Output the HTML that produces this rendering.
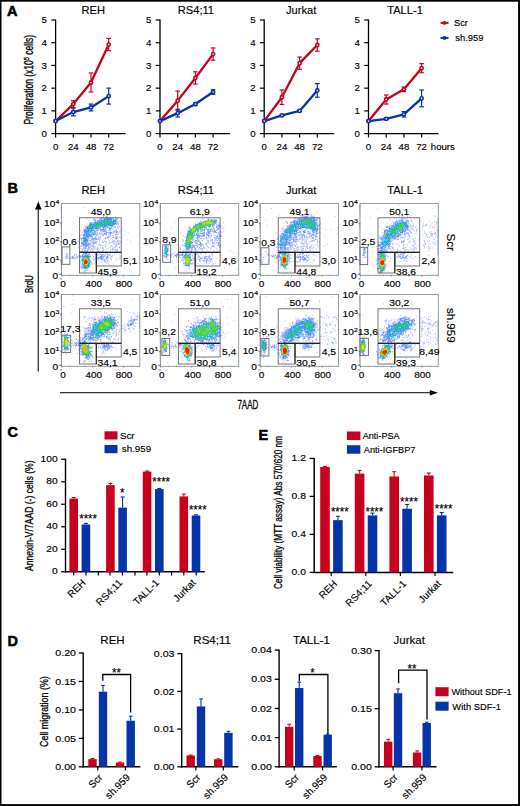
<!DOCTYPE html>
<html><head><meta charset="utf-8"><style>
html,body{margin:0;padding:0;background:#fff;}
body{width:520px;height:806px;overflow:hidden;}
svg{display:block;font-family:"Liberation Sans",sans-serif;}
text{stroke:#000;stroke-width:0.15px;}
</style></head><body>
<svg width="520" height="806" viewBox="0 0 520 806">
<rect x="0" y="0" width="520" height="806" fill="#fff"/>
<text transform="translate(7.00,15.70)" font-size="14.5" font-weight="bold" style="stroke-width:0.55px">A</text>
<text transform="translate(93.30,14.30) scale(0.960,1)" font-size="11.6" text-anchor="middle">REH</text>
<line x1="55.60" y1="19.60" x2="55.60" y2="134.20" stroke="#000" stroke-width="1.3"/>
<line x1="55.00" y1="133.60" x2="125.60" y2="133.60" stroke="#000" stroke-width="1.3"/>
<line x1="51.30" y1="133.60" x2="55.60" y2="133.60" stroke="#000" stroke-width="1.2"/>
<text transform="translate(47.00,136.90) scale(1.050,1)" font-size="9.2" text-anchor="end">0</text>
<line x1="51.30" y1="110.88" x2="55.60" y2="110.88" stroke="#000" stroke-width="1.2"/>
<text transform="translate(47.00,114.18) scale(1.050,1)" font-size="9.2" text-anchor="end">1</text>
<line x1="51.30" y1="88.16" x2="55.60" y2="88.16" stroke="#000" stroke-width="1.2"/>
<text transform="translate(47.00,91.46) scale(1.050,1)" font-size="9.2" text-anchor="end">2</text>
<line x1="51.30" y1="65.44" x2="55.60" y2="65.44" stroke="#000" stroke-width="1.2"/>
<text transform="translate(47.00,68.74) scale(1.050,1)" font-size="9.2" text-anchor="end">3</text>
<line x1="51.30" y1="42.72" x2="55.60" y2="42.72" stroke="#000" stroke-width="1.2"/>
<text transform="translate(47.00,46.02) scale(1.050,1)" font-size="9.2" text-anchor="end">4</text>
<line x1="51.30" y1="20.00" x2="55.60" y2="20.00" stroke="#000" stroke-width="1.2"/>
<text transform="translate(47.00,23.30) scale(1.050,1)" font-size="9.2" text-anchor="end">5</text>
<line x1="55.60" y1="133.60" x2="55.60" y2="137.40" stroke="#000" stroke-width="1.2"/>
<text transform="translate(55.60,150.20) scale(1.050,1)" font-size="9.2" text-anchor="middle">0</text>
<line x1="73.30" y1="133.60" x2="73.30" y2="137.40" stroke="#000" stroke-width="1.2"/>
<text transform="translate(73.30,150.20) scale(1.050,1)" font-size="9.2" text-anchor="middle">24</text>
<line x1="91.00" y1="133.60" x2="91.00" y2="137.40" stroke="#000" stroke-width="1.2"/>
<text transform="translate(91.00,150.20) scale(1.050,1)" font-size="9.2" text-anchor="middle">48</text>
<line x1="108.70" y1="133.60" x2="108.70" y2="137.40" stroke="#000" stroke-width="1.2"/>
<text transform="translate(108.70,150.20) scale(1.050,1)" font-size="9.2" text-anchor="middle">72</text>
<polyline points="55.60,121.10 73.30,104.06 91.00,82.48 108.70,44.54" fill="none" stroke="#c8001e" stroke-width="2.3" stroke-linejoin="round"/>
<circle cx="55.60" cy="121.10" r="1.6" fill="#fff" stroke="#c8001e" stroke-width="1.6"/>
<line x1="73.30" y1="100.66" x2="73.30" y2="107.47" stroke="#c8001e" stroke-width="1.2"/>
<line x1="71.00" y1="100.66" x2="75.60" y2="100.66" stroke="#c8001e" stroke-width="1.2"/>
<line x1="71.00" y1="107.47" x2="75.60" y2="107.47" stroke="#c8001e" stroke-width="1.2"/>
<circle cx="73.30" cy="104.06" r="1.6" fill="#fff" stroke="#c8001e" stroke-width="1.6"/>
<line x1="91.00" y1="72.94" x2="91.00" y2="92.02" stroke="#c8001e" stroke-width="1.2"/>
<line x1="88.70" y1="72.94" x2="93.30" y2="72.94" stroke="#c8001e" stroke-width="1.2"/>
<line x1="88.70" y1="92.02" x2="93.30" y2="92.02" stroke="#c8001e" stroke-width="1.2"/>
<circle cx="91.00" cy="82.48" r="1.6" fill="#fff" stroke="#c8001e" stroke-width="1.6"/>
<line x1="108.70" y1="38.40" x2="108.70" y2="50.67" stroke="#c8001e" stroke-width="1.2"/>
<line x1="106.40" y1="38.40" x2="111.00" y2="38.40" stroke="#c8001e" stroke-width="1.2"/>
<line x1="106.40" y1="50.67" x2="111.00" y2="50.67" stroke="#c8001e" stroke-width="1.2"/>
<circle cx="108.70" cy="44.54" r="1.6" fill="#fff" stroke="#c8001e" stroke-width="1.6"/>
<polyline points="55.60,121.10 73.30,112.02 91.00,107.47 108.70,96.11" fill="none" stroke="#0434a8" stroke-width="2.3" stroke-linejoin="round"/>
<circle cx="55.60" cy="121.10" r="1.6" fill="#fff" stroke="#0434a8" stroke-width="1.6"/>
<line x1="73.30" y1="108.15" x2="73.30" y2="115.88" stroke="#0434a8" stroke-width="1.2"/>
<line x1="71.00" y1="108.15" x2="75.60" y2="108.15" stroke="#0434a8" stroke-width="1.2"/>
<line x1="71.00" y1="115.88" x2="75.60" y2="115.88" stroke="#0434a8" stroke-width="1.2"/>
<circle cx="73.30" cy="112.02" r="1.6" fill="#fff" stroke="#0434a8" stroke-width="1.6"/>
<line x1="91.00" y1="104.06" x2="91.00" y2="110.88" stroke="#0434a8" stroke-width="1.2"/>
<line x1="88.70" y1="104.06" x2="93.30" y2="104.06" stroke="#0434a8" stroke-width="1.2"/>
<line x1="88.70" y1="110.88" x2="93.30" y2="110.88" stroke="#0434a8" stroke-width="1.2"/>
<circle cx="91.00" cy="107.47" r="1.6" fill="#fff" stroke="#0434a8" stroke-width="1.6"/>
<line x1="108.70" y1="88.16" x2="108.70" y2="104.06" stroke="#0434a8" stroke-width="1.2"/>
<line x1="106.40" y1="88.16" x2="111.00" y2="88.16" stroke="#0434a8" stroke-width="1.2"/>
<line x1="106.40" y1="104.06" x2="111.00" y2="104.06" stroke="#0434a8" stroke-width="1.2"/>
<circle cx="108.70" cy="96.11" r="1.6" fill="#fff" stroke="#0434a8" stroke-width="1.6"/>
<text transform="translate(195.90,14.30) scale(0.960,1)" font-size="11.6" text-anchor="middle">RS4;11</text>
<line x1="160.00" y1="19.60" x2="160.00" y2="134.20" stroke="#000" stroke-width="1.3"/>
<line x1="159.40" y1="133.60" x2="230.00" y2="133.60" stroke="#000" stroke-width="1.3"/>
<line x1="155.70" y1="133.60" x2="160.00" y2="133.60" stroke="#000" stroke-width="1.2"/>
<text transform="translate(151.40,136.90) scale(1.050,1)" font-size="9.2" text-anchor="end">0</text>
<line x1="155.70" y1="110.88" x2="160.00" y2="110.88" stroke="#000" stroke-width="1.2"/>
<text transform="translate(151.40,114.18) scale(1.050,1)" font-size="9.2" text-anchor="end">1</text>
<line x1="155.70" y1="88.16" x2="160.00" y2="88.16" stroke="#000" stroke-width="1.2"/>
<text transform="translate(151.40,91.46) scale(1.050,1)" font-size="9.2" text-anchor="end">2</text>
<line x1="155.70" y1="65.44" x2="160.00" y2="65.44" stroke="#000" stroke-width="1.2"/>
<text transform="translate(151.40,68.74) scale(1.050,1)" font-size="9.2" text-anchor="end">3</text>
<line x1="155.70" y1="42.72" x2="160.00" y2="42.72" stroke="#000" stroke-width="1.2"/>
<text transform="translate(151.40,46.02) scale(1.050,1)" font-size="9.2" text-anchor="end">4</text>
<line x1="155.70" y1="20.00" x2="160.00" y2="20.00" stroke="#000" stroke-width="1.2"/>
<text transform="translate(151.40,23.30) scale(1.050,1)" font-size="9.2" text-anchor="end">5</text>
<line x1="160.00" y1="133.60" x2="160.00" y2="137.40" stroke="#000" stroke-width="1.2"/>
<text transform="translate(160.00,150.20) scale(1.050,1)" font-size="9.2" text-anchor="middle">0</text>
<line x1="177.70" y1="133.60" x2="177.70" y2="137.40" stroke="#000" stroke-width="1.2"/>
<text transform="translate(177.70,150.20) scale(1.050,1)" font-size="9.2" text-anchor="middle">24</text>
<line x1="195.40" y1="133.60" x2="195.40" y2="137.40" stroke="#000" stroke-width="1.2"/>
<text transform="translate(195.40,150.20) scale(1.050,1)" font-size="9.2" text-anchor="middle">48</text>
<line x1="213.10" y1="133.60" x2="213.10" y2="137.40" stroke="#000" stroke-width="1.2"/>
<text transform="translate(213.10,150.20) scale(1.050,1)" font-size="9.2" text-anchor="middle">72</text>
<polyline points="160.00,121.10 177.70,100.66 195.40,77.94 213.10,54.08" fill="none" stroke="#c8001e" stroke-width="2.3" stroke-linejoin="round"/>
<circle cx="160.00" cy="121.10" r="1.6" fill="#fff" stroke="#c8001e" stroke-width="1.6"/>
<line x1="177.70" y1="91.11" x2="177.70" y2="110.20" stroke="#c8001e" stroke-width="1.2"/>
<line x1="175.40" y1="91.11" x2="180.00" y2="91.11" stroke="#c8001e" stroke-width="1.2"/>
<line x1="175.40" y1="110.20" x2="180.00" y2="110.20" stroke="#c8001e" stroke-width="1.2"/>
<circle cx="177.70" cy="100.66" r="1.6" fill="#fff" stroke="#c8001e" stroke-width="1.6"/>
<line x1="195.40" y1="71.80" x2="195.40" y2="84.07" stroke="#c8001e" stroke-width="1.2"/>
<line x1="193.10" y1="71.80" x2="197.70" y2="71.80" stroke="#c8001e" stroke-width="1.2"/>
<line x1="193.10" y1="84.07" x2="197.70" y2="84.07" stroke="#c8001e" stroke-width="1.2"/>
<circle cx="195.40" cy="77.94" r="1.6" fill="#fff" stroke="#c8001e" stroke-width="1.6"/>
<line x1="213.10" y1="47.95" x2="213.10" y2="60.21" stroke="#c8001e" stroke-width="1.2"/>
<line x1="210.80" y1="47.95" x2="215.40" y2="47.95" stroke="#c8001e" stroke-width="1.2"/>
<line x1="210.80" y1="60.21" x2="215.40" y2="60.21" stroke="#c8001e" stroke-width="1.2"/>
<circle cx="213.10" cy="54.08" r="1.6" fill="#fff" stroke="#c8001e" stroke-width="1.6"/>
<polyline points="160.00,121.10 177.70,113.15 195.40,104.06 213.10,92.02" fill="none" stroke="#0434a8" stroke-width="2.3" stroke-linejoin="round"/>
<circle cx="160.00" cy="121.10" r="1.6" fill="#fff" stroke="#0434a8" stroke-width="1.6"/>
<line x1="177.70" y1="109.29" x2="177.70" y2="117.01" stroke="#0434a8" stroke-width="1.2"/>
<line x1="175.40" y1="109.29" x2="180.00" y2="109.29" stroke="#0434a8" stroke-width="1.2"/>
<line x1="175.40" y1="117.01" x2="180.00" y2="117.01" stroke="#0434a8" stroke-width="1.2"/>
<circle cx="177.70" cy="113.15" r="1.6" fill="#fff" stroke="#0434a8" stroke-width="1.6"/>
<line x1="195.40" y1="102.47" x2="195.40" y2="105.65" stroke="#0434a8" stroke-width="1.2"/>
<line x1="193.10" y1="102.47" x2="197.70" y2="102.47" stroke="#0434a8" stroke-width="1.2"/>
<line x1="193.10" y1="105.65" x2="197.70" y2="105.65" stroke="#0434a8" stroke-width="1.2"/>
<circle cx="195.40" cy="104.06" r="1.6" fill="#fff" stroke="#0434a8" stroke-width="1.6"/>
<line x1="213.10" y1="89.75" x2="213.10" y2="94.29" stroke="#0434a8" stroke-width="1.2"/>
<line x1="210.80" y1="89.75" x2="215.40" y2="89.75" stroke="#0434a8" stroke-width="1.2"/>
<line x1="210.80" y1="94.29" x2="215.40" y2="94.29" stroke="#0434a8" stroke-width="1.2"/>
<circle cx="213.10" cy="92.02" r="1.6" fill="#fff" stroke="#0434a8" stroke-width="1.6"/>
<text transform="translate(301.20,14.30) scale(0.960,1)" font-size="11.6" text-anchor="middle">Jurkat</text>
<line x1="264.20" y1="19.60" x2="264.20" y2="134.20" stroke="#000" stroke-width="1.3"/>
<line x1="263.60" y1="133.60" x2="334.20" y2="133.60" stroke="#000" stroke-width="1.3"/>
<line x1="259.90" y1="133.60" x2="264.20" y2="133.60" stroke="#000" stroke-width="1.2"/>
<text transform="translate(255.60,136.90) scale(1.050,1)" font-size="9.2" text-anchor="end">0</text>
<line x1="259.90" y1="110.88" x2="264.20" y2="110.88" stroke="#000" stroke-width="1.2"/>
<text transform="translate(255.60,114.18) scale(1.050,1)" font-size="9.2" text-anchor="end">1</text>
<line x1="259.90" y1="88.16" x2="264.20" y2="88.16" stroke="#000" stroke-width="1.2"/>
<text transform="translate(255.60,91.46) scale(1.050,1)" font-size="9.2" text-anchor="end">2</text>
<line x1="259.90" y1="65.44" x2="264.20" y2="65.44" stroke="#000" stroke-width="1.2"/>
<text transform="translate(255.60,68.74) scale(1.050,1)" font-size="9.2" text-anchor="end">3</text>
<line x1="259.90" y1="42.72" x2="264.20" y2="42.72" stroke="#000" stroke-width="1.2"/>
<text transform="translate(255.60,46.02) scale(1.050,1)" font-size="9.2" text-anchor="end">4</text>
<line x1="259.90" y1="20.00" x2="264.20" y2="20.00" stroke="#000" stroke-width="1.2"/>
<text transform="translate(255.60,23.30) scale(1.050,1)" font-size="9.2" text-anchor="end">5</text>
<line x1="264.20" y1="133.60" x2="264.20" y2="137.40" stroke="#000" stroke-width="1.2"/>
<text transform="translate(264.20,150.20) scale(1.050,1)" font-size="9.2" text-anchor="middle">0</text>
<line x1="281.90" y1="133.60" x2="281.90" y2="137.40" stroke="#000" stroke-width="1.2"/>
<text transform="translate(281.90,150.20) scale(1.050,1)" font-size="9.2" text-anchor="middle">24</text>
<line x1="299.60" y1="133.60" x2="299.60" y2="137.40" stroke="#000" stroke-width="1.2"/>
<text transform="translate(299.60,150.20) scale(1.050,1)" font-size="9.2" text-anchor="middle">48</text>
<line x1="317.30" y1="133.60" x2="317.30" y2="137.40" stroke="#000" stroke-width="1.2"/>
<text transform="translate(317.30,150.20) scale(1.050,1)" font-size="9.2" text-anchor="middle">72</text>
<polyline points="264.20,121.10 281.90,97.25 299.60,63.17 317.30,44.99" fill="none" stroke="#c8001e" stroke-width="2.3" stroke-linejoin="round"/>
<circle cx="264.20" cy="121.10" r="1.6" fill="#fff" stroke="#c8001e" stroke-width="1.6"/>
<line x1="281.90" y1="89.98" x2="281.90" y2="104.52" stroke="#c8001e" stroke-width="1.2"/>
<line x1="279.60" y1="89.98" x2="284.20" y2="89.98" stroke="#c8001e" stroke-width="1.2"/>
<line x1="279.60" y1="104.52" x2="284.20" y2="104.52" stroke="#c8001e" stroke-width="1.2"/>
<circle cx="281.90" cy="97.25" r="1.6" fill="#fff" stroke="#c8001e" stroke-width="1.6"/>
<line x1="299.60" y1="57.03" x2="299.60" y2="69.30" stroke="#c8001e" stroke-width="1.2"/>
<line x1="297.30" y1="57.03" x2="301.90" y2="57.03" stroke="#c8001e" stroke-width="1.2"/>
<line x1="297.30" y1="69.30" x2="301.90" y2="69.30" stroke="#c8001e" stroke-width="1.2"/>
<circle cx="299.60" cy="63.17" r="1.6" fill="#fff" stroke="#c8001e" stroke-width="1.6"/>
<line x1="317.30" y1="38.86" x2="317.30" y2="51.13" stroke="#c8001e" stroke-width="1.2"/>
<line x1="315.00" y1="38.86" x2="319.60" y2="38.86" stroke="#c8001e" stroke-width="1.2"/>
<line x1="315.00" y1="51.13" x2="319.60" y2="51.13" stroke="#c8001e" stroke-width="1.2"/>
<circle cx="317.30" cy="44.99" r="1.6" fill="#fff" stroke="#c8001e" stroke-width="1.6"/>
<polyline points="264.20,121.10 281.90,115.42 299.60,110.88 317.30,90.43" fill="none" stroke="#0434a8" stroke-width="2.3" stroke-linejoin="round"/>
<circle cx="264.20" cy="121.10" r="1.6" fill="#fff" stroke="#0434a8" stroke-width="1.6"/>
<line x1="281.90" y1="114.52" x2="281.90" y2="116.33" stroke="#0434a8" stroke-width="1.2"/>
<line x1="279.60" y1="114.52" x2="284.20" y2="114.52" stroke="#0434a8" stroke-width="1.2"/>
<line x1="279.60" y1="116.33" x2="284.20" y2="116.33" stroke="#0434a8" stroke-width="1.2"/>
<circle cx="281.90" cy="115.42" r="1.6" fill="#fff" stroke="#0434a8" stroke-width="1.6"/>
<line x1="299.60" y1="109.97" x2="299.60" y2="111.79" stroke="#0434a8" stroke-width="1.2"/>
<line x1="297.30" y1="109.97" x2="301.90" y2="109.97" stroke="#0434a8" stroke-width="1.2"/>
<line x1="297.30" y1="111.79" x2="301.90" y2="111.79" stroke="#0434a8" stroke-width="1.2"/>
<circle cx="299.60" cy="110.88" r="1.6" fill="#fff" stroke="#0434a8" stroke-width="1.6"/>
<line x1="317.30" y1="83.62" x2="317.30" y2="97.25" stroke="#0434a8" stroke-width="1.2"/>
<line x1="315.00" y1="83.62" x2="319.60" y2="83.62" stroke="#0434a8" stroke-width="1.2"/>
<line x1="315.00" y1="97.25" x2="319.60" y2="97.25" stroke="#0434a8" stroke-width="1.2"/>
<circle cx="317.30" cy="90.43" r="1.6" fill="#fff" stroke="#0434a8" stroke-width="1.6"/>
<text transform="translate(405.00,14.30) scale(0.960,1)" font-size="11.6" text-anchor="middle">TALL-1</text>
<line x1="368.50" y1="19.60" x2="368.50" y2="134.20" stroke="#000" stroke-width="1.3"/>
<line x1="367.90" y1="133.60" x2="438.50" y2="133.60" stroke="#000" stroke-width="1.3"/>
<line x1="364.20" y1="133.60" x2="368.50" y2="133.60" stroke="#000" stroke-width="1.2"/>
<text transform="translate(359.90,136.90) scale(1.050,1)" font-size="9.2" text-anchor="end">0</text>
<line x1="364.20" y1="110.88" x2="368.50" y2="110.88" stroke="#000" stroke-width="1.2"/>
<text transform="translate(359.90,114.18) scale(1.050,1)" font-size="9.2" text-anchor="end">1</text>
<line x1="364.20" y1="88.16" x2="368.50" y2="88.16" stroke="#000" stroke-width="1.2"/>
<text transform="translate(359.90,91.46) scale(1.050,1)" font-size="9.2" text-anchor="end">2</text>
<line x1="364.20" y1="65.44" x2="368.50" y2="65.44" stroke="#000" stroke-width="1.2"/>
<text transform="translate(359.90,68.74) scale(1.050,1)" font-size="9.2" text-anchor="end">3</text>
<line x1="364.20" y1="42.72" x2="368.50" y2="42.72" stroke="#000" stroke-width="1.2"/>
<text transform="translate(359.90,46.02) scale(1.050,1)" font-size="9.2" text-anchor="end">4</text>
<line x1="364.20" y1="20.00" x2="368.50" y2="20.00" stroke="#000" stroke-width="1.2"/>
<text transform="translate(359.90,23.30) scale(1.050,1)" font-size="9.2" text-anchor="end">5</text>
<line x1="368.50" y1="133.60" x2="368.50" y2="137.40" stroke="#000" stroke-width="1.2"/>
<text transform="translate(368.50,150.20) scale(1.050,1)" font-size="9.2" text-anchor="middle">0</text>
<line x1="386.20" y1="133.60" x2="386.20" y2="137.40" stroke="#000" stroke-width="1.2"/>
<text transform="translate(386.20,150.20) scale(1.050,1)" font-size="9.2" text-anchor="middle">24</text>
<line x1="403.90" y1="133.60" x2="403.90" y2="137.40" stroke="#000" stroke-width="1.2"/>
<text transform="translate(403.90,150.20) scale(1.050,1)" font-size="9.2" text-anchor="middle">48</text>
<line x1="421.60" y1="133.60" x2="421.60" y2="137.40" stroke="#000" stroke-width="1.2"/>
<text transform="translate(421.60,150.20) scale(1.050,1)" font-size="9.2" text-anchor="middle">72</text>
<polyline points="368.50,121.10 386.20,99.52 403.90,89.30 421.60,68.17" fill="none" stroke="#c8001e" stroke-width="2.3" stroke-linejoin="round"/>
<circle cx="368.50" cy="121.10" r="1.6" fill="#fff" stroke="#c8001e" stroke-width="1.6"/>
<line x1="386.20" y1="94.98" x2="386.20" y2="104.06" stroke="#c8001e" stroke-width="1.2"/>
<line x1="383.90" y1="94.98" x2="388.50" y2="94.98" stroke="#c8001e" stroke-width="1.2"/>
<line x1="383.90" y1="104.06" x2="388.50" y2="104.06" stroke="#c8001e" stroke-width="1.2"/>
<circle cx="386.20" cy="99.52" r="1.6" fill="#fff" stroke="#c8001e" stroke-width="1.6"/>
<line x1="403.90" y1="87.02" x2="403.90" y2="91.57" stroke="#c8001e" stroke-width="1.2"/>
<line x1="401.60" y1="87.02" x2="406.20" y2="87.02" stroke="#c8001e" stroke-width="1.2"/>
<line x1="401.60" y1="91.57" x2="406.20" y2="91.57" stroke="#c8001e" stroke-width="1.2"/>
<circle cx="403.90" cy="89.30" r="1.6" fill="#fff" stroke="#c8001e" stroke-width="1.6"/>
<line x1="421.60" y1="63.62" x2="421.60" y2="72.71" stroke="#c8001e" stroke-width="1.2"/>
<line x1="419.30" y1="63.62" x2="423.90" y2="63.62" stroke="#c8001e" stroke-width="1.2"/>
<line x1="419.30" y1="72.71" x2="423.90" y2="72.71" stroke="#c8001e" stroke-width="1.2"/>
<circle cx="421.60" cy="68.17" r="1.6" fill="#fff" stroke="#c8001e" stroke-width="1.6"/>
<polyline points="368.50,121.10 386.20,118.83 403.90,114.29 421.60,98.38" fill="none" stroke="#0434a8" stroke-width="2.3" stroke-linejoin="round"/>
<circle cx="368.50" cy="121.10" r="1.6" fill="#fff" stroke="#0434a8" stroke-width="1.6"/>
<line x1="386.20" y1="117.92" x2="386.20" y2="119.74" stroke="#0434a8" stroke-width="1.2"/>
<line x1="383.90" y1="117.92" x2="388.50" y2="117.92" stroke="#0434a8" stroke-width="1.2"/>
<line x1="383.90" y1="119.74" x2="388.50" y2="119.74" stroke="#0434a8" stroke-width="1.2"/>
<circle cx="386.20" cy="118.83" r="1.6" fill="#fff" stroke="#0434a8" stroke-width="1.6"/>
<line x1="403.90" y1="111.56" x2="403.90" y2="117.01" stroke="#0434a8" stroke-width="1.2"/>
<line x1="401.60" y1="111.56" x2="406.20" y2="111.56" stroke="#0434a8" stroke-width="1.2"/>
<line x1="401.60" y1="117.01" x2="406.20" y2="117.01" stroke="#0434a8" stroke-width="1.2"/>
<circle cx="403.90" cy="114.29" r="1.6" fill="#fff" stroke="#0434a8" stroke-width="1.6"/>
<line x1="421.60" y1="89.98" x2="421.60" y2="106.79" stroke="#0434a8" stroke-width="1.2"/>
<line x1="419.30" y1="89.98" x2="423.90" y2="89.98" stroke="#0434a8" stroke-width="1.2"/>
<line x1="419.30" y1="106.79" x2="423.90" y2="106.79" stroke="#0434a8" stroke-width="1.2"/>
<circle cx="421.60" cy="98.38" r="1.6" fill="#fff" stroke="#0434a8" stroke-width="1.6"/>
<text transform="translate(430.80,150.20) scale(1.020,1)" font-size="9.4">hours</text>
<line x1="440.50" y1="22.90" x2="448.50" y2="22.90" stroke="#c8001e" stroke-width="2.0"/>
<circle cx="444.5" cy="22.9" r="1.9" fill="#c8001e"/>
<text transform="translate(454.00,26.20)" font-size="9.2">Scr</text>
<line x1="440.50" y1="37.90" x2="448.50" y2="37.90" stroke="#0434a8" stroke-width="2.0"/>
<circle cx="444.5" cy="37.9" r="1.9" fill="#0434a8"/>
<text transform="translate(455.30,41.20)" font-size="9.4">sh.959</text>
<text style="stroke-width:0.3px" transform="translate(32.9,124.4) rotate(-90)" font-size="12" textLength="89.5" lengthAdjust="spacingAndGlyphs">Proliferation (x10<tspan dy="-4.2" font-size="8">5</tspan><tspan dy="4.2"> cells)</tspan></text>
<text transform="translate(7.60,192.50)" font-size="14.5" font-weight="bold" style="stroke-width:0.55px">B</text>
<text transform="translate(93.30,194.40) scale(0.960,1)" font-size="11.6" text-anchor="middle">REH</text>
<text transform="translate(195.90,194.40) scale(0.960,1)" font-size="11.6" text-anchor="middle">RS4;11</text>
<text transform="translate(301.20,194.40) scale(0.960,1)" font-size="11.6" text-anchor="middle">Jurkat</text>
<text transform="translate(405.00,194.40) scale(0.960,1)" font-size="11.6" text-anchor="middle">TALL-1</text>
<text transform="translate(55.30,207.20) scale(1.22,1)" font-size="8.3" text-anchor="end">10</text>
<text transform="translate(55.50,204.20) scale(1.2,1)" font-size="5.8">4</text>
<text transform="translate(55.30,225.80) scale(1.22,1)" font-size="8.3" text-anchor="end">10</text>
<text transform="translate(55.50,222.80) scale(1.2,1)" font-size="5.8">3</text>
<text transform="translate(55.30,244.40) scale(1.22,1)" font-size="8.3" text-anchor="end">10</text>
<text transform="translate(55.50,241.40) scale(1.2,1)" font-size="5.8">2</text>
<text transform="translate(55.30,263.00) scale(1.22,1)" font-size="8.3" text-anchor="end">10</text>
<text transform="translate(55.50,260.00) scale(1.2,1)" font-size="5.8">1</text>
<text transform="translate(58.10,278.70) scale(1.080,1)" font-size="9.4" text-anchor="end">0</text>
<text transform="translate(62.90,286.50) scale(1.200,1)" font-size="8.3" text-anchor="middle">0</text>
<text transform="translate(93.80,286.50) scale(1.200,1)" font-size="8.3" text-anchor="middle">400</text>
<text transform="translate(124.10,286.50) scale(1.200,1)" font-size="8.3" text-anchor="middle">800</text>
<text transform="translate(154.20,207.20) scale(1.22,1)" font-size="8.3" text-anchor="end">10</text>
<text transform="translate(154.40,204.20) scale(1.2,1)" font-size="5.8">4</text>
<text transform="translate(154.20,225.80) scale(1.22,1)" font-size="8.3" text-anchor="end">10</text>
<text transform="translate(154.40,222.80) scale(1.2,1)" font-size="5.8">3</text>
<text transform="translate(154.20,244.40) scale(1.22,1)" font-size="8.3" text-anchor="end">10</text>
<text transform="translate(154.40,241.40) scale(1.2,1)" font-size="5.8">2</text>
<text transform="translate(154.20,263.00) scale(1.22,1)" font-size="8.3" text-anchor="end">10</text>
<text transform="translate(154.40,260.00) scale(1.2,1)" font-size="5.8">1</text>
<text transform="translate(157.00,278.70) scale(1.080,1)" font-size="9.4" text-anchor="end">0</text>
<text transform="translate(161.80,286.50) scale(1.200,1)" font-size="8.3" text-anchor="middle">0</text>
<text transform="translate(192.70,286.50) scale(1.200,1)" font-size="8.3" text-anchor="middle">400</text>
<text transform="translate(223.00,286.50) scale(1.200,1)" font-size="8.3" text-anchor="middle">800</text>
<text transform="translate(254.00,207.20) scale(1.22,1)" font-size="8.3" text-anchor="end">10</text>
<text transform="translate(254.20,204.20) scale(1.2,1)" font-size="5.8">4</text>
<text transform="translate(254.00,225.80) scale(1.22,1)" font-size="8.3" text-anchor="end">10</text>
<text transform="translate(254.20,222.80) scale(1.2,1)" font-size="5.8">3</text>
<text transform="translate(254.00,244.40) scale(1.22,1)" font-size="8.3" text-anchor="end">10</text>
<text transform="translate(254.20,241.40) scale(1.2,1)" font-size="5.8">2</text>
<text transform="translate(254.00,263.00) scale(1.22,1)" font-size="8.3" text-anchor="end">10</text>
<text transform="translate(254.20,260.00) scale(1.2,1)" font-size="5.8">1</text>
<text transform="translate(256.80,278.70) scale(1.080,1)" font-size="9.4" text-anchor="end">0</text>
<text transform="translate(261.60,286.50) scale(1.200,1)" font-size="8.3" text-anchor="middle">0</text>
<text transform="translate(292.50,286.50) scale(1.200,1)" font-size="8.3" text-anchor="middle">400</text>
<text transform="translate(322.80,286.50) scale(1.200,1)" font-size="8.3" text-anchor="middle">800</text>
<text transform="translate(353.80,207.20) scale(1.22,1)" font-size="8.3" text-anchor="end">10</text>
<text transform="translate(354.00,204.20) scale(1.2,1)" font-size="5.8">4</text>
<text transform="translate(353.80,225.80) scale(1.22,1)" font-size="8.3" text-anchor="end">10</text>
<text transform="translate(354.00,222.80) scale(1.2,1)" font-size="5.8">3</text>
<text transform="translate(353.80,244.40) scale(1.22,1)" font-size="8.3" text-anchor="end">10</text>
<text transform="translate(354.00,241.40) scale(1.2,1)" font-size="5.8">2</text>
<text transform="translate(353.80,263.00) scale(1.22,1)" font-size="8.3" text-anchor="end">10</text>
<text transform="translate(354.00,260.00) scale(1.2,1)" font-size="5.8">1</text>
<text transform="translate(356.60,278.70) scale(1.080,1)" font-size="9.4" text-anchor="end">0</text>
<text transform="translate(361.40,286.50) scale(1.200,1)" font-size="8.3" text-anchor="middle">0</text>
<text transform="translate(392.30,286.50) scale(1.200,1)" font-size="8.3" text-anchor="middle">400</text>
<text transform="translate(422.60,286.50) scale(1.200,1)" font-size="8.3" text-anchor="middle">800</text>
<text transform="translate(55.30,298.20) scale(1.22,1)" font-size="8.3" text-anchor="end">10</text>
<text transform="translate(55.50,295.20) scale(1.2,1)" font-size="5.8">4</text>
<text transform="translate(55.30,316.80) scale(1.22,1)" font-size="8.3" text-anchor="end">10</text>
<text transform="translate(55.50,313.80) scale(1.2,1)" font-size="5.8">3</text>
<text transform="translate(55.30,335.40) scale(1.22,1)" font-size="8.3" text-anchor="end">10</text>
<text transform="translate(55.50,332.40) scale(1.2,1)" font-size="5.8">2</text>
<text transform="translate(55.30,354.00) scale(1.22,1)" font-size="8.3" text-anchor="end">10</text>
<text transform="translate(55.50,351.00) scale(1.2,1)" font-size="5.8">1</text>
<text transform="translate(58.10,369.70) scale(1.080,1)" font-size="9.4" text-anchor="end">0</text>
<text transform="translate(62.90,377.50) scale(1.200,1)" font-size="8.3" text-anchor="middle">0</text>
<text transform="translate(93.80,377.50) scale(1.200,1)" font-size="8.3" text-anchor="middle">400</text>
<text transform="translate(124.10,377.50) scale(1.200,1)" font-size="8.3" text-anchor="middle">800</text>
<text transform="translate(154.20,298.20) scale(1.22,1)" font-size="8.3" text-anchor="end">10</text>
<text transform="translate(154.40,295.20) scale(1.2,1)" font-size="5.8">4</text>
<text transform="translate(154.20,316.80) scale(1.22,1)" font-size="8.3" text-anchor="end">10</text>
<text transform="translate(154.40,313.80) scale(1.2,1)" font-size="5.8">3</text>
<text transform="translate(154.20,335.40) scale(1.22,1)" font-size="8.3" text-anchor="end">10</text>
<text transform="translate(154.40,332.40) scale(1.2,1)" font-size="5.8">2</text>
<text transform="translate(154.20,354.00) scale(1.22,1)" font-size="8.3" text-anchor="end">10</text>
<text transform="translate(154.40,351.00) scale(1.2,1)" font-size="5.8">1</text>
<text transform="translate(157.00,369.70) scale(1.080,1)" font-size="9.4" text-anchor="end">0</text>
<text transform="translate(161.80,377.50) scale(1.200,1)" font-size="8.3" text-anchor="middle">0</text>
<text transform="translate(192.70,377.50) scale(1.200,1)" font-size="8.3" text-anchor="middle">400</text>
<text transform="translate(223.00,377.50) scale(1.200,1)" font-size="8.3" text-anchor="middle">800</text>
<text transform="translate(254.00,298.20) scale(1.22,1)" font-size="8.3" text-anchor="end">10</text>
<text transform="translate(254.20,295.20) scale(1.2,1)" font-size="5.8">4</text>
<text transform="translate(254.00,316.80) scale(1.22,1)" font-size="8.3" text-anchor="end">10</text>
<text transform="translate(254.20,313.80) scale(1.2,1)" font-size="5.8">3</text>
<text transform="translate(254.00,335.40) scale(1.22,1)" font-size="8.3" text-anchor="end">10</text>
<text transform="translate(254.20,332.40) scale(1.2,1)" font-size="5.8">2</text>
<text transform="translate(254.00,354.00) scale(1.22,1)" font-size="8.3" text-anchor="end">10</text>
<text transform="translate(254.20,351.00) scale(1.2,1)" font-size="5.8">1</text>
<text transform="translate(256.80,369.70) scale(1.080,1)" font-size="9.4" text-anchor="end">0</text>
<text transform="translate(261.60,377.50) scale(1.200,1)" font-size="8.3" text-anchor="middle">0</text>
<text transform="translate(292.50,377.50) scale(1.200,1)" font-size="8.3" text-anchor="middle">400</text>
<text transform="translate(322.80,377.50) scale(1.200,1)" font-size="8.3" text-anchor="middle">800</text>
<text transform="translate(353.80,298.20) scale(1.22,1)" font-size="8.3" text-anchor="end">10</text>
<text transform="translate(354.00,295.20) scale(1.2,1)" font-size="5.8">4</text>
<text transform="translate(353.80,316.80) scale(1.22,1)" font-size="8.3" text-anchor="end">10</text>
<text transform="translate(354.00,313.80) scale(1.2,1)" font-size="5.8">3</text>
<text transform="translate(353.80,335.40) scale(1.22,1)" font-size="8.3" text-anchor="end">10</text>
<text transform="translate(354.00,332.40) scale(1.2,1)" font-size="5.8">2</text>
<text transform="translate(353.80,354.00) scale(1.22,1)" font-size="8.3" text-anchor="end">10</text>
<text transform="translate(354.00,351.00) scale(1.2,1)" font-size="5.8">1</text>
<text transform="translate(356.60,369.70) scale(1.080,1)" font-size="9.4" text-anchor="end">0</text>
<text transform="translate(361.40,377.50) scale(1.200,1)" font-size="8.3" text-anchor="middle">0</text>
<text transform="translate(392.30,377.50) scale(1.200,1)" font-size="8.3" text-anchor="middle">400</text>
<text transform="translate(422.60,377.50) scale(1.200,1)" font-size="8.3" text-anchor="middle">800</text>
<line x1="38.30" y1="208.00" x2="38.30" y2="371.60" stroke="#333" stroke-width="1.3"/>
<path d="M38.3 201.4 L35.0 209.5 L41.6 209.5 Z" stroke="none" stroke-width="1" fill="#000"/>
<line x1="60.00" y1="392.60" x2="431.00" y2="392.60" stroke="#333" stroke-width="1.4"/>
<path d="M437.9 392.7 L429.8 389.9 L429.8 395.5 Z" stroke="none" stroke-width="1" fill="#000"/>
<text style="stroke-width:0.3px" transform="translate(33.1,292.9) rotate(-90) scale(0.71,1)" font-size="11">BrdU</text>
<text style="stroke-width:0.3px" transform="translate(237.4,408.8) scale(0.665,1)" font-size="12">7AAD</text>
<text transform="translate(447.4,233.5) rotate(90)" font-size="11.5">Scr</text>
<text transform="translate(447.4,308.0) rotate(90)" font-size="11.5">sh.959</text>
<path d="M89.7 271.0h.9M91.9 258.1h.9M83.3 272.0h.9M87.8 270.4h.9M81.7 272.1h.9M85.4 272.5h.9M79.6 250.6h.9M78.8 244.7h.9M88.2 220.4h.9M78.4 240.8h.9M79.9 246.8h.9M80.5 234.5h.9M80.0 236.0h.9M115.1 216.7h.9M118.8 220.4h.9M84.8 225.6h.9M78.9 241.7h.9M82.9 228.4h.9M80.1 248.7h.9M81.4 232.3h.9M78.9 236.8h.9M87.4 224.1h.9M78.1 247.4h.9M121.0 237.1h.9M123.9 230.8h.9M120.2 231.9h.9M119.3 227.0h.9M121.1 233.3h.9M110.7 238.4h.9M122.4 228.1h.9M118.2 238.3h.9M110.6 245.1h.9M104.0 238.3h.9M117.0 226.8h.9M122.0 238.0h.9M129.8 241.2h.9M121.7 230.3h.9M107.8 245.5h.9M127.6 232.6h.9M76.0 226.7h.9M117.2 228.1h.9M119.2 232.8h.9M105.9 250.2h.9M112.1 229.7h.9M110.4 249.2h.9M119.1 246.9h.9M99.2 249.7h.9M110.3 251.0h.9M112.0 246.4h.9M95.4 247.1h.9M101.9 245.6h.9M109.7 247.1h.9M119.1 231.1h.9M108.3 240.1h.9M99.8 247.6h.9M119.3 237.4h.9M109.2 240.8h.9M99.0 242.7h.9M106.0 244.2h.9M106.9 242.0h.9M107.3 263.2h.9M112.9 262.8h.9M92.1 255.9h.9M94.4 254.5h.9M111.9 255.2h.9M109.5 262.3h.9M101.6 262.1h.9M112.1 256.0h.9M97.0 252.3h.9M96.2 260.9h.9M119.1 258.3h.9M115.9 253.1h.9M106.7 263.6h.9M109.9 253.4h.9M114.8 261.0h.9M111.1 260.0h.9M101.0 262.4h.9M94.3 263.1h.9M106.7 248.6h.9M117.2 259.6h.9M119.4 257.0h.9M110.0 258.9h.9M94.5 253.6h.9M95.1 261.9h.9M120.1 257.2h.9M129.3 257.3h.9M107.0 252.7h.9M119.1 254.9h.9M116.7 259.0h.9M115.6 257.7h.9M110.8 260.1h.9M93.2 260.4h.9M113.8 254.2h.9M66.3 248.9h.9M69.2 254.4h.9M64.8 258.9h.9M121.3 223.0h.9M127.2 239.9h.9M70.5 248.9h.9M86.7 218.7h.9M80.4 230.6h.9M97.9 264.3h.9M101.1 210.1h.9M106.5 272.7h.9M71.4 234.6h.9M77.3 241.0h.9M118.8 252.6h.9M107.2 269.1h.9M129.4 269.2h.9M109.0 265.0h.9M121.0 241.1h.9M131.4 243.5h.9M98.6 260.5h.9M119.7 271.8h.9M100.6 210.3h.9M83.6 207.7h.9M123.6 235.2h.9M125.7 261.8h.9M74.1 254.9h.9M76.2 254.3h.9" stroke="#344dee" stroke-width=".9" opacity="0.42"/>
<path d="M90.1 263.9h.9M84.1 271.0h.9M91.6 263.6h.9M81.5 267.4h.9M90.2 255.8h.9M83.3 251.6h.9M89.1 254.5h.9M86.7 270.1h.9M87.6 249.4h.9M79.7 266.7h.9M90.1 260.6h.9M90.8 262.8h.9M80.3 262.7h.9M90.1 260.9h.9M81.0 264.7h.9M89.6 247.5h.9M80.4 257.6h.9M80.3 263.8h.9M80.2 260.7h.9M90.8 262.1h.9M86.2 270.6h.9M87.3 252.5h.9M87.7 251.0h.9M89.8 265.8h.9M81.5 269.1h.9M81.5 268.2h.9M81.6 255.0h.9M79.5 260.5h.9M88.3 253.3h.9M91.8 264.2h.9M84.9 271.0h.9M80.9 259.9h.9M79.7 266.2h.9M84.4 269.0h.9M81.2 268.0h.9M83.8 249.4h.9M118.1 225.0h.9M81.4 239.6h.9M118.2 221.8h.9M85.2 250.4h.9M104.9 228.7h.9M89.5 240.4h.9M113.6 226.4h.9M89.1 222.3h.9M79.6 238.6h.9M95.2 219.7h.9M80.8 251.5h.9M85.5 227.3h.9M118.2 223.3h.9M81.2 246.3h.9M81.5 248.6h.9M87.8 247.9h.9M84.8 250.9h.9M80.8 242.9h.9M106.0 229.3h.9M82.0 249.4h.9M116.6 217.9h.9M105.7 216.6h.9M89.8 241.0h.9M80.8 238.5h.9M81.1 240.7h.9M99.0 219.2h.9M93.4 219.6h.9M84.7 248.8h.9M97.2 220.5h.9M82.4 232.4h.9M102.0 217.9h.9M100.4 218.7h.9M113.1 218.3h.9M117.1 222.0h.9M83.3 230.5h.9M82.1 250.7h.9M115.6 218.0h.9M85.1 250.4h.9M88.3 239.2h.9M107.4 215.2h.9M93.6 219.2h.9M102.7 217.5h.9M81.1 251.7h.9M116.4 219.4h.9M117.0 223.0h.9M83.8 250.2h.9M80.6 239.0h.9M90.4 238.7h.9M82.5 246.7h.9M117.0 219.6h.9M118.1 224.5h.9M107.2 216.0h.9M82.9 247.9h.9M93.6 219.9h.9M116.2 218.3h.9M97.3 220.1h.9M82.5 234.9h.9M106.1 227.6h.9M81.9 250.5h.9M84.4 247.5h.9M81.0 239.6h.9M116.9 222.3h.9M112.8 218.8h.9M80.4 245.7h.9M79.5 237.8h.9M90.6 245.1h.9M96.9 233.1h.9M91.3 246.5h.9M99.0 233.2h.9M114.0 231.7h.9M101.9 234.9h.9M83.0 248.5h.9M93.1 249.5h.9M118.2 226.7h.9M97.7 230.3h.9M88.8 247.1h.9M99.7 236.7h.9M98.8 244.0h.9M102.7 231.6h.9M102.8 235.7h.9M117.8 234.0h.9M89.1 253.3h.9M107.9 236.8h.9M96.0 241.9h.9M94.4 237.3h.9M99.4 232.7h.9M99.7 233.9h.9M93.8 247.7h.9M115.7 236.9h.9M99.1 240.1h.9M95.8 237.8h.9M108.4 230.3h.9M116.5 236.2h.9M86.6 250.9h.9M95.9 234.9h.9M117.5 225.1h.9M108.4 236.5h.9M92.4 246.6h.9M90.6 240.4h.9M116.9 236.4h.9M95.1 234.6h.9M109.9 234.1h.9M114.4 237.8h.9M112.7 235.5h.9M97.4 238.5h.9M115.2 231.3h.9M104.9 239.0h.9M90.8 246.5h.9M116.4 236.8h.9M89.9 246.0h.9M96.1 243.8h.9M94.9 243.6h.9M119.8 242.1h.9M82.1 251.3h.9M112.9 228.0h.9M96.6 239.2h.9M115.0 230.9h.9M101.5 235.0h.9M112.9 232.4h.9M100.9 233.1h.9M108.5 230.3h.9M116.1 234.0h.9M98.4 245.4h.9M89.4 237.3h.9M92.5 244.1h.9M103.5 234.2h.9M117.8 240.4h.9M91.3 248.7h.9M114.4 226.8h.9M93.4 242.1h.9M86.7 248.6h.9M113.9 232.8h.9M96.3 235.5h.9M102.5 235.2h.9M99.7 238.8h.9M111.4 232.8h.9M114.9 227.8h.9M93.0 240.4h.9M96.5 234.8h.9M102.4 234.7h.9M96.2 230.5h.9M97.9 245.3h.9M105.0 237.3h.9M105.8 216.9h.9M90.4 244.6h.9M101.8 231.3h.9M89.7 240.5h.9M114.5 250.0h.9M104.6 244.9h.9M96.7 249.7h.9M113.4 231.7h.9M114.9 235.0h.9M95.2 232.9h.9M116.4 245.2h.9M103.2 234.2h.9M108.4 232.4h.9M110.0 235.5h.9M96.1 231.9h.9M88.1 248.6h.9M113.0 237.7h.9M118.2 241.3h.9M91.4 241.3h.9M89.3 242.9h.9M104.4 241.1h.9M116.5 234.3h.9M90.3 249.9h.9M100.4 246.0h.9M118.6 247.9h.9M92.9 247.8h.9M105.6 242.0h.9M116.2 242.7h.9M97.7 238.9h.9M95.6 243.2h.9M93.0 247.0h.9M87.6 249.4h.9M96.8 241.5h.9M111.3 227.6h.9M97.4 248.8h.9M103.1 249.9h.9M117.2 250.6h.9M111.9 249.9h.9M111.8 237.2h.9M102.4 248.4h.9M112.4 237.0h.9M102.1 250.8h.9M118.9 243.1h.9M109.1 235.9h.9M116.2 230.4h.9M98.3 251.2h.9M94.7 241.9h.9M115.8 244.4h.9M102.4 233.0h.9M99.6 239.6h.9M114.4 241.1h.9M105.0 246.4h.9M105.2 238.6h.9M113.1 241.8h.9M110.9 246.3h.9M94.8 249.0h.9M110.5 242.6h.9M106.1 234.9h.9M116.9 249.1h.9M118.0 243.4h.9M113.7 244.0h.9M114.1 241.2h.9M104.6 234.7h.9M95.4 236.7h.9M109.0 242.9h.9M96.3 235.4h.9M91.7 241.2h.9M115.9 229.7h.9M94.3 236.1h.9M106.6 228.4h.9M115.5 251.4h.9M118.7 243.8h.9M117.0 243.2h.9M94.5 241.0h.9M96.9 233.7h.9M116.0 238.8h.9M103.4 232.0h.9M106.6 232.4h.9M97.4 250.6h.9M96.7 232.9h.9M110.8 229.8h.9M116.7 237.6h.9M94.1 243.9h.9M116.6 250.7h.9M89.0 248.6h.9M90.6 244.1h.9M114.8 250.5h.9M115.6 238.8h.9M96.6 248.4h.9M112.6 233.6h.9M100.3 245.0h.9M112.5 248.7h.9M116.6 249.8h.9M110.3 242.7h.9M115.9 245.1h.9M105.1 245.8h.9M93.8 248.8h.9M92.0 251.1h.9M97.0 251.3h.9M114.3 243.9h.9M114.3 230.8h.9M118.2 244.4h.9M110.5 233.8h.9M106.4 238.2h.9M112.5 247.8h.9M115.9 245.1h.9M114.6 247.3h.9M107.9 237.8h.9M98.2 234.5h.9M102.7 248.3h.9M102.0 247.9h.9M90.6 249.6h.9M93.7 246.3h.9M102.5 247.9h.9M90.2 242.2h.9M108.0 233.3h.9M112.6 249.5h.9M91.4 248.6h.9M109.7 237.0h.9M102.7 242.5h.9M100.8 231.9h.9M97.0 230.6h.9M102.7 242.4h.9M97.7 248.6h.9M119.0 247.6h.9M112.8 242.9h.9M102.2 241.3h.9M119.2 240.8h.9M115.5 232.9h.9M115.0 235.0h.9M100.1 236.9h.9M113.3 231.5h.9M98.7 236.1h.9M103.7 241.1h.9M95.5 237.3h.9M97.4 247.3h.9M100.1 234.1h.9M116.3 241.8h.9M97.5 230.7h.9M98.2 237.5h.9M113.6 249.1h.9M115.4 249.4h.9M112.2 240.8h.9M112.4 235.2h.9M92.7 245.1h.9M112.1 248.8h.9M92.1 242.2h.9M92.4 251.1h.9M113.2 241.2h.9M116.4 234.4h.9M92.0 245.3h.9M115.0 246.1h.9M108.3 234.8h.9M117.0 240.9h.9M99.9 244.4h.9M110.1 231.8h.9M115.0 246.2h.9M114.5 226.6h.9M108.6 243.4h.9M89.5 250.1h.9M111.8 241.7h.9M105.4 241.8h.9M97.8 239.6h.9M98.7 237.8h.9M112.8 242.8h.9M106.8 237.6h.9M92.8 246.3h.9M94.8 257.4h.9M102.9 251.0h.9M109.7 255.4h.9M103.8 260.6h.9M101.9 259.8h.9M100.6 254.7h.9M106.4 253.9h.9M100.3 252.1h.9M102.6 254.9h.9M104.4 259.1h.9M96.9 257.3h.9M96.3 257.8h.9M104.8 262.1h.9M103.7 256.6h.9M99.1 253.1h.9M99.2 256.7h.9M106.8 260.1h.9M106.4 256.4h.9M95.4 257.9h.9M105.5 257.4h.9M107.4 255.9h.9M109.5 256.0h.9M107.7 257.1h.9M110.8 257.8h.9M107.1 261.4h.9M103.0 258.0h.9M104.2 261.2h.9M110.6 257.4h.9M103.6 259.4h.9M97.0 257.3h.9M96.9 255.6h.9M100.7 260.0h.9M102.5 254.7h.9M105.4 262.2h.9M108.0 254.5h.9M104.4 261.3h.9M104.2 256.3h.9M104.6 254.9h.9M105.2 260.0h.9M97.0 254.4h.9M106.3 258.7h.9M98.4 258.5h.9M104.0 256.0h.9M99.9 254.5h.9M105.1 253.8h.9M105.6 261.6h.9M108.5 254.6h.9M107.9 260.4h.9M97.1 254.6h.9M94.6 259.3h.9M103.5 260.0h.9M107.5 258.3h.9M93.6 259.1h.9M93.1 256.8h.9M106.1 259.1h.9M100.8 252.8h.9M93.2 256.5h.9M106.1 258.8h.9M108.7 254.9h.9M99.3 258.6h.9M98.5 254.8h.9M110.9 256.4h.9M100.1 254.5h.9M107.1 254.8h.9M104.8 254.9h.9M98.2 258.6h.9M66.4 254.8h.9M67.6 258.4h.9M66.2 254.9h.9M65.9 258.7h.9M66.5 256.7h.9M67.4 256.8h.9M66.1 253.7h.9M65.2 256.6h.9M66.7 257.7h.9M66.5 257.0h.9M66.0 254.7h.9M81.6 251.9h.9M88.8 238.7h.9M80.9 238.3h.9M79.9 266.9h.9M96.7 259.3h.9M96.8 241.5h.9M77.9 255.7h.9M74.3 258.6h.9M76.2 258.3h.9M76.9 257.3h.9M78.6 256.2h.9M71.9 258.7h.9M69.7 257.9h.9M73.7 258.3h.9M72.5 256.6h.9M70.2 258.0h.9M76.0 254.6h.9M75.1 257.0h.9M72.4 256.6h.9M71.5 258.2h.9M74.3 255.6h.9M67.0 255.3h.9M76.8 257.4h.9M77.1 256.9h.9M80.3 255.9h.9M75.0 259.0h.9M73.1 256.7h.9M71.4 257.1h.9M65.3 256.8h.9M76.5 256.8h.9M73.2 257.6h.9M78.9 257.2h.9" stroke="#2649ec" stroke-width=".9" opacity="0.50"/>
<path d="M85.4 269.3h.9M81.7 267.4h.9M81.4 261.4h.9M87.3 268.3h.9M83.9 255.0h.9M86.5 254.3h.9M87.6 255.2h.9M81.0 259.4h.9M81.8 257.2h.9M86.6 253.7h.9M81.1 257.0h.9M88.4 267.6h.9M83.5 253.7h.9M85.4 253.3h.9M82.2 266.7h.9M81.9 255.8h.9M85.1 268.7h.9M85.5 253.0h.9M83.6 253.2h.9M87.8 267.8h.9M86.9 251.1h.9M86.8 268.4h.9M83.5 268.3h.9M86.7 251.1h.9M83.1 254.7h.9M85.4 251.6h.9M89.6 256.4h.9M82.1 265.4h.9M83.8 268.7h.9M83.9 252.5h.9M82.3 258.3h.9M82.0 263.3h.9M81.8 265.6h.9M84.2 254.9h.9M82.4 254.6h.9M90.3 262.0h.9M86.6 252.3h.9M82.3 255.0h.9M83.6 253.3h.9M83.2 237.3h.9M90.6 232.7h.9M115.0 219.3h.9M111.6 218.8h.9M113.2 219.7h.9M91.4 222.5h.9M92.4 223.3h.9M93.9 230.5h.9M89.4 224.0h.9M86.5 252.7h.9M81.7 242.6h.9M102.8 218.3h.9M85.3 251.7h.9M82.4 238.0h.9M90.0 223.4h.9M82.9 240.4h.9M105.7 226.6h.9M107.3 227.1h.9M98.9 220.3h.9M87.7 226.4h.9M102.5 227.9h.9M99.8 220.2h.9M81.6 244.7h.9M87.3 242.0h.9M95.1 222.0h.9M87.0 226.8h.9M87.7 245.8h.9M110.0 217.6h.9M82.4 238.4h.9M103.7 219.0h.9M104.6 218.5h.9M95.4 220.3h.9M83.8 234.4h.9M116.4 223.3h.9M93.4 222.2h.9M83.2 253.4h.9M82.8 245.7h.9M115.7 224.3h.9M90.5 231.4h.9M91.7 231.1h.9M85.2 228.4h.9M82.9 235.2h.9M92.4 242.6h.9M81.1 243.5h.9M85.4 228.1h.9M106.0 217.3h.9M100.8 229.6h.9M85.1 252.9h.9M82.0 238.3h.9M90.9 222.8h.9M110.6 218.0h.9M85.4 246.7h.9M86.0 246.2h.9M83.9 229.9h.9M81.8 241.9h.9M91.2 236.5h.9M94.6 220.3h.9M111.8 219.3h.9M104.9 227.1h.9M85.6 247.1h.9M82.0 243.2h.9M100.4 219.1h.9M115.6 219.8h.9M86.8 226.4h.9M87.5 241.0h.9M102.4 229.4h.9M85.8 226.7h.9M84.7 248.1h.9M108.9 217.9h.9M95.3 230.0h.9M101.1 218.1h.9M94.8 220.8h.9M96.8 229.2h.9M101.5 218.6h.9M90.2 223.0h.9M82.8 234.9h.9M92.4 232.5h.9M100.4 227.3h.9M90.2 231.2h.9M81.8 241.8h.9M91.4 233.9h.9M109.1 228.0h.9M85.7 229.3h.9M81.6 243.2h.9M99.6 228.9h.9M86.1 243.2h.9M92.1 232.5h.9M93.2 222.9h.9M83.0 235.7h.9M99.6 220.0h.9M115.7 223.9h.9M84.1 230.0h.9M82.9 235.7h.9M97.1 221.1h.9M86.7 246.0h.9M100.3 229.4h.9M85.3 248.4h.9M83.0 242.2h.9M116.2 220.2h.9M115.8 224.2h.9M97.3 221.3h.9M83.0 253.1h.9M90.7 222.9h.9M99.7 227.2h.9M92.6 243.1h.9M110.3 232.5h.9M103.0 227.9h.9M82.6 245.1h.9M88.4 241.0h.9M116.0 231.6h.9M92.9 233.0h.9M92.0 239.3h.9M108.6 228.0h.9M95.7 239.4h.9M101.4 230.2h.9M93.6 222.7h.9M107.7 226.8h.9M100.1 227.8h.9M92.9 243.0h.9M83.0 245.1h.9M109.7 228.3h.9M110.4 233.1h.9M106.7 226.4h.9M91.0 235.8h.9M109.5 229.9h.9M105.8 232.6h.9M100.4 230.7h.9M91.9 238.2h.9M104.5 227.7h.9M94.2 231.5h.9M94.5 231.9h.9M104.3 230.8h.9M95.4 221.3h.9M94.7 231.5h.9M93.9 233.6h.9M108.9 227.8h.9M91.8 236.6h.9M84.6 247.8h.9M115.4 238.0h.9M94.8 238.4h.9M105.3 231.0h.9M102.7 229.6h.9M88.2 245.3h.9M116.8 231.6h.9M91.8 232.6h.9M98.4 228.7h.9M93.3 234.9h.9M107.5 237.4h.9M103.3 231.0h.9M105.7 231.9h.9M90.7 232.6h.9M94.4 242.6h.9M92.5 234.3h.9M95.7 239.4h.9M110.0 233.3h.9M110.5 228.3h.9M93.0 238.4h.9M105.2 231.1h.9M109.4 227.2h.9M88.4 245.7h.9M107.2 237.0h.9M98.0 229.4h.9M100.2 227.2h.9M98.2 228.5h.9M92.0 236.8h.9M103.3 230.3h.9M90.8 234.4h.9M104.3 233.3h.9M96.1 239.6h.9M87.1 239.9h.9M98.6 228.2h.9M106.6 232.6h.9M86.9 226.9h.9M103.9 230.2h.9M88.7 243.8h.9M111.0 232.4h.9M106.1 232.5h.9M91.7 234.8h.9M109.1 232.9h.9M105.7 233.9h.9M116.8 232.2h.9M94.8 234.1h.9M93.1 243.1h.9M101.1 218.2h.9M92.9 239.9h.9M94.8 242.0h.9M101.5 230.5h.9M92.4 234.5h.9M101.2 229.2h.9M91.8 238.2h.9M109.6 229.1h.9M88.4 243.4h.9M92.6 234.6h.9M95.3 238.8h.9M88.3 244.7h.9M100.3 229.8h.9M109.4 232.6h.9M103.4 228.5h.9M93.6 239.0h.9M88.9 244.4h.9M105.7 231.0h.9M94.1 238.9h.9M115.3 237.8h.9M93.6 234.9h.9M95.2 239.2h.9M91.4 237.4h.9M89.6 232.2h.9M105.2 233.9h.9M109.2 232.3h.9M94.9 231.8h.9M88.0 243.7h.9M104.2 231.3h.9M89.4 243.7h.9M105.7 234.2h.9M87.6 237.9h.9M102.7 228.9h.9M104.9 229.3h.9M91.6 239.5h.9M104.8 233.2h.9M105.3 226.8h.9M100.1 230.5h.9M104.2 233.7h.9M88.1 247.0h.9M115.9 238.5h.9M92.0 239.4h.9M116.6 232.6h.9M93.7 230.5h.9M104.0 229.2h.9M93.9 232.6h.9M94.4 233.3h.9M107.6 227.3h.9M116.6 232.4h.9M92.8 239.1h.9M111.7 226.6h.9M100.3 256.7h.9M97.6 258.2h.9M101.0 255.4h.9M101.0 258.4h.9M98.8 257.8h.9M102.0 254.6h.9M102.8 257.3h.9M100.5 258.5h.9M106.5 257.3h.9M102.2 254.7h.9M106.4 257.2h.9M101.1 259.2h.9M102.5 256.7h.9M100.4 258.6h.9M101.3 259.5h.9M107.1 257.8h.9M102.0 259.0h.9M100.1 257.7h.9M97.8 257.7h.9M102.2 256.1h.9M107.2 256.1h.9M101.1 256.2h.9M100.3 256.4h.9M107.0 256.6h.9M109.5 217.7h.9M88.3 247.0h.9M87.9 254.7h.9M80.2 256.2h.9M72.0 257.6h.9M79.5 257.0h.9M79.3 257.1h.9M72.4 257.9h.9M80.1 257.0h.9M82.0 256.4h.9M79.3 256.6h.9" stroke="#1748eb" stroke-width=".9" opacity="0.58"/>
<path d="M85.7 254.8h.9M82.9 265.8h.9M82.5 259.9h.9M85.9 268.2h.9M85.2 254.8h.9M88.6 266.1h.9M85.9 254.4h.9M88.6 265.9h.9M83.8 267.6h.9M82.4 263.9h.9M88.9 258.1h.9M81.9 260.0h.9M88.6 256.2h.9M81.9 260.6h.9M88.5 266.7h.9M89.2 261.1h.9M88.5 256.3h.9M85.6 253.6h.9M89.3 262.3h.9M83.2 267.6h.9M85.2 255.6h.9M83.4 256.5h.9M89.3 256.8h.9M87.4 256.0h.9M83.1 266.7h.9M82.6 256.9h.9M88.3 266.9h.9M89.3 256.6h.9M89.2 256.8h.9M88.1 256.1h.9M83.0 265.3h.9M87.5 267.0h.9M86.7 267.7h.9M89.4 256.7h.9M82.7 256.5h.9M83.9 231.1h.9M90.5 224.2h.9M97.5 221.4h.9M96.4 222.3h.9M106.3 218.1h.9M84.4 244.7h.9M83.2 243.6h.9M95.1 222.7h.9M107.1 217.8h.9M86.0 242.0h.9M101.9 220.9h.9M101.4 220.4h.9M84.2 245.7h.9M84.3 235.5h.9M93.3 228.7h.9M83.7 231.4h.9M85.1 242.8h.9M115.6 221.9h.9M84.8 243.8h.9M95.4 222.8h.9M93.9 223.7h.9M82.4 244.2h.9M93.1 230.5h.9M88.5 225.7h.9M83.4 240.4h.9M110.4 218.5h.9M82.7 238.2h.9M83.8 238.5h.9M110.4 219.0h.9M85.7 245.5h.9M83.2 241.9h.9M84.2 231.0h.9M100.6 226.5h.9M86.5 236.5h.9M83.3 237.8h.9M101.2 220.8h.9M87.0 227.2h.9M84.2 232.2h.9M85.2 253.5h.9M84.8 245.1h.9M84.3 234.3h.9M84.2 232.8h.9M87.2 237.3h.9M104.8 226.0h.9M89.3 231.7h.9M92.6 231.0h.9M89.8 235.5h.9M84.4 233.6h.9M85.4 234.2h.9M85.7 237.8h.9M109.7 218.5h.9M91.4 224.0h.9M86.8 245.0h.9M85.3 235.9h.9M91.6 230.9h.9M96.3 229.0h.9M89.4 232.3h.9M104.0 226.9h.9M97.4 222.3h.9M83.1 238.8h.9M87.1 241.3h.9M85.3 245.4h.9M88.8 225.7h.9M98.6 221.4h.9M115.0 223.5h.9M113.7 224.8h.9M85.0 234.8h.9M86.6 244.1h.9M101.5 220.5h.9M114.5 223.4h.9M83.2 235.0h.9M86.4 228.6h.9M89.7 224.3h.9M93.6 228.8h.9M84.5 230.2h.9M89.4 236.0h.9M90.0 231.4h.9M84.3 236.3h.9M115.3 223.7h.9M115.2 220.4h.9M93.3 223.1h.9M94.2 228.2h.9M111.0 219.3h.9M83.4 243.6h.9M88.8 232.5h.9M86.0 236.4h.9M83.1 245.0h.9M84.1 232.9h.9M84.6 245.9h.9M104.3 219.5h.9M89.3 236.0h.9M86.5 239.5h.9M85.4 244.3h.9M100.5 220.0h.9M84.1 233.0h.9M102.1 220.5h.9M90.2 234.9h.9M86.7 241.2h.9M97.4 222.4h.9M86.7 228.9h.9M84.5 235.3h.9M114.9 223.2h.9M108.2 225.5h.9M86.3 244.6h.9M91.6 230.4h.9M83.4 240.8h.9M109.4 218.9h.9M85.1 236.2h.9M84.3 236.9h.9M93.2 234.3h.9M82.7 243.8h.9M87.7 236.3h.9M84.3 243.7h.9M85.7 234.5h.9M88.7 225.7h.9M89.3 224.8h.9M104.1 218.5h.9M94.0 223.3h.9M92.6 230.4h.9M87.5 237.4h.9M114.0 220.3h.9M88.3 236.1h.9M92.8 224.4h.9M85.2 229.6h.9M87.5 227.5h.9M100.5 220.4h.9M84.4 245.0h.9M86.3 239.6h.9M110.7 220.0h.9M85.8 246.2h.9M85.2 233.1h.9M104.1 218.7h.9M113.2 220.0h.9M105.7 218.4h.9M104.2 226.5h.9M93.3 229.1h.9M101.5 219.8h.9M89.5 234.3h.9M87.4 237.9h.9M87.1 227.6h.9M84.0 237.4h.9M85.4 235.5h.9M105.7 225.7h.9M86.4 238.8h.9M90.7 223.9h.9M86.1 237.7h.9M83.5 244.4h.9M82.7 244.1h.9M86.0 243.7h.9M103.3 219.9h.9M113.4 220.3h.9M84.4 235.5h.9M87.7 236.4h.9M105.2 219.7h.9M88.7 232.8h.9M94.5 222.1h.9M85.4 236.0h.9M109.0 219.7h.9M98.5 221.2h.9M84.5 234.8h.9M83.6 243.4h.9M104.2 219.6h.9M85.1 242.4h.9M115.0 220.3h.9M84.4 243.2h.9M85.8 242.0h.9M90.6 230.4h.9M83.2 239.6h.9M87.8 236.9h.9M86.0 228.5h.9M111.1 220.0h.9M83.9 238.5h.9M82.2 255.8h.9M82.7 243.7h.9M85.0 245.1h.9M111.0 219.6h.9M114.5 223.6h.9M86.6 240.9h.9M106.1 225.5h.9M90.9 224.2h.9M87.4 237.6h.9M87.0 241.2h.9M91.1 230.9h.9M88.9 230.5h.9M109.8 219.3h.9M93.5 234.3h.9M86.7 241.8h.9M103.1 227.1h.9M84.6 230.3h.9M86.0 245.1h.9M110.0 228.8h.9M90.2 236.0h.9M84.4 243.4h.9M110.7 219.2h.9M89.4 230.4h.9M95.3 228.9h.9M109.7 228.8h.9M103.2 229.7h.9M110.7 226.1h.9M105.4 219.2h.9M88.7 233.4h.9M90.4 234.1h.9M87.4 244.1h.9M85.5 243.6h.9M98.8 227.5h.9M92.9 233.8h.9M86.5 245.7h.9M96.6 228.6h.9M86.0 244.2h.9M86.3 228.3h.9M89.8 235.8h.9M102.2 226.5h.9M83.7 243.4h.9M92.5 230.8h.9M92.1 230.5h.9M95.3 228.6h.9M103.2 227.3h.9M109.8 228.9h.9M90.4 235.5h.9M102.0 226.9h.9M103.1 229.7h.9M101.4 226.7h.9M89.8 236.3h.9M101.5 256.9h.9M101.3 257.5h.9M100.9 257.1h.9M86.8 255.5h.9M101.3 256.9h.9M101.3 257.7h.9M100.1 257.1h.9M82.5 258.8h.9M87.4 244.0h.9M84.5 231.8h.9M84.7 256.0h.9" stroke="#0d66eb" stroke-width=".9" opacity="0.66"/>
<path d="M85.3 267.6h.9M88.5 265.1h.9M87.0 256.3h.9M88.5 258.4h.9M84.3 267.4h.9M83.9 266.5h.9M82.9 258.7h.9M83.9 266.8h.9M83.0 264.2h.9M85.1 256.3h.9M86.9 255.8h.9M82.8 259.2h.9M88.9 265.2h.9M88.7 263.7h.9M87.9 256.7h.9M86.4 267.2h.9M85.4 267.7h.9M85.8 256.4h.9M82.0 261.1h.9M82.6 259.2h.9M83.3 258.0h.9M88.0 265.6h.9M87.0 256.2h.9M82.9 263.9h.9M88.6 262.4h.9M88.6 260.0h.9M83.7 256.4h.9M82.9 260.3h.9M82.8 260.0h.9M82.7 264.6h.9M88.2 265.6h.9M83.0 256.9h.9M85.6 255.8h.9M88.8 260.7h.9M88.0 258.5h.9M84.5 256.3h.9M88.9 264.6h.9M87.8 256.9h.9M86.9 255.9h.9M84.2 267.6h.9M88.0 266.3h.9M88.9 263.3h.9M85.3 267.5h.9M88.7 260.3h.9M108.7 218.5h.9M88.3 234.7h.9M95.3 227.8h.9M103.5 226.2h.9M110.9 221.4h.9M100.6 221.9h.9M88.7 227.2h.9M108.4 218.1h.9M88.7 229.1h.9M110.9 225.6h.9M86.0 235.1h.9M95.7 228.4h.9M99.7 221.7h.9M87.0 236.4h.9M104.5 225.9h.9M96.5 223.4h.9M84.8 231.7h.9M87.6 233.3h.9M88.4 229.2h.9M110.4 219.7h.9M95.1 228.0h.9M87.6 231.9h.9M98.8 222.0h.9M90.5 224.6h.9M86.6 233.7h.9M106.9 218.1h.9M112.4 221.8h.9M93.6 226.7h.9M105.6 220.5h.9M85.1 231.9h.9M88.1 230.2h.9M87.4 236.5h.9M87.9 233.7h.9M91.5 229.2h.9M89.6 230.0h.9M89.3 226.8h.9M107.5 218.4h.9M87.6 232.1h.9M87.7 230.4h.9M87.0 233.3h.9M85.3 239.4h.9M86.1 231.4h.9M99.4 221.9h.9M94.9 223.4h.9M85.9 233.7h.9M87.0 228.4h.9M111.9 221.2h.9M86.6 233.0h.9M88.0 234.4h.9M84.2 240.7h.9M108.1 225.1h.9M100.8 225.5h.9M89.9 225.1h.9M115.5 221.7h.9M86.2 233.1h.9M102.3 220.6h.9M86.4 232.1h.9M109.3 225.0h.9M87.6 227.7h.9M114.3 223.8h.9M88.2 228.1h.9M85.6 239.4h.9M84.9 238.8h.9M113.7 220.5h.9M111.4 225.5h.9M110.8 225.9h.9M97.6 223.3h.9M99.0 222.0h.9M85.2 231.0h.9M87.9 230.2h.9M96.7 223.3h.9M110.3 220.0h.9M87.4 234.2h.9M86.8 235.2h.9M105.9 219.3h.9M94.2 227.2h.9M114.8 220.6h.9M85.8 233.2h.9M109.5 225.5h.9M95.1 223.5h.9M85.4 238.4h.9M94.9 223.8h.9M100.4 226.0h.9M85.7 230.8h.9M85.0 231.2h.9M92.2 224.8h.9M89.5 226.1h.9M113.3 221.0h.9M85.9 239.8h.9M106.9 224.8h.9M88.5 228.1h.9M96.1 228.3h.9M110.8 225.8h.9M100.4 225.8h.9M103.9 220.4h.9M86.3 235.2h.9M115.4 220.8h.9M102.4 221.3h.9M88.5 231.4h.9M110.6 219.8h.9M115.1 221.0h.9M102.5 226.0h.9M84.9 241.8h.9M91.3 224.5h.9M108.4 225.1h.9M90.8 229.9h.9M106.0 220.6h.9M85.6 240.6h.9M101.6 225.4h.9M86.2 235.9h.9M100.4 221.9h.9M106.4 225.2h.9M104.9 220.4h.9M84.1 241.7h.9M105.1 224.6h.9M104.3 226.0h.9M84.6 237.9h.9M83.9 241.4h.9M84.6 232.4h.9M114.2 220.9h.9M87.0 235.5h.9M93.0 224.7h.9M86.8 231.8h.9M84.9 237.8h.9M83.9 240.4h.9M113.8 224.1h.9M85.3 240.8h.9M88.9 235.4h.9M94.9 227.9h.9M101.5 225.7h.9M87.4 235.5h.9M85.7 231.2h.9M90.6 229.6h.9M89.5 225.4h.9M97.9 223.2h.9M97.9 223.1h.9M85.7 239.6h.9M89.7 224.8h.9M103.0 220.2h.9M84.5 241.2h.9M101.4 221.1h.9M87.0 233.3h.9M86.1 234.8h.9M95.1 223.6h.9M84.1 241.3h.9M105.8 219.0h.9M111.4 225.7h.9M89.2 234.9h.9M88.0 233.9h.9M86.3 232.9h.9M88.1 233.9h.9M93.2 227.7h.9M85.8 231.8h.9M108.5 218.9h.9M99.3 222.3h.9M108.0 220.4h.9M99.4 222.3h.9M108.4 219.7h.9M112.0 221.4h.9M114.7 220.7h.9M110.3 221.0h.9M101.6 221.7h.9M84.6 239.1h.9M97.3 227.7h.9M106.0 225.1h.9M87.6 231.7h.9M99.3 221.6h.9M106.6 218.4h.9M104.6 220.2h.9M110.2 220.7h.9M92.0 225.0h.9M85.3 232.0h.9M108.2 220.2h.9M113.7 222.3h.9M87.3 229.0h.9M103.4 226.1h.9M95.5 223.7h.9M87.3 229.7h.9M97.1 227.9h.9M87.7 229.5h.9M84.5 230.9h.9M85.9 230.7h.9M87.4 232.3h.9M113.3 224.8h.9M97.0 227.5h.9M114.9 221.9h.9M95.7 222.9h.9M95.7 222.7h.9M84.5 240.6h.9M92.7 224.9h.9M84.6 238.0h.9M108.7 219.3h.9M86.3 230.8h.9M87.8 233.5h.9M87.6 230.3h.9M102.6 225.4h.9M86.4 232.6h.9M107.8 218.3h.9M99.2 221.6h.9M105.5 224.0h.9M108.2 225.3h.9M96.3 228.5h.9M111.3 225.7h.9M87.2 229.0h.9M105.4 225.5h.9M84.4 241.6h.9M88.0 231.1h.9M113.0 224.8h.9M91.7 229.7h.9M85.1 241.8h.9M84.4 239.9h.9M88.9 234.6h.9M84.1 239.4h.9M84.8 238.0h.9M85.2 241.8h.9M85.4 238.5h.9M106.2 225.1h.9M84.2 238.7h.9M107.6 218.3h.9M86.8 234.4h.9M87.2 233.8h.9M89.1 235.4h.9M114.2 222.8h.9M111.8 225.8h.9M86.2 240.5h.9M92.1 228.6h.9M111.6 225.9h.9M92.6 228.6h.9M88.2 234.9h.9M97.7 227.8h.9M89.2 225.9h.9M89.3 234.8h.9M83.9 256.2h.9" stroke="#0383eb" stroke-width=".9" opacity="0.75"/>
<path d="M88.1 260.5h.9M86.1 266.2h.9M88.2 259.2h.9M87.9 265.8h.9M87.8 258.1h.9M87.6 265.4h.9M85.2 267.3h.9M85.4 267.1h.9M86.7 266.2h.9M84.8 267.3h.9M88.2 264.2h.9M82.9 261.3h.9M87.9 258.4h.9M83.3 264.5h.9M84.2 266.8h.9M85.1 266.9h.9M88.4 258.9h.9M82.7 262.7h.9M84.3 266.7h.9M88.5 263.8h.9M86.2 266.1h.9M86.0 256.7h.9M88.2 263.6h.9M88.0 258.8h.9M86.9 266.4h.9M83.7 257.5h.9M87.2 257.1h.9M87.6 257.7h.9M88.4 260.3h.9M88.3 259.5h.9M82.8 261.3h.9M88.4 264.2h.9M84.8 267.1h.9M84.0 256.9h.9M83.9 256.7h.9M89.2 228.5h.9M88.6 228.7h.9M91.2 229.4h.9M106.9 219.4h.9M110.3 225.2h.9M110.4 222.2h.9M109.4 222.5h.9M112.4 224.8h.9M105.8 221.2h.9M112.7 224.1h.9M110.5 223.9h.9M111.0 221.7h.9M103.9 224.3h.9M96.9 224.2h.9M110.2 225.2h.9M107.2 224.2h.9M110.0 224.2h.9M98.2 223.7h.9M104.0 225.6h.9M101.0 222.1h.9M102.8 222.7h.9M89.0 228.5h.9M109.5 223.3h.9M113.0 224.6h.9M112.0 222.0h.9M101.5 224.7h.9M102.5 223.3h.9M90.0 225.9h.9M99.1 224.0h.9M96.5 224.3h.9M103.1 221.8h.9M92.7 227.0h.9M106.8 224.0h.9M112.8 223.4h.9M111.6 222.3h.9M107.5 219.0h.9M89.8 228.7h.9M100.0 223.2h.9M90.2 225.9h.9M87.3 230.6h.9M114.5 221.3h.9M102.9 224.5h.9M106.4 220.8h.9M99.9 224.1h.9M109.4 222.5h.9M109.3 224.8h.9M106.7 219.7h.9M109.3 224.9h.9M108.8 221.1h.9M103.4 222.9h.9M100.9 225.0h.9M87.4 230.7h.9M93.6 226.1h.9M84.6 240.4h.9M96.9 224.3h.9M103.8 221.3h.9M96.5 225.0h.9M110.3 223.5h.9M101.8 224.6h.9M97.5 226.6h.9M106.6 219.4h.9M107.4 220.2h.9M104.3 225.1h.9M108.7 223.6h.9M94.0 224.8h.9M96.7 224.5h.9M96.5 223.6h.9M87.5 230.5h.9M113.2 223.2h.9M98.8 223.8h.9M112.8 223.2h.9M110.3 222.7h.9M91.5 228.5h.9M100.8 223.0h.9M110.4 221.9h.9M91.5 228.7h.9M104.7 221.3h.9M102.1 224.1h.9M107.1 220.9h.9M110.1 224.3h.9M110.8 222.1h.9M92.3 227.7h.9M108.8 221.3h.9M107.7 221.0h.9M107.5 224.7h.9M87.4 231.1h.9M107.3 219.0h.9M101.5 225.5h.9M110.2 225.2h.9M113.2 224.2h.9M103.7 224.8h.9M89.7 228.5h.9M95.9 224.4h.9M106.0 223.9h.9M93.7 225.3h.9M110.6 222.1h.9M94.5 224.9h.9M108.2 224.6h.9M112.7 221.7h.9M107.3 218.9h.9M100.5 222.6h.9M94.0 224.9h.9M94.5 225.1h.9M92.3 227.7h.9M109.0 223.3h.9M103.4 221.5h.9M102.1 223.8h.9M110.3 224.2h.9M87.3 231.9h.9M107.5 220.2h.9M103.1 225.3h.9M103.2 221.5h.9M111.4 223.3h.9M109.2 224.7h.9M111.9 224.8h.9M93.5 226.4h.9M111.6 223.9h.9M101.8 222.6h.9M103.9 224.5h.9M96.1 224.0h.9M98.0 226.2h.9M111.0 222.3h.9M104.5 223.8h.9M85.2 239.7h.9M88.8 228.8h.9M107.4 224.4h.9M100.7 224.9h.9M111.7 222.1h.9M103.1 221.7h.9M101.2 225.3h.9M92.3 225.9h.9M104.0 220.8h.9M97.5 224.7h.9M94.4 224.6h.9M110.3 221.6h.9M106.4 224.1h.9M87.5 230.6h.9M98.9 223.5h.9M88.6 228.8h.9M88.3 228.9h.9M98.2 226.1h.9M112.9 222.2h.9M110.9 221.6h.9M99.3 223.7h.9M104.0 225.4h.9M92.2 225.7h.9M93.1 226.0h.9M94.2 225.5h.9M89.4 227.5h.9M94.6 226.1h.9M101.7 223.1h.9M94.6 226.3h.9M112.1 224.5h.9M113.0 221.6h.9M106.9 219.3h.9M104.8 224.4h.9M113.8 221.5h.9M93.4 225.9h.9M104.1 221.3h.9M98.9 223.8h.9M99.5 225.4h.9M113.4 224.3h.9M103.3 222.6h.9M103.5 221.5h.9M100.8 222.6h.9M94.5 225.3h.9M89.8 227.2h.9M107.9 224.2h.9M91.2 229.2h.9M91.9 225.2h.9M97.9 226.1h.9M113.1 221.6h.9M113.3 224.4h.9M112.6 222.3h.9M112.1 223.3h.9M110.8 224.6h.9M106.7 219.3h.9M114.9 221.4h.9M87.1 231.3h.9M97.1 223.8h.9M100.3 224.9h.9M100.9 222.2h.9M112.6 224.4h.9M112.2 224.3h.9M100.1 222.9h.9M102.5 225.0h.9M108.8 223.9h.9M107.6 224.2h.9M89.7 227.2h.9M103.6 220.9h.9M108.8 221.0h.9M111.8 223.3h.9M109.1 224.5h.9M96.6 227.8h.9M94.4 225.3h.9M94.5 224.8h.9M93.7 225.2h.9M114.7 221.2h.9M101.1 222.5h.9M92.7 226.3h.9M98.4 226.3h.9M107.2 219.3h.9M95.5 224.5h.9M104.6 223.5h.9M108.2 224.2h.9M98.9 225.7h.9M114.0 221.5h.9M103.8 225.9h.9M99.7 223.6h.9M110.3 222.9h.9M108.7 221.1h.9M105.9 223.9h.9M107.8 224.0h.9M103.8 224.0h.9M98.3 226.1h.9M102.8 221.4h.9M103.7 221.0h.9M100.5 225.4h.9M110.2 223.2h.9M92.6 227.8h.9M113.4 222.3h.9M84.7 240.4h.9M107.4 219.8h.9M112.2 223.3h.9M109.8 221.4h.9M107.6 219.4h.9M99.2 223.2h.9M102.9 224.2h.9M113.0 224.0h.9M99.0 225.6h.9M99.7 225.4h.9M111.3 222.9h.9M114.7 221.5h.9M111.1 225.5h.9M96.0 228.0h.9M111.8 222.2h.9M103.7 224.6h.9M101.9 223.3h.9M99.9 225.4h.9M102.3 224.0h.9M92.8 227.2h.9M110.2 225.3h.9M111.9 224.2h.9M104.2 224.5h.9M110.3 222.9h.9M103.0 224.4h.9M92.4 228.2h.9M113.1 223.1h.9M85.1 240.3h.9M100.9 223.6h.9M85.3 240.5h.9M113.9 221.6h.9M97.2 227.0h.9M97.7 226.1h.9M103.7 225.7h.9M98.9 226.1h.9M94.9 226.1h.9M84.4 256.9h.9" stroke="#07a1c1" stroke-width=".9" opacity="0.83"/>
<path d="M85.5 266.4h.9M86.0 257.2h.9M84.9 257.3h.9M87.8 258.6h.9M83.5 264.6h.9M84.7 257.1h.9M86.1 257.2h.9M86.6 265.5h.9M83.8 265.1h.9M83.8 257.7h.9M83.8 264.7h.9M85.5 266.5h.9M83.4 261.0h.9M85.1 266.4h.9M86.6 257.2h.9M85.0 266.1h.9M84.6 265.6h.9M86.5 257.1h.9M84.6 265.5h.9M83.4 260.8h.9M84.1 265.8h.9M82.8 262.2h.9M86.4 257.1h.9M87.7 259.0h.9M88.0 264.8h.9M85.8 257.4h.9M86.2 265.7h.9M87.3 258.9h.9M83.2 259.1h.9M88.4 262.1h.9M82.5 262.3h.9M87.2 258.5h.9M88.5 261.1h.9M88.4 262.4h.9M86.7 257.3h.9M84.2 265.6h.9M84.3 257.2h.9M85.8 257.4h.9M82.7 262.4h.9M83.7 264.7h.9M86.5 265.9h.9M83.3 263.9h.9M88.1 262.1h.9M87.8 264.0h.9M84.9 265.8h.9M87.9 264.0h.9M98.0 225.6h.9M107.5 221.6h.9M103.8 222.9h.9M91.8 228.3h.9M99.0 224.7h.9M89.8 227.9h.9M112.4 223.8h.9M105.7 223.1h.9M107.1 223.8h.9M108.9 221.9h.9M99.2 224.5h.9M107.4 221.3h.9M103.9 223.2h.9M99.8 224.8h.9M103.8 222.1h.9M90.7 227.2h.9M95.3 226.3h.9M101.1 223.4h.9M90.8 226.1h.9M89.9 228.3h.9M90.7 225.9h.9M91.9 227.6h.9M95.4 226.8h.9M91.0 225.6h.9M105.5 221.7h.9M98.2 224.1h.9M90.8 226.8h.9M98.4 225.0h.9M90.7 228.3h.9M101.4 223.5h.9M97.6 224.5h.9M109.2 221.5h.9M91.3 226.0h.9M98.8 225.4h.9M91.9 227.0h.9M91.5 227.0h.9M109.2 222.2h.9M91.6 227.8h.9M95.3 226.3h.9M90.6 226.1h.9M99.0 224.7h.9M96.2 225.8h.9M107.9 221.2h.9M103.4 222.4h.9M90.4 227.6h.9M90.5 226.5h.9M104.4 222.6h.9M98.0 225.1h.9M105.9 221.9h.9M104.2 222.7h.9M101.5 223.2h.9M98.3 225.4h.9M104.4 222.0h.9M95.8 225.4h.9M108.2 222.0h.9M92.3 226.9h.9M98.3 224.6h.9M94.8 225.9h.9M107.0 221.4h.9M107.1 223.6h.9M101.0 223.1h.9M91.7 225.8h.9M96.5 226.8h.9M112.4 223.8h.9M104.3 221.9h.9M105.6 223.0h.9M108.4 222.6h.9M96.7 225.3h.9M109.2 222.3h.9M104.5 223.2h.9M100.8 223.1h.9M107.5 223.2h.9M95.1 226.7h.9M91.5 226.1h.9M104.5 223.3h.9M91.4 225.8h.9M107.9 223.3h.9M91.2 227.1h.9M95.8 227.1h.9M104.5 222.0h.9M105.1 221.8h.9M109.0 222.2h.9M95.9 227.1h.9M108.2 223.2h.9M108.0 223.5h.9M108.5 221.8h.9M90.3 226.4h.9M89.9 228.5h.9M96.6 225.6h.9M89.7 228.4h.9M92.0 226.4h.9M95.8 225.2h.9M96.5 226.2h.9M101.5 223.2h.9M103.5 222.4h.9M98.5 224.0h.9M90.5 227.9h.9M99.3 224.9h.9M90.3 228.7h.9M89.8 227.8h.9M92.1 227.4h.9M91.0 228.3h.9M109.3 222.1h.9M90.8 227.9h.9M90.2 228.6h.9M96.2 225.2h.9M108.3 221.3h.9M90.5 226.3h.9M101.0 223.7h.9M90.5 227.8h.9M99.4 225.4h.9M103.7 222.6h.9M90.2 228.5h.9M105.6 221.8h.9M91.6 226.1h.9M108.5 221.7h.9M105.2 221.8h.9M91.7 227.8h.9M104.4 223.5h.9M98.4 225.0h.9M107.7 221.4h.9M90.6 226.3h.9M100.9 223.3h.9M96.8 225.0h.9M96.7 227.5h.9M91.9 225.5h.9M98.9 225.5h.9M105.8 223.2h.9M96.3 225.7h.9M90.6 228.8h.9M96.5 225.6h.9" stroke="#11c185" stroke-width=".9" opacity="0.91"/>
<path d="M84.2 264.7h.9M86.7 265.1h.9M87.3 264.8h.9M84.5 264.9h.9M86.0 257.7h.9M86.8 258.1h.9M85.8 265.3h.9M84.3 257.8h.9M85.7 265.1h.9M85.9 265.0h.9M87.0 258.5h.9M83.8 258.9h.9M85.8 257.5h.9M84.7 265.2h.9M84.2 264.7h.9M86.3 258.0h.9M87.0 264.4h.9M87.0 258.1h.9M84.0 265.2h.9M84.2 265.4h.9M85.4 265.0h.9M86.5 265.3h.9M87.8 262.7h.9M87.5 263.5h.9M86.8 258.1h.9M84.3 257.7h.9M87.5 262.9h.9M85.9 265.5h.9M86.9 258.3h.9M85.5 257.8h.9M107.4 222.7h.9M106.9 222.2h.9M96.3 226.9h.9M105.2 222.6h.9M105.3 222.0h.9M105.9 222.4h.9M105.0 222.8h.9M106.7 222.6h.9M104.7 222.6h.9M107.2 222.4h.9M91.2 226.5h.9M96.0 226.9h.9M104.6 222.4h.9M96.1 226.2h.9M106.2 222.3h.9M107.9 222.6h.9M96.3 226.7h.9M107.4 222.5h.9M107.3 222.9h.9M107.0 222.2h.9M106.5 222.0h.9M96.3 226.4h.9M106.9 222.6h.9M106.5 222.4h.9M96.0 226.7h.9M91.3 226.8h.9M96.5 226.0h.9M106.1 222.7h.9M95.9 226.7h.9M105.5 222.1h.9M105.4 222.0h.9M106.5 222.3h.9M107.4 223.5h.9M106.7 222.5h.9M106.7 222.0h.9M96.5 226.7h.9M106.8 221.9h.9M106.3 222.3h.9M107.2 223.2h.9M95.8 226.2h.9" stroke="#36ce55" stroke-width=".9" opacity="0.99"/>
<path d="M86.3 264.8h.9M84.2 258.5h.9M84.6 257.7h.9M87.6 260.7h.9M87.6 261.7h.9M83.0 262.0h.9M85.8 264.6h.9M85.7 264.5h.9M87.2 263.8h.9M84.0 264.3h.9M84.0 264.1h.9M84.5 258.4h.9M83.9 264.0h.9M83.4 262.3h.9M84.1 258.5h.9M84.0 263.5h.9M86.9 264.6h.9M86.8 264.8h.9M87.5 263.8h.9M84.8 264.7h.9M86.7 264.8h.9M87.5 260.7h.9M86.3 258.5h.9M87.7 261.2h.9M83.1 261.6h.9M87.9 261.6h.9M84.0 260.2h.9M86.2 258.5h.9M87.3 259.8h.9M84.6 257.6h.9M87.8 261.4h.9M87.9 260.8h.9M83.7 259.5h.9M84.1 258.3h.9M86.4 265.0h.9M87.6 262.2h.9M87.7 262.4h.9M88.0 262.0h.9M83.1 261.6h.9M86.2 258.7h.9M84.7 257.8h.9" stroke="#63d728" stroke-width=".9" opacity="1.00"/>
<path d="M87.2 260.5h.9M86.9 259.7h.9M87.2 260.4h.9M87.5 263.2h.9M85.7 258.9h.9M85.3 258.4h.9M87.0 260.1h.9M86.8 264.1h.9M84.8 264.1h.9M84.6 258.0h.9M83.6 263.1h.9M87.5 260.3h.9M87.2 263.1h.9M83.8 261.4h.9M84.6 258.2h.9M87.1 260.3h.9M86.5 259.1h.9" stroke="#8fde0f" stroke-width=".9" opacity="1.00"/>
<path d="M83.8 262.8h.9M87.5 261.0h.9M86.7 263.9h.9M84.3 263.6h.9M87.0 262.4h.9M85.0 264.2h.9M87.1 261.7h.9M87.1 262.1h.9M84.3 259.1h.9M83.9 262.7h.9M83.8 261.6h.9M84.1 259.2h.9M87.2 262.3h.9M85.0 258.8h.9M83.9 262.9h.9M85.0 264.1h.9M85.2 258.6h.9M86.4 264.3h.9M86.0 264.4h.9M86.9 263.9h.9M83.8 262.7h.9M85.0 258.9h.9M84.0 259.1h.9M83.6 262.5h.9M85.1 264.1h.9M85.1 258.5h.9M87.1 260.9h.9M84.4 259.4h.9M84.5 263.5h.9M85.0 258.8h.9M87.5 261.5h.9" stroke="#bae207" stroke-width=".9" opacity="1.00"/>
<path d="M86.2 263.8h.9M84.0 259.7h.9M86.3 259.6h.9M84.0 262.3h.9M86.7 260.5h.9M85.7 259.2h.9M84.5 260.5h.9M84.1 260.7h.9M85.9 259.1h.9M86.9 263.4h.9M86.8 260.0h.9M84.2 259.7h.9M84.4 259.9h.9M84.1 259.7h.9M83.6 262.4h.9M84.0 262.2h.9M86.4 259.8h.9M84.4 260.2h.9M86.2 259.7h.9M86.7 263.0h.9M86.2 259.7h.9M83.6 262.2h.9M84.1 260.6h.9" stroke="#e5e500" stroke-width=".9" opacity="1.00"/>
<path d="M85.4 259.2h.9M84.4 261.3h.9M85.0 259.0h.9M85.9 259.6h.9M84.9 259.2h.9M84.6 259.2h.9M84.5 259.4h.9M86.6 260.6h.9M86.7 260.7h.9M85.2 259.0h.9M84.8 259.2h.9M84.7 259.4h.9M86.4 260.3h.9M86.6 261.0h.9M86.7 260.7h.9M85.6 259.9h.9" stroke="#efc300" stroke-width=".9" opacity="1.00"/>
<path d="M84.0 262.7h.9M86.3 263.4h.9M85.7 263.6h.9M86.4 261.0h.9M86.8 262.2h.9M84.1 262.1h.9M86.8 262.4h.9M86.3 260.6h.9M86.9 262.4h.9M84.1 262.8h.9M85.2 264.0h.9M86.6 262.2h.9M86.2 263.1h.9M84.8 259.6h.9M85.3 259.5h.9M86.1 260.6h.9M86.2 260.7h.9M84.7 260.4h.9M84.3 262.6h.9M84.7 259.8h.9M86.9 261.9h.9M85.8 263.7h.9M85.4 260.0h.9M86.3 263.3h.9M84.5 261.7h.9M84.4 262.4h.9M85.3 259.8h.9M84.5 260.3h.9M85.7 263.9h.9M85.7 263.7h.9M86.3 260.6h.9M84.2 262.5h.9M84.7 259.5h.9M85.1 259.8h.9M86.0 263.2h.9M84.3 261.7h.9M84.5 262.6h.9M85.6 263.6h.9M86.5 261.7h.9M84.8 260.4h.9M84.9 260.5h.9M84.0 262.6h.9M84.5 259.8h.9M85.0 259.9h.9M84.7 260.2h.9" stroke="#f9a000" stroke-width=".9" opacity="1.00"/>
<path d="M85.1 260.3h.9M85.8 260.4h.9M86.2 261.5h.9M85.6 260.3h.9M84.8 260.7h.9M84.5 261.5h.9M84.5 263.3h.9M84.8 260.7h.9M84.6 263.2h.9M85.2 260.1h.9M86.2 261.4h.9M85.2 260.1h.9M86.3 261.3h.9M85.3 260.4h.9M84.9 261.3h.9M84.6 263.1h.9M84.7 261.2h.9M86.3 261.1h.9M84.8 263.3h.9M85.7 260.2h.9M85.4 260.1h.9M84.8 260.5h.9M85.4 260.4h.9M84.7 263.2h.9" stroke="#fa6d00" stroke-width=".9" opacity="1.00"/>
<path d="M84.6 262.0h.9M85.7 262.1h.9M85.8 263.0h.9M85.7 262.3h.9M84.7 262.8h.9M85.2 260.6h.9M85.6 261.0h.9M86.1 262.0h.9M86.0 261.8h.9M85.5 261.0h.9M85.3 262.6h.9M85.1 262.5h.9M85.2 262.1h.9M84.5 262.6h.9M85.9 262.4h.9M86.2 262.8h.9M85.2 263.4h.9M86.4 262.6h.9M85.9 260.7h.9M85.9 261.1h.9M86.4 262.3h.9M85.9 262.5h.9M85.6 261.5h.9M85.0 262.4h.9M85.0 263.2h.9M84.9 262.5h.9M85.9 262.2h.9M85.2 261.7h.9M85.2 262.7h.9M86.2 262.5h.9M84.6 262.2h.9M85.1 261.4h.9M85.2 260.5h.9M85.6 260.5h.9M85.2 263.0h.9M85.5 263.3h.9M85.7 261.3h.9M85.3 262.5h.9M85.8 262.6h.9M85.6 262.7h.9M85.3 261.3h.9M85.9 263.0h.9M85.1 261.1h.9M86.3 262.3h.9M85.5 261.5h.9M84.9 263.0h.9M84.9 262.4h.9M85.8 263.3h.9M85.5 262.6h.9M84.8 261.9h.9M85.1 263.3h.9M85.1 263.2h.9M85.8 263.5h.9M84.9 261.9h.9M85.6 262.4h.9M85.7 261.0h.9M85.3 262.4h.9M85.0 261.6h.9M85.4 263.4h.9M85.9 261.1h.9M86.4 261.9h.9M86.1 261.9h.9M85.7 263.2h.9M84.7 262.4h.9M84.9 262.0h.9M85.1 263.2h.9M85.7 261.6h.9M84.9 261.5h.9M85.3 261.2h.9M85.7 262.6h.9M85.9 262.6h.9M86.1 262.6h.9M86.1 262.3h.9M84.7 262.7h.9M85.2 262.6h.9M85.3 262.6h.9M85.9 262.2h.9M85.8 262.6h.9M86.1 261.8h.9M85.9 261.7h.9M86.2 262.0h.9M85.7 262.6h.9" stroke="#f02400" stroke-width=".9" opacity="1.00"/>
<rect x="61.50" y="203.50" width="78.30" height="71.80" fill="none" stroke="#8a9696" stroke-width="0.9"/>
<line x1="59.90" y1="223.10" x2="61.90" y2="223.10" stroke="#555" stroke-width="0.8"/>
<line x1="60.70" y1="217.50" x2="61.90" y2="217.50" stroke="#777" stroke-width="0.6"/>
<line x1="60.70" y1="214.23" x2="61.90" y2="214.23" stroke="#777" stroke-width="0.6"/>
<line x1="60.70" y1="211.90" x2="61.90" y2="211.90" stroke="#777" stroke-width="0.6"/>
<line x1="60.70" y1="210.10" x2="61.90" y2="210.10" stroke="#777" stroke-width="0.6"/>
<line x1="60.70" y1="208.63" x2="61.90" y2="208.63" stroke="#777" stroke-width="0.6"/>
<line x1="60.70" y1="207.38" x2="61.90" y2="207.38" stroke="#777" stroke-width="0.6"/>
<line x1="60.70" y1="206.30" x2="61.90" y2="206.30" stroke="#777" stroke-width="0.6"/>
<line x1="60.70" y1="205.35" x2="61.90" y2="205.35" stroke="#777" stroke-width="0.6"/>
<line x1="59.90" y1="241.70" x2="61.90" y2="241.70" stroke="#555" stroke-width="0.8"/>
<line x1="60.70" y1="236.10" x2="61.90" y2="236.10" stroke="#777" stroke-width="0.6"/>
<line x1="60.70" y1="232.83" x2="61.90" y2="232.83" stroke="#777" stroke-width="0.6"/>
<line x1="60.70" y1="230.50" x2="61.90" y2="230.50" stroke="#777" stroke-width="0.6"/>
<line x1="60.70" y1="228.70" x2="61.90" y2="228.70" stroke="#777" stroke-width="0.6"/>
<line x1="60.70" y1="227.23" x2="61.90" y2="227.23" stroke="#777" stroke-width="0.6"/>
<line x1="60.70" y1="225.98" x2="61.90" y2="225.98" stroke="#777" stroke-width="0.6"/>
<line x1="60.70" y1="224.90" x2="61.90" y2="224.90" stroke="#777" stroke-width="0.6"/>
<line x1="60.70" y1="223.95" x2="61.90" y2="223.95" stroke="#777" stroke-width="0.6"/>
<line x1="59.90" y1="260.30" x2="61.90" y2="260.30" stroke="#555" stroke-width="0.8"/>
<line x1="60.70" y1="254.70" x2="61.90" y2="254.70" stroke="#777" stroke-width="0.6"/>
<line x1="60.70" y1="251.43" x2="61.90" y2="251.43" stroke="#777" stroke-width="0.6"/>
<line x1="60.70" y1="249.10" x2="61.90" y2="249.10" stroke="#777" stroke-width="0.6"/>
<line x1="60.70" y1="247.30" x2="61.90" y2="247.30" stroke="#777" stroke-width="0.6"/>
<line x1="60.70" y1="245.83" x2="61.90" y2="245.83" stroke="#777" stroke-width="0.6"/>
<line x1="60.70" y1="244.58" x2="61.90" y2="244.58" stroke="#777" stroke-width="0.6"/>
<line x1="60.70" y1="243.50" x2="61.90" y2="243.50" stroke="#777" stroke-width="0.6"/>
<line x1="60.70" y1="242.55" x2="61.90" y2="242.55" stroke="#777" stroke-width="0.6"/>
<line x1="59.90" y1="278.90" x2="61.90" y2="278.90" stroke="#555" stroke-width="0.8"/>
<line x1="60.70" y1="273.30" x2="61.90" y2="273.30" stroke="#777" stroke-width="0.6"/>
<line x1="60.70" y1="270.03" x2="61.90" y2="270.03" stroke="#777" stroke-width="0.6"/>
<line x1="60.70" y1="267.70" x2="61.90" y2="267.70" stroke="#777" stroke-width="0.6"/>
<line x1="60.70" y1="265.90" x2="61.90" y2="265.90" stroke="#777" stroke-width="0.6"/>
<line x1="60.70" y1="264.43" x2="61.90" y2="264.43" stroke="#777" stroke-width="0.6"/>
<line x1="60.70" y1="263.18" x2="61.90" y2="263.18" stroke="#777" stroke-width="0.6"/>
<line x1="60.70" y1="262.10" x2="61.90" y2="262.10" stroke="#777" stroke-width="0.6"/>
<line x1="60.70" y1="261.15" x2="61.90" y2="261.15" stroke="#777" stroke-width="0.6"/>
<line x1="59.10" y1="274.30" x2="61.90" y2="274.30" stroke="#555" stroke-width="0.8"/>
<line x1="62.00" y1="276.90" x2="62.00" y2="274.90" stroke="#777" stroke-width="0.6"/>
<line x1="69.70" y1="276.10" x2="69.70" y2="274.90" stroke="#777" stroke-width="0.6"/>
<line x1="77.40" y1="276.10" x2="77.40" y2="274.90" stroke="#777" stroke-width="0.6"/>
<line x1="85.10" y1="276.10" x2="85.10" y2="274.90" stroke="#777" stroke-width="0.6"/>
<line x1="92.80" y1="276.90" x2="92.80" y2="274.90" stroke="#777" stroke-width="0.6"/>
<line x1="100.50" y1="276.10" x2="100.50" y2="274.90" stroke="#777" stroke-width="0.6"/>
<line x1="108.20" y1="276.10" x2="108.20" y2="274.90" stroke="#777" stroke-width="0.6"/>
<line x1="115.90" y1="276.10" x2="115.90" y2="274.90" stroke="#777" stroke-width="0.6"/>
<line x1="123.60" y1="276.90" x2="123.60" y2="274.90" stroke="#777" stroke-width="0.6"/>
<line x1="131.30" y1="276.10" x2="131.30" y2="274.90" stroke="#777" stroke-width="0.6"/>
<line x1="139.00" y1="276.10" x2="139.00" y2="274.90" stroke="#777" stroke-width="0.6"/>
<rect x="79.50" y="217.80" width="41.70" height="34.50" fill="none" stroke="#606060" stroke-width="0.85"/>
<rect x="62.10" y="246.90" width="7.80" height="17.40" fill="none" stroke="#606060" stroke-width="0.85"/>
<rect x="79.50" y="252.30" width="16.80" height="20.70" fill="none" stroke="#606060" stroke-width="0.85"/>
<rect x="96.30" y="252.30" width="24.90" height="13.70" fill="none" stroke="#606060" stroke-width="0.85"/>
<line x1="79.50" y1="252.30" x2="121.20" y2="252.30" stroke="#222" stroke-width="1.3"/>
<line x1="96.30" y1="252.30" x2="96.30" y2="273.00" stroke="#2a2a2a" stroke-width="1.1"/>
<text transform="translate(100.80,215.10) scale(1.100,1)" font-size="9.4" text-anchor="middle">45,0</text>
<text transform="translate(62.50,245.00) scale(1.100,1)" font-size="9.4">0,6</text>
<text transform="translate(123.00,264.30) scale(1.100,1)" font-size="9.4">5,1</text>
<text transform="translate(97.50,274.50) scale(1.100,1)" font-size="9.4">45,9</text>
<path d="M188.8 269.6h.9M183.2 235.7h.9M180.4 233.2h.9M178.1 242.3h.9M196.9 221.3h.9M209.9 215.3h.9M180.2 246.8h.9M176.3 244.3h.9M223.4 231.7h.9M215.9 248.4h.9M206.7 250.1h.9M217.2 250.0h.9M209.9 243.1h.9M213.2 250.7h.9M219.7 250.4h.9M208.5 263.2h.9M212.4 257.7h.9M203.5 263.0h.9M219.6 262.3h.9M220.4 257.9h.9M214.8 263.3h.9M195.0 256.0h.9M220.4 255.5h.9M216.3 258.1h.9M195.6 262.0h.9M215.4 257.0h.9M197.3 263.6h.9M165.3 262.9h.9M222.0 218.0h.9M200.5 266.6h.9M236.8 253.6h.9M170.7 228.0h.9M236.2 268.9h.9M172.0 261.9h.9M231.0 251.0h.9M198.9 210.9h.9M174.5 222.1h.9M232.9 252.8h.9M218.3 209.9h.9M179.9 217.2h.9M234.6 205.1h.9M184.8 226.7h.9M228.6 250.7h.9M223.1 222.8h.9M224.3 267.9h.9M211.9 212.9h.9M175.3 267.4h.9M174.6 252.6h.9M192.8 270.1h.9M219.2 207.4h.9M231.5 265.1h.9M173.2 256.9h.9" stroke="#344dee" stroke-width=".9" opacity="0.42"/>
<path d="M182.8 260.5h.9M183.1 263.4h.9M192.6 263.7h.9M183.5 251.1h.9M191.8 255.5h.9M189.9 252.4h.9M192.1 262.8h.9M183.5 265.1h.9M184.9 251.8h.9M193.2 260.2h.9M181.1 259.8h.9M183.3 262.2h.9M192.0 258.4h.9M181.5 260.8h.9M192.5 264.0h.9M188.9 268.4h.9M182.7 258.8h.9M193.7 258.3h.9M191.6 253.7h.9M216.2 224.7h.9M200.1 221.3h.9M183.4 245.4h.9M213.3 219.3h.9M207.6 218.6h.9M184.4 249.7h.9M184.8 249.1h.9M184.6 237.0h.9M192.1 255.0h.9M190.2 227.0h.9M207.2 240.4h.9M193.8 249.5h.9M214.0 229.0h.9M213.8 238.2h.9M210.7 240.4h.9M201.5 236.7h.9M219.9 233.9h.9M213.4 228.1h.9M221.7 226.0h.9M216.6 243.5h.9M222.3 228.7h.9M189.3 251.3h.9M218.4 224.2h.9M219.0 238.5h.9M196.5 254.0h.9M202.1 240.5h.9M212.7 232.9h.9M208.0 240.8h.9M182.1 245.2h.9M218.6 223.0h.9M202.5 238.7h.9M200.0 238.5h.9M183.1 250.7h.9M195.0 223.3h.9M212.1 242.0h.9M220.2 232.3h.9M182.3 239.5h.9M211.0 235.6h.9M223.3 227.8h.9M198.9 240.1h.9M215.9 226.0h.9M180.0 248.7h.9M218.6 232.6h.9M195.4 243.6h.9M195.2 247.7h.9M216.2 229.4h.9M182.4 240.8h.9M207.8 243.4h.9M216.5 230.4h.9M182.3 244.9h.9M217.2 222.3h.9M194.0 237.8h.9M179.9 249.7h.9M178.8 248.0h.9M191.9 250.2h.9M186.6 229.0h.9M182.9 241.1h.9M203.6 238.7h.9M217.6 234.3h.9M198.0 249.5h.9M208.3 237.8h.9M212.2 231.5h.9M203.0 247.6h.9M214.5 235.3h.9M219.7 240.5h.9M212.3 246.7h.9M211.6 242.3h.9M202.8 245.6h.9M204.4 248.4h.9M208.0 241.7h.9M210.5 237.6h.9M203.7 247.3h.9M205.7 243.9h.9M194.9 245.2h.9M212.5 243.9h.9M219.2 247.3h.9M217.2 245.5h.9M205.9 243.7h.9M211.2 235.2h.9M220.0 245.1h.9M196.2 251.4h.9M211.9 245.6h.9M195.5 238.3h.9M202.7 245.4h.9M218.0 239.0h.9M218.3 241.9h.9M201.4 238.7h.9M219.2 240.2h.9M197.1 246.8h.9M206.8 240.2h.9M214.2 241.1h.9M210.7 247.6h.9M214.4 244.3h.9M208.2 247.6h.9M217.4 233.2h.9M219.6 243.5h.9M197.4 247.0h.9M210.5 240.0h.9M210.5 248.8h.9M219.8 231.0h.9M197.2 242.9h.9M209.5 241.3h.9M199.2 241.5h.9M206.1 244.8h.9M206.7 242.0h.9M194.8 251.3h.9M205.7 245.0h.9M206.1 238.6h.9M199.2 247.5h.9M214.0 246.8h.9M194.0 251.4h.9M197.6 250.8h.9M216.0 242.5h.9M207.2 246.7h.9M214.4 240.2h.9M217.1 240.6h.9M196.2 250.1h.9M202.6 250.9h.9M215.7 240.2h.9M211.6 253.5h.9M201.6 257.9h.9M211.5 261.6h.9M192.2 256.7h.9M209.6 256.9h.9M210.1 261.0h.9M193.1 258.1h.9M202.9 261.1h.9M199.9 253.7h.9M209.4 260.6h.9M197.6 253.6h.9M204.2 260.6h.9M207.6 261.4h.9M213.2 263.9h.9M204.7 253.6h.9M209.0 255.5h.9M212.4 255.0h.9M195.8 259.6h.9M196.3 254.5h.9M212.1 264.3h.9M195.2 259.0h.9M197.5 258.8h.9M211.4 254.0h.9M197.5 259.2h.9M208.0 257.5h.9M191.1 264.3h.9M203.7 256.4h.9M210.1 261.1h.9M205.1 254.0h.9M206.1 263.4h.9M211.8 255.9h.9M202.2 258.7h.9M199.5 261.4h.9M202.1 260.1h.9M201.0 253.2h.9M167.9 246.5h.9M167.4 245.3h.9M166.3 258.3h.9M166.1 244.1h.9M166.6 259.3h.9M163.3 250.7h.9M164.2 257.3h.9M164.9 244.6h.9M199.9 248.8h.9M199.5 248.8h.9M201.7 251.5h.9M221.3 232.1h.9M180.3 252.7h.9M181.6 252.6h.9M172.8 253.8h.9M180.0 257.6h.9M176.2 257.3h.9M171.3 254.2h.9M170.3 255.9h.9M163.0 255.6h.9M163.3 253.5h.9M170.9 255.5h.9M169.7 255.4h.9" stroke="#2649ec" stroke-width=".9" opacity="0.50"/>
<path d="M182.0 257.7h.9M187.5 251.9h.9M184.8 265.5h.9M182.0 260.1h.9M187.7 252.7h.9M190.1 254.9h.9M188.5 266.3h.9M190.6 263.4h.9M189.0 265.9h.9M183.8 263.7h.9M190.0 263.5h.9M183.6 259.5h.9M190.3 255.0h.9M183.9 257.7h.9M189.6 253.0h.9M187.4 252.1h.9M182.8 256.6h.9M191.8 260.3h.9M185.8 265.6h.9M189.5 248.7h.9M207.9 219.4h.9M185.8 237.4h.9M195.1 224.3h.9M192.0 239.9h.9M187.2 249.6h.9M199.8 229.5h.9M189.2 227.2h.9M187.7 231.4h.9M216.4 220.8h.9M214.8 223.7h.9M213.9 225.2h.9M215.1 219.9h.9M213.5 225.1h.9M189.2 228.0h.9M213.5 219.8h.9M186.4 250.6h.9M215.7 223.3h.9M220.7 235.9h.9M216.7 235.9h.9M194.7 235.6h.9M210.6 229.5h.9M186.1 250.9h.9M199.1 236.7h.9M191.9 247.6h.9M219.4 225.5h.9M215.2 239.4h.9M184.2 246.0h.9M212.6 230.4h.9M215.6 236.3h.9M218.6 228.2h.9M198.7 233.1h.9M196.2 243.8h.9M217.0 229.0h.9M206.1 233.7h.9M212.9 228.0h.9M206.3 232.8h.9M206.2 237.6h.9M211.7 226.6h.9M203.8 233.9h.9M197.1 238.2h.9M193.2 245.9h.9M210.5 226.6h.9M200.9 231.1h.9M200.9 233.7h.9M197.4 239.8h.9M216.3 236.4h.9M196.7 241.0h.9M213.1 231.0h.9M192.6 247.2h.9M200.4 232.9h.9M192.8 239.5h.9M216.1 232.4h.9M201.4 235.7h.9M202.7 230.4h.9M194.5 241.8h.9M193.2 238.0h.9M204.0 232.5h.9M206.3 234.1h.9M216.8 239.9h.9M204.1 232.0h.9M205.7 228.3h.9M195.8 234.8h.9M192.3 241.0h.9M188.6 227.3h.9M208.3 229.4h.9M199.7 235.5h.9M199.4 233.8h.9M212.0 227.2h.9M196.6 245.2h.9M188.0 229.9h.9M217.5 229.1h.9M211.4 228.8h.9M196.2 245.4h.9M203.5 236.1h.9M200.7 233.5h.9M214.9 232.0h.9M198.8 238.0h.9M203.8 234.4h.9M210.6 230.9h.9M217.5 236.3h.9M207.0 232.1h.9M189.0 228.4h.9M195.7 242.3h.9M218.8 224.7h.9M184.2 243.8h.9M190.2 253.9h.9M201.4 243.6h.9M201.7 233.5h.9M212.4 229.6h.9M200.1 242.5h.9M197.6 241.3h.9M204.3 231.9h.9M198.0 232.0h.9M201.6 230.8h.9M215.4 219.6h.9M188.3 250.6h.9M217.5 236.8h.9M196.1 233.5h.9M216.2 238.5h.9M218.9 235.3h.9M206.5 229.8h.9M215.8 232.5h.9M210.8 231.0h.9M216.1 227.5h.9M220.2 226.9h.9M185.1 247.2h.9M206.6 229.6h.9M214.6 237.8h.9M202.7 236.7h.9M199.6 231.1h.9M196.2 240.6h.9M202.8 232.6h.9M208.0 236.9h.9M200.1 229.9h.9M198.6 233.8h.9M186.2 252.7h.9M193.5 246.9h.9M214.3 230.4h.9M199.8 231.0h.9M201.7 248.8h.9M191.3 251.5h.9M189.5 250.2h.9M191.9 249.1h.9M197.5 239.9h.9M211.9 239.8h.9M198.4 244.0h.9M194.2 241.5h.9M216.3 226.8h.9M205.5 237.7h.9M210.5 229.1h.9M195.1 250.4h.9M206.3 233.4h.9M220.1 246.8h.9M199.9 243.0h.9M216.5 237.3h.9M204.3 230.0h.9M217.9 238.4h.9M206.0 228.3h.9M191.1 250.8h.9M218.1 244.8h.9M219.0 245.6h.9M196.8 232.9h.9M218.2 242.2h.9M212.7 243.4h.9M191.1 249.1h.9M195.1 249.1h.9M192.2 242.7h.9M216.5 236.3h.9M205.9 228.2h.9M220.2 246.1h.9M190.9 250.6h.9M206.0 237.3h.9M195.1 240.9h.9M199.4 242.6h.9M194.0 247.1h.9M217.9 228.1h.9M219.5 246.2h.9M220.3 226.5h.9M217.7 229.8h.9M217.9 243.0h.9M209.6 233.5h.9M196.5 243.3h.9M201.9 248.7h.9M206.2 235.0h.9M218.8 243.1h.9M207.8 236.1h.9M218.0 245.2h.9M201.3 249.3h.9M200.1 246.3h.9M213.4 242.6h.9M197.6 244.8h.9M199.6 245.3h.9M218.0 228.5h.9M213.9 232.7h.9M220.3 236.5h.9M196.8 245.9h.9M209.8 236.5h.9M201.7 244.6h.9M193.2 240.0h.9M195.2 240.6h.9M192.0 247.5h.9M214.7 231.1h.9M198.0 240.9h.9M212.1 239.7h.9M188.5 227.3h.9M216.4 238.4h.9M217.8 237.8h.9M201.5 235.3h.9M214.3 230.1h.9M194.4 248.3h.9M212.8 226.8h.9M212.8 246.5h.9M200.8 246.3h.9M194.9 248.7h.9M197.2 232.2h.9M199.2 244.3h.9M218.0 244.2h.9M194.2 245.6h.9M217.2 226.0h.9M218.0 233.1h.9M208.5 228.7h.9M201.7 230.9h.9M200.1 243.3h.9M191.6 245.5h.9M192.3 244.8h.9M213.5 243.1h.9M200.1 233.7h.9M212.1 240.9h.9M199.5 235.9h.9M217.1 227.4h.9M219.4 234.7h.9M212.7 245.6h.9M206.3 261.7h.9M203.3 260.8h.9M211.1 259.2h.9M200.1 258.1h.9M206.6 259.3h.9M205.3 257.8h.9M199.1 260.3h.9M204.3 258.5h.9M200.2 258.4h.9M206.6 258.6h.9M206.0 256.6h.9M200.7 258.8h.9M208.5 256.5h.9M203.9 257.6h.9M199.1 259.6h.9M200.3 258.3h.9M204.5 258.1h.9M206.4 256.7h.9M198.1 257.3h.9M209.0 258.9h.9M200.1 260.3h.9M205.9 261.7h.9M205.1 256.9h.9M197.9 255.7h.9M206.6 259.6h.9M204.4 259.1h.9M210.2 258.9h.9M205.9 260.5h.9M211.5 259.1h.9M208.9 256.6h.9M204.2 257.4h.9M205.7 262.3h.9M210.7 259.4h.9M205.3 259.0h.9M208.6 258.3h.9M197.6 256.3h.9M211.1 259.6h.9M205.8 256.4h.9M199.2 259.5h.9M207.3 260.1h.9M209.3 259.1h.9M206.0 261.6h.9M198.0 256.1h.9M167.4 248.3h.9M167.3 255.6h.9M164.1 255.1h.9M167.7 255.1h.9M165.7 257.4h.9M166.4 246.6h.9M164.1 246.7h.9M165.4 245.3h.9M164.5 256.5h.9M198.8 256.9h.9M199.3 257.2h.9M219.1 236.6h.9M167.7 254.5h.9M191.8 245.4h.9M214.6 237.8h.9M174.7 255.2h.9M180.5 255.5h.9M176.9 253.9h.9M182.8 257.1h.9M184.8 253.1h.9M176.1 256.2h.9M182.3 253.5h.9M176.3 256.2h.9M179.7 254.5h.9M179.3 255.9h.9M175.8 254.8h.9M178.1 253.8h.9M180.3 254.6h.9M174.7 255.4h.9M178.6 256.5h.9M174.5 255.1h.9M178.4 254.2h.9M182.0 253.6h.9" stroke="#1748eb" stroke-width=".9" opacity="0.58"/>
<path d="M185.7 265.4h.9M189.2 264.7h.9M187.3 252.8h.9M188.7 254.5h.9M190.0 257.4h.9M190.0 258.7h.9M189.5 254.6h.9M183.8 255.5h.9M185.4 253.8h.9M190.8 259.9h.9M188.3 254.4h.9M186.0 265.3h.9M186.6 253.3h.9M188.5 265.8h.9M187.6 265.8h.9M190.8 260.6h.9M185.6 253.6h.9M215.8 221.0h.9M187.7 231.9h.9M193.6 233.6h.9M200.5 222.9h.9M187.9 231.3h.9M205.3 220.9h.9M186.4 237.6h.9M185.0 245.4h.9M194.8 225.3h.9M186.9 235.2h.9M186.2 248.6h.9M199.1 222.8h.9M186.0 238.7h.9M190.4 245.8h.9M216.1 220.6h.9M186.2 248.6h.9M187.5 249.0h.9M215.3 223.0h.9M185.0 241.0h.9M209.4 220.1h.9M185.3 243.5h.9M211.5 219.7h.9M198.8 223.1h.9M186.4 236.2h.9M215.5 220.7h.9M211.3 219.6h.9M185.3 246.3h.9M191.7 242.4h.9M187.3 233.3h.9M209.0 232.8h.9M197.7 235.4h.9M203.3 233.3h.9M208.1 231.8h.9M196.1 234.5h.9M205.3 227.1h.9M192.9 246.5h.9M197.5 236.8h.9M209.0 235.4h.9M203.9 229.5h.9M186.9 233.7h.9M197.2 234.9h.9M204.6 227.5h.9M204.2 229.2h.9M218.8 226.9h.9M208.4 226.7h.9M203.5 232.8h.9M197.1 237.9h.9M191.4 247.9h.9M209.9 231.2h.9M186.3 249.3h.9M194.0 235.2h.9M208.0 230.0h.9M208.2 232.0h.9M196.8 236.2h.9M186.3 248.8h.9M208.6 230.1h.9M203.6 230.1h.9M193.6 235.6h.9M208.1 232.9h.9M210.1 229.8h.9M188.8 230.8h.9M207.9 235.3h.9M202.0 233.2h.9M208.0 232.1h.9M206.9 235.3h.9M209.3 231.4h.9M196.9 235.8h.9M209.9 229.7h.9M218.4 226.1h.9M197.2 231.2h.9M219.3 226.0h.9M208.2 233.4h.9M202.2 233.8h.9M195.7 241.0h.9M201.5 229.2h.9M184.9 243.5h.9M203.7 229.1h.9M185.6 242.4h.9M197.3 236.0h.9M197.9 230.4h.9M191.2 247.2h.9M207.1 230.9h.9M203.3 235.6h.9M220.0 235.9h.9M201.4 222.1h.9M214.3 231.6h.9M201.3 244.7h.9M209.0 227.5h.9M198.4 237.4h.9M206.9 234.4h.9M208.3 219.6h.9M213.7 231.6h.9M208.8 226.8h.9M210.8 219.8h.9M197.9 237.6h.9M189.8 248.2h.9M200.5 244.1h.9M208.1 235.4h.9M203.9 235.8h.9M197.5 237.5h.9M214.6 232.1h.9M194.2 234.7h.9M217.8 225.5h.9M197.9 234.1h.9M191.5 242.8h.9M208.9 235.3h.9M197.9 230.9h.9M219.8 236.0h.9M203.8 229.7h.9M199.4 244.7h.9M217.7 225.9h.9M197.1 234.1h.9M188.5 249.0h.9M209.7 226.7h.9M202.5 234.6h.9M219.8 235.6h.9M191.3 243.3h.9M201.2 229.9h.9M207.9 230.4h.9M200.3 244.0h.9M207.6 235.0h.9M200.7 245.3h.9M209.2 232.1h.9M199.3 235.6h.9M208.6 233.4h.9M207.3 230.2h.9M203.6 235.3h.9M192.8 246.2h.9M208.5 235.3h.9M198.8 236.0h.9M203.2 236.0h.9M209.6 231.7h.9M193.9 235.4h.9M189.9 229.0h.9M218.7 225.8h.9M202.8 235.8h.9M164.9 246.8h.9M167.4 248.1h.9M166.4 256.5h.9M166.1 257.0h.9M164.1 250.0h.9M164.4 253.1h.9M165.7 255.8h.9M165.8 256.9h.9M167.9 250.4h.9M164.6 248.8h.9M167.5 249.1h.9M164.8 248.8h.9M165.5 245.6h.9M164.7 254.6h.9M164.1 252.6h.9M165.7 246.2h.9M164.5 248.5h.9M201.9 229.3h.9M182.8 255.0h.9M164.1 252.7h.9M165.7 256.4h.9M181.7 255.5h.9M177.9 254.6h.9M181.7 254.5h.9M179.3 255.3h.9M183.7 256.6h.9M181.2 254.7h.9M182.4 255.3h.9M186.3 253.1h.9M175.5 255.9h.9M176.8 255.4h.9M176.5 254.1h.9M177.4 255.7h.9M182.3 254.5h.9M188.6 254.2h.9M176.7 254.5h.9M177.9 255.2h.9M178.1 255.0h.9M183.8 256.9h.9" stroke="#0d66eb" stroke-width=".9" opacity="0.66"/>
<path d="M189.5 262.3h.9M189.2 263.4h.9M184.8 254.7h.9M189.8 258.7h.9M188.8 256.0h.9M189.6 257.3h.9M184.9 261.0h.9M185.8 254.4h.9M187.7 265.0h.9M185.4 264.2h.9M184.5 262.8h.9M190.8 260.2h.9M188.5 264.5h.9M189.6 256.6h.9M187.9 265.3h.9M188.7 255.9h.9M187.7 265.3h.9M185.1 254.8h.9M189.8 257.4h.9M189.6 262.0h.9M184.2 255.7h.9M184.4 256.4h.9M185.6 240.8h.9M190.7 228.7h.9M187.8 248.1h.9M201.1 222.8h.9M212.2 225.4h.9M199.1 228.7h.9M189.8 247.4h.9M191.3 242.0h.9M203.9 227.9h.9M193.1 236.0h.9M186.1 242.4h.9M188.8 231.4h.9M210.0 225.2h.9M186.0 239.7h.9M206.6 225.9h.9M213.6 220.8h.9M213.0 224.3h.9M205.0 221.5h.9M189.7 229.8h.9M186.9 234.9h.9M186.3 245.1h.9M212.0 220.6h.9M200.2 228.1h.9M191.4 239.0h.9M211.8 225.2h.9M213.8 220.7h.9M205.3 221.1h.9M208.4 225.7h.9M187.2 235.3h.9M200.5 223.4h.9M214.3 223.3h.9M193.4 226.3h.9M186.8 236.3h.9M185.6 246.3h.9M206.3 225.8h.9M196.0 224.6h.9M193.2 226.8h.9M196.7 231.0h.9M192.5 227.3h.9M186.3 243.3h.9M188.0 232.6h.9M215.2 222.4h.9M200.6 223.4h.9M195.1 231.9h.9M186.7 236.2h.9M194.9 225.3h.9M189.2 230.9h.9M186.0 246.7h.9M210.8 220.0h.9M186.5 247.7h.9M199.6 223.5h.9M193.4 226.2h.9M204.6 227.3h.9M190.0 246.7h.9M188.1 248.0h.9M185.9 241.8h.9M209.3 226.4h.9M207.6 220.2h.9M197.3 235.6h.9M208.2 225.5h.9M193.3 236.1h.9M197.7 230.6h.9M206.9 225.5h.9M191.0 242.6h.9M197.8 224.0h.9M193.3 234.1h.9M187.4 233.9h.9M186.9 234.4h.9M207.6 220.4h.9M192.4 237.2h.9M186.8 248.3h.9M185.5 244.4h.9M185.4 243.6h.9M194.3 232.5h.9M190.1 245.9h.9M209.1 225.7h.9M188.4 248.2h.9M208.7 226.5h.9M194.3 232.2h.9M197.4 235.5h.9M192.3 228.1h.9M164.8 250.7h.9M165.1 247.4h.9M165.9 255.1h.9M167.3 252.0h.9M165.5 247.0h.9M164.9 252.5h.9M167.0 249.1h.9M165.2 246.9h.9M166.2 248.4h.9M167.3 248.6h.9M164.7 250.9h.9M166.1 247.5h.9M165.0 249.5h.9M165.2 249.9h.9M164.7 252.6h.9M165.7 248.5h.9M164.9 250.7h.9M167.4 251.9h.9M166.8 255.3h.9M165.8 247.6h.9M165.5 248.2h.9M188.7 255.2h.9M184.7 254.7h.9" stroke="#0383eb" stroke-width=".9" opacity="0.75"/>
<path d="M188.1 256.0h.9M185.8 255.3h.9M188.6 263.2h.9M186.6 264.9h.9M186.9 264.9h.9M185.1 264.0h.9M187.6 255.4h.9M189.1 257.3h.9M184.7 258.8h.9M185.3 256.4h.9M190.3 260.2h.9M190.0 260.6h.9M185.1 257.5h.9M185.0 263.6h.9M188.4 245.8h.9M188.0 233.6h.9M197.7 229.9h.9M186.1 240.5h.9M188.4 246.1h.9M197.9 223.8h.9M192.5 233.6h.9M199.3 228.0h.9M187.2 247.4h.9M197.2 230.2h.9M213.9 222.5h.9M186.1 244.2h.9M189.6 246.9h.9M197.7 229.1h.9M200.1 224.3h.9M190.7 229.5h.9M189.3 246.3h.9M212.4 224.8h.9M207.8 224.9h.9M186.6 244.2h.9M188.4 246.4h.9M187.6 246.2h.9M214.5 221.8h.9M186.2 245.8h.9M187.6 235.7h.9M187.3 238.3h.9M201.8 227.8h.9M187.1 238.1h.9M202.3 222.6h.9M186.9 244.7h.9M190.3 244.3h.9M189.6 246.9h.9M200.6 223.7h.9M185.9 244.0h.9M211.3 220.7h.9M201.6 223.1h.9M212.3 224.7h.9M187.3 236.3h.9M190.4 239.3h.9M211.1 220.8h.9M186.0 240.0h.9M204.3 221.8h.9M187.3 248.0h.9M214.5 221.4h.9M190.0 243.6h.9M186.5 246.9h.9M192.3 234.2h.9M188.4 234.7h.9M199.1 223.7h.9M200.3 227.7h.9M195.3 231.1h.9M214.3 221.2h.9M199.9 227.9h.9M186.6 246.4h.9M188.2 247.2h.9M187.2 244.4h.9M186.5 244.3h.9M214.5 221.7h.9M199.7 224.5h.9M195.2 225.7h.9M187.6 245.1h.9M214.5 221.9h.9M202.1 227.5h.9M189.2 247.3h.9M185.9 246.4h.9M194.8 226.4h.9M186.7 239.3h.9M213.4 221.4h.9M186.4 238.7h.9M203.2 222.1h.9M214.2 220.7h.9M186.8 247.2h.9M187.4 238.0h.9M211.9 224.7h.9M186.8 246.2h.9M189.1 232.4h.9M190.1 241.9h.9M188.2 245.4h.9M189.4 231.5h.9M188.2 247.3h.9M206.8 225.1h.9M209.7 225.2h.9M190.0 241.7h.9M190.4 241.6h.9M206.0 225.0h.9M204.7 226.0h.9M201.1 227.8h.9M187.4 235.6h.9M200.1 227.8h.9M189.6 246.3h.9M192.7 236.4h.9M192.0 234.5h.9M193.5 226.9h.9M189.8 231.3h.9M190.3 240.9h.9M194.5 226.3h.9M166.4 252.0h.9M165.8 254.5h.9M167.3 250.2h.9M166.5 254.5h.9M165.0 253.8h.9M165.5 254.4h.9M167.2 251.4h.9M166.8 254.4h.9M165.2 253.0h.9M166.5 252.7h.9M166.8 249.9h.9M164.9 251.4h.9M166.4 249.9h.9M166.1 249.0h.9M189.9 246.6h.9M185.2 255.1h.9M185.0 255.3h.9M187.8 255.1h.9" stroke="#07a1c1" stroke-width=".9" opacity="0.83"/>
<path d="M189.2 261.5h.9M185.4 256.8h.9M189.8 259.8h.9M188.7 257.3h.9M185.4 260.0h.9M189.6 260.3h.9M188.5 257.9h.9M188.6 257.9h.9M188.7 257.1h.9M188.3 264.0h.9M186.5 255.2h.9M185.2 258.0h.9M189.0 257.9h.9M185.2 262.6h.9M194.0 227.1h.9M195.9 230.3h.9M212.8 224.1h.9M198.6 224.2h.9M211.2 221.1h.9M190.2 234.9h.9M191.9 233.6h.9M209.1 224.7h.9M188.0 236.1h.9M204.5 225.3h.9M213.8 222.1h.9M197.6 224.2h.9M192.1 233.7h.9M201.6 227.5h.9M188.6 245.1h.9M196.6 228.6h.9M191.0 238.6h.9M193.3 228.0h.9M204.7 225.9h.9M199.6 226.7h.9M201.8 227.2h.9M188.9 233.2h.9M197.0 229.3h.9M209.1 225.0h.9M196.8 230.3h.9M200.9 225.6h.9M198.0 228.1h.9M193.3 227.7h.9M189.1 232.5h.9M190.4 230.4h.9M191.4 235.2h.9M200.7 225.6h.9M195.0 231.0h.9M188.6 234.6h.9M200.6 225.2h.9M199.4 224.7h.9M205.0 221.8h.9M209.8 221.1h.9M187.4 239.3h.9M197.0 228.9h.9M189.9 243.4h.9M188.8 233.4h.9M197.6 228.7h.9M189.8 241.6h.9M186.8 239.9h.9M191.9 238.1h.9M191.1 229.5h.9M201.0 224.6h.9M190.3 231.2h.9M189.2 245.7h.9M191.5 229.5h.9M204.2 226.6h.9M203.6 222.2h.9M191.9 236.3h.9M197.8 224.2h.9M189.9 231.4h.9M191.2 229.4h.9M188.7 233.8h.9M188.5 234.8h.9M189.8 244.7h.9M189.2 233.4h.9M210.0 224.8h.9M188.0 244.3h.9M200.0 226.6h.9M193.6 227.2h.9M200.2 225.6h.9M189.3 245.0h.9M193.0 227.4h.9M189.3 235.2h.9M191.0 234.9h.9M189.4 244.7h.9M191.6 237.8h.9M189.6 232.3h.9M199.9 228.0h.9M210.7 221.5h.9M197.7 224.3h.9M189.1 234.6h.9M195.7 225.7h.9M191.3 234.8h.9M210.6 221.2h.9M188.3 243.9h.9M190.5 234.6h.9M213.4 221.8h.9M189.1 235.3h.9M196.4 225.2h.9M206.5 221.2h.9M187.4 237.4h.9M200.8 227.1h.9M214.0 222.0h.9M196.4 228.6h.9M188.6 234.4h.9M190.6 230.1h.9M199.1 224.8h.9M198.9 224.8h.9M199.1 224.8h.9M199.5 226.8h.9M214.2 221.6h.9M192.1 233.3h.9M197.3 224.7h.9M199.8 225.9h.9M188.0 244.5h.9M196.8 229.5h.9M195.8 225.6h.9M200.3 225.0h.9M197.0 224.7h.9M190.1 230.7h.9M194.8 231.0h.9M193.3 227.9h.9M186.9 241.7h.9M204.3 226.0h.9M189.7 241.5h.9M209.8 224.6h.9M191.7 237.8h.9M200.5 224.7h.9M187.0 242.6h.9M195.0 230.5h.9M189.4 243.4h.9M189.0 244.6h.9M191.5 235.5h.9M192.1 236.2h.9M201.0 227.1h.9M204.4 225.3h.9M204.5 225.8h.9M198.0 228.5h.9M189.6 243.3h.9M194.8 231.4h.9M198.4 228.4h.9M202.9 227.3h.9M191.8 238.0h.9M189.6 244.2h.9M189.4 234.2h.9M190.5 229.6h.9M166.0 253.8h.9M166.0 253.4h.9M166.1 251.1h.9M165.7 253.9h.9M165.9 253.5h.9M166.6 251.6h.9M165.6 253.4h.9M166.0 252.4h.9M166.7 250.5h.9M165.5 251.9h.9M166.3 253.2h.9M165.9 250.6h.9M165.4 250.6h.9M166.2 251.1h.9M165.6 253.9h.9M166.0 250.5h.9M166.8 250.3h.9M166.0 250.9h.9M165.9 252.9h.9M166.1 250.8h.9M166.4 253.7h.9" stroke="#11c185" stroke-width=".9" opacity="0.91"/>
<path d="M186.5 255.5h.9M187.0 257.3h.9M186.5 255.9h.9M185.6 257.7h.9M188.3 257.6h.9M185.3 262.1h.9M187.0 256.8h.9M188.3 263.0h.9M185.6 257.9h.9M185.4 258.7h.9M186.0 256.9h.9M188.5 258.3h.9M185.0 259.1h.9M186.7 255.6h.9M187.8 257.2h.9M189.2 259.8h.9M185.8 263.6h.9M184.9 259.0h.9M187.4 256.0h.9M189.0 261.0h.9M189.2 259.7h.9M187.2 255.9h.9M185.1 262.2h.9M185.7 264.0h.9M185.6 257.9h.9M188.0 263.1h.9M188.3 257.9h.9M187.1 241.6h.9M188.9 243.8h.9M201.5 224.5h.9M201.7 226.1h.9M189.2 242.4h.9M187.3 240.4h.9M199.3 226.9h.9M210.9 224.1h.9M195.8 226.2h.9M203.4 226.2h.9M191.4 233.3h.9M189.1 241.6h.9M188.1 238.7h.9M189.1 244.3h.9M190.9 234.2h.9M212.6 223.8h.9M189.4 240.7h.9M193.3 232.3h.9M202.9 223.3h.9M190.5 233.3h.9M195.2 227.6h.9M192.5 232.6h.9M203.6 226.8h.9M208.4 221.0h.9M207.3 221.4h.9M195.7 229.3h.9M191.3 232.3h.9M196.1 226.4h.9M197.7 225.4h.9M189.6 234.6h.9M207.1 224.0h.9M196.2 227.9h.9M195.7 226.4h.9M188.3 236.5h.9M190.3 232.9h.9M196.2 229.6h.9M194.6 227.6h.9M191.6 236.6h.9M188.7 243.5h.9M193.0 232.2h.9M208.9 224.0h.9M213.1 222.8h.9M186.6 241.4h.9M196.7 225.9h.9M196.0 227.7h.9M209.6 224.1h.9M187.9 238.4h.9M211.9 221.8h.9M203.1 222.8h.9M187.6 242.3h.9M196.0 227.8h.9M187.5 242.0h.9M192.2 232.7h.9M196.2 226.2h.9M196.7 229.4h.9M188.4 238.3h.9M195.4 229.9h.9M212.7 223.5h.9M195.9 227.3h.9M211.7 221.7h.9M203.2 226.6h.9M202.4 223.2h.9M195.4 227.8h.9M205.0 224.7h.9M205.1 224.9h.9M202.6 227.2h.9M194.7 227.9h.9M190.9 234.2h.9M190.9 234.1h.9M192.4 229.2h.9M189.5 239.5h.9M187.1 240.5h.9M206.4 224.6h.9M197.3 225.4h.9M191.7 236.6h.9M208.5 221.1h.9M190.6 232.3h.9M188.4 236.4h.9M210.7 224.1h.9M193.2 232.0h.9M189.1 242.6h.9M199.1 226.9h.9M189.7 233.1h.9M201.7 226.7h.9M188.1 243.4h.9M190.3 233.9h.9M209.6 224.0h.9M212.9 222.6h.9M187.4 242.4h.9M207.3 221.0h.9M191.2 229.8h.9M208.6 224.4h.9M186.9 241.9h.9M191.3 233.4h.9M201.5 224.6h.9M190.4 230.9h.9M188.3 237.1h.9M208.3 221.2h.9M212.1 221.7h.9M190.4 232.9h.9M190.6 232.2h.9M195.6 228.7h.9M187.4 242.9h.9M198.9 226.2h.9M191.6 232.5h.9M188.8 244.3h.9M186.9 241.2h.9M194.9 230.2h.9M201.9 225.6h.9M190.0 233.7h.9M201.5 226.9h.9M212.9 222.8h.9M194.2 231.4h.9M190.8 239.0h.9M188.5 242.5h.9M196.3 228.8h.9M190.7 232.4h.9M203.0 226.6h.9M197.6 224.6h.9M198.1 225.3h.9M198.7 228.0h.9M206.2 221.8h.9M196.0 229.7h.9M189.2 242.0h.9M191.1 233.6h.9M191.3 235.6h.9M189.3 243.2h.9M188.8 243.9h.9M189.6 241.3h.9M190.5 231.0h.9M190.9 238.2h.9M188.3 242.3h.9M189.6 235.4h.9M202.6 227.0h.9M204.5 222.0h.9M186.3 255.9h.9M187.4 242.6h.9M211.0 224.0h.9M203.2 226.7h.9M189.6 235.9h.9M193.8 231.7h.9M191.8 236.5h.9M199.3 225.5h.9M199.1 225.7h.9M189.9 232.6h.9M189.8 234.0h.9M195.8 226.3h.9M186.6 256.0h.9" stroke="#36ce55" stroke-width=".9" opacity="0.99"/>
<path d="M185.4 259.3h.9M186.9 256.2h.9M187.3 263.6h.9M185.7 261.1h.9M188.0 263.0h.9M188.5 262.0h.9M189.0 260.2h.9M186.6 256.9h.9M186.9 263.6h.9M187.0 263.8h.9M185.5 258.1h.9M186.0 257.6h.9M188.6 259.3h.9M186.7 256.7h.9M188.9 260.8h.9M185.7 260.0h.9M185.8 261.1h.9M185.4 259.1h.9M185.4 259.8h.9M186.6 256.8h.9M187.2 263.9h.9M185.6 258.9h.9M188.2 262.3h.9M185.5 258.1h.9M186.5 263.6h.9M186.2 263.6h.9M188.0 241.9h.9M189.2 239.4h.9M188.9 239.5h.9M209.5 221.7h.9M187.1 240.6h.9M189.8 239.4h.9M205.0 224.5h.9M190.3 236.0h.9M202.3 225.1h.9M211.9 223.5h.9M197.6 225.9h.9M211.0 221.6h.9M188.7 238.6h.9M196.6 226.9h.9M203.2 226.2h.9M188.9 236.8h.9M203.8 225.3h.9M203.6 225.4h.9M198.4 226.0h.9M187.6 241.6h.9M191.8 230.0h.9M193.1 228.6h.9M192.4 232.2h.9M207.8 224.0h.9M188.9 236.3h.9M194.4 230.4h.9M195.4 228.9h.9M198.0 227.0h.9M202.7 225.5h.9M203.8 222.6h.9M194.6 228.0h.9M194.5 230.5h.9M191.2 237.4h.9M188.8 238.9h.9M198.4 227.0h.9M210.3 221.8h.9M188.7 238.1h.9M190.3 236.3h.9M194.6 228.3h.9M190.7 236.7h.9M190.4 236.3h.9M189.0 240.0h.9M209.1 221.7h.9M202.1 224.3h.9M193.6 228.2h.9M188.9 236.5h.9M193.4 228.8h.9M191.4 237.1h.9M202.6 225.9h.9M212.4 222.7h.9M191.0 231.1h.9M194.0 227.8h.9M190.2 236.3h.9M206.4 224.4h.9M192.2 229.6h.9M190.4 237.0h.9M202.7 226.8h.9M190.4 238.1h.9M198.6 226.9h.9M205.6 224.3h.9M202.3 226.2h.9M203.1 226.3h.9M202.3 225.6h.9M188.7 236.6h.9M190.2 238.3h.9M194.5 230.2h.9M205.8 224.3h.9M202.2 225.2h.9M204.3 224.5h.9M203.2 225.6h.9M195.2 228.8h.9M188.7 236.7h.9M212.2 222.4h.9M189.5 238.8h.9M189.3 240.1h.9M191.9 232.4h.9M197.4 226.0h.9M191.2 236.4h.9M189.0 240.7h.9M208.6 223.8h.9M212.9 223.4h.9M206.3 224.3h.9M202.0 224.7h.9M186.9 241.1h.9M197.7 225.7h.9M190.9 230.5h.9M188.6 238.3h.9M205.9 222.4h.9M192.5 229.2h.9M190.7 236.7h.9M197.7 227.8h.9M190.9 236.9h.9M202.3 226.4h.9M191.6 232.1h.9M191.3 237.6h.9M212.5 223.2h.9M189.2 241.0h.9M202.3 224.6h.9M207.9 223.6h.9M193.8 230.8h.9M189.2 239.6h.9M195.1 229.1h.9M196.5 226.6h.9M202.1 225.7h.9M190.7 238.4h.9M190.3 236.3h.9M186.9 256.2h.9M186.5 256.4h.9" stroke="#63d728" stroke-width=".9" opacity="1.00"/>
<path d="M188.1 261.6h.9M188.2 261.5h.9M187.9 262.9h.9M186.3 263.1h.9M187.7 262.9h.9M188.2 258.7h.9M188.4 261.0h.9M186.4 258.4h.9M185.8 262.7h.9M185.6 261.8h.9M187.7 258.1h.9M188.6 259.5h.9M186.6 258.5h.9M188.6 259.9h.9M186.8 258.2h.9M187.1 263.0h.9M185.9 262.7h.9M186.8 258.0h.9M187.9 261.6h.9M187.6 262.7h.9M207.2 221.7h.9M197.9 227.3h.9M211.6 222.4h.9M203.9 222.7h.9M197.6 227.4h.9M210.7 222.2h.9M202.9 224.0h.9M203.4 224.1h.9M187.9 240.8h.9M209.7 222.4h.9M204.5 222.7h.9M208.8 221.8h.9M189.4 238.5h.9M192.4 231.5h.9M203.0 224.3h.9M197.6 226.4h.9M192.7 231.8h.9M187.8 240.3h.9M203.4 224.3h.9M210.3 223.5h.9M212.3 222.7h.9M207.3 221.9h.9M203.8 223.0h.9M192.9 229.0h.9M204.6 222.9h.9M206.4 222.3h.9M204.9 223.0h.9M194.2 228.2h.9M197.9 226.1h.9M205.7 223.9h.9M190.1 237.8h.9M197.2 226.7h.9M188.8 239.7h.9M190.3 237.4h.9M197.8 226.7h.9M196.9 227.4h.9M203.1 223.7h.9M193.6 230.1h.9M188.4 240.6h.9M208.8 221.7h.9M188.4 239.7h.9M194.3 228.7h.9M194.1 230.4h.9M207.4 221.7h.9M202.6 224.0h.9M203.3 223.8h.9M202.8 224.7h.9M203.4 223.0h.9M193.1 229.4h.9M192.8 231.9h.9M190.3 237.4h.9M188.3 240.4h.9M192.2 231.2h.9M197.0 226.4h.9M206.5 223.6h.9M192.2 231.3h.9M212.3 222.6h.9M205.7 222.7h.9M189.1 237.6h.9M193.5 228.8h.9M188.9 237.1h.9M211.8 222.4h.9M197.2 226.7h.9M206.7 223.9h.9M188.1 241.2h.9M211.4 223.8h.9M206.9 223.6h.9M189.1 238.8h.9M205.8 223.8h.9M202.6 224.4h.9M198.2 226.7h.9M194.8 228.7h.9M203.2 224.1h.9M194.7 229.7h.9M210.0 223.2h.9M206.3 222.3h.9M188.6 237.5h.9M191.5 231.4h.9M188.5 240.5h.9M188.1 240.1h.9M206.2 223.6h.9M188.8 240.2h.9M189.3 236.7h.9M189.1 237.2h.9M192.6 232.0h.9M188.3 240.9h.9M188.4 241.0h.9M189.0 237.6h.9M189.6 238.5h.9M207.6 221.9h.9M202.4 224.1h.9M188.9 239.9h.9M193.3 229.4h.9M205.9 222.4h.9M209.6 222.1h.9M194.0 230.4h.9M192.0 230.4h.9M193.2 230.7h.9M211.3 223.8h.9M212.2 222.9h.9M208.0 223.4h.9M192.9 230.2h.9M208.5 223.0h.9M190.0 237.9h.9M210.3 223.4h.9M198.3 226.1h.9M204.3 224.1h.9M187.6 240.6h.9M211.8 223.9h.9M210.9 222.3h.9M203.4 223.6h.9M188.2 240.5h.9M192.7 231.8h.9M189.3 237.1h.9M189.9 238.2h.9M192.3 231.2h.9M194.0 228.7h.9M204.3 222.9h.9M188.1 241.3h.9M187.5 240.5h.9M192.7 229.7h.9M197.7 227.1h.9M192.6 231.4h.9M197.0 226.5h.9M197.9 226.9h.9M189.2 237.1h.9M197.8 227.3h.9M192.2 230.2h.9" stroke="#8fde0f" stroke-width=".9" opacity="1.00"/>
<path d="M186.1 260.6h.9M186.0 261.1h.9M187.7 258.8h.9M187.1 258.7h.9M185.9 260.3h.9M186.0 259.1h.9M186.5 259.0h.9M188.0 261.3h.9M186.0 260.2h.9M186.0 259.0h.9M186.5 263.3h.9M187.4 258.9h.9M187.9 261.5h.9M186.1 259.0h.9M186.3 261.0h.9M186.4 259.3h.9M186.9 258.8h.9M188.0 259.1h.9M186.2 260.6h.9M187.1 263.0h.9M188.8 260.0h.9M186.7 263.2h.9M186.0 261.1h.9M186.2 262.7h.9M187.8 258.8h.9M193.7 229.6h.9M211.3 223.1h.9M209.5 223.1h.9M206.5 223.3h.9M192.8 230.4h.9M204.3 223.2h.9M204.0 223.9h.9M206.4 222.9h.9M207.7 222.9h.9M206.3 222.5h.9M209.7 222.7h.9M210.6 223.0h.9M207.3 222.4h.9M192.0 230.8h.9M192.2 230.8h.9M209.1 223.2h.9M204.4 223.1h.9M207.7 222.9h.9M194.2 229.8h.9M209.2 222.3h.9M204.6 223.4h.9M204.5 223.3h.9M209.6 222.9h.9M192.0 230.8h.9M211.4 223.1h.9M209.0 222.1h.9M204.6 223.5h.9M205.0 223.4h.9M207.8 222.9h.9M194.2 229.2h.9M208.7 222.9h.9M211.5 222.6h.9M208.9 222.8h.9M193.2 229.7h.9M206.7 222.3h.9M208.2 222.4h.9M208.2 223.0h.9M209.8 223.4h.9M192.5 230.0h.9M206.9 222.8h.9M208.1 222.9h.9M211.8 223.4h.9M211.0 222.9h.9M207.1 223.3h.9M210.8 222.6h.9M206.3 223.0h.9M205.9 222.9h.9M194.2 229.4h.9M193.4 229.3h.9M208.4 222.1h.9M206.4 223.4h.9M209.3 222.7h.9M204.7 223.7h.9M204.6 223.9h.9M211.0 222.8h.9M209.7 223.1h.9M207.0 222.6h.9M194.0 229.5h.9M207.8 222.3h.9M204.0 223.7h.9M191.9 230.9h.9M211.3 222.7h.9M210.9 223.3h.9M207.8 222.9h.9M211.6 223.4h.9M209.2 222.7h.9M203.9 223.8h.9M208.3 222.4h.9M194.0 229.2h.9M206.5 222.3h.9M207.7 222.7h.9M192.2 230.6h.9" stroke="#bae207" stroke-width=".9" opacity="1.00"/>
<path d="M186.4 262.1h.9M187.3 261.9h.9M187.6 260.0h.9M186.5 262.9h.9M188.3 260.7h.9M188.0 260.8h.9M187.0 259.3h.9M187.8 259.1h.9M186.4 261.0h.9M187.1 259.3h.9M186.9 259.2h.9M188.4 260.1h.9M187.5 259.4h.9M187.5 259.3h.9M187.8 259.0h.9M186.6 262.3h.9M187.8 259.9h.9M186.2 262.1h.9M186.8 262.3h.9M188.0 260.0h.9M186.5 262.7h.9M186.6 262.8h.9M187.3 261.6h.9M188.4 260.6h.9M185.9 261.5h.9M186.2 261.8h.9M186.6 261.0h.9M186.7 262.8h.9M186.9 259.1h.9M187.5 261.1h.9M186.7 261.0h.9M186.7 260.1h.9M186.8 262.6h.9M188.2 261.0h.9" stroke="#e5e500" stroke-width=".9" opacity="1.00"/>
<path d="M187.0 260.8h.9M187.7 260.8h.9M187.0 260.8h.9M187.2 260.5h.9M186.7 261.8h.9M186.9 260.1h.9M187.8 260.3h.9M187.5 260.5h.9M187.7 260.0h.9M186.4 261.6h.9M187.9 260.5h.9M186.7 262.0h.9" stroke="#efc300" stroke-width=".9" opacity="1.00"/>
<rect x="160.40" y="203.50" width="78.30" height="71.80" fill="none" stroke="#8a9696" stroke-width="0.9"/>
<line x1="158.80" y1="223.10" x2="160.80" y2="223.10" stroke="#555" stroke-width="0.8"/>
<line x1="159.60" y1="217.50" x2="160.80" y2="217.50" stroke="#777" stroke-width="0.6"/>
<line x1="159.60" y1="214.23" x2="160.80" y2="214.23" stroke="#777" stroke-width="0.6"/>
<line x1="159.60" y1="211.90" x2="160.80" y2="211.90" stroke="#777" stroke-width="0.6"/>
<line x1="159.60" y1="210.10" x2="160.80" y2="210.10" stroke="#777" stroke-width="0.6"/>
<line x1="159.60" y1="208.63" x2="160.80" y2="208.63" stroke="#777" stroke-width="0.6"/>
<line x1="159.60" y1="207.38" x2="160.80" y2="207.38" stroke="#777" stroke-width="0.6"/>
<line x1="159.60" y1="206.30" x2="160.80" y2="206.30" stroke="#777" stroke-width="0.6"/>
<line x1="159.60" y1="205.35" x2="160.80" y2="205.35" stroke="#777" stroke-width="0.6"/>
<line x1="158.80" y1="241.70" x2="160.80" y2="241.70" stroke="#555" stroke-width="0.8"/>
<line x1="159.60" y1="236.10" x2="160.80" y2="236.10" stroke="#777" stroke-width="0.6"/>
<line x1="159.60" y1="232.83" x2="160.80" y2="232.83" stroke="#777" stroke-width="0.6"/>
<line x1="159.60" y1="230.50" x2="160.80" y2="230.50" stroke="#777" stroke-width="0.6"/>
<line x1="159.60" y1="228.70" x2="160.80" y2="228.70" stroke="#777" stroke-width="0.6"/>
<line x1="159.60" y1="227.23" x2="160.80" y2="227.23" stroke="#777" stroke-width="0.6"/>
<line x1="159.60" y1="225.98" x2="160.80" y2="225.98" stroke="#777" stroke-width="0.6"/>
<line x1="159.60" y1="224.90" x2="160.80" y2="224.90" stroke="#777" stroke-width="0.6"/>
<line x1="159.60" y1="223.95" x2="160.80" y2="223.95" stroke="#777" stroke-width="0.6"/>
<line x1="158.80" y1="260.30" x2="160.80" y2="260.30" stroke="#555" stroke-width="0.8"/>
<line x1="159.60" y1="254.70" x2="160.80" y2="254.70" stroke="#777" stroke-width="0.6"/>
<line x1="159.60" y1="251.43" x2="160.80" y2="251.43" stroke="#777" stroke-width="0.6"/>
<line x1="159.60" y1="249.10" x2="160.80" y2="249.10" stroke="#777" stroke-width="0.6"/>
<line x1="159.60" y1="247.30" x2="160.80" y2="247.30" stroke="#777" stroke-width="0.6"/>
<line x1="159.60" y1="245.83" x2="160.80" y2="245.83" stroke="#777" stroke-width="0.6"/>
<line x1="159.60" y1="244.58" x2="160.80" y2="244.58" stroke="#777" stroke-width="0.6"/>
<line x1="159.60" y1="243.50" x2="160.80" y2="243.50" stroke="#777" stroke-width="0.6"/>
<line x1="159.60" y1="242.55" x2="160.80" y2="242.55" stroke="#777" stroke-width="0.6"/>
<line x1="158.80" y1="278.90" x2="160.80" y2="278.90" stroke="#555" stroke-width="0.8"/>
<line x1="159.60" y1="273.30" x2="160.80" y2="273.30" stroke="#777" stroke-width="0.6"/>
<line x1="159.60" y1="270.03" x2="160.80" y2="270.03" stroke="#777" stroke-width="0.6"/>
<line x1="159.60" y1="267.70" x2="160.80" y2="267.70" stroke="#777" stroke-width="0.6"/>
<line x1="159.60" y1="265.90" x2="160.80" y2="265.90" stroke="#777" stroke-width="0.6"/>
<line x1="159.60" y1="264.43" x2="160.80" y2="264.43" stroke="#777" stroke-width="0.6"/>
<line x1="159.60" y1="263.18" x2="160.80" y2="263.18" stroke="#777" stroke-width="0.6"/>
<line x1="159.60" y1="262.10" x2="160.80" y2="262.10" stroke="#777" stroke-width="0.6"/>
<line x1="159.60" y1="261.15" x2="160.80" y2="261.15" stroke="#777" stroke-width="0.6"/>
<line x1="158.00" y1="274.30" x2="160.80" y2="274.30" stroke="#555" stroke-width="0.8"/>
<line x1="160.90" y1="276.90" x2="160.90" y2="274.90" stroke="#777" stroke-width="0.6"/>
<line x1="168.60" y1="276.10" x2="168.60" y2="274.90" stroke="#777" stroke-width="0.6"/>
<line x1="176.30" y1="276.10" x2="176.30" y2="274.90" stroke="#777" stroke-width="0.6"/>
<line x1="184.00" y1="276.10" x2="184.00" y2="274.90" stroke="#777" stroke-width="0.6"/>
<line x1="191.70" y1="276.90" x2="191.70" y2="274.90" stroke="#777" stroke-width="0.6"/>
<line x1="199.40" y1="276.10" x2="199.40" y2="274.90" stroke="#777" stroke-width="0.6"/>
<line x1="207.10" y1="276.10" x2="207.10" y2="274.90" stroke="#777" stroke-width="0.6"/>
<line x1="214.80" y1="276.10" x2="214.80" y2="274.90" stroke="#777" stroke-width="0.6"/>
<line x1="222.50" y1="276.90" x2="222.50" y2="274.90" stroke="#777" stroke-width="0.6"/>
<line x1="230.20" y1="276.10" x2="230.20" y2="274.90" stroke="#777" stroke-width="0.6"/>
<line x1="237.90" y1="276.10" x2="237.90" y2="274.90" stroke="#777" stroke-width="0.6"/>
<rect x="178.40" y="217.80" width="41.70" height="34.50" fill="none" stroke="#606060" stroke-width="0.85"/>
<rect x="162.70" y="244.80" width="8.00" height="17.50" fill="none" stroke="#606060" stroke-width="0.85"/>
<rect x="178.40" y="252.30" width="16.80" height="20.70" fill="none" stroke="#606060" stroke-width="0.85"/>
<rect x="195.20" y="252.30" width="24.90" height="13.70" fill="none" stroke="#606060" stroke-width="0.85"/>
<line x1="178.40" y1="252.30" x2="220.10" y2="252.30" stroke="#222" stroke-width="1.3"/>
<line x1="195.20" y1="252.30" x2="195.20" y2="273.00" stroke="#2a2a2a" stroke-width="1.1"/>
<text transform="translate(199.70,215.10) scale(1.100,1)" font-size="9.4" text-anchor="middle">61,9</text>
<text transform="translate(162.20,243.00) scale(1.100,1)" font-size="9.4">8,9</text>
<text transform="translate(221.90,264.30) scale(1.100,1)" font-size="9.4">4,6</text>
<text transform="translate(196.40,274.50) scale(1.100,1)" font-size="9.4">19,2</text>
<path d="M287.9 268.0h.9M290.2 252.4h.9M278.6 267.7h.9M285.8 272.5h.9M289.2 271.7h.9M276.9 247.1h.9M277.9 260.6h.9M279.9 268.5h.9M275.5 262.2h.9M283.5 226.4h.9M320.6 223.9h.9M302.4 214.9h.9M314.0 214.8h.9M280.6 231.2h.9M278.1 231.2h.9M275.7 247.3h.9M273.4 248.7h.9M305.6 213.9h.9M320.1 222.3h.9M320.0 232.8h.9M318.9 242.2h.9M320.9 228.4h.9M319.4 238.6h.9M297.1 244.7h.9M315.9 244.9h.9M312.9 245.7h.9M315.7 249.3h.9M317.3 245.3h.9M298.3 241.2h.9M308.5 241.9h.9M312.8 250.7h.9M307.6 251.3h.9M317.9 246.7h.9M313.8 247.2h.9M305.5 249.6h.9M310.3 244.4h.9M301.2 244.0h.9M317.9 238.3h.9M304.6 252.1h.9M313.4 255.5h.9M291.8 261.7h.9M312.7 260.0h.9M291.7 255.2h.9M294.6 253.1h.9M312.2 262.7h.9M313.1 254.2h.9M309.3 259.4h.9M300.1 261.9h.9M314.0 260.5h.9M305.1 262.4h.9M308.8 254.6h.9M307.2 253.8h.9M295.0 254.8h.9M294.4 260.1h.9M316.4 256.2h.9M266.9 253.6h.9M261.2 254.5h.9M265.1 258.2h.9M266.8 261.4h.9M264.7 256.2h.9M263.5 260.0h.9M264.9 267.2h.9M262.1 262.1h.9M262.1 261.3h.9M266.3 250.7h.9M264.9 252.0h.9M265.3 219.9h.9M276.1 217.0h.9M312.5 271.9h.9M336.5 260.6h.9M325.1 229.2h.9M278.8 214.8h.9M266.4 225.5h.9M275.4 232.9h.9M289.4 216.4h.9M334.8 216.6h.9M299.6 215.5h.9M324.0 245.6h.9M330.4 229.9h.9M337.0 227.6h.9M336.7 233.9h.9M326.9 244.2h.9M270.9 208.5h.9M306.8 208.6h.9M273.9 270.2h.9M316.9 212.2h.9M269.3 259.4h.9" stroke="#344dee" stroke-width=".9" opacity="0.42"/>
<path d="M288.9 262.0h.9M280.1 262.9h.9M283.0 267.6h.9M289.6 261.4h.9M285.9 267.9h.9M288.7 262.2h.9M287.6 251.5h.9M280.3 266.4h.9M286.3 269.0h.9M286.2 268.3h.9M289.8 255.0h.9M284.7 268.7h.9M279.1 260.6h.9M290.6 257.9h.9M287.8 263.7h.9M276.1 257.0h.9M287.5 265.3h.9M278.7 250.3h.9M289.8 248.2h.9M280.9 233.5h.9M310.9 214.8h.9M310.5 216.3h.9M282.2 230.9h.9M318.9 225.1h.9M318.7 225.4h.9M282.7 228.3h.9M277.1 243.5h.9M301.3 230.7h.9M312.8 216.5h.9M286.5 247.5h.9M298.0 232.8h.9M279.6 236.4h.9M296.8 219.2h.9M287.0 248.3h.9M311.2 216.5h.9M312.1 216.2h.9M290.4 246.8h.9M290.7 221.6h.9M316.8 219.5h.9M317.0 222.8h.9M318.6 217.5h.9M310.9 215.0h.9M289.9 222.8h.9M318.2 218.2h.9M277.3 239.4h.9M293.9 218.5h.9M286.4 226.1h.9M299.9 217.1h.9M318.3 225.0h.9M316.6 218.3h.9M283.6 229.6h.9M278.7 242.3h.9M287.3 245.5h.9M286.0 221.5h.9M303.7 216.3h.9M281.5 228.1h.9M284.0 229.4h.9M279.7 234.9h.9M293.1 220.8h.9M308.4 217.1h.9M285.3 222.0h.9M317.9 220.9h.9M289.3 224.5h.9M285.6 228.4h.9M287.0 223.0h.9M306.7 215.7h.9M278.7 247.7h.9M277.4 244.6h.9M276.7 239.2h.9M306.9 231.7h.9M317.5 223.2h.9M281.7 228.9h.9M289.3 250.7h.9M279.6 237.7h.9M288.9 247.4h.9M292.6 247.7h.9M299.8 237.3h.9M299.5 235.6h.9M306.8 232.1h.9M293.7 242.3h.9M297.3 239.0h.9M301.9 231.7h.9M311.7 240.9h.9M300.2 239.3h.9M299.4 234.5h.9M310.3 237.3h.9M306.8 238.8h.9M292.9 235.0h.9M304.9 230.5h.9M294.2 244.8h.9M293.6 248.7h.9M296.9 239.9h.9M296.8 233.8h.9M292.0 244.4h.9M305.9 237.6h.9M297.2 246.9h.9M296.6 247.2h.9M291.7 236.3h.9M299.7 235.9h.9M304.1 237.8h.9M300.2 234.3h.9M317.8 233.2h.9M318.8 229.3h.9M318.3 233.1h.9M316.5 239.5h.9M308.3 231.5h.9M289.2 253.6h.9M294.7 246.3h.9M306.8 233.6h.9M305.2 229.6h.9M300.8 235.1h.9M315.1 236.8h.9M302.6 239.3h.9M301.2 234.7h.9M295.0 246.0h.9M298.9 230.4h.9M314.4 232.6h.9M288.5 252.2h.9M294.0 250.4h.9M287.8 246.9h.9M306.5 236.6h.9M276.9 238.2h.9M294.9 218.9h.9M299.8 231.5h.9M296.6 236.8h.9M293.1 236.9h.9M308.3 237.6h.9M297.8 235.0h.9M293.6 244.2h.9M303.3 233.7h.9M303.1 234.9h.9M301.8 238.8h.9M298.7 239.6h.9M309.2 236.0h.9M310.4 233.6h.9M302.3 244.0h.9M303.9 230.5h.9M317.0 241.7h.9M300.7 242.9h.9M298.3 236.0h.9M309.8 250.6h.9M311.8 240.4h.9M302.2 235.5h.9M303.7 246.2h.9M304.3 237.4h.9M314.2 241.2h.9M291.8 245.2h.9M302.8 248.4h.9M308.8 237.8h.9M306.4 236.5h.9M292.3 245.8h.9M306.6 245.2h.9M311.0 245.9h.9M295.6 241.9h.9M301.5 250.4h.9M295.6 242.0h.9M300.4 238.9h.9M294.8 245.6h.9M292.5 249.8h.9M292.2 247.2h.9M310.2 246.9h.9M307.5 243.8h.9M306.4 246.2h.9M304.5 239.7h.9M302.4 229.8h.9M306.1 240.5h.9M296.4 241.3h.9M303.3 243.8h.9M316.9 236.6h.9M309.0 248.1h.9M295.0 250.6h.9M302.5 239.6h.9M297.4 246.9h.9M301.0 249.6h.9M314.9 234.5h.9M301.9 240.8h.9M310.7 241.1h.9M309.7 249.9h.9M307.6 248.6h.9M299.2 238.4h.9M312.9 240.8h.9M304.6 246.6h.9M317.1 242.9h.9M312.5 247.7h.9M307.9 230.4h.9M300.6 246.7h.9M300.7 233.3h.9M293.9 248.7h.9M311.5 238.8h.9M303.8 244.6h.9M297.0 250.4h.9M296.3 248.0h.9M302.8 250.4h.9M309.9 230.8h.9M310.5 248.1h.9M308.0 233.8h.9M315.2 239.5h.9M312.1 240.7h.9M297.2 250.0h.9M305.9 235.9h.9M307.0 248.2h.9M298.0 249.0h.9M300.5 246.7h.9M311.9 248.9h.9M303.8 241.0h.9M303.1 248.9h.9M301.5 248.8h.9M296.2 244.0h.9M304.8 242.7h.9M306.8 246.6h.9M291.4 247.8h.9M302.7 248.2h.9M303.0 243.3h.9M296.7 249.6h.9M288.7 248.4h.9M302.1 246.7h.9M300.8 242.4h.9M305.7 242.0h.9M315.2 239.1h.9M305.7 243.0h.9M312.9 238.4h.9M309.9 250.7h.9M292.9 241.5h.9M309.2 247.1h.9M304.7 242.2h.9M290.8 249.1h.9M310.3 241.9h.9M290.5 248.8h.9M306.5 244.2h.9M296.0 249.2h.9M317.5 241.0h.9M309.7 247.2h.9M302.1 234.5h.9M298.6 247.6h.9M315.4 237.3h.9M306.0 247.7h.9M317.9 228.4h.9M305.9 239.1h.9M314.0 240.0h.9M303.2 245.9h.9M304.7 257.5h.9M297.4 261.4h.9M300.3 252.3h.9M300.5 254.5h.9M313.6 259.9h.9M307.7 260.4h.9M306.7 257.3h.9M295.2 262.1h.9M301.7 259.3h.9M298.5 261.4h.9M307.7 256.9h.9M308.0 258.5h.9M299.5 260.4h.9M300.0 254.3h.9M296.9 254.8h.9M304.2 255.7h.9M296.3 256.4h.9M289.2 259.2h.9M307.7 255.8h.9M306.0 260.6h.9M299.0 254.4h.9M301.2 252.7h.9M297.3 254.2h.9M299.9 253.7h.9M295.0 257.5h.9M295.2 257.6h.9M298.0 257.7h.9M296.9 262.4h.9M306.7 261.8h.9M307.6 257.2h.9M303.0 253.4h.9M295.5 261.5h.9M306.7 260.3h.9M296.5 257.7h.9M306.2 255.5h.9M301.4 250.1h.9M303.4 254.0h.9M305.8 254.4h.9M303.4 261.2h.9M302.2 255.1h.9M306.5 256.6h.9M290.0 258.0h.9M299.8 258.7h.9M305.6 255.7h.9M308.1 255.5h.9M302.5 253.4h.9M263.0 257.5h.9M307.6 215.8h.9M287.0 223.7h.9M296.9 218.5h.9M288.9 256.3h.9M278.0 238.6h.9M287.0 222.7h.9M268.3 255.2h.9M275.9 258.0h.9M267.8 255.2h.9M263.0 257.2h.9M273.3 255.4h.9M275.1 258.5h.9M277.4 258.5h.9M271.7 255.3h.9M272.4 257.2h.9M274.4 254.7h.9M267.8 254.5h.9M280.0 256.3h.9M274.1 257.3h.9M274.4 255.8h.9M270.4 255.9h.9M275.0 255.5h.9" stroke="#2649ec" stroke-width=".9" opacity="0.50"/>
<path d="M289.1 258.5h.9M280.2 260.4h.9M286.6 249.7h.9M286.2 252.4h.9M278.6 255.6h.9M285.3 251.2h.9M280.2 251.4h.9M279.2 256.5h.9M281.3 254.6h.9M284.3 250.6h.9M284.6 268.0h.9M287.9 250.0h.9M285.0 249.9h.9M279.8 258.1h.9M279.0 254.3h.9M280.0 258.9h.9M287.9 260.2h.9M281.6 251.3h.9M283.4 249.7h.9M288.3 254.5h.9M280.0 250.8h.9M278.7 256.0h.9M287.6 249.5h.9M280.1 249.3h.9M279.3 250.9h.9M278.7 257.0h.9M282.0 250.5h.9M285.1 267.0h.9M288.2 259.0h.9M287.6 253.5h.9M287.8 254.1h.9M288.5 257.9h.9M286.8 252.2h.9M289.0 255.9h.9M281.5 266.1h.9M280.6 264.6h.9M279.8 264.9h.9M288.2 254.9h.9M281.5 250.0h.9M287.1 252.7h.9M303.1 217.5h.9M289.9 240.3h.9M312.7 217.8h.9M291.1 224.3h.9M280.0 236.1h.9M282.1 250.2h.9M303.1 217.4h.9M290.3 224.5h.9M307.0 216.9h.9M281.5 234.9h.9M294.6 220.2h.9M295.1 220.9h.9M288.3 244.4h.9M284.7 230.7h.9M279.4 240.0h.9M301.8 217.5h.9M282.0 233.1h.9M279.9 248.8h.9M298.0 218.3h.9M299.7 232.0h.9M282.9 233.1h.9M312.1 218.3h.9M279.7 251.1h.9M306.0 216.7h.9M310.7 218.0h.9M298.0 229.7h.9M285.3 248.7h.9M313.2 232.7h.9M301.1 218.8h.9M288.0 226.6h.9M282.7 250.2h.9M285.7 248.2h.9M305.0 216.6h.9M286.6 244.4h.9M316.1 221.8h.9M282.0 248.7h.9M316.0 219.6h.9M290.9 222.6h.9M292.6 221.5h.9M284.1 231.7h.9M306.3 216.6h.9M303.0 217.3h.9M291.2 223.2h.9M314.6 232.0h.9M279.0 254.5h.9M278.2 243.8h.9M316.3 231.1h.9M280.6 235.5h.9M279.5 246.3h.9M296.6 220.1h.9M304.8 217.1h.9M283.3 231.0h.9M309.4 234.1h.9M278.2 244.2h.9M317.6 225.5h.9M287.4 249.6h.9M285.1 251.4h.9M299.1 218.8h.9M306.7 217.2h.9M285.9 228.9h.9M314.4 217.9h.9M289.9 246.4h.9M316.4 220.5h.9M281.3 233.6h.9M312.1 234.2h.9M280.7 235.5h.9M300.8 218.0h.9M298.2 219.8h.9M282.7 247.8h.9M296.7 220.6h.9M279.6 243.3h.9M279.1 245.1h.9M290.9 242.7h.9M285.7 249.8h.9M314.5 217.7h.9M284.0 249.3h.9M291.7 222.5h.9M284.2 232.4h.9M294.3 220.5h.9M280.0 238.6h.9M315.4 220.5h.9M313.5 217.2h.9M309.8 217.5h.9M298.7 218.9h.9M317.2 229.5h.9M316.7 220.5h.9M279.9 247.4h.9M317.0 226.4h.9M299.7 218.9h.9M300.3 228.9h.9M284.5 249.8h.9M310.0 229.0h.9M290.4 223.0h.9M315.6 219.9h.9M304.8 228.2h.9M282.1 250.4h.9M316.0 222.6h.9M281.9 247.3h.9M304.0 217.1h.9M303.7 236.7h.9M292.9 237.4h.9M306.3 229.0h.9M293.2 238.6h.9M294.6 237.0h.9M299.9 229.0h.9M284.0 231.7h.9M308.9 233.1h.9M290.4 245.9h.9M292.6 239.9h.9M295.6 235.9h.9M303.6 232.8h.9M304.2 235.9h.9M301.8 237.2h.9M285.0 247.3h.9M313.0 235.1h.9M316.3 233.5h.9M294.3 237.6h.9M293.7 235.6h.9M317.2 226.3h.9M285.6 248.0h.9M291.7 238.3h.9M303.8 235.2h.9M289.7 238.9h.9M315.7 233.5h.9M292.8 237.6h.9M289.4 244.9h.9M290.9 245.2h.9M301.7 237.0h.9M308.6 233.0h.9M291.5 238.9h.9M316.2 236.1h.9M297.1 232.8h.9M307.0 228.6h.9M279.4 241.5h.9M289.8 240.4h.9M295.2 237.3h.9M309.1 233.8h.9M303.5 231.3h.9M293.4 239.4h.9M291.2 236.3h.9M290.6 241.8h.9M312.8 234.1h.9M291.5 243.2h.9M313.0 232.3h.9M310.9 235.0h.9M290.8 237.0h.9M308.3 228.5h.9M315.8 233.2h.9M312.7 235.2h.9M288.6 241.1h.9M309.6 233.1h.9M289.7 238.9h.9M298.8 232.4h.9M288.7 240.0h.9M289.2 240.5h.9M313.4 235.1h.9M296.1 237.6h.9M303.6 235.1h.9M291.6 242.6h.9M316.6 226.9h.9M309.2 233.9h.9M293.7 239.9h.9M299.0 231.9h.9M295.6 236.9h.9M312.7 234.4h.9M315.5 236.4h.9M317.8 226.1h.9M316.2 234.0h.9M293.5 240.5h.9M311.9 238.0h.9M292.9 240.6h.9M296.3 239.2h.9M287.5 244.5h.9M294.1 241.7h.9M289.9 245.0h.9M291.0 238.8h.9M317.0 230.7h.9M313.5 236.0h.9M289.2 239.1h.9M316.4 233.0h.9M294.9 241.5h.9M302.0 237.1h.9M295.5 236.5h.9M311.8 234.6h.9M296.3 239.8h.9M303.2 231.7h.9M295.3 240.2h.9M317.2 233.1h.9M295.3 238.1h.9M295.2 239.6h.9M308.2 232.2h.9M312.4 237.5h.9M291.7 234.9h.9M310.7 236.5h.9M310.9 235.9h.9M287.7 249.5h.9M289.3 245.5h.9M316.5 231.2h.9M312.3 237.7h.9M316.1 231.9h.9M311.4 235.2h.9M290.6 239.2h.9M293.1 239.7h.9M287.4 226.4h.9M304.4 232.5h.9M314.2 231.0h.9M290.3 242.4h.9M292.5 239.4h.9M290.2 243.8h.9M313.1 237.9h.9M301.7 237.2h.9M299.6 232.5h.9M304.1 236.1h.9M305.0 259.5h.9M300.0 259.2h.9M302.8 259.5h.9M297.8 257.1h.9M302.0 257.9h.9M299.4 260.0h.9M304.1 258.3h.9M297.6 257.2h.9M299.4 257.4h.9M304.5 257.9h.9M288.4 260.0h.9M305.1 259.5h.9M302.6 257.2h.9M300.5 257.5h.9M304.9 258.7h.9M305.3 258.3h.9M303.7 260.3h.9M306.0 259.7h.9M298.7 255.9h.9M303.0 256.9h.9M299.6 256.5h.9M301.4 258.2h.9M299.6 256.6h.9M302.1 253.6h.9M302.2 253.5h.9M299.9 259.7h.9M302.8 256.2h.9M302.2 259.0h.9M296.9 257.2h.9M303.1 257.0h.9M302.1 256.9h.9M303.5 259.7h.9M298.5 256.1h.9M300.5 256.5h.9M314.4 217.9h.9M315.6 235.6h.9M313.4 235.2h.9M277.8 256.7h.9M277.2 256.4h.9M279.1 255.2h.9M277.0 255.7h.9M272.2 256.5h.9M276.4 257.3h.9M279.6 257.6h.9M276.9 256.8h.9M272.1 256.6h.9M271.8 256.4h.9M277.4 255.9h.9M273.1 256.1h.9" stroke="#1748eb" stroke-width=".9" opacity="0.58"/>
<path d="M281.9 265.7h.9M281.9 253.3h.9M282.4 265.7h.9M280.7 262.1h.9M280.0 252.8h.9M279.7 253.4h.9M279.7 252.6h.9M280.3 253.4h.9M280.6 253.9h.9M281.1 264.6h.9M283.6 266.6h.9M280.7 263.6h.9M287.6 255.5h.9M281.1 251.9h.9M279.6 253.2h.9M281.1 257.2h.9M281.3 248.9h.9M280.4 259.3h.9M280.1 246.0h.9M281.9 254.7h.9M282.1 265.3h.9M281.5 264.8h.9M284.0 248.0h.9M284.4 252.4h.9M283.0 266.7h.9M287.1 255.2h.9M283.0 251.7h.9M281.9 265.5h.9M282.6 253.9h.9M285.9 253.0h.9M287.6 261.2h.9M287.3 260.3h.9M280.6 257.8h.9M283.0 251.9h.9M286.5 255.0h.9M281.4 253.2h.9M280.6 253.5h.9M286.9 264.2h.9M280.4 252.4h.9M301.9 219.1h.9M288.7 233.6h.9M298.3 220.7h.9M299.1 228.6h.9M291.3 233.8h.9M301.6 219.3h.9M299.8 228.0h.9M310.6 218.4h.9M293.2 233.3h.9M315.8 230.1h.9M286.0 243.5h.9M286.5 234.6h.9M295.6 221.6h.9M287.4 236.0h.9M282.3 243.7h.9M314.8 231.0h.9M286.9 240.2h.9M281.8 236.9h.9M287.8 243.4h.9M294.1 232.2h.9M280.7 237.1h.9M300.2 226.7h.9M296.1 222.0h.9M282.4 240.8h.9M314.5 219.3h.9M286.1 233.0h.9M298.7 219.2h.9M281.4 242.4h.9M306.9 228.1h.9M283.4 241.4h.9M286.6 234.6h.9M307.4 226.6h.9M300.2 225.7h.9M316.5 225.2h.9M285.0 248.4h.9M292.8 222.0h.9M316.6 225.3h.9M298.4 221.6h.9M286.1 229.4h.9M300.6 226.7h.9M280.2 240.8h.9M280.3 247.5h.9M280.8 243.1h.9M288.7 227.4h.9M289.8 225.9h.9M305.8 217.8h.9M280.5 248.2h.9M282.9 234.8h.9M283.8 243.0h.9M287.4 227.0h.9M293.1 222.6h.9M280.0 252.8h.9M283.2 246.6h.9M287.2 235.0h.9M296.9 230.5h.9M296.7 230.5h.9M283.6 247.6h.9M282.2 242.4h.9M300.1 227.3h.9M316.9 228.1h.9M280.2 241.7h.9M281.9 236.1h.9M289.2 225.9h.9M281.0 249.0h.9M295.3 235.0h.9M284.7 240.2h.9M280.6 243.5h.9M303.0 227.7h.9M297.7 222.2h.9M283.4 241.7h.9M284.4 233.3h.9M286.9 241.8h.9M281.5 248.1h.9M292.0 224.5h.9M283.2 244.3h.9M316.1 223.7h.9M287.9 242.6h.9M312.2 218.5h.9M298.6 222.1h.9M280.3 238.5h.9M312.7 231.4h.9M287.3 227.0h.9M288.0 239.9h.9M282.0 247.9h.9M285.1 232.8h.9M287.2 228.0h.9M294.1 233.9h.9M286.8 234.3h.9M283.5 243.6h.9M287.5 228.3h.9M280.1 241.4h.9M282.4 234.0h.9M316.6 228.2h.9M315.9 224.6h.9M287.4 239.6h.9M281.1 247.7h.9M281.3 243.0h.9M280.2 241.8h.9M317.2 229.3h.9M280.0 244.4h.9M303.9 218.4h.9M286.4 235.9h.9M285.1 234.2h.9M289.0 233.6h.9M293.9 222.0h.9M282.3 242.4h.9M289.2 234.4h.9M309.5 218.3h.9M280.0 241.1h.9M285.7 234.2h.9M304.1 218.1h.9M280.5 252.7h.9M289.9 235.4h.9M287.6 228.2h.9M286.0 244.4h.9M315.7 230.2h.9M313.2 218.9h.9M296.2 231.8h.9M282.9 242.9h.9M288.9 243.9h.9M279.3 244.9h.9M287.5 235.4h.9M281.5 243.8h.9M299.7 219.4h.9M306.5 225.8h.9M294.4 221.5h.9M293.7 221.2h.9M283.7 248.2h.9M283.2 242.0h.9M296.6 221.1h.9M299.1 221.5h.9M280.7 241.9h.9M310.6 218.7h.9M283.2 241.5h.9M313.8 218.6h.9M280.9 237.0h.9M289.0 234.3h.9M289.1 242.4h.9M316.1 223.8h.9M290.4 237.4h.9M282.1 241.6h.9M315.8 224.2h.9M281.0 237.8h.9M293.7 222.4h.9M280.9 248.5h.9M316.5 225.0h.9M299.6 228.4h.9M306.7 228.5h.9M302.3 219.0h.9M278.7 244.2h.9M284.0 247.1h.9M287.4 242.7h.9M287.5 242.4h.9M296.5 221.4h.9M292.1 233.5h.9M281.1 241.4h.9M300.1 227.1h.9M282.5 234.2h.9M282.9 235.3h.9M305.0 226.2h.9M299.5 219.2h.9M316.0 227.3h.9M280.5 247.5h.9M294.2 221.0h.9M291.4 233.3h.9M280.5 236.7h.9M313.2 218.0h.9M289.1 242.3h.9M308.2 227.1h.9M302.3 227.5h.9M300.5 228.3h.9M311.0 229.3h.9M312.1 230.7h.9M303.8 232.4h.9M295.3 235.0h.9M291.3 233.8h.9M279.5 244.5h.9M283.8 240.5h.9M295.8 232.4h.9M294.3 234.6h.9M301.0 227.1h.9M284.1 248.8h.9M303.2 231.6h.9M304.0 232.2h.9M312.2 231.8h.9M294.3 234.3h.9M295.3 234.7h.9M280.4 246.1h.9M304.7 232.3h.9M306.3 226.8h.9M295.7 234.2h.9M290.1 237.5h.9M287.8 242.0h.9M287.6 242.8h.9M316.7 228.7h.9M295.3 233.9h.9M289.3 243.8h.9M296.1 232.0h.9M316.5 231.0h.9M309.1 228.0h.9M301.0 228.1h.9M290.8 234.8h.9M304.4 226.2h.9M289.6 237.5h.9M304.4 231.5h.9M285.5 245.1h.9M288.9 242.5h.9M311.7 231.4h.9M292.3 232.3h.9M284.7 246.4h.9M312.5 231.2h.9M286.6 235.8h.9M317.2 228.9h.9M306.9 226.5h.9M302.0 227.6h.9M293.2 233.5h.9M290.3 235.9h.9M304.1 231.9h.9M316.0 229.3h.9M293.8 232.9h.9M289.1 243.7h.9M295.4 233.5h.9M289.0 234.6h.9M288.9 226.1h.9M305.6 227.4h.9M292.8 233.2h.9M299.6 228.5h.9M316.3 229.0h.9M290.3 234.1h.9M289.0 227.2h.9M304.4 227.4h.9M295.6 233.3h.9M305.2 227.4h.9M294.6 234.3h.9M304.6 259.1h.9M303.7 259.2h.9M303.7 259.5h.9M280.8 264.9h.9M287.8 242.5h.9M286.3 242.9h.9M312.5 231.9h.9" stroke="#0d66eb" stroke-width=".9" opacity="0.66"/>
<path d="M287.1 262.0h.9M285.8 265.1h.9M282.1 264.4h.9M287.2 258.2h.9M283.0 253.9h.9M283.5 252.5h.9M284.2 245.9h.9M283.3 252.3h.9M284.9 266.3h.9M283.7 266.9h.9M286.2 265.3h.9M283.9 252.2h.9M281.6 263.1h.9M287.1 255.8h.9M286.8 261.9h.9M285.5 253.4h.9M285.6 253.4h.9M287.3 256.4h.9M286.5 264.4h.9M286.5 255.4h.9M281.0 261.3h.9M284.8 266.4h.9M286.8 261.9h.9M311.0 228.5h.9M291.2 231.2h.9M285.0 243.9h.9M297.5 222.2h.9M281.6 237.5h.9M282.2 237.9h.9M309.2 226.2h.9M283.9 245.3h.9M296.4 229.0h.9M308.5 225.5h.9M285.5 242.4h.9M303.7 226.6h.9M300.1 220.9h.9M284.2 243.0h.9M292.9 229.5h.9M299.4 220.5h.9M293.4 222.7h.9M289.3 235.7h.9M285.4 244.1h.9M294.4 222.4h.9M286.2 239.7h.9M299.7 222.7h.9M287.5 237.5h.9M305.9 227.4h.9M287.3 232.8h.9M301.2 226.0h.9M295.9 230.6h.9M314.1 220.4h.9M285.2 230.6h.9M289.8 226.8h.9M306.6 227.0h.9M312.5 230.5h.9M286.9 237.0h.9M300.2 220.8h.9M292.8 228.3h.9M287.2 236.6h.9M301.7 226.9h.9M297.7 225.1h.9M284.2 245.1h.9M284.0 245.5h.9M284.7 231.6h.9M295.0 227.6h.9M303.7 227.2h.9M280.8 240.6h.9M314.6 229.6h.9M299.5 220.6h.9M297.9 223.3h.9M293.5 224.1h.9M280.7 239.8h.9M286.0 241.8h.9M281.5 237.5h.9M293.0 228.9h.9M295.2 230.2h.9M289.5 236.7h.9M302.6 227.2h.9M314.4 229.9h.9M289.3 236.4h.9M298.1 227.4h.9M296.1 228.8h.9M307.8 218.6h.9M311.2 219.7h.9M309.7 219.0h.9M294.2 223.5h.9M297.4 226.5h.9M307.1 225.2h.9M293.5 222.8h.9M280.8 239.0h.9M297.7 226.2h.9M288.9 236.2h.9M284.4 234.8h.9M286.6 239.6h.9M298.9 226.4h.9M291.4 227.7h.9M286.0 240.4h.9M306.7 218.3h.9M300.7 220.8h.9M305.1 218.1h.9M298.0 226.0h.9M311.6 220.0h.9M284.9 235.2h.9M299.6 223.5h.9M306.7 218.8h.9M306.2 218.4h.9M292.3 228.5h.9M282.1 239.0h.9M304.1 225.9h.9M305.4 225.3h.9M285.3 232.8h.9M313.7 222.4h.9M294.6 223.5h.9M288.4 237.3h.9M308.3 226.9h.9M308.3 226.4h.9M308.1 218.6h.9M291.7 231.3h.9M297.1 227.9h.9M289.8 236.1h.9M295.3 229.9h.9M284.8 244.8h.9M296.1 227.9h.9M287.7 233.4h.9M284.4 246.2h.9M290.9 232.7h.9M288.7 236.6h.9M290.6 225.9h.9M307.9 218.6h.9M283.1 236.1h.9M283.6 234.1h.9M296.7 222.9h.9M286.4 233.3h.9M303.5 219.4h.9M303.2 219.3h.9M294.1 224.4h.9M295.5 229.3h.9M286.8 233.2h.9M302.2 220.0h.9M314.8 223.0h.9M302.7 223.0h.9M306.6 227.6h.9M315.4 228.8h.9M314.4 221.0h.9M295.9 231.6h.9M298.6 228.1h.9M290.8 226.2h.9M290.1 233.9h.9M298.6 226.2h.9M283.3 245.3h.9M311.1 219.7h.9M285.7 235.7h.9M305.7 225.0h.9M286.5 240.2h.9M284.4 234.9h.9M285.7 229.5h.9M283.7 234.2h.9M289.6 232.8h.9M302.4 226.2h.9M308.6 226.2h.9M285.5 237.3h.9M296.7 228.4h.9M301.1 219.9h.9M280.5 240.7h.9M289.8 226.5h.9M313.1 229.9h.9M314.3 229.9h.9M297.4 228.7h.9M294.4 223.8h.9M298.0 225.6h.9M294.1 230.0h.9M310.1 228.3h.9M300.8 219.6h.9M291.6 230.1h.9M298.0 228.8h.9M281.4 238.8h.9M303.1 219.6h.9M299.8 220.7h.9M314.8 222.9h.9M314.4 224.1h.9M301.3 222.4h.9M301.0 220.2h.9M315.0 223.5h.9M309.8 219.3h.9M303.1 225.0h.9M293.3 223.2h.9M293.0 228.6h.9M298.0 225.9h.9M297.5 224.9h.9M309.6 228.4h.9M289.1 228.4h.9M299.4 221.4h.9M296.2 230.0h.9M287.2 230.0h.9M314.1 230.2h.9M307.2 218.6h.9M296.3 226.0h.9M314.0 222.9h.9M281.0 238.1h.9M282.7 239.3h.9M282.3 245.6h.9M314.2 222.1h.9M312.9 222.3h.9M293.0 228.1h.9M297.4 228.3h.9M286.1 241.3h.9M314.2 220.1h.9M313.8 219.9h.9M303.7 225.1h.9M302.8 223.1h.9M293.4 227.7h.9M286.8 239.8h.9M290.1 226.0h.9M307.8 218.7h.9M281.9 244.4h.9M313.9 220.4h.9M300.2 220.4h.9M303.9 224.3h.9M283.7 234.6h.9M298.4 226.6h.9M300.3 222.0h.9M285.2 245.2h.9M314.3 222.4h.9M295.9 226.0h.9M283.6 245.9h.9M288.7 228.2h.9M299.0 223.2h.9M284.9 243.7h.9M285.8 241.8h.9M294.8 223.6h.9M304.4 224.1h.9M302.7 226.6h.9M286.9 237.8h.9M300.6 221.6h.9M290.1 227.1h.9M298.4 228.0h.9M297.5 228.2h.9M312.6 229.6h.9M282.4 238.0h.9M296.0 227.3h.9M302.3 227.2h.9M283.3 234.6h.9M287.9 238.2h.9M280.8 239.5h.9M290.3 232.7h.9M291.1 226.9h.9M280.1 245.1h.9M303.6 224.7h.9M280.5 239.8h.9M290.4 226.9h.9M283.4 239.5h.9M285.4 232.3h.9M303.9 226.0h.9M286.7 232.7h.9M291.6 229.3h.9M294.0 229.8h.9M282.9 239.8h.9M291.4 225.8h.9M310.1 219.3h.9M287.5 233.1h.9M280.8 239.6h.9M280.5 244.1h.9M284.3 245.7h.9M289.5 233.3h.9M285.8 237.2h.9M314.6 222.6h.9M286.3 242.3h.9M299.3 223.0h.9M282.6 239.4h.9M310.5 219.7h.9M288.6 228.5h.9M295.1 228.6h.9M287.9 238.2h.9M284.7 245.3h.9M290.9 227.7h.9M284.9 242.2h.9M280.8 239.8h.9M282.1 239.5h.9M313.0 219.5h.9M294.7 228.6h.9M301.0 220.2h.9M284.3 242.3h.9M303.5 226.4h.9M291.0 225.9h.9M290.2 235.8h.9M288.9 237.0h.9M282.3 244.9h.9M283.2 239.7h.9M285.1 235.1h.9M294.9 231.0h.9M284.3 244.3h.9M291.6 229.0h.9M300.6 222.4h.9M293.6 229.2h.9M296.9 222.4h.9M286.3 229.8h.9M285.1 239.7h.9M307.5 225.4h.9M283.2 234.6h.9M284.3 238.7h.9M284.8 242.0h.9M282.1 244.1h.9M299.7 222.2h.9M304.9 219.0h.9M313.7 223.3h.9M285.6 235.7h.9M303.2 219.1h.9M285.1 239.6h.9M314.4 221.0h.9M295.5 228.0h.9M287.5 237.5h.9M294.5 230.8h.9M287.7 237.8h.9M286.8 229.6h.9M288.3 235.8h.9M314.7 223.9h.9M291.2 225.9h.9M305.4 224.7h.9M295.0 227.9h.9M306.3 227.6h.9M286.1 229.6h.9M312.9 222.6h.9M297.5 225.2h.9M301.3 222.1h.9M285.6 241.5h.9M284.6 238.8h.9M282.4 238.9h.9M295.2 222.7h.9M297.1 222.2h.9M314.5 224.5h.9M297.4 227.6h.9M285.3 236.1h.9M296.2 226.9h.9M294.6 222.6h.9M287.3 232.7h.9M291.3 229.4h.9M309.1 227.9h.9M297.8 226.6h.9M285.6 241.9h.9M290.4 233.7h.9M313.1 229.7h.9M302.4 227.1h.9M283.7 242.9h.9M284.0 246.4h.9M295.9 231.1h.9M296.4 229.4h.9M292.8 224.9h.9M286.7 230.0h.9M294.5 233.8h.9M289.0 236.4h.9M300.0 225.4h.9M283.5 238.8h.9M286.2 237.4h.9M287.3 237.3h.9M288.3 237.7h.9M294.4 231.4h.9M285.5 243.8h.9M285.9 242.1h.9M310.7 225.5h.9M284.8 235.0h.9M303.8 224.6h.9M285.0 239.6h.9M287.9 229.1h.9M309.7 228.2h.9M293.9 231.7h.9M309.4 225.5h.9M279.8 244.6h.9M293.8 231.1h.9M307.0 227.8h.9M294.3 234.0h.9M303.9 227.5h.9M295.1 230.8h.9M284.8 244.8h.9M303.8 227.3h.9M292.7 231.1h.9M295.9 231.3h.9M288.9 235.8h.9M301.6 226.1h.9M315.2 228.5h.9M305.9 227.1h.9M295.3 229.3h.9M295.8 230.1h.9M291.5 232.2h.9M292.8 231.9h.9M296.3 229.4h.9M295.8 231.3h.9M297.8 226.6h.9M296.3 226.9h.9M292.3 229.1h.9M298.5 228.1h.9M314.6 230.2h.9M303.1 227.1h.9M309.5 225.7h.9M312.7 229.6h.9M282.4 239.7h.9" stroke="#0383eb" stroke-width=".9" opacity="0.75"/>
<path d="M285.0 265.8h.9M285.3 265.2h.9M284.3 253.2h.9M285.2 254.5h.9M283.6 265.6h.9M281.0 260.9h.9M286.9 260.6h.9M282.5 264.4h.9M283.3 253.8h.9M282.8 264.6h.9M284.5 266.1h.9M285.6 265.2h.9M281.4 262.5h.9M286.1 264.5h.9M284.2 253.0h.9M284.9 253.6h.9M285.1 253.3h.9M283.5 254.0h.9M280.8 259.6h.9M287.0 258.4h.9M287.4 256.9h.9M283.9 266.3h.9M286.6 263.5h.9M284.1 253.5h.9M282.4 255.2h.9M287.0 260.0h.9M281.6 245.6h.9M283.8 266.2h.9M283.6 253.1h.9M286.9 256.4h.9M281.1 259.7h.9M282.1 263.5h.9M283.9 265.6h.9M283.6 252.7h.9M287.4 256.6h.9M283.3 252.8h.9M284.9 253.9h.9M283.8 265.6h.9M285.7 254.8h.9M306.3 219.1h.9M288.3 231.7h.9M293.4 230.6h.9M288.7 232.2h.9M303.9 219.0h.9M314.9 226.8h.9M289.9 228.7h.9M292.7 225.1h.9M312.2 221.0h.9M313.9 220.9h.9M305.4 224.5h.9M284.4 236.6h.9M302.6 225.8h.9M310.7 222.9h.9M302.1 223.3h.9M308.6 224.5h.9M307.2 224.1h.9M314.3 228.7h.9M313.9 220.5h.9M292.6 227.8h.9M292.3 230.9h.9M294.8 224.5h.9M310.5 221.8h.9M295.2 225.2h.9M306.9 224.9h.9M309.9 226.9h.9M298.7 224.2h.9M290.6 231.5h.9M308.8 220.7h.9M307.5 224.9h.9M294.1 230.9h.9M296.3 222.7h.9M284.3 235.9h.9M301.9 221.8h.9M285.9 231.4h.9M299.0 224.9h.9M285.1 236.0h.9M281.0 244.9h.9M285.7 231.8h.9M284.8 239.3h.9M288.1 231.9h.9M309.1 219.4h.9M296.3 223.8h.9M311.4 220.7h.9M306.6 223.9h.9M302.1 223.9h.9M305.6 218.8h.9M314.7 228.3h.9M312.6 223.2h.9M283.9 237.3h.9M309.8 222.5h.9M311.0 220.2h.9M289.3 232.2h.9M282.7 238.2h.9M281.3 245.6h.9M291.0 228.8h.9M310.9 225.0h.9M305.3 223.4h.9M311.5 228.3h.9M295.1 227.4h.9M314.7 226.0h.9M291.3 226.2h.9M314.1 229.1h.9M301.9 220.6h.9M314.2 227.6h.9M305.3 224.3h.9M285.5 231.9h.9M311.8 221.1h.9M290.5 230.7h.9M289.2 228.6h.9M290.1 232.7h.9M283.5 253.5h.9M301.4 221.5h.9M290.2 229.0h.9M284.1 237.1h.9M308.7 219.4h.9M308.8 221.3h.9M288.0 230.2h.9M284.2 236.7h.9M291.1 228.1h.9M310.9 220.1h.9M314.7 228.3h.9M291.7 226.6h.9M302.9 220.9h.9M309.0 220.5h.9M285.4 239.7h.9M305.5 223.4h.9M310.4 227.4h.9M281.6 245.3h.9M298.1 224.3h.9M285.2 239.2h.9M310.5 221.7h.9M296.0 223.8h.9M289.7 228.5h.9M302.6 220.6h.9M291.0 230.7h.9M296.6 224.5h.9M287.1 230.7h.9M314.2 229.4h.9M292.4 230.3h.9M312.0 221.2h.9M283.1 237.2h.9M309.6 226.1h.9M310.1 221.5h.9M309.0 227.3h.9M299.1 223.6h.9M309.5 219.4h.9M306.6 224.1h.9M309.5 224.6h.9M290.8 229.1h.9M286.0 238.7h.9M288.0 231.8h.9M309.0 227.5h.9M310.0 227.9h.9M311.8 228.7h.9M311.8 226.3h.9M299.8 224.5h.9M290.5 230.1h.9M314.0 224.0h.9M289.6 231.6h.9M310.9 221.2h.9M298.7 223.5h.9M286.3 232.0h.9M311.1 221.1h.9M294.1 224.7h.9M284.7 238.6h.9M312.2 223.0h.9M295.1 226.5h.9M285.3 238.4h.9M286.7 231.8h.9M311.9 228.8h.9M296.6 222.5h.9M296.0 223.9h.9M313.2 220.3h.9M311.6 221.8h.9M282.2 244.6h.9M293.3 225.1h.9M309.1 220.3h.9M288.3 231.0h.9M298.4 224.9h.9M302.9 222.0h.9M309.0 222.0h.9M300.6 224.8h.9M289.3 232.1h.9M285.8 230.3h.9M288.7 231.6h.9M292.2 230.4h.9M305.8 222.1h.9M291.7 227.3h.9M283.8 237.0h.9M281.4 245.4h.9M301.4 221.5h.9M311.8 225.9h.9M311.3 227.7h.9M286.1 238.4h.9M302.0 221.2h.9M294.9 227.3h.9M293.4 231.4h.9M308.8 224.6h.9M311.8 225.5h.9M312.3 220.2h.9M309.2 222.0h.9M309.8 220.5h.9M305.9 222.6h.9M308.8 219.3h.9M313.1 221.1h.9M304.4 223.9h.9M286.1 230.9h.9M315.1 226.4h.9M302.7 221.2h.9M303.8 223.9h.9M311.3 220.5h.9M304.5 223.0h.9M301.9 223.5h.9M288.6 229.9h.9M286.1 231.7h.9M314.4 229.2h.9M312.6 229.5h.9M313.7 229.2h.9M285.7 238.8h.9M297.0 223.5h.9M309.7 226.7h.9M312.7 220.2h.9M283.4 237.3h.9M286.9 231.4h.9M289.6 229.7h.9M285.8 239.8h.9M302.2 225.5h.9M296.3 222.8h.9M300.0 224.2h.9M296.7 223.8h.9M302.0 221.2h.9M308.7 219.7h.9M304.1 219.7h.9M292.8 230.7h.9M292.7 225.5h.9M295.3 226.6h.9M301.4 223.2h.9M298.6 224.2h.9M287.9 231.4h.9M301.4 225.3h.9M313.4 221.4h.9M281.1 245.3h.9M295.2 226.8h.9M296.2 223.8h.9M281.3 245.9h.9M295.5 224.8h.9M313.7 224.4h.9M288.1 230.5h.9M311.5 222.5h.9M292.4 225.6h.9M294.4 224.6h.9M306.7 224.5h.9M289.1 231.2h.9M313.6 224.0h.9M310.3 227.9h.9M297.5 224.1h.9M311.2 222.7h.9M311.9 225.3h.9M302.1 225.9h.9M285.7 231.0h.9M312.8 221.1h.9M294.5 225.3h.9M309.2 220.2h.9M305.0 219.1h.9M300.3 224.6h.9M312.3 223.1h.9M310.4 222.3h.9M300.9 223.1h.9M293.5 227.1h.9M288.1 232.0h.9M284.0 236.7h.9M308.9 219.6h.9M302.4 221.4h.9M312.5 221.1h.9M313.9 221.1h.9M281.1 245.8h.9M286.2 237.9h.9M310.4 227.5h.9M288.4 229.6h.9M290.5 228.7h.9M314.6 224.9h.9M305.9 223.8h.9M303.1 224.9h.9M309.7 221.4h.9M292.8 230.6h.9M303.3 222.9h.9M312.8 228.8h.9M286.5 238.5h.9M285.8 238.0h.9M281.5 245.5h.9M284.2 236.9h.9M305.6 224.5h.9M281.6 245.4h.9M312.7 220.5h.9M290.1 232.0h.9M284.1 237.6h.9M282.1 245.2h.9M298.6 224.4h.9M290.9 231.1h.9M312.4 222.5h.9M300.7 224.5h.9M287.8 231.3h.9M294.3 226.9h.9M306.1 224.4h.9M283.8 236.0h.9M289.7 228.8h.9M289.1 229.1h.9M298.6 224.1h.9M310.8 220.8h.9M286.5 232.2h.9M312.7 220.1h.9M306.1 218.5h.9M303.1 225.0h.9M296.5 224.3h.9M312.3 223.7h.9M295.9 224.7h.9M310.8 226.9h.9M313.7 221.3h.9M283.3 237.6h.9M309.3 227.3h.9M295.0 224.7h.9M282.8 237.4h.9M286.5 230.1h.9M290.5 232.3h.9M312.6 228.6h.9M298.6 224.9h.9M283.9 236.9h.9M286.7 239.5h.9M283.1 237.2h.9M286.4 238.4h.9M286.1 230.9h.9M312.2 228.4h.9M290.5 228.1h.9M303.7 223.0h.9M293.1 230.4h.9M291.0 231.5h.9M293.5 230.8h.9M285.4 231.8h.9M313.8 224.4h.9M295.4 225.0h.9M283.4 236.3h.9M294.9 227.1h.9M299.4 223.8h.9M311.4 227.9h.9M309.3 227.5h.9M310.7 225.2h.9M296.6 223.7h.9M312.9 228.5h.9M295.2 230.7h.9M310.6 226.6h.9M295.2 226.5h.9M289.9 228.2h.9M288.2 230.5h.9M312.2 228.0h.9M288.8 229.8h.9M315.2 225.9h.9M290.2 231.5h.9M289.8 232.6h.9M314.5 227.6h.9M313.4 224.8h.9M287.7 256.7h.9" stroke="#07a1c1" stroke-width=".9" opacity="0.83"/>
<path d="M286.5 256.4h.9M281.6 261.6h.9M281.5 261.2h.9M283.9 265.0h.9M284.2 253.7h.9M281.4 258.2h.9M286.3 261.7h.9M284.5 254.2h.9M287.0 257.8h.9M284.0 265.4h.9M286.0 263.9h.9M282.1 256.8h.9M281.6 258.1h.9M285.1 254.8h.9M285.1 254.5h.9M284.2 254.0h.9M281.4 261.9h.9M284.9 265.1h.9M282.3 263.7h.9M286.1 264.2h.9M284.8 254.3h.9M286.9 257.1h.9M282.9 264.0h.9M282.9 255.2h.9M282.7 255.9h.9M286.9 256.6h.9M308.2 222.1h.9M312.3 224.0h.9M311.2 224.5h.9M294.5 226.3h.9M289.7 230.3h.9M312.8 225.3h.9M307.1 222.1h.9M312.2 224.8h.9M292.6 226.0h.9M293.7 226.1h.9M311.5 226.9h.9M311.4 224.3h.9M311.6 223.9h.9M289.7 230.7h.9M306.4 220.7h.9M303.8 220.2h.9M304.9 222.7h.9M295.1 225.6h.9M304.1 222.9h.9M312.8 227.4h.9M311.7 226.9h.9M311.9 228.0h.9M302.0 224.0h.9M306.0 221.2h.9M307.8 223.5h.9M292.8 227.0h.9M304.6 219.9h.9M305.2 221.9h.9M307.7 221.2h.9M292.9 226.9h.9M301.2 223.7h.9M290.0 229.1h.9M292.3 226.4h.9M294.9 225.5h.9M309.1 224.3h.9M305.7 219.7h.9M303.8 222.6h.9M313.4 227.6h.9M314.4 226.9h.9M311.5 227.4h.9M313.8 227.8h.9M300.4 224.5h.9M307.1 221.5h.9M290.1 231.0h.9M308.7 223.5h.9M290.1 230.3h.9M311.1 223.5h.9M306.4 220.5h.9M306.0 219.8h.9M294.2 225.9h.9M293.5 226.5h.9M292.8 226.8h.9M301.7 223.8h.9M312.8 227.7h.9M305.0 222.9h.9M314.4 226.5h.9M292.8 225.7h.9M293.9 225.7h.9M308.6 220.6h.9M300.5 224.5h.9M301.5 224.7h.9M312.9 224.9h.9M308.0 221.7h.9M308.3 223.9h.9M313.3 225.5h.9M312.8 227.4h.9M292.4 227.0h.9M307.4 222.7h.9M311.3 226.5h.9M308.5 221.1h.9M305.2 219.7h.9M312.3 226.3h.9M307.5 222.9h.9M312.7 224.8h.9M309.5 224.1h.9M306.1 219.9h.9M314.6 227.5h.9M302.0 224.8h.9M307.6 220.7h.9M305.8 219.8h.9M312.5 224.1h.9M307.7 223.7h.9M307.2 222.4h.9M304.0 220.4h.9M306.8 221.3h.9M312.0 224.3h.9M306.8 221.7h.9M306.9 220.1h.9M307.5 220.1h.9M314.7 226.0h.9M303.4 222.4h.9M302.9 221.2h.9M301.4 224.6h.9M301.9 224.9h.9M301.6 224.3h.9M307.9 223.6h.9M306.9 219.9h.9M301.3 223.5h.9M307.3 222.9h.9M292.3 226.1h.9M314.6 226.8h.9M304.9 219.9h.9M293.2 227.5h.9M314.1 225.8h.9M314.2 225.5h.9M292.5 227.0h.9M305.5 219.6h.9M305.5 222.4h.9M307.2 223.2h.9M307.4 222.5h.9M307.3 223.8h.9M314.1 225.5h.9M307.9 224.3h.9M314.5 226.7h.9M303.6 220.9h.9M312.8 226.6h.9M302.9 221.7h.9M300.6 224.0h.9M309.1 222.6h.9M289.3 230.2h.9M307.5 220.3h.9M307.3 220.7h.9M307.5 219.8h.9M311.7 223.4h.9M312.2 226.9h.9M306.9 220.9h.9M292.8 225.5h.9M294.9 225.5h.9M309.0 222.8h.9M312.8 226.8h.9M308.5 220.4h.9M306.8 220.0h.9M290.2 230.8h.9M313.0 225.2h.9M309.2 222.4h.9M314.5 227.3h.9M307.6 223.6h.9M313.1 226.2h.9M289.8 230.2h.9M306.3 221.6h.9M312.2 224.2h.9M311.0 224.2h.9M292.3 227.4h.9M302.0 224.8h.9M300.9 224.4h.9M290.0 229.5h.9M313.2 226.7h.9M312.8 225.7h.9M312.0 227.2h.9" stroke="#11c185" stroke-width=".9" opacity="0.91"/>
<path d="M284.2 255.0h.9M283.9 254.9h.9M284.7 264.7h.9M286.4 257.0h.9M286.6 258.2h.9M286.2 258.0h.9M286.6 260.4h.9M281.5 261.0h.9M285.1 255.4h.9M286.0 262.5h.9M285.4 264.0h.9M282.1 262.7h.9M283.9 255.3h.9M286.0 262.2h.9M281.4 261.0h.9M284.5 255.0h.9M282.6 256.2h.9M283.9 264.6h.9M282.9 255.7h.9M286.4 259.9h.9M284.2 255.1h.9M282.2 257.0h.9M282.2 257.4h.9M286.0 262.5h.9M286.4 260.5h.9M285.3 264.0h.9M284.0 254.6h.9M284.3 265.0h.9M282.9 255.7h.9M282.6 256.3h.9M282.8 255.9h.9M285.8 262.9h.9M286.0 262.8h.9M284.0 255.1h.9M307.9 223.0h.9M305.9 220.8h.9M304.5 220.7h.9M305.3 221.4h.9M303.7 221.3h.9M305.6 220.4h.9M309.8 223.4h.9M305.0 221.8h.9M308.0 222.7h.9M304.5 222.0h.9M313.9 226.6h.9M310.1 223.7h.9M310.4 223.8h.9M310.4 224.3h.9M304.3 220.6h.9M310.2 223.3h.9M309.6 223.1h.9M309.9 223.3h.9M306.2 220.2h.9M308.8 223.5h.9M304.9 221.3h.9M303.7 221.4h.9M310.4 224.3h.9M304.7 222.1h.9M305.6 221.2h.9M304.2 221.6h.9M310.7 224.1h.9M308.6 222.8h.9M310.7 224.0h.9M304.5 220.2h.9M308.9 223.4h.9M309.4 223.4h.9M310.2 223.7h.9M303.8 222.2h.9M306.1 220.4h.9M310.7 224.1h.9M304.1 221.5h.9M314.0 226.9h.9M304.6 222.3h.9M304.1 221.5h.9M308.1 222.7h.9M304.4 220.5h.9M310.7 224.5h.9M304.9 222.4h.9M310.5 223.8h.9M313.9 227.0h.9M313.9 226.9h.9" stroke="#36ce55" stroke-width=".9" opacity="0.99"/>
<path d="M282.5 263.0h.9M285.8 261.3h.9M284.0 264.3h.9M285.7 261.1h.9M285.0 255.9h.9M286.7 257.3h.9M284.5 264.0h.9M286.2 261.2h.9M286.6 257.8h.9M284.4 264.1h.9M284.5 264.4h.9M282.7 256.6h.9M283.0 263.8h.9M286.5 257.2h.9M284.4 264.1h.9M284.4 264.0h.9M284.6 264.3h.9M282.3 256.7h.9M286.5 257.4h.9M285.1 255.9h.9M285.2 264.0h.9M304.7 221.4h.9M304.5 221.9h.9M304.2 221.6h.9M304.3 221.6h.9" stroke="#63d728" stroke-width=".9" opacity="1.00"/>
<path d="M285.1 263.9h.9M286.0 260.9h.9M282.8 256.4h.9M281.9 260.2h.9M285.7 263.2h.9M282.3 262.6h.9M285.1 256.4h.9M286.0 260.9h.9M281.9 259.9h.9M286.1 257.3h.9M282.1 260.5h.9M285.1 256.2h.9M282.9 256.1h.9M284.9 263.6h.9M282.4 257.2h.9M282.7 262.9h.9M282.1 258.5h.9M285.5 262.2h.9M281.8 260.7h.9M282.1 258.1h.9M283.2 263.1h.9M283.8 263.8h.9M285.6 263.5h.9M285.8 257.4h.9M282.1 260.4h.9M285.5 262.3h.9M286.1 259.2h.9M284.7 263.5h.9M285.5 262.6h.9M284.2 256.0h.9M281.8 259.7h.9M285.5 262.8h.9M282.1 259.5h.9M285.4 262.6h.9M285.1 256.4h.9M282.0 259.3h.9M282.4 263.0h.9M284.9 256.3h.9M282.2 259.6h.9M281.8 259.0h.9M284.8 263.6h.9" stroke="#8fde0f" stroke-width=".9" opacity="1.00"/>
<path d="M284.5 256.2h.9M285.7 257.8h.9M283.4 256.2h.9M285.8 260.4h.9M283.1 256.7h.9M282.4 262.2h.9M282.4 257.9h.9M285.3 256.7h.9M286.2 257.5h.9M283.4 256.5h.9M284.7 256.4h.9M284.6 256.0h.9M286.1 259.9h.9M282.5 261.3h.9M286.0 257.6h.9M282.4 261.9h.9M283.6 256.1h.9M282.6 262.4h.9M282.3 257.5h.9M282.4 261.7h.9M285.1 263.1h.9M282.7 256.6h.9M283.5 256.4h.9M284.5 256.4h.9M282.7 257.7h.9" stroke="#bae207" stroke-width=".9" opacity="1.00"/>
<path d="M285.3 257.4h.9M284.1 263.3h.9M282.6 258.4h.9M284.8 262.9h.9M284.9 256.6h.9M284.8 256.6h.9M284.1 263.0h.9M284.9 262.3h.9M285.6 257.3h.9M283.5 263.3h.9M282.3 260.8h.9M283.0 263.0h.9M285.7 257.4h.9M284.9 262.9h.9M283.6 263.3h.9M285.5 257.9h.9M284.8 256.6h.9M282.4 260.2h.9M282.4 258.5h.9M282.5 258.3h.9M285.4 257.9h.9M283.6 263.1h.9M285.3 257.6h.9M283.2 256.5h.9M283.6 263.5h.9M285.7 257.7h.9M282.4 258.3h.9M282.4 260.2h.9M285.1 256.5h.9M282.9 262.6h.9" stroke="#e5e500" stroke-width=".9" opacity="1.00"/>
<path d="M285.3 258.9h.9M282.8 262.3h.9M282.2 258.8h.9M282.4 259.6h.9M282.4 259.8h.9M283.8 256.7h.9M283.5 262.6h.9M283.3 257.4h.9M283.7 262.9h.9M285.7 259.3h.9M284.3 262.7h.9M284.7 257.5h.9M284.4 256.8h.9M285.6 258.7h.9M283.6 262.7h.9M283.9 256.7h.9M283.5 262.8h.9M282.5 259.8h.9M282.4 259.3h.9M283.9 256.8h.9M282.7 259.8h.9M285.3 258.8h.9M283.5 257.4h.9M284.9 257.4h.9M285.6 260.7h.9M284.8 257.3h.9" stroke="#efc300" stroke-width=".9" opacity="1.00"/>
<path d="M283.8 262.8h.9M282.8 260.5h.9M285.5 260.1h.9M284.7 257.4h.9M282.9 260.3h.9M285.4 259.8h.9M283.0 260.9h.9M283.8 262.7h.9M284.2 262.3h.9M284.3 262.4h.9M283.9 262.8h.9M284.7 257.6h.9M285.3 260.4h.9M282.8 261.8h.9M283.8 262.8h.9M284.4 262.3h.9M283.9 257.4h.9M285.2 259.7h.9M284.5 262.4h.9M285.3 260.4h.9M284.3 262.0h.9M285.2 260.4h.9M285.0 257.6h.9M283.1 261.0h.9M283.1 261.7h.9M283.8 257.3h.9M285.6 260.5h.9M283.1 257.6h.9M283.8 257.2h.9M282.9 261.8h.9M284.4 257.3h.9M285.3 259.7h.9M285.5 260.4h.9M282.8 260.6h.9" stroke="#f9a000" stroke-width=".9" opacity="1.00"/>
<path d="M283.5 262.4h.9M283.6 257.9h.9M284.9 258.6h.9M284.6 261.6h.9M283.2 258.8h.9M282.9 258.2h.9M283.2 259.0h.9M282.9 258.8h.9M282.9 259.3h.9M284.4 261.6h.9M283.3 262.4h.9M285.2 258.5h.9M282.8 259.9h.9M284.2 262.3h.9M285.0 260.6h.9M283.9 262.0h.9M284.5 261.8h.9M282.8 259.0h.9M284.9 260.9h.9M284.9 258.0h.9M283.3 257.5h.9M283.2 259.2h.9M285.0 260.7h.9M284.0 262.1h.9M285.0 258.3h.9M284.5 261.6h.9M283.1 258.0h.9M283.2 258.0h.9M283.3 257.7h.9M284.8 258.5h.9M284.8 258.5h.9M282.9 258.7h.9M282.8 259.8h.9M283.2 257.7h.9M283.8 257.6h.9M283.4 262.1h.9M284.0 262.3h.9M283.0 259.8h.9M283.9 257.8h.9M284.6 257.9h.9M283.1 258.1h.9M283.3 257.9h.9" stroke="#fa6d00" stroke-width=".9" opacity="1.00"/>
<path d="M283.8 258.6h.9M283.7 261.1h.9M284.6 261.0h.9M283.3 261.5h.9M285.0 260.2h.9M284.0 259.1h.9M284.8 260.3h.9M284.0 261.3h.9M283.5 261.3h.9M284.6 259.6h.9M285.1 260.0h.9M283.5 261.9h.9M284.8 260.1h.9M283.4 259.1h.9M284.5 258.5h.9M284.2 258.9h.9M284.7 260.1h.9M283.6 258.9h.9M284.4 260.8h.9M284.1 259.9h.9M284.1 261.4h.9M283.3 260.1h.9M283.5 259.9h.9M284.5 259.9h.9M284.2 261.9h.9M283.3 261.7h.9M285.0 259.6h.9M283.9 261.1h.9M283.4 261.1h.9M284.4 259.2h.9M284.0 260.0h.9M284.1 258.5h.9M283.4 261.3h.9M284.2 260.8h.9M283.7 261.4h.9M283.4 259.6h.9M284.9 260.5h.9M283.5 258.2h.9M284.7 260.1h.9M284.5 259.2h.9M283.5 258.8h.9M284.4 258.7h.9M284.4 258.7h.9M283.7 258.5h.9M283.5 261.2h.9M283.3 259.4h.9M283.4 258.7h.9M284.2 260.4h.9M283.4 260.8h.9M285.0 260.2h.9M283.4 258.4h.9M283.4 260.7h.9M283.6 261.8h.9M283.8 258.8h.9M283.7 261.6h.9M284.6 260.8h.9M283.8 259.1h.9M284.2 259.6h.9M283.7 261.5h.9M284.7 258.4h.9M284.0 260.5h.9M283.7 259.2h.9M284.4 260.8h.9M284.0 258.8h.9M284.4 259.6h.9M284.2 258.5h.9M284.3 259.9h.9M283.7 259.5h.9M284.0 259.3h.9M284.5 261.2h.9M284.3 260.5h.9M284.1 258.3h.9M284.0 260.1h.9M284.6 261.3h.9M283.7 258.8h.9M284.6 260.6h.9M283.9 259.4h.9M283.6 261.9h.9M284.8 259.4h.9M284.2 258.7h.9M284.3 259.4h.9M284.5 260.7h.9M284.1 258.9h.9M284.1 259.6h.9M285.0 259.8h.9M283.3 260.0h.9M284.7 260.1h.9M283.8 259.9h.9M283.9 258.1h.9M283.8 258.3h.9M283.6 261.2h.9M283.8 258.4h.9M284.9 259.3h.9M284.7 260.0h.9" stroke="#f02400" stroke-width=".9" opacity="1.00"/>
<rect x="260.20" y="203.50" width="78.30" height="71.80" fill="none" stroke="#8a9696" stroke-width="0.9"/>
<line x1="258.60" y1="223.10" x2="260.60" y2="223.10" stroke="#555" stroke-width="0.8"/>
<line x1="259.40" y1="217.50" x2="260.60" y2="217.50" stroke="#777" stroke-width="0.6"/>
<line x1="259.40" y1="214.23" x2="260.60" y2="214.23" stroke="#777" stroke-width="0.6"/>
<line x1="259.40" y1="211.90" x2="260.60" y2="211.90" stroke="#777" stroke-width="0.6"/>
<line x1="259.40" y1="210.10" x2="260.60" y2="210.10" stroke="#777" stroke-width="0.6"/>
<line x1="259.40" y1="208.63" x2="260.60" y2="208.63" stroke="#777" stroke-width="0.6"/>
<line x1="259.40" y1="207.38" x2="260.60" y2="207.38" stroke="#777" stroke-width="0.6"/>
<line x1="259.40" y1="206.30" x2="260.60" y2="206.30" stroke="#777" stroke-width="0.6"/>
<line x1="259.40" y1="205.35" x2="260.60" y2="205.35" stroke="#777" stroke-width="0.6"/>
<line x1="258.60" y1="241.70" x2="260.60" y2="241.70" stroke="#555" stroke-width="0.8"/>
<line x1="259.40" y1="236.10" x2="260.60" y2="236.10" stroke="#777" stroke-width="0.6"/>
<line x1="259.40" y1="232.83" x2="260.60" y2="232.83" stroke="#777" stroke-width="0.6"/>
<line x1="259.40" y1="230.50" x2="260.60" y2="230.50" stroke="#777" stroke-width="0.6"/>
<line x1="259.40" y1="228.70" x2="260.60" y2="228.70" stroke="#777" stroke-width="0.6"/>
<line x1="259.40" y1="227.23" x2="260.60" y2="227.23" stroke="#777" stroke-width="0.6"/>
<line x1="259.40" y1="225.98" x2="260.60" y2="225.98" stroke="#777" stroke-width="0.6"/>
<line x1="259.40" y1="224.90" x2="260.60" y2="224.90" stroke="#777" stroke-width="0.6"/>
<line x1="259.40" y1="223.95" x2="260.60" y2="223.95" stroke="#777" stroke-width="0.6"/>
<line x1="258.60" y1="260.30" x2="260.60" y2="260.30" stroke="#555" stroke-width="0.8"/>
<line x1="259.40" y1="254.70" x2="260.60" y2="254.70" stroke="#777" stroke-width="0.6"/>
<line x1="259.40" y1="251.43" x2="260.60" y2="251.43" stroke="#777" stroke-width="0.6"/>
<line x1="259.40" y1="249.10" x2="260.60" y2="249.10" stroke="#777" stroke-width="0.6"/>
<line x1="259.40" y1="247.30" x2="260.60" y2="247.30" stroke="#777" stroke-width="0.6"/>
<line x1="259.40" y1="245.83" x2="260.60" y2="245.83" stroke="#777" stroke-width="0.6"/>
<line x1="259.40" y1="244.58" x2="260.60" y2="244.58" stroke="#777" stroke-width="0.6"/>
<line x1="259.40" y1="243.50" x2="260.60" y2="243.50" stroke="#777" stroke-width="0.6"/>
<line x1="259.40" y1="242.55" x2="260.60" y2="242.55" stroke="#777" stroke-width="0.6"/>
<line x1="258.60" y1="278.90" x2="260.60" y2="278.90" stroke="#555" stroke-width="0.8"/>
<line x1="259.40" y1="273.30" x2="260.60" y2="273.30" stroke="#777" stroke-width="0.6"/>
<line x1="259.40" y1="270.03" x2="260.60" y2="270.03" stroke="#777" stroke-width="0.6"/>
<line x1="259.40" y1="267.70" x2="260.60" y2="267.70" stroke="#777" stroke-width="0.6"/>
<line x1="259.40" y1="265.90" x2="260.60" y2="265.90" stroke="#777" stroke-width="0.6"/>
<line x1="259.40" y1="264.43" x2="260.60" y2="264.43" stroke="#777" stroke-width="0.6"/>
<line x1="259.40" y1="263.18" x2="260.60" y2="263.18" stroke="#777" stroke-width="0.6"/>
<line x1="259.40" y1="262.10" x2="260.60" y2="262.10" stroke="#777" stroke-width="0.6"/>
<line x1="259.40" y1="261.15" x2="260.60" y2="261.15" stroke="#777" stroke-width="0.6"/>
<line x1="257.80" y1="274.30" x2="260.60" y2="274.30" stroke="#555" stroke-width="0.8"/>
<line x1="260.70" y1="276.90" x2="260.70" y2="274.90" stroke="#777" stroke-width="0.6"/>
<line x1="268.40" y1="276.10" x2="268.40" y2="274.90" stroke="#777" stroke-width="0.6"/>
<line x1="276.10" y1="276.10" x2="276.10" y2="274.90" stroke="#777" stroke-width="0.6"/>
<line x1="283.80" y1="276.10" x2="283.80" y2="274.90" stroke="#777" stroke-width="0.6"/>
<line x1="291.50" y1="276.90" x2="291.50" y2="274.90" stroke="#777" stroke-width="0.6"/>
<line x1="299.20" y1="276.10" x2="299.20" y2="274.90" stroke="#777" stroke-width="0.6"/>
<line x1="306.90" y1="276.10" x2="306.90" y2="274.90" stroke="#777" stroke-width="0.6"/>
<line x1="314.60" y1="276.10" x2="314.60" y2="274.90" stroke="#777" stroke-width="0.6"/>
<line x1="322.30" y1="276.90" x2="322.30" y2="274.90" stroke="#777" stroke-width="0.6"/>
<line x1="330.00" y1="276.10" x2="330.00" y2="274.90" stroke="#777" stroke-width="0.6"/>
<line x1="337.70" y1="276.10" x2="337.70" y2="274.90" stroke="#777" stroke-width="0.6"/>
<rect x="278.20" y="217.80" width="41.70" height="34.50" fill="none" stroke="#606060" stroke-width="0.85"/>
<rect x="260.95" y="247.80" width="8.00" height="16.50" fill="none" stroke="#606060" stroke-width="0.85"/>
<rect x="278.20" y="252.30" width="16.80" height="20.70" fill="none" stroke="#606060" stroke-width="0.85"/>
<rect x="295.00" y="252.30" width="24.90" height="13.70" fill="none" stroke="#606060" stroke-width="0.85"/>
<line x1="278.20" y1="252.30" x2="319.90" y2="252.30" stroke="#222" stroke-width="1.3"/>
<line x1="295.00" y1="252.30" x2="295.00" y2="273.00" stroke="#2a2a2a" stroke-width="1.1"/>
<text transform="translate(299.50,215.10) scale(1.100,1)" font-size="9.4" text-anchor="middle">49,1</text>
<text transform="translate(261.20,245.80) scale(1.100,1)" font-size="9.4">0,3</text>
<text transform="translate(321.70,264.30) scale(1.100,1)" font-size="9.4">3,0</text>
<text transform="translate(296.20,274.50) scale(1.100,1)" font-size="9.4">44,8</text>
<path d="M376.3 253.8h.9M387.5 266.1h.9M376.5 258.3h.9M377.0 251.6h.9M380.4 274.7h.9M375.4 242.4h.9M387.2 223.3h.9M389.4 219.6h.9M403.4 217.4h.9M382.6 229.1h.9M376.2 246.5h.9M380.3 235.3h.9M409.8 215.8h.9M406.9 216.6h.9M391.6 252.2h.9M412.3 223.8h.9M389.6 221.2h.9M401.5 215.2h.9M392.4 221.9h.9M406.7 215.5h.9M381.7 232.5h.9M390.7 223.7h.9M373.1 252.3h.9M379.5 226.8h.9M376.9 241.3h.9M398.6 246.9h.9M414.3 233.8h.9M406.8 245.8h.9M415.1 238.5h.9M416.2 249.7h.9M410.0 247.8h.9M405.8 244.5h.9M414.2 238.0h.9M415.4 240.2h.9M415.7 226.3h.9M409.8 238.2h.9M412.3 236.2h.9M413.7 231.1h.9M416.6 245.6h.9M415.0 227.5h.9M409.0 250.1h.9M394.5 244.1h.9M390.7 246.7h.9M399.1 245.6h.9M399.2 242.0h.9M411.7 233.2h.9M408.5 242.7h.9M410.6 241.9h.9M389.8 251.3h.9M412.8 230.0h.9M404.1 239.0h.9M415.6 233.6h.9M415.0 256.6h.9M405.3 251.7h.9M393.7 253.2h.9M413.8 258.8h.9M407.0 261.3h.9M411.2 254.9h.9M407.8 253.3h.9M398.3 258.7h.9M411.8 252.6h.9M409.6 257.9h.9M399.8 261.6h.9M412.1 258.4h.9M398.8 262.1h.9M409.5 256.5h.9M365.5 256.9h.9M362.8 257.5h.9M428.3 255.4h.9M409.0 265.8h.9M369.8 217.7h.9M435.0 216.4h.9M376.7 208.1h.9M426.6 259.7h.9M401.0 267.6h.9M363.9 238.1h.9M377.1 224.0h.9M433.5 215.7h.9M409.1 241.6h.9M418.7 239.1h.9M390.3 258.3h.9M432.6 208.1h.9M390.0 253.9h.9M388.6 261.8h.9M395.4 270.4h.9M395.8 262.9h.9M428.6 250.8h.9M432.2 241.9h.9M369.0 271.1h.9M399.3 205.1h.9M425.3 237.1h.9M423.9 231.1h.9M436.7 244.1h.9M431.4 222.8h.9M428.6 240.3h.9M433.9 245.4h.9M428.9 226.7h.9M424.0 247.9h.9M429.7 228.7h.9M432.8 226.7h.9M422.1 227.1h.9M435.6 234.7h.9M436.9 243.2h.9M423.6 240.2h.9M436.1 226.0h.9M427.0 241.6h.9M436.7 236.7h.9M434.9 243.5h.9M434.0 221.7h.9M428.3 246.2h.9M435.5 241.2h.9M430.1 248.1h.9M428.9 237.2h.9M422.3 234.7h.9M436.5 240.9h.9M432.5 243.7h.9M434.0 227.3h.9M422.9 244.8h.9M428.9 241.0h.9M427.2 236.2h.9M422.9 223.2h.9M431.0 231.7h.9M437.0 231.8h.9M428.9 221.6h.9M428.5 243.4h.9M430.1 225.0h.9M430.8 226.2h.9M433.7 239.6h.9M432.0 248.0h.9M422.0 229.3h.9M431.7 228.2h.9M436.1 222.0h.9M435.1 224.7h.9M429.0 231.9h.9M435.1 237.1h.9" stroke="#344dee" stroke-width=".9" opacity="0.42"/>
<path d="M385.1 266.9h.9M383.6 271.8h.9M387.2 256.2h.9M375.7 264.1h.9M387.8 256.2h.9M385.2 267.6h.9M385.5 263.9h.9M376.8 260.1h.9M375.9 263.9h.9M376.9 268.5h.9M376.2 260.6h.9M385.6 258.6h.9M377.5 259.8h.9M385.8 255.6h.9M378.3 241.9h.9M376.6 248.7h.9M399.6 236.3h.9M393.4 222.4h.9M389.6 249.0h.9M385.5 253.7h.9M392.6 243.5h.9M405.2 220.8h.9M379.6 237.7h.9M376.6 250.7h.9M398.6 215.7h.9M378.1 243.2h.9M378.0 248.5h.9M409.8 224.9h.9M409.1 230.6h.9M405.4 220.9h.9M401.0 234.2h.9M404.7 218.9h.9M380.2 242.0h.9M377.7 249.5h.9M387.3 248.9h.9M377.9 248.3h.9M408.0 224.1h.9M394.9 221.8h.9M389.2 225.3h.9M391.4 239.1h.9M390.9 225.5h.9M391.7 241.1h.9M398.7 215.8h.9M386.0 227.4h.9M410.9 220.1h.9M401.5 218.8h.9M409.3 226.9h.9M402.8 219.5h.9M409.7 229.0h.9M390.5 225.8h.9M401.4 218.8h.9M410.9 220.5h.9M396.7 219.8h.9M411.1 222.0h.9M396.0 220.3h.9M390.5 242.6h.9M410.9 228.2h.9M406.6 219.9h.9M410.3 226.0h.9M379.0 237.0h.9M408.2 221.5h.9M407.8 222.0h.9M387.0 248.1h.9M379.3 242.5h.9M406.2 233.4h.9M408.3 228.3h.9M379.4 239.1h.9M392.4 239.9h.9M413.4 225.8h.9M403.5 218.0h.9M408.5 223.5h.9M405.2 233.6h.9M414.3 241.2h.9M406.6 249.8h.9M408.2 233.4h.9M412.1 228.5h.9M397.0 239.5h.9M403.8 241.2h.9M406.4 233.3h.9M413.8 248.6h.9M404.2 236.0h.9M409.0 236.6h.9M403.1 246.9h.9M385.7 226.5h.9M408.0 238.7h.9M402.3 242.7h.9M394.8 239.2h.9M410.8 230.6h.9M407.1 232.7h.9M396.1 238.7h.9M392.4 251.0h.9M402.4 237.1h.9M416.3 228.6h.9M407.7 250.9h.9M392.6 245.1h.9M404.9 237.2h.9M412.6 245.4h.9M403.4 237.5h.9M412.7 245.1h.9M391.8 248.7h.9M414.6 248.1h.9M405.1 247.7h.9M404.5 250.8h.9M399.4 250.8h.9M416.0 231.1h.9M390.8 250.2h.9M409.6 226.0h.9M414.4 244.3h.9M404.7 234.8h.9M392.9 249.0h.9M397.0 239.2h.9M392.8 247.4h.9M403.1 244.1h.9M386.7 251.4h.9M392.1 247.1h.9M413.2 241.1h.9M409.5 231.7h.9M416.9 229.7h.9M403.0 248.2h.9M412.5 239.0h.9M391.6 240.9h.9M404.0 241.7h.9M397.4 244.2h.9M396.9 250.1h.9M396.1 251.4h.9M412.7 239.6h.9M413.8 249.3h.9M397.4 249.8h.9M403.0 243.7h.9M386.7 251.3h.9M412.9 225.7h.9M410.9 232.3h.9M413.9 242.5h.9M401.0 237.7h.9M404.3 232.7h.9M401.4 240.9h.9M408.3 235.1h.9M411.6 249.1h.9M411.4 249.2h.9M392.3 243.5h.9M409.3 235.3h.9M397.9 239.3h.9M404.6 249.7h.9M403.5 245.5h.9M404.9 247.5h.9M412.8 250.4h.9M402.3 248.5h.9M414.9 243.0h.9M400.8 242.2h.9M389.3 248.7h.9M401.0 242.5h.9M413.1 240.2h.9M403.7 234.7h.9M413.1 246.3h.9M412.4 228.3h.9M407.2 233.6h.9M399.8 251.5h.9M412.7 225.8h.9M402.5 241.5h.9M403.5 248.9h.9M407.8 236.1h.9M401.6 237.3h.9M411.6 226.9h.9M401.4 234.4h.9M406.7 239.2h.9M416.2 230.4h.9M409.5 236.9h.9M415.8 248.2h.9M408.0 234.2h.9M398.5 238.9h.9M396.5 244.2h.9M409.9 231.9h.9M405.7 249.6h.9M407.5 239.2h.9M400.1 238.1h.9M402.7 255.2h.9M400.6 255.0h.9M407.1 255.4h.9M395.6 253.2h.9M407.4 255.9h.9M397.3 252.6h.9M406.5 258.4h.9M397.9 254.6h.9M404.0 252.7h.9M402.1 255.8h.9M401.0 258.5h.9M399.9 252.5h.9M406.4 258.8h.9M395.9 257.3h.9M397.0 251.6h.9M396.8 256.4h.9M403.8 260.2h.9M401.9 253.5h.9M398.5 255.3h.9M405.5 261.3h.9M398.6 257.2h.9M400.6 253.6h.9M397.2 256.7h.9M404.3 260.4h.9M405.7 260.7h.9M397.0 253.4h.9M396.5 257.4h.9M364.5 257.2h.9M365.8 248.1h.9M363.2 247.4h.9M363.4 255.5h.9M362.8 247.1h.9M365.4 251.2h.9M362.9 252.6h.9M365.3 252.6h.9M364.2 257.3h.9M362.3 255.5h.9M397.2 249.3h.9M414.6 247.6h.9M431.8 234.4h.9M423.5 225.9h.9M424.0 241.2h.9M434.0 233.6h.9M425.0 225.8h.9M423.0 225.8h.9M424.5 233.3h.9M423.9 242.1h.9M423.3 245.8h.9M430.3 234.8h.9M436.3 230.1h.9M430.9 233.4h.9M426.3 225.3h.9M436.9 230.0h.9M425.1 243.9h.9M423.9 233.2h.9M425.9 234.5h.9M434.6 233.4h.9M433.6 242.7h.9M432.0 233.9h.9M430.5 233.9h.9M436.2 223.1h.9M431.4 235.6h.9M424.6 244.6h.9M428.5 247.1h.9M425.2 224.7h.9M424.0 246.1h.9M431.4 236.3h.9M426.3 224.3h.9M428.6 248.5h.9M434.7 232.6h.9M427.8 237.6h.9M426.1 235.3h.9M422.6 225.1h.9M424.7 243.5h.9" stroke="#2649ec" stroke-width=".9" opacity="0.50"/>
<path d="M380.7 272.8h.9M379.4 271.7h.9M378.5 256.4h.9M379.5 271.0h.9M385.8 249.3h.9M378.1 255.8h.9M382.2 271.5h.9M380.0 248.1h.9M378.4 268.2h.9M383.2 270.6h.9M377.6 255.4h.9M378.2 263.7h.9M378.4 263.6h.9M385.5 264.4h.9M384.2 251.2h.9M379.1 250.7h.9M384.2 269.3h.9M378.0 258.9h.9M377.2 268.8h.9M377.5 254.1h.9M378.4 269.0h.9M378.7 269.0h.9M384.1 269.8h.9M378.6 250.2h.9M379.5 272.2h.9M385.1 260.8h.9M385.1 249.8h.9M381.5 272.7h.9M379.2 248.5h.9M384.6 255.3h.9M378.2 260.0h.9M377.8 269.3h.9M385.4 265.4h.9M384.2 253.2h.9M385.1 257.5h.9M385.3 260.4h.9M380.1 247.3h.9M385.0 256.7h.9M377.8 268.5h.9M384.7 268.0h.9M379.5 272.8h.9M379.0 256.6h.9M384.0 250.2h.9M393.3 223.2h.9M406.6 220.7h.9M384.1 249.5h.9M385.0 247.7h.9M377.8 245.8h.9M397.7 221.2h.9M384.4 248.0h.9M387.3 230.2h.9M390.5 241.3h.9M399.6 220.4h.9M382.5 237.6h.9M386.3 250.7h.9M384.5 251.4h.9M393.1 224.8h.9M390.4 239.3h.9M407.5 229.6h.9M386.4 230.1h.9M391.4 237.9h.9M383.0 249.8h.9M395.9 221.8h.9M401.6 220.0h.9M394.5 223.1h.9M384.4 230.8h.9M383.4 248.7h.9M377.5 254.2h.9M400.4 232.5h.9M388.2 247.9h.9M383.6 248.6h.9M388.6 246.4h.9M391.6 225.8h.9M378.5 244.3h.9M380.2 238.6h.9M407.8 221.1h.9M385.5 251.0h.9M384.8 247.6h.9M377.9 245.1h.9M405.1 231.1h.9M399.1 222.1h.9M405.2 231.1h.9M383.0 250.1h.9M381.0 237.3h.9M399.2 234.1h.9M380.0 248.1h.9M399.1 220.1h.9M387.0 226.9h.9M399.8 220.5h.9M385.7 247.9h.9M393.8 223.8h.9M393.3 224.4h.9M407.6 220.8h.9M380.1 238.5h.9M402.1 233.0h.9M381.4 240.5h.9M384.5 230.3h.9M384.5 254.0h.9M380.2 245.7h.9M407.0 229.2h.9M386.3 227.5h.9M400.9 219.8h.9M394.0 239.0h.9M377.6 246.1h.9M381.6 237.1h.9M377.9 245.2h.9M383.5 233.1h.9M399.0 221.6h.9M390.0 242.2h.9M407.4 229.9h.9M379.9 251.8h.9M384.1 231.2h.9M388.8 248.1h.9M393.6 224.3h.9M379.0 250.7h.9M392.5 238.3h.9M384.4 252.0h.9M393.1 238.8h.9M382.2 236.4h.9M395.0 222.9h.9M382.9 237.0h.9M398.6 220.8h.9M384.4 252.9h.9M378.8 246.2h.9M382.7 235.3h.9M395.6 236.9h.9M390.4 240.6h.9M397.5 221.8h.9M388.5 247.0h.9M384.6 230.0h.9M396.6 236.6h.9M401.4 219.8h.9M405.4 230.0h.9M406.7 220.3h.9M387.2 227.2h.9M397.3 221.5h.9M390.9 238.0h.9M406.4 221.7h.9M382.7 236.3h.9M381.8 237.4h.9M383.1 235.9h.9M385.0 229.9h.9M388.4 226.6h.9M400.2 234.5h.9M400.0 232.8h.9M386.0 230.1h.9M404.3 234.2h.9M397.4 237.3h.9M388.9 246.0h.9M388.4 246.9h.9M389.2 226.5h.9M403.7 231.9h.9M389.7 244.9h.9M395.4 238.7h.9M387.3 226.5h.9M404.4 233.7h.9M403.1 241.3h.9M386.0 229.9h.9M407.5 230.3h.9M386.9 226.3h.9M386.2 250.3h.9M403.2 241.1h.9M402.1 232.7h.9M407.3 229.3h.9M399.8 235.1h.9M394.5 237.7h.9M401.3 241.6h.9M387.9 246.4h.9M398.2 237.0h.9M405.2 257.5h.9M400.9 254.5h.9M403.9 253.6h.9M399.8 254.6h.9M400.0 257.6h.9M404.4 258.4h.9M400.5 258.3h.9M403.2 254.2h.9M399.4 256.5h.9M399.6 257.0h.9M405.8 256.2h.9M405.5 256.4h.9M399.8 254.7h.9M398.9 256.2h.9M400.1 256.7h.9M405.9 256.2h.9M406.1 257.0h.9M405.2 257.6h.9M403.2 258.0h.9M403.0 255.0h.9M402.2 256.9h.9M402.3 257.8h.9M403.5 253.6h.9M402.1 257.7h.9M403.3 257.2h.9M399.9 257.6h.9M401.9 256.8h.9M404.7 258.1h.9M404.3 258.1h.9M363.6 252.4h.9M363.5 253.8h.9M364.6 249.1h.9M363.1 254.9h.9M364.3 251.9h.9M364.0 248.5h.9M364.6 249.6h.9M364.5 253.3h.9M363.2 253.8h.9M363.9 254.9h.9M363.7 251.5h.9M364.6 251.6h.9" stroke="#1748eb" stroke-width=".9" opacity="0.58"/>
<path d="M380.4 271.8h.9M379.7 272.5h.9M381.9 252.2h.9M378.8 261.9h.9M378.8 255.1h.9M380.2 271.0h.9M379.8 252.9h.9M378.6 258.3h.9M380.5 250.8h.9M378.8 264.7h.9M383.1 252.4h.9M380.4 272.3h.9M379.4 255.2h.9M378.6 260.0h.9M380.3 270.9h.9M379.0 268.3h.9M379.1 254.2h.9M384.7 259.5h.9M380.3 270.8h.9M384.2 266.5h.9M380.1 250.3h.9M380.2 253.3h.9M379.4 266.7h.9M383.0 251.2h.9M384.0 269.0h.9M379.7 253.8h.9M381.2 271.7h.9M384.4 256.3h.9M384.4 256.2h.9M379.4 266.9h.9M379.4 258.4h.9M384.2 268.1h.9M384.6 259.2h.9M378.5 245.7h.9M380.1 252.3h.9M385.5 246.6h.9M383.8 251.4h.9M380.6 246.8h.9M381.5 249.3h.9M388.7 233.5h.9M393.1 237.1h.9M382.3 238.9h.9M406.0 222.5h.9M396.3 233.8h.9M382.2 239.5h.9M398.1 232.6h.9M383.8 234.3h.9M393.6 238.2h.9M389.4 238.7h.9M401.8 231.6h.9M388.5 244.7h.9M380.8 242.5h.9M401.9 232.7h.9M384.5 233.6h.9M396.6 234.5h.9M384.2 235.9h.9M390.8 227.4h.9M390.1 227.9h.9M399.1 231.5h.9M381.5 239.1h.9M382.3 246.5h.9M396.3 222.3h.9M404.5 228.0h.9M402.2 221.2h.9M403.9 228.5h.9M389.6 238.9h.9M382.1 247.1h.9M405.5 222.3h.9M395.1 236.8h.9M393.7 235.5h.9M406.5 222.4h.9M400.5 221.2h.9M384.9 235.4h.9M404.6 227.5h.9M400.9 221.9h.9M404.8 230.8h.9M380.1 244.8h.9M381.3 247.3h.9M396.8 223.3h.9M397.5 236.3h.9M389.1 240.1h.9M390.1 237.5h.9M380.7 244.5h.9M385.3 240.1h.9M382.8 240.9h.9M395.4 235.0h.9M383.2 246.9h.9M400.8 221.4h.9M400.5 232.6h.9M385.2 233.8h.9M389.4 244.2h.9M407.8 226.0h.9M389.8 238.2h.9M382.3 241.5h.9M384.2 236.7h.9M406.5 224.0h.9M391.1 227.1h.9M393.9 235.1h.9M379.8 253.0h.9M397.0 231.7h.9M381.0 243.7h.9M380.4 244.2h.9M396.9 222.8h.9M388.8 227.9h.9M398.2 234.0h.9M398.8 235.2h.9M401.1 232.6h.9M400.0 231.8h.9M395.3 236.0h.9M389.9 231.6h.9M395.7 223.4h.9M386.0 233.3h.9M383.5 241.2h.9M404.6 229.1h.9M402.9 229.5h.9M381.3 250.2h.9M403.1 229.7h.9M397.0 234.9h.9M384.2 247.3h.9M405.1 228.7h.9M389.5 241.1h.9M393.6 237.0h.9M385.4 230.4h.9M389.1 239.7h.9M398.7 231.4h.9M380.3 250.3h.9M403.3 227.8h.9M381.7 240.2h.9M397.8 236.3h.9M381.1 238.8h.9M388.8 243.2h.9M392.2 225.7h.9M403.4 221.7h.9M385.0 235.0h.9M381.6 251.4h.9M406.2 222.9h.9M396.9 232.1h.9M398.2 232.3h.9M400.9 222.4h.9M402.3 221.3h.9M398.8 233.7h.9M384.1 237.7h.9M402.0 221.3h.9M383.0 238.8h.9M382.0 250.5h.9M395.1 224.1h.9M405.9 229.4h.9M392.4 226.5h.9M384.5 231.6h.9M384.3 239.1h.9M385.7 245.9h.9M385.0 240.1h.9M384.9 246.2h.9M401.0 230.6h.9M401.8 221.3h.9M379.2 244.9h.9M407.7 227.1h.9M393.1 236.3h.9M403.5 228.6h.9M397.1 231.0h.9M389.2 243.8h.9M388.3 246.1h.9M402.9 230.7h.9M405.0 226.4h.9M392.1 237.4h.9M385.4 239.9h.9M382.2 248.3h.9M384.0 234.7h.9M379.5 245.4h.9M380.4 251.1h.9M381.9 246.4h.9M393.1 235.7h.9M397.5 233.7h.9M383.2 238.0h.9M397.2 234.5h.9M392.7 227.0h.9M396.3 222.0h.9M383.1 252.4h.9M392.2 225.7h.9M403.9 226.8h.9M395.5 223.8h.9M384.8 232.3h.9M395.4 236.0h.9M384.7 246.3h.9M388.0 245.0h.9M381.5 238.9h.9M396.8 233.8h.9M402.7 231.2h.9M407.1 225.2h.9M402.2 221.1h.9M397.3 235.4h.9M397.6 231.2h.9M381.8 239.6h.9M390.0 232.0h.9M381.7 239.6h.9M388.5 228.6h.9M378.3 245.6h.9M379.4 245.3h.9M393.6 238.3h.9M401.5 231.9h.9M395.0 236.0h.9M382.6 239.5h.9M384.3 232.2h.9M398.2 236.0h.9M378.9 254.0h.9M379.3 245.7h.9M404.5 231.0h.9M405.6 227.6h.9M384.1 232.4h.9M384.8 232.8h.9M403.1 229.0h.9M385.0 235.8h.9M404.4 228.8h.9M397.2 222.5h.9M405.6 229.4h.9M400.0 231.8h.9M389.4 232.0h.9M397.5 231.1h.9M389.3 244.0h.9M382.8 246.6h.9M380.8 247.3h.9M383.6 234.4h.9M392.0 237.7h.9M406.0 224.0h.9M383.9 246.1h.9M398.2 235.7h.9M384.3 234.5h.9M402.9 231.6h.9M387.0 230.8h.9M385.3 231.8h.9M394.0 236.7h.9M388.5 228.4h.9M403.6 230.3h.9M407.8 226.7h.9M400.0 232.0h.9M397.1 232.1h.9M397.6 236.0h.9M405.0 230.0h.9M398.2 233.2h.9M399.4 234.8h.9M394.7 237.5h.9M386.5 232.2h.9M406.1 228.3h.9M398.6 235.0h.9M403.9 231.4h.9M389.1 243.5h.9M397.1 236.7h.9M389.3 243.9h.9M388.5 228.6h.9M395.4 235.4h.9M391.8 226.5h.9M407.1 227.9h.9M363.5 250.0h.9M363.3 250.0h.9M364.1 249.0h.9M363.2 249.8h.9M363.4 249.7h.9M364.3 249.0h.9M363.3 249.1h.9M381.1 251.2h.9M389.1 241.3h.9M378.6 254.3h.9" stroke="#0d66eb" stroke-width=".9" opacity="0.66"/>
<path d="M379.4 265.9h.9M380.0 256.8h.9M380.8 270.7h.9M381.3 271.1h.9M383.4 267.6h.9M383.1 269.5h.9M384.1 265.8h.9M384.3 256.6h.9M379.7 257.2h.9M379.2 265.9h.9M381.3 271.1h.9M380.9 253.9h.9M380.4 254.7h.9M382.5 252.4h.9M381.9 270.7h.9M379.4 259.0h.9M379.4 260.0h.9M380.0 254.3h.9M384.4 265.7h.9M383.2 253.1h.9M380.5 253.8h.9M379.0 259.3h.9M382.5 270.3h.9M383.2 268.9h.9M391.1 236.0h.9M393.6 226.2h.9M404.0 222.4h.9M384.3 245.7h.9M384.7 237.9h.9M385.3 238.7h.9M381.4 242.6h.9M405.2 226.1h.9M392.1 234.7h.9M384.0 241.0h.9M387.0 239.0h.9M388.3 241.5h.9M402.3 231.3h.9M391.8 235.9h.9M386.2 233.8h.9M392.6 235.9h.9M393.9 226.2h.9M381.4 244.2h.9M390.9 232.0h.9M388.3 231.9h.9M401.9 221.9h.9M386.6 244.9h.9M401.3 222.9h.9M385.5 236.5h.9M381.8 244.5h.9M395.9 225.9h.9M391.9 235.3h.9M381.6 242.4h.9M386.9 232.7h.9M383.6 244.4h.9M402.9 227.2h.9M391.8 228.1h.9M383.5 243.3h.9M383.9 244.5h.9M386.8 245.0h.9M388.5 240.0h.9M382.3 242.6h.9M385.4 244.3h.9M381.2 243.7h.9M386.7 240.3h.9M394.6 226.9h.9M381.6 248.0h.9M386.9 239.5h.9M407.2 225.7h.9M399.8 223.2h.9M394.8 225.3h.9M394.0 226.5h.9M382.5 246.4h.9M393.8 227.6h.9M406.4 227.7h.9M383.3 242.9h.9M398.2 230.4h.9M387.0 242.9h.9M388.8 241.7h.9M387.4 242.4h.9M387.7 238.2h.9M403.5 222.0h.9M390.1 233.2h.9M388.4 231.1h.9M381.3 249.6h.9M387.7 231.6h.9M395.7 232.8h.9M405.1 223.4h.9M387.0 244.7h.9M404.5 225.8h.9M384.9 243.1h.9M405.1 223.9h.9M405.6 226.6h.9M388.8 238.0h.9M395.4 225.5h.9M384.8 239.0h.9M388.6 238.9h.9M401.1 230.5h.9M384.1 241.5h.9M387.0 233.2h.9M383.7 241.0h.9M392.2 236.3h.9M401.7 230.1h.9M389.2 237.2h.9M384.9 238.7h.9M385.2 236.0h.9M381.2 247.9h.9M406.9 227.2h.9M402.8 222.2h.9M394.6 227.3h.9M395.2 224.8h.9M382.3 241.9h.9M382.9 243.9h.9M382.9 244.5h.9M405.8 224.1h.9M381.0 250.0h.9M382.3 244.3h.9M386.6 241.4h.9M403.5 226.0h.9M388.4 233.3h.9M399.9 230.5h.9M381.7 248.1h.9M393.8 226.2h.9M393.8 235.0h.9M407.3 226.4h.9M391.8 227.9h.9M387.7 244.4h.9M387.0 232.7h.9M385.9 238.5h.9M392.2 228.4h.9M388.7 241.2h.9M406.6 225.6h.9M383.0 245.2h.9M402.1 231.1h.9M397.6 223.3h.9M405.3 225.3h.9M383.9 244.9h.9M380.8 250.4h.9M381.2 248.7h.9M386.5 244.7h.9M402.3 229.7h.9M389.1 228.9h.9M382.0 242.3h.9M388.5 243.1h.9M395.9 230.9h.9M391.6 235.6h.9M390.7 228.4h.9M386.2 238.6h.9M382.6 245.9h.9M395.8 224.8h.9M405.5 223.7h.9M382.0 248.2h.9M394.4 227.0h.9M406.1 225.4h.9M389.2 230.4h.9M382.4 252.4h.9M386.5 240.4h.9M382.3 245.0h.9M402.5 222.9h.9M390.4 236.1h.9M382.6 244.3h.9M382.5 243.2h.9M385.9 241.6h.9M385.2 245.5h.9M396.3 232.0h.9M382.1 252.2h.9M392.3 228.2h.9M400.1 223.2h.9M394.1 226.8h.9M394.9 234.2h.9M389.5 228.2h.9M404.3 225.7h.9M383.9 255.3h.9M383.0 245.6h.9M387.5 231.7h.9M383.1 253.0h.9M387.3 241.7h.9M405.9 222.5h.9M398.8 223.1h.9M388.1 242.5h.9M396.3 224.7h.9M394.3 235.0h.9M390.7 228.9h.9M406.5 225.1h.9M400.0 223.0h.9M387.3 238.7h.9M403.9 222.4h.9M382.5 242.1h.9M391.8 236.9h.9M384.9 238.2h.9M386.0 236.9h.9M387.7 239.7h.9M388.8 231.4h.9M384.7 238.2h.9M401.9 230.1h.9M383.5 245.0h.9M393.1 226.2h.9M382.8 245.1h.9M388.6 231.3h.9M393.2 226.0h.9M385.1 241.5h.9M387.2 231.9h.9M384.7 241.0h.9M389.0 237.6h.9M391.1 236.1h.9M385.5 235.1h.9M386.3 234.3h.9M394.8 226.8h.9M389.0 228.6h.9M382.5 241.5h.9M386.8 231.9h.9M381.0 248.7h.9M388.6 230.4h.9M384.5 238.9h.9M384.8 244.8h.9M381.2 244.0h.9M387.2 240.0h.9M384.9 245.8h.9M395.5 225.6h.9M392.2 236.6h.9M396.1 224.6h.9M390.6 228.4h.9M381.1 252.9h.9M387.0 239.3h.9M389.4 237.4h.9M397.1 223.9h.9M387.1 232.2h.9M386.9 240.8h.9M386.9 231.9h.9M388.8 232.0h.9M384.2 242.6h.9M395.3 224.6h.9M405.6 224.2h.9M387.9 244.7h.9M382.8 243.3h.9M381.5 247.0h.9M381.4 242.8h.9M388.2 240.4h.9M387.7 241.7h.9M395.8 233.0h.9M395.6 233.6h.9M407.0 227.2h.9M406.3 227.7h.9M391.6 236.5h.9M386.8 244.8h.9M388.7 230.3h.9M401.9 231.3h.9M388.4 240.5h.9M385.0 245.3h.9M387.0 245.1h.9M388.6 228.5h.9" stroke="#0383eb" stroke-width=".9" opacity="0.75"/>
<path d="M379.2 261.2h.9M382.5 269.5h.9M382.0 253.7h.9M383.1 268.5h.9M380.3 257.1h.9M381.0 270.4h.9M380.3 257.1h.9M380.0 268.6h.9M383.3 266.9h.9M382.8 269.3h.9M381.6 253.6h.9M379.9 258.8h.9M383.6 257.7h.9M381.9 270.4h.9M380.2 255.9h.9M384.4 241.6h.9M384.1 264.0h.9M383.6 256.8h.9M384.4 261.1h.9M380.5 256.5h.9M384.0 262.9h.9M379.6 267.4h.9M380.5 255.5h.9M380.4 255.4h.9M381.1 253.5h.9M380.1 255.8h.9M379.6 258.7h.9M380.2 268.9h.9M382.5 253.8h.9M380.6 269.7h.9M382.1 253.6h.9M382.4 269.9h.9M397.1 226.4h.9M388.3 237.7h.9M389.5 235.1h.9M401.8 223.4h.9M384.3 242.3h.9M393.9 230.9h.9M386.6 243.3h.9M388.2 241.4h.9M397.2 225.4h.9M398.6 230.1h.9M386.7 243.5h.9M385.1 243.6h.9M391.3 235.2h.9M389.7 229.6h.9M404.0 222.6h.9M389.9 229.7h.9M389.5 234.1h.9M398.0 224.1h.9M385.7 242.6h.9M403.9 225.3h.9M395.2 233.1h.9M400.9 224.0h.9M390.3 230.4h.9M382.1 243.4h.9M397.7 224.7h.9M395.1 231.2h.9M387.0 234.3h.9M396.6 227.2h.9M396.2 226.9h.9M386.0 234.8h.9M385.8 238.5h.9M398.9 223.6h.9M396.5 225.7h.9M402.4 226.5h.9M383.4 254.8h.9M385.4 241.9h.9M384.9 242.1h.9M391.5 231.1h.9M403.7 224.5h.9M405.9 225.8h.9M396.0 226.6h.9M404.2 224.3h.9M398.1 224.0h.9M387.3 243.5h.9M386.4 237.1h.9M399.3 223.9h.9M388.0 241.5h.9M398.7 224.1h.9M387.4 240.5h.9M390.7 233.8h.9M390.9 230.0h.9M404.3 222.7h.9M397.5 225.1h.9M399.6 223.7h.9M397.0 225.0h.9M406.2 227.0h.9M386.4 235.1h.9M388.1 233.7h.9M397.9 224.3h.9M404.2 224.8h.9M386.7 234.7h.9M395.1 231.8h.9M392.0 229.0h.9M406.2 226.0h.9M402.9 223.4h.9M390.1 230.3h.9M399.8 225.5h.9M393.7 230.7h.9M387.3 237.1h.9M387.5 243.2h.9M387.1 236.8h.9M385.3 242.1h.9M396.9 229.8h.9M400.5 224.4h.9M386.4 237.9h.9M390.4 230.0h.9M390.7 233.3h.9M389.1 229.3h.9M396.1 227.9h.9M390.6 234.0h.9M404.7 224.9h.9M395.7 226.9h.9M386.4 235.8h.9M388.4 241.3h.9M403.8 223.1h.9M387.0 243.6h.9M389.2 229.7h.9M397.0 224.2h.9M388.4 233.8h.9M393.2 228.1h.9M396.1 225.8h.9M406.3 226.4h.9M391.2 231.8h.9M395.0 228.5h.9M399.4 230.1h.9M396.1 227.4h.9M391.3 229.1h.9M399.9 225.2h.9M384.5 242.3h.9M402.1 223.5h.9M402.2 228.0h.9M404.0 223.6h.9M398.1 224.6h.9M390.2 230.4h.9M403.9 224.1h.9M390.5 235.5h.9M390.1 234.0h.9M385.2 237.5h.9M388.1 233.9h.9M399.2 223.7h.9M402.7 223.2h.9M382.1 253.1h.9M386.1 242.7h.9M387.3 236.1h.9M390.3 234.4h.9M386.9 235.1h.9M391.2 234.4h.9M404.7 223.0h.9M390.1 229.7h.9M387.9 240.3h.9M404.7 224.1h.9M404.2 222.8h.9M389.0 235.7h.9M390.6 232.9h.9M386.9 243.6h.9M386.3 238.4h.9M397.3 226.0h.9M395.3 230.6h.9M384.6 242.0h.9M386.0 237.2h.9M395.3 232.1h.9M394.0 228.4h.9M385.9 244.0h.9M388.1 238.0h.9M385.8 237.4h.9M399.5 224.0h.9M400.1 224.1h.9M383.2 254.8h.9M385.1 242.0h.9M385.4 237.9h.9M386.8 236.9h.9M393.9 230.8h.9M404.1 222.9h.9M394.6 227.8h.9M390.7 235.9h.9M405.7 225.8h.9M398.4 224.1h.9M400.8 223.6h.9M391.0 231.3h.9M395.6 227.2h.9M397.2 225.3h.9M381.9 243.1h.9M404.3 224.0h.9M407.0 226.7h.9M395.7 228.4h.9M392.4 233.7h.9M387.0 234.3h.9M397.3 225.6h.9M385.6 243.1h.9M388.0 237.8h.9M389.0 236.1h.9M394.9 231.2h.9M385.9 237.9h.9M386.3 235.3h.9M395.6 227.7h.9M389.5 235.6h.9M402.4 226.8h.9M389.9 229.4h.9M406.4 225.7h.9M385.6 244.1h.9M385.4 243.2h.9M387.7 240.0h.9M392.9 228.7h.9" stroke="#07a1c1" stroke-width=".9" opacity="0.83"/>
<path d="M381.7 269.7h.9M381.2 269.4h.9M381.6 254.3h.9M382.6 267.7h.9M380.4 267.8h.9M380.2 268.4h.9M381.1 269.2h.9M382.9 268.8h.9M382.7 267.7h.9M383.6 258.4h.9M380.8 257.4h.9M379.0 262.8h.9M380.8 257.0h.9M383.8 258.8h.9M380.9 255.8h.9M380.6 256.6h.9M383.6 258.8h.9M383.5 266.2h.9M383.9 258.8h.9M380.4 268.2h.9M383.7 265.1h.9M382.0 254.4h.9M382.6 254.2h.9M382.6 267.4h.9M380.3 267.5h.9M382.2 269.1h.9M383.6 259.0h.9M383.2 255.1h.9M383.1 257.1h.9M380.8 257.1h.9M379.6 265.4h.9M383.0 255.5h.9M382.1 269.3h.9M383.7 258.6h.9M383.1 266.4h.9M381.0 254.1h.9M401.8 228.6h.9M401.8 228.7h.9M393.1 233.7h.9M397.1 229.2h.9M391.1 232.9h.9M386.1 243.1h.9M398.7 230.0h.9M391.9 229.6h.9M397.7 226.5h.9M391.6 229.7h.9M392.1 231.5h.9M390.5 234.7h.9M394.5 233.0h.9M391.9 229.9h.9M387.1 234.5h.9M391.5 232.8h.9M390.5 234.7h.9M393.3 230.5h.9M391.9 232.0h.9M392.7 231.2h.9M392.3 230.4h.9M388.0 234.5h.9M392.0 232.0h.9M398.1 225.5h.9M401.4 224.0h.9M399.9 225.7h.9M403.3 224.7h.9M403.1 225.2h.9M398.8 226.3h.9M392.7 229.6h.9M401.8 223.7h.9M388.3 234.3h.9M394.6 229.8h.9M401.6 226.8h.9M396.5 228.5h.9M388.8 235.1h.9M402.4 223.7h.9M392.1 229.8h.9M394.4 229.1h.9M402.0 229.4h.9M400.9 225.7h.9M388.4 236.7h.9M387.6 235.5h.9M390.4 234.5h.9M392.2 231.1h.9M396.8 229.3h.9M386.3 243.2h.9M397.0 228.5h.9M393.8 229.7h.9M396.9 228.4h.9M393.6 233.7h.9M400.5 226.5h.9M398.1 229.1h.9M388.3 234.1h.9M395.3 229.8h.9M387.2 234.6h.9M394.8 230.2h.9M394.4 229.1h.9M397.6 227.1h.9M401.9 227.7h.9M388.4 236.2h.9M394.0 228.6h.9M396.4 229.3h.9M401.7 226.7h.9M400.1 226.0h.9M393.8 228.9h.9M393.5 230.5h.9M387.7 237.3h.9M390.3 234.5h.9M394.1 229.3h.9M394.3 229.2h.9M392.9 231.5h.9M391.3 233.4h.9M393.4 229.2h.9M393.1 229.6h.9M397.0 228.7h.9M392.4 233.4h.9M391.9 232.6h.9M395.2 230.2h.9M392.4 229.1h.9M401.0 229.1h.9M396.6 227.7h.9M395.3 229.7h.9M393.2 233.7h.9M388.3 235.0h.9M399.4 226.0h.9M394.9 233.1h.9M396.5 229.5h.9M394.6 228.6h.9M392.3 233.1h.9M387.7 235.1h.9M399.4 225.5h.9M401.1 224.2h.9M391.9 229.3h.9M396.4 229.7h.9M396.0 229.3h.9M398.8 225.3h.9M390.4 235.0h.9M401.2 227.0h.9M399.0 225.7h.9M395.6 229.7h.9M381.5 254.4h.9M391.6 230.3h.9M398.4 229.2h.9M393.0 230.5h.9M393.4 229.0h.9M395.2 229.9h.9M388.8 236.1h.9M387.7 234.7h.9M388.1 236.5h.9M396.3 229.5h.9M397.1 229.2h.9M400.8 229.2h.9M387.8 236.5h.9M393.6 229.2h.9M398.1 225.7h.9M391.4 229.6h.9M399.0 229.6h.9M397.9 226.0h.9M397.1 229.5h.9M390.8 234.2h.9M400.7 226.0h.9M394.4 228.9h.9M395.2 229.8h.9M388.4 235.2h.9M393.3 233.9h.9M388.8 234.8h.9M401.7 223.6h.9M388.8 236.9h.9M396.9 228.9h.9M392.5 233.2h.9M392.6 231.0h.9M391.3 232.7h.9M400.1 225.1h.9M396.3 228.5h.9M398.6 225.9h.9M386.1 243.5h.9M394.0 232.0h.9M398.6 229.9h.9M394.8 232.2h.9M391.8 231.3h.9M391.7 230.4h.9M390.9 229.5h.9M388.2 237.2h.9M387.3 235.9h.9M398.8 226.2h.9M398.5 229.7h.9M388.1 237.5h.9M394.4 233.9h.9M394.9 232.2h.9M387.8 235.8h.9M401.2 227.0h.9M398.7 226.4h.9M390.3 234.5h.9M392.0 231.9h.9M393.3 229.2h.9M387.9 237.2h.9M388.2 234.9h.9M402.9 226.0h.9M388.5 236.3h.9M391.6 232.7h.9" stroke="#11c185" stroke-width=".9" opacity="0.91"/>
<path d="M382.9 256.9h.9M382.9 255.8h.9M381.9 268.9h.9M379.7 264.9h.9M380.0 261.0h.9M380.9 267.1h.9M382.6 255.0h.9M380.6 258.4h.9M380.7 267.0h.9M380.8 268.7h.9M380.9 258.0h.9M381.6 255.4h.9M383.3 265.9h.9M380.2 266.2h.9M382.7 254.8h.9M381.9 268.8h.9M382.6 257.3h.9M381.9 268.8h.9M381.0 255.5h.9M381.1 268.6h.9M380.7 267.5h.9M381.3 255.8h.9M381.4 255.9h.9M382.5 256.8h.9M382.2 266.7h.9M382.3 268.4h.9M380.6 268.4h.9M381.4 257.2h.9M380.7 258.0h.9M382.2 254.7h.9M382.8 255.6h.9M382.9 256.5h.9M380.2 266.4h.9M381.0 268.7h.9M383.3 258.3h.9M381.0 256.9h.9M382.8 255.2h.9M382.4 268.1h.9M382.6 256.4h.9M383.3 265.7h.9M383.2 265.8h.9M382.9 257.5h.9M382.6 256.0h.9M382.2 268.4h.9M380.9 258.5h.9M380.1 259.2h.9M382.0 254.5h.9M382.2 254.6h.9M402.6 224.7h.9M400.4 227.2h.9M402.8 224.7h.9M398.8 229.3h.9M401.6 228.4h.9M401.4 226.4h.9M402.0 228.1h.9M401.4 225.2h.9M397.7 228.4h.9M392.1 232.2h.9M398.3 227.9h.9M394.8 232.7h.9M401.7 226.2h.9M400.7 227.3h.9M401.8 228.3h.9M402.3 224.4h.9M394.0 233.4h.9M393.3 233.3h.9M398.1 227.3h.9M402.1 225.0h.9M401.6 225.9h.9M393.4 232.7h.9M394.1 232.2h.9M394.2 232.7h.9M399.9 227.1h.9M398.1 227.8h.9M394.5 232.7h.9M398.5 227.1h.9M402.4 224.5h.9M398.3 227.8h.9M401.3 225.5h.9M400.7 227.2h.9M401.2 228.8h.9M402.0 225.4h.9M398.9 229.4h.9M402.1 225.5h.9M401.5 228.8h.9M392.6 232.4h.9M402.4 224.6h.9M402.5 225.3h.9M393.3 232.8h.9M399.7 229.4h.9M394.1 232.3h.9M393.3 233.2h.9M400.6 225.2h.9M393.8 232.7h.9M399.6 229.1h.9M401.5 227.8h.9M398.0 228.4h.9M393.3 233.4h.9M392.2 232.8h.9M397.5 228.2h.9M398.2 227.2h.9M401.4 224.8h.9M394.6 232.7h.9M398.1 227.3h.9M401.9 228.1h.9M401.3 227.7h.9M394.5 232.9h.9M392.9 232.0h.9M401.5 228.8h.9M399.7 229.1h.9M394.2 233.2h.9M394.1 232.3h.9" stroke="#36ce55" stroke-width=".9" opacity="0.99"/>
<path d="M382.4 257.3h.9M382.9 257.5h.9M382.4 255.4h.9M382.0 256.2h.9M381.3 266.5h.9M383.7 261.1h.9M381.7 256.7h.9M382.2 257.5h.9M383.8 261.6h.9M381.2 267.4h.9M381.5 267.8h.9M381.2 258.1h.9M379.5 263.5h.9M381.2 258.1h.9M383.7 264.5h.9M381.9 255.9h.9M381.4 267.3h.9M381.1 258.0h.9M383.7 260.9h.9M381.7 267.5h.9M379.7 264.0h.9M382.4 257.7h.9M382.5 258.3h.9M382.5 256.9h.9M380.7 266.5h.9M382.0 267.6h.9M382.4 266.0h.9M383.9 260.8h.9M381.4 267.5h.9M380.9 266.3h.9M381.9 256.1h.9M382.3 256.0h.9M380.3 265.1h.9M379.8 264.4h.9M381.7 256.2h.9M381.5 268.3h.9M381.3 268.1h.9M380.4 265.3h.9M382.6 257.9h.9M381.1 267.0h.9M383.2 259.4h.9M383.9 264.3h.9M381.5 268.4h.9M382.5 255.1h.9M383.2 259.1h.9M381.1 257.6h.9M383.1 258.6h.9M381.0 266.8h.9M382.5 266.1h.9M383.8 261.1h.9M383.3 265.3h.9M398.9 227.5h.9M399.9 228.1h.9M400.4 227.6h.9M402.0 225.1h.9M401.6 224.7h.9M400.4 228.8h.9M400.4 227.8h.9M399.0 228.9h.9M399.9 227.7h.9M400.5 228.8h.9M400.9 228.5h.9M381.5 255.6h.9M399.1 227.1h.9M399.3 227.4h.9M399.4 227.0h.9M399.2 228.8h.9M399.9 228.2h.9M400.4 227.8h.9M399.3 227.1h.9M401.7 224.9h.9M400.0 227.7h.9M399.1 228.2h.9M399.1 228.9h.9M400.1 228.9h.9M400.2 228.3h.9M399.1 228.5h.9M399.2 228.4h.9M401.8 225.0h.9M401.2 228.4h.9M401.9 224.8h.9M398.6 228.6h.9M399.2 228.5h.9M402.0 225.1h.9M401.8 225.5h.9M398.6 227.6h.9M400.5 228.8h.9" stroke="#63d728" stroke-width=".9" opacity="1.00"/>
<path d="M380.9 259.8h.9M380.5 260.0h.9M382.8 259.4h.9M381.6 258.5h.9M381.0 265.6h.9M380.2 264.8h.9M382.9 259.5h.9M383.5 264.0h.9M381.1 266.0h.9M382.3 258.8h.9M381.3 259.4h.9M381.4 258.9h.9M380.3 260.4h.9M383.5 263.4h.9M382.5 258.4h.9M379.6 263.0h.9M380.9 259.5h.9M381.2 266.2h.9M381.3 259.0h.9M379.8 261.8h.9M382.5 258.8h.9M380.7 259.9h.9M379.9 262.8h.9M382.2 258.9h.9M380.3 264.9h.9M381.1 266.4h.9M383.6 263.8h.9M382.1 258.3h.9M382.7 258.8h.9M383.8 263.1h.9M380.6 259.9h.9M382.3 258.3h.9M383.0 260.4h.9M381.4 258.6h.9M380.3 260.1h.9M379.5 262.8h.9M382.4 258.6h.9" stroke="#8fde0f" stroke-width=".9" opacity="1.00"/>
<path d="M381.3 265.8h.9M381.4 259.7h.9M382.3 259.4h.9M381.0 265.6h.9M382.4 265.6h.9M380.4 264.4h.9M382.3 265.7h.9M381.6 265.7h.9M382.3 265.7h.9M380.9 265.3h.9M382.1 265.8h.9M380.4 260.6h.9M381.7 265.5h.9M381.5 265.5h.9M380.8 265.5h.9M382.5 265.4h.9M381.8 259.3h.9M381.9 266.0h.9M381.4 259.8h.9M382.7 259.7h.9M381.7 259.4h.9M380.2 260.9h.9M382.7 265.3h.9M380.4 264.1h.9" stroke="#bae207" stroke-width=".9" opacity="1.00"/>
<path d="M381.1 265.4h.9M382.0 265.4h.9M383.3 264.3h.9M380.5 261.0h.9M380.3 263.6h.9M380.4 261.1h.9M381.1 265.3h.9M380.8 260.0h.9M380.6 260.0h.9M380.2 263.7h.9M380.4 261.2h.9M383.2 264.2h.9M380.9 265.0h.9M383.1 264.0h.9M382.3 265.5h.9M383.0 264.0h.9M382.2 259.9h.9M383.4 260.6h.9M383.5 260.8h.9M383.2 260.8h.9M380.6 264.9h.9M380.2 263.7h.9M382.1 265.3h.9" stroke="#e5e500" stroke-width=".9" opacity="1.00"/>
<path d="M383.5 262.8h.9M383.3 263.6h.9M380.1 261.9h.9M380.4 262.1h.9M382.7 260.3h.9M380.3 263.3h.9M381.0 260.3h.9M383.3 261.6h.9M380.5 262.5h.9M383.3 263.6h.9M383.0 262.3h.9M383.4 262.5h.9M381.4 264.5h.9M382.5 264.8h.9M380.0 262.2h.9M383.4 262.4h.9M383.2 263.3h.9M383.3 261.6h.9M383.2 263.1h.9M383.3 261.5h.9M380.2 261.7h.9M380.9 260.9h.9M383.5 263.1h.9M383.4 262.4h.9M380.1 262.0h.9M380.4 262.3h.9M382.6 260.3h.9M383.0 260.2h.9M380.6 260.8h.9M380.3 262.3h.9M382.8 260.4h.9M383.4 263.9h.9" stroke="#efc300" stroke-width=".9" opacity="1.00"/>
<path d="M381.7 264.9h.9M381.5 260.5h.9M382.1 260.4h.9M381.4 260.7h.9M380.4 262.7h.9M380.6 261.1h.9M382.3 260.1h.9M382.3 260.3h.9M382.6 260.7h.9M381.8 264.7h.9M381.8 260.2h.9M381.2 260.9h.9M382.8 264.0h.9M381.6 264.8h.9M382.2 260.1h.9M382.0 260.3h.9M382.4 260.5h.9M381.3 260.5h.9M380.9 264.2h.9M381.9 264.9h.9M382.9 264.2h.9M381.3 260.7h.9M380.2 262.7h.9M383.0 264.3h.9M381.4 260.8h.9M382.6 264.2h.9" stroke="#f9a000" stroke-width=".9" opacity="1.00"/>
<path d="M380.9 263.8h.9M382.9 261.4h.9M382.2 260.8h.9M380.8 261.6h.9M382.2 264.4h.9M380.7 263.8h.9M382.9 261.5h.9M380.7 262.0h.9M382.4 260.9h.9M382.7 263.8h.9M381.1 264.3h.9M382.8 261.7h.9M382.6 261.4h.9M382.7 263.9h.9M382.7 264.0h.9M380.8 263.5h.9M380.6 263.5h.9M382.5 260.8h.9M382.3 264.1h.9M382.1 264.5h.9M382.6 261.4h.9M382.8 261.2h.9M381.7 261.0h.9M382.9 261.3h.9M380.8 261.5h.9M382.4 264.2h.9M382.2 260.8h.9M380.7 262.0h.9" stroke="#fa6d00" stroke-width=".9" opacity="1.00"/>
<path d="M381.7 261.1h.9M382.2 261.7h.9M382.0 264.3h.9M382.3 262.0h.9M380.9 262.4h.9M381.3 263.7h.9M382.5 261.5h.9M381.7 263.1h.9M382.9 262.7h.9M382.0 261.4h.9M381.2 261.6h.9M381.4 263.6h.9M380.5 262.6h.9M380.5 262.8h.9M381.6 262.5h.9M382.7 263.1h.9M382.0 263.4h.9M381.7 261.2h.9M381.8 263.0h.9M381.4 263.2h.9M381.4 262.4h.9M381.0 262.5h.9M381.1 262.3h.9M382.5 263.5h.9M382.3 261.5h.9M381.3 264.0h.9M382.0 262.8h.9M380.8 263.2h.9M382.2 263.6h.9M381.8 263.5h.9M381.1 263.8h.9M380.7 262.1h.9M381.5 262.8h.9M381.3 263.8h.9M382.4 261.8h.9M381.4 261.7h.9M380.6 263.0h.9M381.6 263.2h.9M381.0 262.4h.9M382.3 261.7h.9M381.5 261.7h.9M382.8 262.4h.9M382.6 262.5h.9M381.9 263.1h.9M381.9 261.7h.9M382.0 264.1h.9M381.0 261.9h.9M381.0 263.3h.9M381.9 264.3h.9M381.9 262.3h.9M381.7 261.5h.9M382.4 261.4h.9M381.0 263.0h.9M382.2 263.8h.9M381.7 262.9h.9M381.4 263.6h.9M382.1 262.4h.9M381.4 262.4h.9M382.2 261.5h.9M382.4 261.4h.9M382.9 263.2h.9M382.4 263.2h.9M381.9 262.0h.9M381.9 262.2h.9M382.6 262.9h.9M381.5 261.4h.9M381.6 263.1h.9M381.4 263.9h.9M382.4 262.1h.9M382.4 263.7h.9M381.0 263.2h.9M383.0 262.6h.9M382.7 262.6h.9M380.7 262.0h.9M381.7 262.4h.9M382.9 263.1h.9M382.3 262.6h.9M381.4 263.5h.9M380.7 263.5h.9M382.2 262.7h.9M382.5 261.3h.9M381.6 263.9h.9M381.3 262.5h.9M382.8 262.3h.9M382.5 263.6h.9M382.3 262.0h.9M381.1 264.0h.9" stroke="#f02400" stroke-width=".9" opacity="1.00"/>
<line x1="438.10" y1="217.50" x2="438.10" y2="225.50" stroke="#7fc8a0" stroke-width="1.0"/>
<line x1="438.10" y1="225.50" x2="438.10" y2="255.50" stroke="#8ea8e8" stroke-width="1.0"/>
<rect x="360.00" y="203.50" width="78.30" height="71.80" fill="none" stroke="#8a9696" stroke-width="0.9"/>
<line x1="358.40" y1="223.10" x2="360.40" y2="223.10" stroke="#555" stroke-width="0.8"/>
<line x1="359.20" y1="217.50" x2="360.40" y2="217.50" stroke="#777" stroke-width="0.6"/>
<line x1="359.20" y1="214.23" x2="360.40" y2="214.23" stroke="#777" stroke-width="0.6"/>
<line x1="359.20" y1="211.90" x2="360.40" y2="211.90" stroke="#777" stroke-width="0.6"/>
<line x1="359.20" y1="210.10" x2="360.40" y2="210.10" stroke="#777" stroke-width="0.6"/>
<line x1="359.20" y1="208.63" x2="360.40" y2="208.63" stroke="#777" stroke-width="0.6"/>
<line x1="359.20" y1="207.38" x2="360.40" y2="207.38" stroke="#777" stroke-width="0.6"/>
<line x1="359.20" y1="206.30" x2="360.40" y2="206.30" stroke="#777" stroke-width="0.6"/>
<line x1="359.20" y1="205.35" x2="360.40" y2="205.35" stroke="#777" stroke-width="0.6"/>
<line x1="358.40" y1="241.70" x2="360.40" y2="241.70" stroke="#555" stroke-width="0.8"/>
<line x1="359.20" y1="236.10" x2="360.40" y2="236.10" stroke="#777" stroke-width="0.6"/>
<line x1="359.20" y1="232.83" x2="360.40" y2="232.83" stroke="#777" stroke-width="0.6"/>
<line x1="359.20" y1="230.50" x2="360.40" y2="230.50" stroke="#777" stroke-width="0.6"/>
<line x1="359.20" y1="228.70" x2="360.40" y2="228.70" stroke="#777" stroke-width="0.6"/>
<line x1="359.20" y1="227.23" x2="360.40" y2="227.23" stroke="#777" stroke-width="0.6"/>
<line x1="359.20" y1="225.98" x2="360.40" y2="225.98" stroke="#777" stroke-width="0.6"/>
<line x1="359.20" y1="224.90" x2="360.40" y2="224.90" stroke="#777" stroke-width="0.6"/>
<line x1="359.20" y1="223.95" x2="360.40" y2="223.95" stroke="#777" stroke-width="0.6"/>
<line x1="358.40" y1="260.30" x2="360.40" y2="260.30" stroke="#555" stroke-width="0.8"/>
<line x1="359.20" y1="254.70" x2="360.40" y2="254.70" stroke="#777" stroke-width="0.6"/>
<line x1="359.20" y1="251.43" x2="360.40" y2="251.43" stroke="#777" stroke-width="0.6"/>
<line x1="359.20" y1="249.10" x2="360.40" y2="249.10" stroke="#777" stroke-width="0.6"/>
<line x1="359.20" y1="247.30" x2="360.40" y2="247.30" stroke="#777" stroke-width="0.6"/>
<line x1="359.20" y1="245.83" x2="360.40" y2="245.83" stroke="#777" stroke-width="0.6"/>
<line x1="359.20" y1="244.58" x2="360.40" y2="244.58" stroke="#777" stroke-width="0.6"/>
<line x1="359.20" y1="243.50" x2="360.40" y2="243.50" stroke="#777" stroke-width="0.6"/>
<line x1="359.20" y1="242.55" x2="360.40" y2="242.55" stroke="#777" stroke-width="0.6"/>
<line x1="358.40" y1="278.90" x2="360.40" y2="278.90" stroke="#555" stroke-width="0.8"/>
<line x1="359.20" y1="273.30" x2="360.40" y2="273.30" stroke="#777" stroke-width="0.6"/>
<line x1="359.20" y1="270.03" x2="360.40" y2="270.03" stroke="#777" stroke-width="0.6"/>
<line x1="359.20" y1="267.70" x2="360.40" y2="267.70" stroke="#777" stroke-width="0.6"/>
<line x1="359.20" y1="265.90" x2="360.40" y2="265.90" stroke="#777" stroke-width="0.6"/>
<line x1="359.20" y1="264.43" x2="360.40" y2="264.43" stroke="#777" stroke-width="0.6"/>
<line x1="359.20" y1="263.18" x2="360.40" y2="263.18" stroke="#777" stroke-width="0.6"/>
<line x1="359.20" y1="262.10" x2="360.40" y2="262.10" stroke="#777" stroke-width="0.6"/>
<line x1="359.20" y1="261.15" x2="360.40" y2="261.15" stroke="#777" stroke-width="0.6"/>
<line x1="357.60" y1="274.30" x2="360.40" y2="274.30" stroke="#555" stroke-width="0.8"/>
<line x1="360.50" y1="276.90" x2="360.50" y2="274.90" stroke="#777" stroke-width="0.6"/>
<line x1="368.20" y1="276.10" x2="368.20" y2="274.90" stroke="#777" stroke-width="0.6"/>
<line x1="375.90" y1="276.10" x2="375.90" y2="274.90" stroke="#777" stroke-width="0.6"/>
<line x1="383.60" y1="276.10" x2="383.60" y2="274.90" stroke="#777" stroke-width="0.6"/>
<line x1="391.30" y1="276.90" x2="391.30" y2="274.90" stroke="#777" stroke-width="0.6"/>
<line x1="399.00" y1="276.10" x2="399.00" y2="274.90" stroke="#777" stroke-width="0.6"/>
<line x1="406.70" y1="276.10" x2="406.70" y2="274.90" stroke="#777" stroke-width="0.6"/>
<line x1="414.40" y1="276.10" x2="414.40" y2="274.90" stroke="#777" stroke-width="0.6"/>
<line x1="422.10" y1="276.90" x2="422.10" y2="274.90" stroke="#777" stroke-width="0.6"/>
<line x1="429.80" y1="276.10" x2="429.80" y2="274.90" stroke="#777" stroke-width="0.6"/>
<line x1="437.50" y1="276.10" x2="437.50" y2="274.90" stroke="#777" stroke-width="0.6"/>
<rect x="378.00" y="217.80" width="41.70" height="34.50" fill="none" stroke="#606060" stroke-width="0.85"/>
<rect x="360.00" y="247.30" width="7.70" height="17.30" fill="none" stroke="#606060" stroke-width="0.85"/>
<rect x="378.00" y="252.30" width="16.80" height="20.70" fill="none" stroke="#606060" stroke-width="0.85"/>
<rect x="394.80" y="252.30" width="24.90" height="13.70" fill="none" stroke="#606060" stroke-width="0.85"/>
<line x1="378.00" y1="252.30" x2="419.70" y2="252.30" stroke="#222" stroke-width="1.3"/>
<line x1="394.80" y1="252.30" x2="394.80" y2="273.00" stroke="#2a2a2a" stroke-width="1.1"/>
<text transform="translate(399.30,215.10) scale(1.100,1)" font-size="9.4" text-anchor="middle">50,1</text>
<text transform="translate(361.00,245.00) scale(1.100,1)" font-size="9.4">2,5</text>
<text transform="translate(421.50,264.30) scale(1.100,1)" font-size="9.4">2,4</text>
<text transform="translate(396.00,274.50) scale(1.100,1)" font-size="9.4">38,6</text>
<path d="M79.8 331.9h.9M92.6 358.1h.9M77.2 331.8h.9M77.0 353.6h.9M79.9 333.8h.9M92.9 345.9h.9M65.4 332.1h.9M65.1 354.6h.9M67.3 333.5h.9M63.9 333.6h.9M63.9 351.5h.9M102.8 315.4h.9M82.1 326.9h.9M105.9 313.3h.9M104.2 313.0h.9M115.5 316.9h.9M112.7 314.8h.9M87.8 325.7h.9M115.2 314.9h.9M86.4 321.7h.9M117.8 334.7h.9M90.9 317.4h.9M118.5 324.6h.9M90.7 320.3h.9M118.8 329.3h.9M89.3 317.3h.9M118.8 317.0h.9M87.4 319.7h.9M118.6 331.7h.9M94.7 316.7h.9M84.7 321.3h.9M115.2 339.5h.9M88.3 318.5h.9M111.0 350.4h.9M104.4 353.5h.9M110.1 341.7h.9M131.0 316.1h.9M137.5 312.9h.9M129.7 318.3h.9M133.3 314.6h.9M132.7 312.5h.9M125.8 330.9h.9M138.5 322.8h.9M134.4 313.5h.9M121.4 328.3h.9M130.4 332.4h.9M129.7 313.2h.9M124.0 332.3h.9M124.0 323.6h.9M125.4 326.1h.9M71.5 304.3h.9M119.8 305.7h.9M134.2 332.9h.9M133.9 347.8h.9M101.7 354.6h.9M73.2 299.5h.9M131.4 299.9h.9M115.5 348.5h.9M72.2 295.9h.9M126.7 311.7h.9M110.1 362.5h.9M122.1 347.7h.9M63.3 306.4h.9M104.4 311.4h.9M70.5 313.2h.9M72.7 340.3h.9M75.4 347.7h.9" stroke="#344dee" stroke-width=".9" opacity="0.42"/>
<path d="M77.9 340.0h.9M84.6 360.5h.9M91.2 348.5h.9M80.1 354.5h.9M87.8 359.3h.9M89.0 344.9h.9M91.3 361.1h.9M80.9 352.7h.9M79.5 339.3h.9M78.8 353.5h.9M78.8 348.3h.9M90.4 361.0h.9M83.8 361.9h.9M86.8 359.1h.9M79.0 335.8h.9M77.4 346.1h.9M81.4 340.4h.9M89.2 361.5h.9M78.0 349.5h.9M78.9 352.6h.9M91.7 353.3h.9M78.5 350.6h.9M86.8 341.0h.9M92.4 356.8h.9M84.6 358.2h.9M90.3 342.8h.9M85.6 361.5h.9M78.8 349.6h.9M91.8 347.3h.9M92.1 351.8h.9M76.2 338.9h.9M80.2 340.3h.9M78.8 336.6h.9M80.1 337.8h.9M87.4 343.4h.9M91.4 351.2h.9M89.0 358.0h.9M78.5 336.0h.9M83.2 355.8h.9M87.8 359.8h.9M77.7 341.9h.9M62.8 349.7h.9M65.3 350.6h.9M67.5 335.6h.9M66.5 353.2h.9M67.1 335.1h.9M66.9 334.6h.9M63.6 335.3h.9M67.5 350.5h.9M63.2 336.4h.9M69.3 337.2h.9M65.9 334.5h.9M65.6 351.3h.9M65.7 352.6h.9M93.1 340.4h.9M89.3 342.0h.9M80.1 338.3h.9M108.6 333.9h.9M88.0 329.3h.9M101.1 316.0h.9M92.0 324.3h.9M88.8 343.7h.9M112.3 316.7h.9M106.9 315.4h.9M99.7 318.9h.9M94.8 340.1h.9M84.5 332.8h.9M88.9 329.4h.9M117.4 322.3h.9M116.2 326.6h.9M116.0 320.7h.9M116.6 325.8h.9M93.2 320.1h.9M89.8 324.1h.9M96.0 340.4h.9M105.8 333.6h.9M97.1 340.2h.9M106.1 337.3h.9M101.9 316.9h.9M104.3 335.2h.9M117.6 323.0h.9M92.0 318.3h.9M87.8 327.9h.9M101.1 317.9h.9M109.8 332.8h.9M108.8 315.0h.9M91.5 324.0h.9M99.0 317.9h.9M102.1 317.4h.9M96.8 322.0h.9M89.3 324.6h.9M94.4 318.6h.9M110.9 314.2h.9M95.4 320.1h.9M108.9 332.2h.9M89.5 325.5h.9M86.7 330.2h.9M112.4 330.2h.9M95.0 344.6h.9M114.5 328.8h.9M117.1 325.8h.9M89.9 326.3h.9M100.0 339.7h.9M111.4 315.4h.9M96.5 319.6h.9M85.1 329.3h.9M95.5 341.6h.9M83.4 335.5h.9M95.4 340.5h.9M106.0 336.5h.9M85.8 330.8h.9M100.2 337.6h.9M100.8 341.3h.9M102.7 337.2h.9M103.3 336.6h.9M95.8 343.4h.9M112.3 341.0h.9M112.9 333.5h.9M118.0 338.9h.9M108.6 340.7h.9M106.9 341.8h.9M112.6 332.7h.9M100.3 339.4h.9M85.5 332.9h.9M116.3 343.6h.9M89.2 323.5h.9M84.6 317.2h.9M83.7 327.4h.9M115.3 336.8h.9M102.4 342.1h.9M118.3 337.8h.9M98.2 317.8h.9M99.4 343.7h.9M117.5 339.8h.9M90.3 341.2h.9M93.0 322.2h.9M96.5 344.0h.9M93.0 323.1h.9M83.6 328.4h.9M116.9 319.7h.9M115.6 344.3h.9M111.4 330.4h.9M115.8 334.3h.9M88.0 340.1h.9M101.2 342.9h.9M110.1 334.3h.9M113.7 339.3h.9M115.9 329.5h.9M103.2 342.4h.9M116.2 333.5h.9M110.0 339.2h.9M109.0 334.8h.9M111.1 336.7h.9M107.6 334.9h.9M109.9 337.3h.9M108.6 336.5h.9M85.9 327.9h.9M118.0 316.6h.9M112.9 342.5h.9M116.0 332.9h.9M117.5 339.8h.9M106.2 342.5h.9M100.8 339.6h.9M116.0 329.9h.9M92.4 318.9h.9M119.0 330.9h.9M100.1 341.1h.9M93.8 317.7h.9M96.1 344.2h.9M107.1 334.5h.9M107.9 337.9h.9M117.9 322.3h.9M111.1 336.8h.9M83.7 317.6h.9M103.9 336.5h.9M97.2 318.0h.9M111.7 342.5h.9M116.7 326.2h.9M114.7 331.6h.9M113.5 338.6h.9M84.8 331.5h.9M83.9 330.1h.9M115.5 335.5h.9M114.9 331.9h.9M83.7 316.7h.9M110.2 345.1h.9M100.5 347.8h.9M109.9 343.6h.9M98.1 347.1h.9M98.5 348.0h.9M102.9 351.6h.9M105.4 351.1h.9M112.7 347.4h.9M101.7 353.3h.9M101.9 347.1h.9M106.8 350.5h.9M100.0 345.9h.9M101.2 344.5h.9M98.5 344.8h.9M104.0 349.6h.9M101.8 349.2h.9M106.6 350.1h.9M102.7 352.6h.9M111.4 347.7h.9M100.2 347.2h.9M112.4 347.1h.9M101.7 348.0h.9M105.0 349.9h.9M104.0 342.3h.9M111.1 345.3h.9M102.6 350.8h.9M133.3 324.4h.9M124.4 329.4h.9M124.2 327.6h.9M128.1 322.1h.9M134.2 326.1h.9M136.2 323.2h.9M129.5 320.9h.9M133.8 319.0h.9M123.3 325.9h.9M128.4 320.8h.9M132.5 329.1h.9M128.1 328.4h.9M137.0 319.4h.9M138.9 316.4h.9M138.6 316.9h.9M127.8 328.7h.9M136.6 317.4h.9M129.2 329.4h.9M125.2 329.4h.9M127.3 323.7h.9M135.5 316.0h.9M136.7 320.0h.9M128.0 326.4h.9M131.0 319.3h.9M124.2 330.6h.9M133.4 328.8h.9M129.0 328.0h.9M134.5 326.4h.9M136.9 315.5h.9M131.0 317.9h.9M136.2 316.8h.9M126.9 324.7h.9M129.0 321.9h.9M135.0 323.2h.9M122.5 328.5h.9M126.8 324.3h.9M122.0 325.6h.9M83.4 362.5h.9M129.8 331.4h.9M84.2 361.0h.9M75.7 339.2h.9M69.2 345.7h.9M69.5 343.1h.9M77.3 340.5h.9M69.4 345.4h.9M74.1 342.7h.9M70.2 340.9h.9M70.6 341.1h.9M72.3 342.0h.9M69.2 342.6h.9M74.7 342.4h.9M71.7 345.1h.9M76.2 342.9h.9M74.0 343.8h.9M71.1 346.4h.9M71.6 343.3h.9M73.0 345.4h.9M71.5 343.6h.9" stroke="#2649ec" stroke-width=".9" opacity="0.50"/>
<path d="M89.2 355.8h.9M90.4 354.7h.9M90.0 354.9h.9M81.6 340.0h.9M82.5 337.6h.9M88.2 344.7h.9M90.5 355.7h.9M81.6 355.1h.9M84.0 334.3h.9M89.7 347.6h.9M90.1 354.5h.9M80.4 351.3h.9M89.7 351.3h.9M85.0 340.0h.9M85.3 357.8h.9M85.0 340.8h.9M86.3 343.6h.9M91.6 355.4h.9M77.4 343.4h.9M90.3 351.5h.9M91.8 355.9h.9M78.8 341.1h.9M88.3 340.0h.9M78.5 342.1h.9M80.8 351.9h.9M81.8 354.7h.9M78.2 345.9h.9M89.3 350.0h.9M90.4 347.0h.9M82.1 339.1h.9M79.4 347.5h.9M77.5 343.3h.9M89.6 347.8h.9M90.8 351.3h.9M82.5 339.2h.9M89.0 357.4h.9M89.8 348.1h.9M87.3 357.7h.9M81.3 354.6h.9M85.5 357.9h.9M90.4 353.0h.9M82.5 339.5h.9M83.1 337.8h.9M91.8 355.5h.9M79.7 347.1h.9M84.6 337.6h.9M87.7 358.4h.9M79.9 341.4h.9M89.4 356.7h.9M64.2 335.8h.9M63.9 349.3h.9M68.5 342.3h.9M68.0 337.5h.9M62.6 346.7h.9M64.8 335.7h.9M65.2 349.6h.9M90.5 330.3h.9M88.3 331.8h.9M114.9 320.3h.9M96.1 322.4h.9M92.0 339.1h.9M85.9 333.2h.9M90.0 327.9h.9M95.9 322.1h.9M87.4 330.9h.9M107.3 332.0h.9M108.3 332.7h.9M114.9 322.5h.9M114.4 319.7h.9M104.1 317.0h.9M91.9 327.4h.9M114.0 317.4h.9M89.5 328.0h.9M92.3 325.1h.9M92.0 326.3h.9M89.4 328.0h.9M104.1 316.3h.9M110.3 316.7h.9M93.1 339.5h.9M104.9 332.6h.9M113.7 317.5h.9M108.7 315.8h.9M89.0 331.0h.9M88.2 327.7h.9M86.9 338.9h.9M103.9 334.5h.9M114.4 327.5h.9M106.3 316.4h.9M100.3 319.9h.9M87.2 334.8h.9M108.2 331.1h.9M107.1 317.4h.9M98.5 339.2h.9M91.5 340.0h.9M104.6 316.5h.9M94.1 319.8h.9M112.4 329.1h.9M105.9 332.4h.9M84.0 338.1h.9M113.2 327.7h.9M102.7 318.7h.9M87.5 334.6h.9M88.7 330.8h.9M113.8 318.5h.9M94.2 322.4h.9M113.0 317.5h.9M86.0 338.9h.9M108.8 315.8h.9M99.4 319.8h.9M115.7 323.8h.9M109.4 316.7h.9M103.5 334.6h.9M88.6 335.9h.9M85.8 339.7h.9M104.8 332.8h.9M95.2 322.1h.9M92.5 339.5h.9M105.5 317.0h.9M94.3 322.5h.9M90.4 330.0h.9M116.3 324.5h.9M111.9 329.2h.9M114.4 325.9h.9M107.3 333.1h.9M85.8 328.5h.9M107.1 317.0h.9M114.7 322.0h.9M87.1 338.2h.9M98.4 338.9h.9M97.8 338.9h.9M94.7 339.3h.9M83.5 338.4h.9M98.5 337.7h.9M101.0 336.4h.9M89.9 331.9h.9M88.3 339.2h.9M93.5 339.2h.9M87.6 336.3h.9M88.0 336.7h.9M87.7 333.1h.9M87.6 332.8h.9M94.3 339.0h.9M94.8 319.4h.9M87.9 330.6h.9M90.1 327.8h.9M106.6 332.1h.9M107.9 338.5h.9M90.3 339.6h.9M88.0 336.9h.9M108.9 339.4h.9M86.0 342.7h.9M108.3 343.6h.9M86.0 328.5h.9M113.9 328.4h.9M87.4 333.4h.9M114.2 318.2h.9M113.7 328.6h.9M89.1 339.9h.9M106.6 336.6h.9M114.3 326.9h.9M84.3 336.5h.9M87.9 338.4h.9M107.6 338.6h.9M114.6 325.3h.9M93.8 319.7h.9M98.6 319.9h.9M115.9 323.5h.9M86.0 338.2h.9M87.0 328.2h.9M106.6 336.9h.9M108.5 338.6h.9M113.3 317.6h.9M84.6 338.2h.9M112.7 327.9h.9M109.3 348.2h.9M108.1 343.3h.9M108.2 348.7h.9M107.1 349.5h.9M108.3 348.7h.9M103.1 348.2h.9M107.4 349.0h.9M104.2 348.3h.9M108.4 347.4h.9M102.7 345.3h.9M109.1 347.0h.9M102.8 347.2h.9M110.5 347.0h.9M103.3 343.3h.9M108.9 348.1h.9M110.6 346.5h.9M106.9 348.2h.9M102.7 344.4h.9M109.5 346.7h.9M108.7 348.5h.9M90.6 347.0h.9M104.4 344.2h.9M106.8 343.8h.9M102.8 345.6h.9M104.1 344.3h.9M103.9 344.2h.9M104.8 343.7h.9M109.7 346.5h.9M131.5 324.6h.9M135.6 319.7h.9M134.1 320.5h.9M131.8 322.9h.9M129.4 325.4h.9M130.6 320.5h.9M134.1 319.9h.9M127.8 326.0h.9M133.4 322.2h.9M135.6 319.5h.9M131.7 319.8h.9M130.5 325.1h.9M128.4 324.6h.9M127.7 325.6h.9M132.8 320.3h.9M132.6 323.0h.9M133.0 321.4h.9M131.0 320.7h.9M133.8 319.6h.9M131.1 321.0h.9M132.7 319.8h.9M132.6 322.6h.9M133.2 321.2h.9M132.6 323.8h.9M128.5 324.8h.9M129.4 324.7h.9M135.1 319.8h.9M132.0 321.4h.9M80.4 351.0h.9M75.5 345.0h.9M82.5 339.3h.9M130.1 321.1h.9M68.9 345.0h.9M74.7 345.3h.9M76.4 345.5h.9M75.5 344.1h.9M75.0 345.7h.9M76.0 344.7h.9M76.0 342.5h.9M75.4 343.6h.9M78.7 346.1h.9M66.4 349.8h.9M76.0 345.3h.9M79.9 348.0h.9" stroke="#1748eb" stroke-width=".9" opacity="0.58"/>
<path d="M85.8 357.8h.9M84.9 355.1h.9M80.6 343.9h.9M86.3 356.7h.9M85.7 342.6h.9M89.8 353.6h.9M86.4 357.8h.9M88.0 348.9h.9M79.8 342.9h.9M89.9 353.1h.9M89.1 347.3h.9M87.9 345.5h.9M78.1 344.8h.9M78.6 344.1h.9M80.3 343.4h.9M78.5 344.1h.9M80.5 348.9h.9M80.1 342.4h.9M79.6 346.1h.9M84.1 340.3h.9M80.3 348.5h.9M86.0 356.8h.9M87.1 357.3h.9M80.9 348.8h.9M81.5 351.2h.9M89.0 348.2h.9M78.4 345.3h.9M79.3 345.5h.9M84.3 340.8h.9M87.8 356.9h.9M80.3 346.6h.9M85.8 336.4h.9M81.5 342.4h.9M89.3 351.7h.9M79.7 342.6h.9M81.6 353.5h.9M88.1 345.5h.9M83.4 354.6h.9M79.9 344.4h.9M79.0 344.5h.9M63.4 345.3h.9M67.7 348.8h.9M64.5 336.8h.9M67.5 340.2h.9M65.4 349.2h.9M63.4 342.1h.9M67.0 349.1h.9M67.5 337.3h.9M63.1 345.3h.9M68.0 349.1h.9M63.8 337.7h.9M67.9 337.9h.9M64.4 336.8h.9M63.3 342.4h.9M63.4 346.8h.9M67.6 348.0h.9M88.8 337.6h.9M101.9 319.5h.9M88.9 333.5h.9M108.3 329.5h.9M106.8 318.5h.9M113.2 321.3h.9M88.9 333.5h.9M104.1 317.3h.9M111.0 317.9h.9M93.1 325.1h.9M95.2 335.0h.9M112.8 319.6h.9M113.5 320.3h.9M93.4 334.6h.9M112.8 319.3h.9M102.1 320.3h.9M101.8 321.1h.9M97.0 337.0h.9M113.3 320.5h.9M93.0 325.5h.9M113.3 321.2h.9M111.6 328.1h.9M103.8 332.9h.9M104.2 318.4h.9M113.1 319.8h.9M93.3 326.4h.9M88.2 334.4h.9M98.6 320.8h.9M111.8 319.0h.9M110.8 317.6h.9M107.4 317.6h.9M100.2 335.4h.9M109.2 329.5h.9M102.5 331.8h.9M91.8 328.7h.9M112.0 328.2h.9M93.2 324.8h.9M106.1 317.9h.9M89.3 338.8h.9M114.0 320.4h.9M95.6 336.9h.9M93.8 333.6h.9M91.3 329.9h.9M89.4 333.7h.9M93.2 335.7h.9M104.9 317.5h.9M92.0 337.0h.9M85.1 334.3h.9M98.8 321.3h.9M93.0 326.8h.9M95.0 323.0h.9M97.0 336.8h.9M112.6 326.1h.9M93.7 337.5h.9M109.5 317.5h.9M95.4 336.9h.9M95.3 335.9h.9M106.8 331.1h.9M102.3 319.9h.9M92.7 337.9h.9M92.5 337.2h.9M91.3 338.6h.9M98.7 320.8h.9M104.8 317.6h.9M111.1 328.6h.9M108.2 330.1h.9M94.4 334.7h.9M114.1 322.3h.9M98.4 320.8h.9M113.5 326.5h.9M101.4 335.1h.9M103.1 332.7h.9M111.5 317.5h.9M91.0 332.7h.9M104.4 332.3h.9M102.9 319.8h.9M94.6 337.4h.9M101.9 320.1h.9M90.9 332.2h.9M101.3 321.0h.9M95.8 338.1h.9M106.8 318.1h.9M99.0 336.3h.9M92.0 328.2h.9M96.5 338.2h.9M85.6 336.3h.9M93.2 337.8h.9M85.7 336.9h.9M90.5 335.4h.9M90.2 333.2h.9M89.8 336.1h.9M98.0 337.5h.9M99.5 336.7h.9M95.0 337.4h.9M92.0 335.6h.9M92.9 336.8h.9M90.2 332.9h.9M99.0 337.0h.9M101.2 335.3h.9M88.9 336.7h.9M97.1 338.3h.9M90.8 331.0h.9M96.4 337.8h.9M90.4 333.7h.9M90.8 337.4h.9M90.1 334.7h.9M107.0 344.0h.9M90.2 335.9h.9M99.5 335.3h.9M86.3 334.2h.9M79.0 342.3h.9M90.7 330.7h.9M95.2 336.8h.9M93.0 336.8h.9M96.8 338.4h.9M101.4 335.7h.9M89.9 336.5h.9M93.5 337.8h.9M95.3 322.8h.9M104.7 331.9h.9M91.6 339.5h.9M108.2 317.9h.9M106.2 344.0h.9M85.2 334.1h.9M97.0 338.9h.9M84.5 336.3h.9M101.7 321.5h.9M85.0 336.2h.9M92.1 337.8h.9M90.6 337.3h.9M99.7 321.1h.9M108.2 344.0h.9M86.4 334.6h.9M101.2 320.2h.9M100.4 335.9h.9M89.0 334.3h.9M102.7 334.6h.9M95.7 337.4h.9M102.5 346.3h.9M104.0 345.4h.9M103.2 346.3h.9M106.6 347.3h.9M105.3 347.7h.9M107.4 346.8h.9M108.6 345.2h.9M103.6 347.2h.9M104.7 347.2h.9M106.7 344.3h.9M105.5 346.7h.9M105.3 348.0h.9M106.8 347.0h.9M104.7 347.1h.9M108.3 345.9h.9M108.4 344.2h.9M108.5 345.5h.9M107.9 346.1h.9M104.2 345.4h.9M130.5 323.0h.9M130.0 323.8h.9M129.6 324.2h.9M131.2 323.3h.9M131.5 324.3h.9M130.4 323.9h.9M130.8 323.2h.9M130.1 324.8h.9M130.7 324.8h.9M67.5 349.0h.9M108.8 329.8h.9M98.5 320.8h.9M80.2 344.0h.9M80.1 342.8h.9M78.3 344.4h.9M77.7 344.0h.9" stroke="#0d66eb" stroke-width=".9" opacity="0.66"/>
<path d="M84.4 354.4h.9M87.9 356.1h.9M82.2 342.4h.9M82.7 342.2h.9M86.3 356.0h.9M88.0 346.6h.9M84.9 342.5h.9M82.4 342.4h.9M85.2 343.0h.9M86.1 344.9h.9M84.0 341.1h.9M85.6 355.9h.9M83.2 354.4h.9M83.1 341.8h.9M80.2 345.4h.9M84.2 341.3h.9M81.6 349.7h.9M84.2 341.9h.9M82.3 352.8h.9M82.0 351.4h.9M80.1 345.9h.9M86.4 356.0h.9M83.9 341.3h.9M82.2 352.2h.9M85.5 355.5h.9M84.2 342.5h.9M83.2 354.0h.9M88.4 347.6h.9M82.0 342.1h.9M87.4 345.8h.9M80.2 345.6h.9M67.6 340.6h.9M66.9 348.2h.9M67.4 348.2h.9M65.9 336.6h.9M66.8 349.0h.9M64.4 348.6h.9M66.0 348.6h.9M63.6 346.9h.9M66.0 348.0h.9M63.7 339.4h.9M63.8 346.5h.9M67.3 338.0h.9M64.3 348.1h.9M66.3 348.7h.9M66.3 337.0h.9M67.2 347.3h.9M67.3 347.6h.9M64.3 348.8h.9M67.0 338.4h.9M64.1 348.7h.9M63.7 341.3h.9M104.8 331.1h.9M108.6 328.8h.9M95.5 323.8h.9M94.8 328.1h.9M102.7 322.1h.9M104.7 318.6h.9M92.4 334.1h.9M106.6 330.6h.9M85.7 336.0h.9M90.3 337.8h.9M97.3 331.0h.9M106.2 319.4h.9M101.7 334.7h.9M94.5 324.9h.9M96.1 323.6h.9M89.7 338.9h.9M85.1 335.3h.9M92.0 333.2h.9M91.1 331.7h.9M90.6 333.5h.9M93.9 325.6h.9M103.4 321.7h.9M94.8 324.0h.9M97.1 331.9h.9M100.3 334.0h.9M102.7 333.8h.9M107.7 319.0h.9M104.9 318.9h.9M96.3 323.7h.9M91.5 334.1h.9M89.8 338.2h.9M96.3 324.1h.9M114.6 324.4h.9M94.6 332.9h.9M93.0 327.8h.9M85.2 335.9h.9M111.0 319.3h.9M97.7 323.1h.9M91.8 334.5h.9M99.1 321.7h.9M97.4 323.8h.9M112.8 321.7h.9M94.3 324.3h.9M106.3 331.3h.9M90.8 338.8h.9M113.4 325.5h.9M91.7 331.1h.9M92.2 332.8h.9M108.4 329.5h.9M102.3 334.5h.9M109.3 328.7h.9M113.6 322.5h.9M91.8 332.1h.9M111.9 320.4h.9M93.6 327.7h.9M111.6 320.5h.9M90.5 337.5h.9M93.6 327.5h.9M92.8 334.1h.9M114.1 323.4h.9M101.1 334.1h.9M112.8 325.6h.9M99.6 322.0h.9M111.2 328.4h.9M91.5 330.8h.9M112.1 321.0h.9M108.8 329.0h.9M111.9 319.6h.9M110.6 328.1h.9M105.5 319.4h.9M94.6 324.4h.9M106.8 330.4h.9M91.4 335.0h.9M95.5 334.9h.9M85.0 334.7h.9M89.6 337.3h.9M83.5 341.8h.9M91.8 331.9h.9M96.2 331.7h.9M93.1 327.1h.9M89.1 338.2h.9M93.7 327.4h.9M94.4 332.6h.9M93.6 327.9h.9M97.8 323.5h.9M94.7 327.2h.9M95.4 333.6h.9M106.6 330.6h.9M90.4 338.1h.9M102.4 332.2h.9M90.6 335.1h.9M90.3 338.5h.9M91.4 335.1h.9M92.8 334.0h.9M92.0 335.0h.9M95.7 332.1h.9M100.7 334.8h.9M92.3 335.0h.9M93.1 333.2h.9M102.9 333.1h.9M98.5 335.8h.9M96.7 335.9h.9M92.9 328.3h.9M93.0 334.1h.9M95.9 335.6h.9M102.9 334.3h.9M95.4 334.0h.9M91.7 333.9h.9M90.1 338.4h.9M96.2 335.1h.9M102.9 333.3h.9M92.8 335.0h.9M98.7 336.0h.9M110.0 317.5h.9M85.4 335.9h.9M85.9 334.6h.9M101.8 334.5h.9M114.8 323.7h.9M107.3 329.4h.9M91.7 332.4h.9M91.3 335.1h.9M114.4 324.4h.9M84.6 342.4h.9M103.6 319.0h.9M98.6 336.2h.9M84.2 341.5h.9M103.8 346.3h.9M107.6 345.2h.9M107.3 345.5h.9M106.2 346.3h.9M103.6 346.5h.9M105.9 345.7h.9M107.8 345.0h.9M105.7 345.5h.9M106.3 345.0h.9M104.7 346.1h.9M106.6 345.7h.9M104.1 346.6h.9M106.2 345.7h.9M104.5 346.1h.9M106.3 345.4h.9M109.3 328.7h.9M85.1 343.2h.9" stroke="#0383eb" stroke-width=".9" opacity="0.75"/>
<path d="M87.5 347.2h.9M87.7 349.2h.9M82.6 342.5h.9M87.8 355.9h.9M85.7 354.6h.9M88.4 354.9h.9M88.0 355.6h.9M82.8 352.6h.9M83.5 342.8h.9M88.0 355.0h.9M82.4 350.8h.9M82.9 353.3h.9M81.6 348.8h.9M87.4 355.8h.9M86.3 345.3h.9M89.0 354.2h.9M88.3 355.3h.9M87.8 347.2h.9M87.8 349.7h.9M82.5 350.9h.9M83.6 342.3h.9M85.9 354.7h.9M81.8 349.4h.9M87.6 346.8h.9M87.9 346.6h.9M84.8 354.2h.9M81.7 349.4h.9M85.4 354.3h.9M81.9 349.2h.9M82.8 353.2h.9M83.4 353.7h.9M88.9 352.3h.9M85.5 354.9h.9M84.9 343.8h.9M81.5 344.8h.9M67.5 341.8h.9M64.1 338.3h.9M63.5 343.9h.9M66.8 337.8h.9M67.9 344.6h.9M67.6 341.7h.9M64.5 348.0h.9M63.8 344.3h.9M63.5 345.4h.9M67.5 341.5h.9M64.6 347.8h.9M66.8 338.2h.9M64.0 338.1h.9M63.8 344.9h.9M63.9 342.8h.9M66.6 338.3h.9M66.7 347.0h.9M64.6 348.0h.9M64.7 337.3h.9M113.7 324.1h.9M96.4 333.2h.9M98.0 324.2h.9M98.3 331.6h.9M109.2 318.4h.9M94.9 324.5h.9M96.5 325.1h.9M95.2 325.1h.9M108.8 318.9h.9M96.1 330.9h.9M112.3 322.2h.9M96.0 331.4h.9M96.3 330.4h.9M98.4 328.9h.9M99.5 333.3h.9M95.0 324.9h.9M96.3 331.2h.9M92.7 332.2h.9M94.8 330.6h.9M93.0 328.6h.9M98.2 323.3h.9M92.6 330.0h.9M95.7 330.6h.9M95.9 327.0h.9M96.6 325.5h.9M95.7 333.3h.9M98.7 330.2h.9M105.5 320.0h.9M110.6 319.1h.9M97.7 335.8h.9M93.1 328.7h.9M110.8 327.4h.9M99.4 333.5h.9M107.3 328.3h.9M110.2 328.4h.9M105.3 330.7h.9M95.0 330.4h.9M104.0 330.2h.9M96.0 329.7h.9M105.0 321.4h.9M114.0 323.4h.9M96.4 328.9h.9M98.3 333.5h.9M104.3 330.2h.9M104.5 330.9h.9M104.8 319.6h.9M95.6 328.9h.9M108.6 327.8h.9M95.1 324.3h.9M103.7 320.5h.9M95.4 325.3h.9M104.2 320.9h.9M95.9 330.7h.9M97.7 332.1h.9M110.6 321.7h.9M96.4 330.8h.9M95.8 325.9h.9M110.6 327.9h.9M98.9 330.3h.9M95.5 326.3h.9M104.6 319.4h.9M108.2 319.4h.9M100.2 331.4h.9M102.1 330.6h.9M111.8 325.7h.9M104.5 319.5h.9M102.3 333.1h.9M97.7 331.3h.9M97.3 324.7h.9M105.7 330.4h.9M103.7 320.1h.9M101.6 322.9h.9M110.7 320.0h.9M105.4 321.1h.9M96.0 327.4h.9M105.4 319.7h.9M95.9 325.3h.9M93.6 332.1h.9M106.8 329.8h.9M104.7 320.6h.9M111.0 322.5h.9M97.5 330.0h.9M109.6 318.1h.9M93.9 332.9h.9M96.8 332.8h.9M97.7 329.9h.9M104.3 320.2h.9M111.5 321.5h.9M102.0 330.7h.9M95.8 327.6h.9M101.5 333.7h.9M100.1 322.0h.9M109.9 327.6h.9M112.9 323.0h.9M97.8 325.3h.9M99.0 329.7h.9M111.7 325.8h.9M107.4 328.4h.9M95.3 328.9h.9M97.6 324.9h.9M94.1 331.2h.9M104.3 321.9h.9M95.0 325.2h.9M109.8 318.4h.9M101.5 322.7h.9M92.7 331.1h.9M97.6 330.4h.9M101.7 322.6h.9M98.4 333.3h.9M101.7 332.6h.9M98.3 324.5h.9M94.3 331.9h.9M95.5 328.3h.9M111.5 322.4h.9M95.3 327.0h.9M97.5 335.5h.9M99.4 329.0h.9M107.0 328.9h.9M111.4 326.0h.9M108.7 318.7h.9M110.7 326.9h.9M96.3 329.3h.9M96.6 329.6h.9M98.7 332.7h.9M105.3 319.5h.9M114.3 323.6h.9M109.8 318.1h.9M99.7 329.5h.9M98.1 323.2h.9M97.6 329.2h.9M110.8 327.7h.9M110.4 327.5h.9M97.5 328.6h.9M94.9 325.7h.9M110.7 321.5h.9M97.7 335.4h.9M108.6 327.5h.9M100.2 330.5h.9M101.4 322.4h.9M98.1 333.9h.9M99.9 330.0h.9M92.7 329.4h.9M106.4 330.0h.9M95.1 330.5h.9M100.1 331.4h.9M104.5 320.9h.9M103.7 320.7h.9M94.7 325.7h.9M111.1 320.1h.9M103.8 330.3h.9M95.4 327.2h.9M100.9 322.3h.9M97.2 328.6h.9M101.4 330.1h.9M105.7 319.5h.9M113.0 324.8h.9M108.3 318.8h.9M95.6 334.3h.9M113.9 324.4h.9M92.1 331.2h.9M101.9 333.5h.9M95.3 331.8h.9M92.7 329.5h.9M97.7 335.8h.9M93.7 332.3h.9M94.8 329.5h.9M101.6 332.1h.9M94.4 331.8h.9M95.2 331.6h.9M98.8 329.7h.9M97.5 329.2h.9M97.0 335.3h.9M95.4 326.5h.9M99.4 333.1h.9M98.5 335.0h.9M97.9 332.8h.9M92.2 330.8h.9M98.3 335.0h.9M97.5 330.5h.9M92.8 331.7h.9M110.6 326.1h.9M100.5 322.1h.9M100.2 333.1h.9M107.0 328.4h.9M97.1 325.4h.9M94.6 329.3h.9M94.0 331.6h.9M105.0 330.7h.9M103.8 320.3h.9M112.7 325.3h.9M93.6 332.5h.9M97.7 325.1h.9M98.0 332.3h.9M80.6 346.5h.9M81.5 344.8h.9" stroke="#07a1c1" stroke-width=".9" opacity="0.83"/>
<path d="M82.9 351.5h.9M82.0 348.1h.9M85.2 353.8h.9M88.6 352.9h.9M83.7 353.4h.9M86.8 354.6h.9M87.2 348.1h.9M82.2 343.7h.9M82.4 349.6h.9M86.9 346.4h.9M87.8 354.5h.9M87.5 350.2h.9M82.3 344.3h.9M86.8 354.6h.9M81.3 346.0h.9M87.7 350.7h.9M83.2 353.3h.9M82.8 351.2h.9M87.0 348.4h.9M87.8 354.7h.9M87.1 346.6h.9M84.0 353.1h.9M81.2 345.5h.9M81.4 346.1h.9M82.1 343.9h.9M86.5 346.1h.9M88.3 352.0h.9M87.2 355.1h.9M86.9 346.2h.9M87.6 350.2h.9M87.9 351.1h.9M81.7 344.5h.9M88.7 353.0h.9M84.2 353.6h.9M86.5 346.0h.9M83.9 353.1h.9M86.5 345.9h.9M86.2 355.0h.9M87.9 350.7h.9M88.6 353.0h.9M88.7 353.4h.9M67.4 345.6h.9M67.0 345.7h.9M64.8 337.5h.9M67.4 343.2h.9M64.7 337.7h.9M67.1 343.0h.9M66.7 339.5h.9M65.6 337.2h.9M67.3 346.2h.9M64.3 340.3h.9M65.8 337.4h.9M64.1 339.8h.9M65.2 347.9h.9M66.8 346.5h.9M64.7 347.4h.9M67.2 346.1h.9M67.1 340.5h.9M64.8 337.8h.9M64.2 344.8h.9M64.3 340.0h.9M65.4 347.5h.9M64.5 345.4h.9M65.8 347.4h.9M65.9 337.5h.9M66.4 337.6h.9M64.8 337.6h.9M64.1 338.6h.9M64.8 347.1h.9M64.2 341.3h.9M101.5 332.0h.9M99.0 331.0h.9M97.6 334.5h.9M107.3 327.2h.9M111.7 325.4h.9M112.7 324.7h.9M99.5 331.7h.9M105.7 329.1h.9M99.4 331.7h.9M101.2 332.5h.9M105.8 321.8h.9M100.3 332.4h.9M105.0 330.0h.9M110.9 320.8h.9M99.5 325.2h.9M103.0 329.5h.9M101.1 332.4h.9M100.4 332.9h.9M97.3 325.5h.9M96.7 328.5h.9M96.5 334.3h.9M106.5 326.8h.9M94.4 329.0h.9M101.4 329.5h.9M99.5 325.1h.9M93.6 330.7h.9M110.4 322.0h.9M97.2 334.8h.9M100.7 333.0h.9M100.2 332.7h.9M105.6 321.5h.9M107.3 327.0h.9M112.3 324.6h.9M100.5 322.8h.9M96.2 333.6h.9M110.4 320.1h.9M97.7 326.9h.9M99.5 331.5h.9M102.6 330.1h.9M96.8 333.3h.9M100.3 331.6h.9M99.0 325.6h.9M108.0 327.3h.9M97.9 327.0h.9M114.0 323.5h.9M93.4 331.2h.9M101.0 322.6h.9M93.1 330.2h.9M105.4 329.8h.9M109.3 319.1h.9M97.3 334.2h.9M111.9 325.0h.9M108.0 327.3h.9M98.0 326.7h.9M96.4 333.6h.9M101.9 323.2h.9M108.7 319.3h.9M97.8 327.9h.9M99.4 322.6h.9M109.8 319.3h.9M108.9 320.4h.9M101.6 330.3h.9M100.7 332.7h.9M113.6 323.5h.9M112.4 324.9h.9M100.4 322.9h.9M110.5 321.1h.9M93.9 329.6h.9M98.7 332.4h.9M106.0 329.2h.9M106.7 327.6h.9M97.5 327.8h.9M99.0 325.1h.9M109.3 326.4h.9M92.9 330.9h.9M105.1 330.1h.9M93.1 329.2h.9M109.6 322.3h.9M111.1 325.8h.9M97.0 326.0h.9M99.3 331.4h.9M96.7 326.9h.9M108.9 321.5h.9M93.2 329.0h.9M98.6 323.7h.9M107.2 327.1h.9M109.4 327.3h.9M106.1 329.0h.9M106.5 328.1h.9M96.3 334.1h.9M100.6 332.3h.9M98.3 327.2h.9M110.4 319.8h.9M98.3 325.9h.9M97.2 327.0h.9M109.7 327.1h.9M99.3 330.0h.9M108.9 326.9h.9M107.9 319.8h.9M107.2 319.8h.9M98.8 326.4h.9M105.5 321.6h.9M96.0 328.1h.9M97.1 326.1h.9M110.0 327.2h.9M99.5 331.7h.9M109.9 319.2h.9M97.3 333.0h.9M96.6 328.0h.9M109.5 326.3h.9M112.6 324.2h.9M107.2 326.9h.9M99.1 322.7h.9M99.3 322.9h.9M111.4 325.2h.9M103.8 329.6h.9M112.9 323.5h.9M112.3 322.6h.9M106.2 320.3h.9M109.3 320.5h.9M109.8 321.6h.9M97.7 327.6h.9M98.9 327.0h.9M110.4 325.3h.9M110.2 325.7h.9M106.6 320.4h.9M105.9 329.2h.9M97.8 327.0h.9M110.8 320.8h.9M109.1 327.0h.9M109.8 326.4h.9M98.8 331.9h.9M98.6 325.2h.9M113.4 323.3h.9M96.8 333.4h.9M98.3 327.6h.9M98.3 326.3h.9M110.9 320.9h.9M103.1 322.9h.9M99.7 330.8h.9M110.8 322.3h.9M103.0 323.3h.9M106.4 328.7h.9M110.3 319.2h.9M102.3 330.2h.9M96.5 327.6h.9M104.7 320.2h.9M94.6 329.7h.9M109.6 320.8h.9M98.8 324.8h.9M101.2 330.0h.9M99.1 325.9h.9M108.6 326.7h.9M93.7 329.7h.9M99.2 330.6h.9M109.3 327.1h.9M93.9 331.3h.9M93.3 331.2h.9M99.6 332.6h.9M97.0 328.4h.9M106.2 329.0h.9M112.6 323.2h.9M110.3 327.2h.9M109.0 320.3h.9M93.7 329.3h.9M100.2 329.1h.9M97.5 333.7h.9M97.3 334.2h.9M99.3 322.9h.9M93.3 330.4h.9M96.3 333.6h.9M93.4 329.6h.9M100.8 333.1h.9M99.0 330.9h.9M94.4 329.2h.9M96.5 327.1h.9M106.6 328.3h.9M97.8 333.1h.9M97.2 333.7h.9M103.2 326.3h.9M84.7 344.2h.9M102.0 330.1h.9M101.1 332.2h.9M104.7 330.3h.9M93.3 329.4h.9M103.5 323.0h.9M96.3 326.3h.9M110.6 323.3h.9M110.0 320.5h.9M96.8 326.6h.9M111.0 325.5h.9M97.6 334.7h.9M94.5 329.6h.9M97.1 335.0h.9M82.9 343.4h.9" stroke="#11c185" stroke-width=".9" opacity="0.91"/>
<path d="M86.8 347.2h.9M86.8 348.5h.9M87.9 353.8h.9M88.4 352.7h.9M87.2 354.3h.9M81.8 347.1h.9M84.2 353.4h.9M87.5 354.1h.9M85.4 345.5h.9M86.1 353.5h.9M83.4 352.0h.9M84.2 344.4h.9M86.6 347.4h.9M85.9 353.5h.9M83.7 352.5h.9M83.0 351.9h.9M86.7 346.6h.9M86.7 354.3h.9M82.9 349.6h.9M83.0 349.7h.9M82.8 343.8h.9M81.8 347.2h.9M84.8 353.3h.9M88.2 352.4h.9M87.3 354.4h.9M86.1 354.2h.9M85.1 345.1h.9M83.2 352.7h.9M88.3 353.2h.9M86.1 353.0h.9M86.5 347.6h.9M88.1 352.8h.9M87.4 349.8h.9M87.6 354.2h.9M83.4 352.1h.9M87.2 350.2h.9M83.3 343.7h.9M82.3 349.0h.9M88.5 353.2h.9M86.7 348.4h.9M87.9 352.0h.9M86.3 353.6h.9M82.6 343.8h.9M85.3 345.3h.9M87.3 354.0h.9M88.4 352.6h.9M86.7 348.8h.9M64.3 342.2h.9M64.7 346.9h.9M65.7 337.7h.9M66.2 346.7h.9M67.5 341.0h.9M66.0 347.0h.9M64.9 345.8h.9M64.1 342.2h.9M64.6 345.8h.9M66.5 346.3h.9M64.4 344.3h.9M64.7 346.3h.9M66.1 338.3h.9M67.0 344.6h.9M64.8 346.1h.9M67.0 343.9h.9M64.1 343.3h.9M64.1 343.9h.9M65.0 346.6h.9M67.3 341.4h.9M106.8 320.6h.9M102.0 325.8h.9M102.8 327.2h.9M107.1 320.7h.9M109.3 323.5h.9M109.0 322.6h.9M108.0 320.8h.9M99.2 323.6h.9M107.9 326.3h.9M104.2 325.5h.9M100.9 324.4h.9M102.2 327.9h.9M108.1 321.4h.9M103.0 327.3h.9M106.8 321.3h.9M104.1 329.4h.9M110.3 323.3h.9M112.1 323.2h.9M99.9 323.4h.9M109.7 322.8h.9M102.2 323.6h.9M99.7 324.0h.9M107.9 322.8h.9M105.2 327.2h.9M107.8 322.5h.9M107.1 320.3h.9M109.3 322.7h.9M110.4 324.8h.9M109.0 325.0h.9M110.3 323.1h.9M104.1 325.0h.9M104.3 326.8h.9M111.3 323.8h.9M101.8 329.7h.9M102.1 326.1h.9M102.9 324.2h.9M108.7 323.4h.9M103.1 325.7h.9M105.1 327.4h.9M105.9 328.1h.9M102.1 325.3h.9M100.3 324.0h.9M105.1 329.2h.9M102.1 329.9h.9M107.2 320.4h.9M106.5 321.3h.9M103.2 327.9h.9M107.5 320.3h.9M109.6 323.0h.9M111.3 324.4h.9M104.0 325.5h.9M99.6 323.6h.9M110.5 323.4h.9M108.6 322.8h.9M100.8 323.6h.9M110.9 324.2h.9M109.3 325.1h.9M100.4 325.0h.9M102.6 328.8h.9M109.2 323.3h.9M109.4 319.7h.9M102.3 329.6h.9M99.1 323.9h.9M103.9 329.2h.9M108.4 321.5h.9M112.8 324.0h.9M109.1 320.0h.9M101.3 323.8h.9M103.3 327.7h.9M103.0 328.5h.9M108.0 320.8h.9M111.7 323.1h.9M111.8 323.6h.9M99.8 323.5h.9M109.5 322.3h.9M104.0 326.5h.9M109.7 319.8h.9M101.7 323.5h.9M104.4 328.6h.9M106.6 321.3h.9M108.1 321.6h.9M102.3 329.6h.9M111.9 323.1h.9M108.3 322.6h.9M110.1 324.0h.9M102.9 325.7h.9M99.9 325.6h.9M100.8 324.0h.9M102.7 324.5h.9M103.1 325.6h.9M107.8 320.3h.9M108.2 320.9h.9M102.8 324.7h.9M109.7 323.9h.9M107.3 326.3h.9M101.4 324.0h.9M103.7 326.9h.9M103.9 328.8h.9M104.3 322.9h.9M103.2 328.4h.9M103.8 324.8h.9M99.6 326.1h.9M112.3 323.1h.9M99.7 323.8h.9M100.7 323.4h.9M110.9 324.1h.9M107.5 321.8h.9M105.2 328.3h.9M103.2 323.5h.9M105.7 327.3h.9M112.0 323.8h.9M102.8 330.0h.9M103.4 325.2h.9M99.4 328.2h.9M101.6 329.8h.9M106.5 326.2h.9M105.8 328.0h.9M109.4 324.1h.9M103.3 325.6h.9M109.9 322.6h.9M103.3 327.9h.9M108.3 321.8h.9M103.1 327.1h.9M111.2 324.2h.9M103.8 325.6h.9M104.7 328.0h.9M105.7 327.8h.9M109.7 319.9h.9M108.1 323.0h.9M99.1 323.9h.9M102.1 323.6h.9M99.3 327.7h.9M109.4 319.9h.9M108.1 326.4h.9M109.9 324.5h.9M99.9 324.3h.9M104.2 329.0h.9M102.0 324.1h.9M105.3 329.0h.9M99.3 326.5h.9M102.5 329.4h.9M107.7 320.9h.9M109.8 324.8h.9M110.4 324.9h.9M109.1 322.9h.9M110.0 324.6h.9M102.3 324.3h.9M102.2 328.3h.9M107.4 326.5h.9M112.4 324.1h.9M106.2 326.1h.9M99.1 326.5h.9M112.0 323.8h.9M106.5 320.7h.9M111.2 324.7h.9M108.3 323.2h.9M99.1 328.3h.9M102.6 326.0h.9M99.2 327.9h.9M103.3 328.3h.9" stroke="#36ce55" stroke-width=".9" opacity="0.99"/>
<path d="M86.5 349.8h.9M87.4 353.4h.9M84.9 352.7h.9M84.0 344.4h.9M81.7 345.6h.9M86.4 347.7h.9M81.5 346.1h.9M87.3 352.9h.9M82.8 344.3h.9M87.9 352.4h.9M85.8 346.3h.9M87.5 352.4h.9M86.8 349.9h.9M87.7 352.4h.9M87.0 351.8h.9M85.9 352.8h.9M83.7 352.2h.9M86.7 352.7h.9M82.1 347.5h.9M87.0 351.9h.9M86.9 353.0h.9M85.4 352.6h.9M84.2 344.7h.9M82.7 344.9h.9M84.3 344.9h.9M86.8 353.0h.9M86.1 346.5h.9M87.0 353.0h.9M85.9 346.1h.9M83.8 344.3h.9M83.3 344.5h.9M83.5 344.3h.9M85.8 352.7h.9M82.5 344.0h.9M81.7 347.0h.9M83.2 344.2h.9M85.3 352.9h.9M87.2 353.2h.9M83.1 344.4h.9M82.0 347.0h.9M83.6 344.1h.9M86.5 352.9h.9M64.8 339.1h.9M64.7 340.6h.9M65.0 346.3h.9M64.9 345.2h.9M64.9 340.0h.9M66.3 346.3h.9M65.7 338.3h.9M64.9 341.2h.9M66.9 346.0h.9M65.0 346.3h.9M64.8 339.4h.9M66.5 346.0h.9M65.6 338.8h.9M66.1 339.6h.9M65.3 346.8h.9M64.6 339.6h.9M64.8 339.1h.9M66.3 339.0h.9M65.8 338.2h.9M65.1 338.5h.9M65.7 346.6h.9M65.1 338.6h.9M66.0 340.2h.9M64.6 341.6h.9M65.5 346.5h.9M65.5 338.4h.9M64.9 340.4h.9M105.0 322.6h.9M105.3 326.6h.9M109.0 325.3h.9M107.3 321.8h.9M108.0 325.9h.9M105.0 322.9h.9M101.6 326.5h.9M104.9 327.5h.9M104.6 326.4h.9M106.4 326.0h.9M101.4 328.7h.9M101.6 328.9h.9M100.6 328.9h.9M103.9 324.0h.9M100.2 328.1h.9M104.8 325.2h.9M100.0 328.0h.9M106.9 323.0h.9M101.5 327.2h.9M105.0 326.4h.9M101.1 324.8h.9M104.1 327.6h.9M101.4 327.1h.9M101.4 325.3h.9M107.3 323.0h.9M104.9 322.5h.9M105.3 325.8h.9M107.2 326.0h.9M99.9 328.3h.9M101.9 324.8h.9M105.0 325.1h.9M101.7 329.3h.9M85.8 346.2h.9M101.6 324.9h.9M99.7 326.6h.9M105.5 325.3h.9M99.8 327.3h.9M101.8 327.5h.9M100.9 325.5h.9M101.8 324.6h.9M101.2 326.6h.9M103.7 324.0h.9M107.8 325.7h.9M103.7 324.4h.9M104.5 324.8h.9M106.7 321.8h.9M101.6 324.7h.9M103.9 328.4h.9M101.5 329.1h.9M108.3 325.9h.9M104.0 323.6h.9M103.5 323.4h.9M104.0 323.1h.9M107.4 323.0h.9M101.2 326.3h.9M104.0 327.9h.9M100.4 326.6h.9M103.5 328.3h.9M105.0 326.4h.9M101.5 325.1h.9M99.9 328.2h.9M106.3 325.3h.9M105.2 325.9h.9M107.0 325.7h.9M101.9 324.2h.9M108.7 324.6h.9M106.4 322.2h.9M104.2 323.1h.9M101.7 325.2h.9M104.1 323.3h.9M101.0 328.7h.9M105.8 325.3h.9M101.4 325.6h.9M104.1 327.4h.9M101.2 326.8h.9M100.5 328.1h.9M104.7 327.4h.9M104.9 327.9h.9M103.5 323.9h.9M105.4 325.6h.9M101.4 326.1h.9M101.8 327.1h.9M108.7 325.1h.9M100.7 328.6h.9M100.9 326.3h.9M99.9 327.8h.9M84.7 345.1h.9M104.8 326.7h.9M101.5 326.2h.9M105.0 325.3h.9M107.3 321.8h.9M105.6 325.7h.9M105.1 326.6h.9M101.1 326.4h.9M103.8 327.9h.9M104.6 327.1h.9M99.8 328.1h.9M101.7 327.7h.9M100.0 326.7h.9M100.9 325.7h.9M100.6 325.6h.9M108.0 325.2h.9M106.8 321.5h.9M106.8 321.7h.9M104.5 327.6h.9" stroke="#63d728" stroke-width=".9" opacity="1.00"/>
<path d="M85.8 347.3h.9M84.7 345.7h.9M85.9 347.1h.9M86.9 351.5h.9M85.6 347.5h.9M86.1 348.7h.9M82.2 347.5h.9M86.3 349.4h.9M82.2 345.9h.9M86.7 351.6h.9M83.7 351.9h.9M82.6 348.1h.9M84.4 345.0h.9M82.2 345.8h.9M86.8 350.7h.9M83.4 344.5h.9M84.3 352.4h.9M82.1 346.0h.9M83.5 344.9h.9M82.8 345.1h.9M84.3 345.5h.9M84.7 345.6h.9M84.9 345.7h.9M86.9 350.5h.9M86.8 350.8h.9M82.5 348.6h.9M85.7 347.6h.9M86.0 346.6h.9M86.6 350.3h.9M86.7 351.2h.9M85.7 347.5h.9M83.4 344.8h.9M86.3 348.8h.9M83.2 350.3h.9M82.5 345.9h.9M84.5 345.6h.9M65.3 339.4h.9M64.6 342.2h.9M66.4 345.8h.9M66.5 345.5h.9M65.6 339.4h.9M65.8 339.4h.9M65.9 339.5h.9M65.6 345.5h.9M66.8 342.1h.9M66.7 343.1h.9M65.9 339.8h.9M64.8 343.2h.9M67.0 345.5h.9M64.7 343.1h.9M66.7 343.7h.9M65.2 340.4h.9M65.6 340.4h.9M65.0 344.0h.9M66.7 341.9h.9M64.8 342.8h.9M66.8 344.5h.9M65.7 339.4h.9M65.8 346.2h.9M65.9 339.1h.9M67.0 344.2h.9M66.5 344.7h.9M65.9 339.8h.9M65.9 340.5h.9M65.9 345.6h.9M66.9 342.4h.9M66.6 344.9h.9M66.6 343.5h.9M64.8 343.9h.9M64.6 342.0h.9M65.5 340.4h.9M65.4 345.9h.9M65.0 342.3h.9M66.6 344.2h.9M66.6 341.3h.9M65.7 339.4h.9M66.6 341.7h.9M104.0 324.0h.9M108.4 324.1h.9M104.6 324.3h.9M101.4 328.4h.9M106.7 325.0h.9M104.6 323.2h.9M100.8 326.8h.9M100.8 328.0h.9M106.6 324.7h.9M105.1 324.5h.9M106.7 323.4h.9M100.3 327.0h.9M100.1 327.1h.9M107.0 325.5h.9M106.1 322.6h.9M105.8 322.8h.9M101.2 328.4h.9M108.0 324.9h.9M100.3 327.2h.9M108.2 324.6h.9M108.4 324.2h.9M105.8 324.0h.9M104.5 323.9h.9M101.1 328.4h.9M106.2 322.9h.9M104.7 324.4h.9M106.2 324.1h.9M104.3 324.1h.9M108.1 324.1h.9M104.0 323.9h.9M100.4 327.5h.9M101.0 328.3h.9M104.6 323.5h.9M105.4 323.2h.9M105.4 323.5h.9M107.1 323.8h.9M107.8 324.2h.9M101.4 328.0h.9M105.9 324.5h.9M107.0 323.2h.9M106.4 324.5h.9M108.2 324.5h.9M105.0 324.4h.9M101.3 328.2h.9M100.7 327.8h.9M106.4 322.8h.9" stroke="#8fde0f" stroke-width=".9" opacity="1.00"/>
<path d="M86.2 350.7h.9M85.7 352.1h.9M85.3 346.8h.9M82.5 346.9h.9M85.9 349.0h.9M82.5 346.4h.9M85.2 346.9h.9M86.1 349.9h.9M85.6 348.5h.9M82.2 346.4h.9M82.7 347.7h.9M84.2 345.9h.9M83.9 345.2h.9M86.0 349.8h.9M83.8 351.1h.9M85.4 346.5h.9M83.4 348.6h.9M84.4 351.6h.9M82.7 345.8h.9M83.3 348.8h.9M86.3 351.6h.9M83.5 349.0h.9M84.6 352.5h.9M85.3 352.1h.9M83.6 350.9h.9M86.5 351.2h.9M85.7 348.0h.9M85.5 349.4h.9M83.1 348.9h.9M85.5 348.7h.9M86.2 349.8h.9M82.2 346.8h.9M84.1 351.7h.9M86.3 351.7h.9M82.7 345.8h.9M83.6 351.3h.9M86.4 351.6h.9M84.1 345.7h.9M65.3 344.3h.9M65.2 341.9h.9M65.1 344.4h.9M65.2 340.9h.9M65.3 342.1h.9M65.6 345.1h.9M66.1 345.5h.9M65.3 340.9h.9M66.4 345.2h.9M65.5 340.9h.9M65.1 344.2h.9M65.1 344.4h.9M66.3 340.8h.9M65.1 344.2h.9M106.1 323.4h.9M107.0 324.7h.9M105.8 323.0h.9M107.2 324.1h.9M106.2 323.5h.9M106.9 323.8h.9M107.1 324.2h.9M107.5 324.9h.9M107.7 324.8h.9M106.6 323.6h.9M107.7 324.8h.9M107.4 324.1h.9M107.5 324.7h.9M105.4 323.5h.9M106.6 324.1h.9M106.0 323.1h.9M106.2 323.4h.9M105.4 323.5h.9M107.7 324.7h.9M107.1 324.8h.9M105.0 324.0h.9M106.4 323.4h.9M105.0 323.8h.9M107.8 324.8h.9" stroke="#bae207" stroke-width=".9" opacity="1.00"/>
<path d="M83.9 349.5h.9M85.3 348.6h.9M82.5 346.8h.9M85.9 351.5h.9M84.1 346.2h.9M85.4 348.1h.9M84.7 351.7h.9M84.3 351.3h.9M83.6 349.4h.9M82.9 346.9h.9M85.7 350.3h.9M82.8 347.4h.9M83.5 345.6h.9M85.8 351.8h.9M82.7 346.7h.9M83.7 345.5h.9M84.9 351.8h.9M83.9 349.7h.9M85.0 348.2h.9M83.9 350.0h.9M84.2 346.3h.9M84.6 351.5h.9M85.9 350.3h.9M83.5 349.7h.9M83.4 345.5h.9M84.2 351.4h.9M83.7 349.0h.9M83.9 350.4h.9M83.1 348.4h.9M82.7 347.4h.9M82.8 347.3h.9M85.2 348.9h.9M85.4 347.8h.9M85.9 350.1h.9M85.7 351.5h.9M83.9 350.0h.9M82.6 346.8h.9M83.4 345.7h.9M83.8 350.4h.9M82.6 346.7h.9M83.8 349.6h.9M65.8 343.2h.9M65.5 343.9h.9M66.0 343.4h.9M65.4 343.2h.9M65.4 343.2h.9M65.8 344.4h.9M66.1 342.5h.9M65.5 341.0h.9M65.7 341.9h.9M66.0 341.8h.9M66.2 344.5h.9M66.0 342.9h.9M65.9 345.0h.9M65.8 342.6h.9M66.2 341.2h.9M65.8 341.0h.9M66.2 344.5h.9M66.1 344.9h.9M66.5 343.1h.9M66.4 342.0h.9M65.5 342.6h.9M66.1 341.1h.9M65.7 341.9h.9M66.3 343.0h.9M66.4 344.9h.9M65.4 343.1h.9M65.7 341.7h.9M66.0 341.0h.9M65.8 341.2h.9M65.7 344.7h.9M65.9 341.0h.9M66.1 343.6h.9M65.6 343.3h.9M65.7 344.6h.9M66.2 344.0h.9M66.1 343.3h.9M65.3 343.2h.9M66.3 341.9h.9M65.9 341.1h.9M65.9 341.9h.9M66.1 341.3h.9M66.0 344.2h.9M66.5 341.4h.9M66.0 344.0h.9M65.8 342.1h.9M65.9 342.6h.9M66.3 344.5h.9M65.8 343.4h.9" stroke="#e5e500" stroke-width=".9" opacity="1.00"/>
<path d="M84.9 349.4h.9M84.4 350.8h.9M83.5 347.6h.9M85.5 349.5h.9M85.4 349.1h.9M86.0 351.4h.9M84.6 351.1h.9M85.2 351.6h.9M84.9 349.4h.9M85.3 349.4h.9M84.1 347.0h.9M85.0 351.8h.9M83.7 348.8h.9M85.8 351.3h.9M84.6 351.2h.9M83.1 347.9h.9M84.2 350.5h.9M84.0 346.7h.9M84.6 348.0h.9M83.5 347.5h.9M84.8 348.0h.9M84.6 348.9h.9M84.2 346.6h.9M84.2 347.0h.9M85.0 347.7h.9M83.6 348.4h.9M85.1 352.0h.9M83.2 346.0h.9M84.4 346.8h.9M84.1 348.6h.9M83.9 348.1h.9M84.2 349.3h.9M84.1 349.6h.9M84.2 349.7h.9M83.1 346.4h.9M85.8 350.7h.9M83.2 346.7h.9M85.8 351.2h.9M84.2 346.6h.9M83.9 346.1h.9M85.8 350.6h.9M84.3 350.6h.9M84.2 349.6h.9M84.7 349.5h.9M84.5 349.9h.9M85.2 349.6h.9M84.7 347.2h.9M65.8 343.8h.9" stroke="#efc300" stroke-width=".9" opacity="1.00"/>
<path d="M83.9 347.9h.9M84.2 347.8h.9M84.2 347.7h.9M83.9 346.9h.9M85.0 351.1h.9M84.0 347.8h.9M84.8 350.4h.9M83.6 347.0h.9M85.3 350.0h.9M85.5 350.6h.9M84.7 349.9h.9M83.7 347.2h.9M84.3 347.0h.9M84.1 347.3h.9M84.1 348.3h.9M83.8 347.3h.9M83.7 347.6h.9M84.6 349.5h.9M84.9 350.4h.9M83.2 347.4h.9M83.9 347.5h.9M84.7 350.5h.9M84.5 347.7h.9M85.1 351.2h.9M84.4 347.9h.9M83.8 347.0h.9M84.8 350.9h.9M84.9 349.5h.9M85.3 351.2h.9M84.1 347.9h.9M85.1 350.9h.9M84.9 350.1h.9M83.9 347.8h.9M84.8 350.3h.9M84.1 348.2h.9M84.6 350.7h.9" stroke="#f9a000" stroke-width=".9" opacity="1.00"/>
<line x1="139.60" y1="314.50" x2="139.60" y2="318.50" stroke="#60c060" stroke-width="1.0"/>
<line x1="139.60" y1="318.50" x2="139.60" y2="322.50" stroke="#e07050" stroke-width="1.0"/>
<line x1="139.60" y1="322.50" x2="139.60" y2="328.50" stroke="#70c070" stroke-width="1.0"/>
<rect x="61.50" y="294.50" width="78.30" height="71.80" fill="none" stroke="#8a9696" stroke-width="0.9"/>
<line x1="59.90" y1="314.10" x2="61.90" y2="314.10" stroke="#555" stroke-width="0.8"/>
<line x1="60.70" y1="308.50" x2="61.90" y2="308.50" stroke="#777" stroke-width="0.6"/>
<line x1="60.70" y1="305.23" x2="61.90" y2="305.23" stroke="#777" stroke-width="0.6"/>
<line x1="60.70" y1="302.90" x2="61.90" y2="302.90" stroke="#777" stroke-width="0.6"/>
<line x1="60.70" y1="301.10" x2="61.90" y2="301.10" stroke="#777" stroke-width="0.6"/>
<line x1="60.70" y1="299.63" x2="61.90" y2="299.63" stroke="#777" stroke-width="0.6"/>
<line x1="60.70" y1="298.38" x2="61.90" y2="298.38" stroke="#777" stroke-width="0.6"/>
<line x1="60.70" y1="297.30" x2="61.90" y2="297.30" stroke="#777" stroke-width="0.6"/>
<line x1="60.70" y1="296.35" x2="61.90" y2="296.35" stroke="#777" stroke-width="0.6"/>
<line x1="59.90" y1="332.70" x2="61.90" y2="332.70" stroke="#555" stroke-width="0.8"/>
<line x1="60.70" y1="327.10" x2="61.90" y2="327.10" stroke="#777" stroke-width="0.6"/>
<line x1="60.70" y1="323.83" x2="61.90" y2="323.83" stroke="#777" stroke-width="0.6"/>
<line x1="60.70" y1="321.50" x2="61.90" y2="321.50" stroke="#777" stroke-width="0.6"/>
<line x1="60.70" y1="319.70" x2="61.90" y2="319.70" stroke="#777" stroke-width="0.6"/>
<line x1="60.70" y1="318.23" x2="61.90" y2="318.23" stroke="#777" stroke-width="0.6"/>
<line x1="60.70" y1="316.98" x2="61.90" y2="316.98" stroke="#777" stroke-width="0.6"/>
<line x1="60.70" y1="315.90" x2="61.90" y2="315.90" stroke="#777" stroke-width="0.6"/>
<line x1="60.70" y1="314.95" x2="61.90" y2="314.95" stroke="#777" stroke-width="0.6"/>
<line x1="59.90" y1="351.30" x2="61.90" y2="351.30" stroke="#555" stroke-width="0.8"/>
<line x1="60.70" y1="345.70" x2="61.90" y2="345.70" stroke="#777" stroke-width="0.6"/>
<line x1="60.70" y1="342.43" x2="61.90" y2="342.43" stroke="#777" stroke-width="0.6"/>
<line x1="60.70" y1="340.10" x2="61.90" y2="340.10" stroke="#777" stroke-width="0.6"/>
<line x1="60.70" y1="338.30" x2="61.90" y2="338.30" stroke="#777" stroke-width="0.6"/>
<line x1="60.70" y1="336.83" x2="61.90" y2="336.83" stroke="#777" stroke-width="0.6"/>
<line x1="60.70" y1="335.58" x2="61.90" y2="335.58" stroke="#777" stroke-width="0.6"/>
<line x1="60.70" y1="334.50" x2="61.90" y2="334.50" stroke="#777" stroke-width="0.6"/>
<line x1="60.70" y1="333.55" x2="61.90" y2="333.55" stroke="#777" stroke-width="0.6"/>
<line x1="59.90" y1="369.90" x2="61.90" y2="369.90" stroke="#555" stroke-width="0.8"/>
<line x1="60.70" y1="364.30" x2="61.90" y2="364.30" stroke="#777" stroke-width="0.6"/>
<line x1="60.70" y1="361.03" x2="61.90" y2="361.03" stroke="#777" stroke-width="0.6"/>
<line x1="60.70" y1="358.70" x2="61.90" y2="358.70" stroke="#777" stroke-width="0.6"/>
<line x1="60.70" y1="356.90" x2="61.90" y2="356.90" stroke="#777" stroke-width="0.6"/>
<line x1="60.70" y1="355.43" x2="61.90" y2="355.43" stroke="#777" stroke-width="0.6"/>
<line x1="60.70" y1="354.18" x2="61.90" y2="354.18" stroke="#777" stroke-width="0.6"/>
<line x1="60.70" y1="353.10" x2="61.90" y2="353.10" stroke="#777" stroke-width="0.6"/>
<line x1="60.70" y1="352.15" x2="61.90" y2="352.15" stroke="#777" stroke-width="0.6"/>
<line x1="59.10" y1="365.30" x2="61.90" y2="365.30" stroke="#555" stroke-width="0.8"/>
<line x1="62.00" y1="367.90" x2="62.00" y2="365.90" stroke="#777" stroke-width="0.6"/>
<line x1="69.70" y1="367.10" x2="69.70" y2="365.90" stroke="#777" stroke-width="0.6"/>
<line x1="77.40" y1="367.10" x2="77.40" y2="365.90" stroke="#777" stroke-width="0.6"/>
<line x1="85.10" y1="367.10" x2="85.10" y2="365.90" stroke="#777" stroke-width="0.6"/>
<line x1="92.80" y1="367.90" x2="92.80" y2="365.90" stroke="#777" stroke-width="0.6"/>
<line x1="100.50" y1="367.10" x2="100.50" y2="365.90" stroke="#777" stroke-width="0.6"/>
<line x1="108.20" y1="367.10" x2="108.20" y2="365.90" stroke="#777" stroke-width="0.6"/>
<line x1="115.90" y1="367.10" x2="115.90" y2="365.90" stroke="#777" stroke-width="0.6"/>
<line x1="123.60" y1="367.90" x2="123.60" y2="365.90" stroke="#777" stroke-width="0.6"/>
<line x1="131.30" y1="367.10" x2="131.30" y2="365.90" stroke="#777" stroke-width="0.6"/>
<line x1="139.00" y1="367.10" x2="139.00" y2="365.90" stroke="#777" stroke-width="0.6"/>
<rect x="79.50" y="308.80" width="41.70" height="34.50" fill="none" stroke="#606060" stroke-width="0.85"/>
<rect x="62.00" y="335.20" width="8.70" height="17.30" fill="none" stroke="#606060" stroke-width="0.85"/>
<rect x="79.50" y="343.30" width="16.80" height="20.70" fill="none" stroke="#606060" stroke-width="0.85"/>
<rect x="96.30" y="343.30" width="24.90" height="13.70" fill="none" stroke="#606060" stroke-width="0.85"/>
<line x1="79.50" y1="343.30" x2="121.20" y2="343.30" stroke="#222" stroke-width="1.3"/>
<line x1="96.30" y1="343.30" x2="96.30" y2="364.00" stroke="#2a2a2a" stroke-width="1.1"/>
<text transform="translate(100.80,306.10) scale(1.100,1)" font-size="9.4" text-anchor="middle">33,5</text>
<text transform="translate(60.30,332.30) scale(1.100,1)" font-size="9.4">17,3</text>
<text transform="translate(123.00,355.30) scale(1.100,1)" font-size="9.4">4,5</text>
<text transform="translate(97.50,365.50) scale(1.100,1)" font-size="9.4">34,1</text>
<path d="M194.7 361.2h.9M187.2 363.5h.9M182.1 341.7h.9M183.3 360.5h.9M192.7 345.0h.9M221.5 338.4h.9M228.4 332.5h.9M224.7 337.4h.9M203.1 317.4h.9M224.3 334.1h.9M193.0 318.7h.9M220.1 319.2h.9M206.3 314.6h.9M204.9 351.8h.9M202.2 350.3h.9M195.5 300.6h.9M233.6 320.3h.9M229.9 308.1h.9M226.6 317.6h.9M201.9 358.3h.9M220.7 302.1h.9M167.5 362.4h.9M174.5 314.5h.9M196.1 309.1h.9M221.4 348.3h.9M231.5 299.5h.9M171.8 322.0h.9M227.3 299.4h.9M205.9 307.9h.9M204.4 358.3h.9M231.9 347.1h.9M228.2 324.1h.9" stroke="#344dee" stroke-width=".9" opacity="0.42"/>
<path d="M188.8 362.3h.9M183.6 339.2h.9M186.7 359.6h.9M180.8 353.5h.9M188.5 340.7h.9M182.3 355.7h.9M195.2 350.2h.9M180.9 349.0h.9M189.5 360.6h.9M189.8 360.6h.9M181.9 352.0h.9M180.9 350.8h.9M179.7 351.6h.9M195.6 351.7h.9M164.3 354.8h.9M163.5 352.3h.9M163.6 338.3h.9M162.8 352.0h.9M162.5 354.1h.9M164.8 355.0h.9M164.2 339.0h.9M187.3 330.1h.9M197.3 346.7h.9M185.4 330.5h.9M218.2 341.0h.9M185.6 332.1h.9M190.0 341.5h.9M195.5 343.0h.9M183.9 329.6h.9M187.6 325.9h.9M211.1 316.9h.9M203.5 344.9h.9M205.6 348.5h.9M190.4 323.0h.9M202.9 344.5h.9M212.1 351.0h.9M217.9 342.4h.9M183.5 337.0h.9M196.7 320.7h.9M194.3 341.5h.9M196.5 343.8h.9M206.7 342.4h.9M184.7 337.9h.9M195.8 348.2h.9M197.3 321.8h.9M183.2 334.7h.9M190.2 339.7h.9M187.9 320.5h.9M194.2 322.0h.9M192.4 339.8h.9M195.7 319.0h.9M185.7 326.5h.9M191.2 324.0h.9M180.6 331.2h.9M197.8 345.7h.9M200.6 319.9h.9M182.1 331.7h.9M199.2 343.8h.9M191.3 324.7h.9M221.5 335.6h.9M208.1 321.0h.9M216.7 344.2h.9M219.7 339.4h.9M206.1 318.6h.9M186.1 327.1h.9M182.0 333.9h.9M220.2 323.6h.9M216.6 319.8h.9M197.7 319.5h.9M197.4 317.5h.9M217.2 337.6h.9M222.6 331.8h.9M212.1 341.7h.9M219.9 321.3h.9M211.3 341.3h.9M220.6 334.5h.9M215.5 316.8h.9M208.8 318.1h.9M218.4 319.1h.9M208.2 318.9h.9M191.2 341.1h.9M221.1 330.1h.9M198.5 320.5h.9M197.2 322.7h.9M221.2 327.6h.9M219.2 339.0h.9M196.1 325.0h.9M213.7 341.0h.9M194.3 322.1h.9M217.3 342.5h.9M214.2 349.1h.9M215.8 345.8h.9M215.8 348.9h.9M217.4 345.9h.9M214.6 346.7h.9M211.2 350.9h.9M205.1 346.9h.9M206.4 349.2h.9M217.6 346.1h.9M216.0 348.0h.9M214.0 348.1h.9M213.1 350.6h.9M196.2 317.2h.9M194.6 347.5h.9M222.7 332.8h.9M188.6 321.2h.9M171.2 342.2h.9M189.9 342.1h.9M187.8 326.7h.9M162.1 339.9h.9M222.7 306.4h.9M222.6 306.8h.9M170.9 346.6h.9M175.4 348.2h.9M179.4 346.9h.9M168.9 344.5h.9M171.8 346.0h.9M176.4 343.2h.9M177.0 342.3h.9M171.9 344.8h.9M176.7 347.7h.9M167.9 345.9h.9M177.7 345.5h.9M172.3 343.3h.9M175.0 344.5h.9M169.3 346.1h.9M179.9 347.1h.9M170.8 347.8h.9M173.0 348.5h.9" stroke="#2649ec" stroke-width=".9" opacity="0.50"/>
<path d="M188.1 360.2h.9M181.9 345.6h.9M189.4 358.8h.9M191.2 356.2h.9M191.5 350.7h.9M184.6 340.1h.9M183.0 343.6h.9M182.5 343.5h.9M190.3 356.8h.9M187.6 360.2h.9M181.4 344.3h.9M191.5 346.8h.9M187.5 342.3h.9M191.8 349.9h.9M191.9 347.3h.9M189.3 344.1h.9M191.9 352.3h.9M182.8 349.9h.9M182.5 349.1h.9M188.6 339.3h.9M185.2 340.3h.9M187.6 342.3h.9M184.1 340.2h.9M188.7 359.9h.9M187.5 360.3h.9M192.2 350.1h.9M191.4 348.9h.9M188.7 358.6h.9M182.4 347.1h.9M183.0 353.6h.9M183.8 354.9h.9M162.3 341.5h.9M166.6 348.7h.9M164.1 339.9h.9M163.2 340.2h.9M163.0 350.8h.9M187.9 340.7h.9M187.7 331.8h.9M205.2 342.5h.9M197.2 342.6h.9M189.3 338.3h.9M193.9 340.0h.9M207.1 346.4h.9M200.1 342.9h.9M195.5 323.3h.9M189.7 331.2h.9M204.5 343.1h.9M206.4 343.7h.9M209.2 340.9h.9M189.8 338.3h.9M187.2 333.3h.9M189.2 329.9h.9M194.7 340.1h.9M199.3 323.7h.9M219.2 336.7h.9M187.6 332.2h.9M188.6 337.4h.9M189.6 327.1h.9M200.9 343.3h.9M185.8 335.9h.9M186.7 334.7h.9M199.6 341.5h.9M189.4 330.0h.9M187.7 333.6h.9M200.8 343.8h.9M198.2 343.5h.9M205.7 342.4h.9M214.9 341.7h.9M197.2 342.4h.9M186.4 330.7h.9M204.4 343.4h.9M186.6 339.2h.9M198.7 322.8h.9M192.6 326.0h.9M201.5 320.6h.9M207.9 341.5h.9M203.4 341.3h.9M206.2 340.6h.9M197.7 340.7h.9M189.8 329.7h.9M188.3 336.7h.9M214.0 339.9h.9M192.8 338.0h.9M198.1 342.5h.9M205.6 344.2h.9M195.3 322.7h.9M214.8 342.1h.9M215.9 319.5h.9M220.0 329.0h.9M195.2 323.3h.9M214.1 319.4h.9M198.5 323.0h.9M219.9 329.7h.9M192.8 325.5h.9M218.0 323.0h.9M186.7 330.7h.9M215.9 340.3h.9M220.1 326.6h.9M211.6 339.5h.9M204.7 319.7h.9M219.8 322.6h.9M210.5 317.9h.9M204.3 319.1h.9M219.8 337.4h.9M189.9 326.5h.9M217.7 336.6h.9M217.0 322.2h.9M215.5 319.5h.9M220.1 335.6h.9M186.2 336.8h.9M220.2 327.2h.9M218.4 330.1h.9M187.7 339.0h.9M204.5 318.9h.9M215.9 322.7h.9M219.0 334.8h.9M206.3 321.3h.9M215.5 318.9h.9M211.8 340.2h.9M220.4 335.5h.9M190.4 328.0h.9M219.4 331.7h.9M210.5 318.4h.9M194.1 326.0h.9M219.1 322.6h.9M215.7 318.1h.9M187.5 335.6h.9M195.2 325.8h.9M191.4 327.2h.9M219.6 323.7h.9M193.0 324.7h.9M217.6 323.0h.9M214.9 321.1h.9M198.5 322.9h.9M204.8 318.5h.9M213.0 343.3h.9M209.3 346.0h.9M206.5 344.9h.9M206.7 346.4h.9M215.6 343.2h.9M213.9 345.4h.9M208.3 342.7h.9M215.7 342.7h.9M207.9 347.1h.9M207.6 347.3h.9M212.8 349.8h.9M214.9 342.8h.9M214.1 345.7h.9M203.0 344.0h.9M173.4 346.6h.9M174.8 346.2h.9M174.9 346.0h.9M181.1 345.1h.9M173.0 346.9h.9M175.7 346.7h.9M167.5 344.5h.9M181.7 345.2h.9M172.9 346.6h.9M175.1 345.8h.9M173.1 346.2h.9" stroke="#1748eb" stroke-width=".9" opacity="0.58"/>
<path d="M186.7 342.6h.9M184.4 343.3h.9M186.1 341.9h.9M187.6 358.1h.9M182.7 348.9h.9M183.1 352.7h.9M185.5 340.5h.9M191.1 350.5h.9M187.0 343.1h.9M179.2 343.6h.9M185.9 341.2h.9M190.9 348.9h.9M184.8 342.9h.9M182.9 348.2h.9M186.9 358.3h.9M185.5 341.4h.9M185.4 357.4h.9M190.4 346.9h.9M188.8 344.4h.9M190.8 355.7h.9M183.3 346.2h.9M189.5 344.7h.9M184.2 355.1h.9M184.1 355.8h.9M184.3 356.6h.9M185.4 342.2h.9M184.3 356.7h.9M191.5 354.0h.9M165.9 350.8h.9M165.2 340.2h.9M162.6 343.9h.9M166.5 343.0h.9M206.6 339.3h.9M203.2 340.1h.9M188.8 334.1h.9M211.0 339.2h.9M213.2 338.8h.9M195.7 339.6h.9M190.1 334.7h.9M202.4 342.6h.9M201.6 341.6h.9M196.1 326.1h.9M190.3 333.9h.9M201.4 342.5h.9M202.5 341.3h.9M216.3 339.8h.9M210.9 343.4h.9M198.4 340.3h.9M202.3 342.0h.9M200.8 341.4h.9M213.9 339.0h.9M204.3 320.8h.9M198.5 340.1h.9M196.5 339.9h.9M209.0 338.9h.9M200.5 323.1h.9M214.4 335.4h.9M190.9 327.1h.9M188.9 333.8h.9M209.7 342.9h.9M201.8 342.8h.9M189.5 332.6h.9M189.7 334.5h.9M207.0 339.9h.9M186.7 336.0h.9M186.2 335.7h.9M186.3 336.4h.9M187.1 338.3h.9M210.8 319.7h.9M193.1 327.3h.9M214.2 339.5h.9M207.3 344.2h.9M200.1 341.3h.9M201.1 325.3h.9M205.6 339.9h.9M189.3 335.9h.9M203.2 341.5h.9M207.4 338.0h.9M208.7 344.9h.9M195.1 339.0h.9M193.5 325.7h.9M215.6 338.7h.9M215.1 339.9h.9M193.3 325.8h.9M187.6 337.8h.9M189.9 330.3h.9M210.1 340.0h.9M218.2 335.8h.9M204.8 339.5h.9M206.9 338.2h.9M198.5 340.5h.9M208.9 340.6h.9M201.1 322.3h.9M216.6 323.8h.9M217.1 324.7h.9M199.1 324.9h.9M214.6 336.1h.9M191.9 337.3h.9M195.7 326.9h.9M214.4 321.0h.9M204.2 320.2h.9M209.9 320.6h.9M208.3 337.2h.9M187.1 338.3h.9M215.6 323.7h.9M219.8 326.3h.9M212.8 335.6h.9M209.5 322.0h.9M215.7 336.6h.9M218.7 335.4h.9M209.7 319.9h.9M214.5 336.4h.9M219.2 333.1h.9M219.6 336.2h.9M187.5 338.2h.9M219.3 332.3h.9M208.8 322.2h.9M219.4 336.2h.9M209.6 319.3h.9M202.3 320.7h.9M210.6 319.3h.9M219.2 333.4h.9M219.4 332.6h.9M214.2 337.7h.9M217.2 336.1h.9M203.1 320.6h.9M215.9 336.9h.9M214.6 337.8h.9M214.8 337.8h.9M217.5 324.5h.9M201.2 322.7h.9M205.7 321.9h.9M189.8 333.0h.9M190.3 336.5h.9M201.5 325.0h.9M216.5 336.3h.9M213.6 319.6h.9M210.1 344.1h.9M211.4 318.9h.9M216.3 339.8h.9M200.7 323.0h.9M218.9 326.5h.9M215.2 337.6h.9M213.2 337.5h.9M219.0 329.0h.9M209.7 319.6h.9M202.6 321.1h.9M190.0 327.5h.9M213.0 337.4h.9M192.8 327.2h.9M212.4 319.3h.9M190.5 329.7h.9M200.7 322.5h.9M197.7 325.9h.9M200.1 322.6h.9M219.3 325.8h.9M217.5 324.8h.9M202.2 321.7h.9M188.6 335.3h.9M216.2 339.2h.9M188.8 334.9h.9M209.7 346.5h.9M210.0 343.3h.9M210.3 342.7h.9M208.1 343.3h.9M209.6 348.6h.9M209.0 343.3h.9M208.6 344.7h.9M212.9 346.3h.9M209.6 344.6h.9M207.4 344.2h.9M210.2 348.8h.9M212.6 348.1h.9M211.8 348.9h.9M184.3 356.1h.9M191.2 327.5h.9M179.7 343.7h.9M179.9 344.3h.9M179.6 345.4h.9M178.9 345.0h.9M178.8 344.5h.9M178.2 344.6h.9" stroke="#0d66eb" stroke-width=".9" opacity="0.66"/>
<path d="M183.4 347.1h.9M190.0 355.7h.9M190.8 354.4h.9M183.0 347.2h.9M186.8 343.8h.9M191.1 353.2h.9M184.7 343.6h.9M189.1 356.4h.9M187.5 344.9h.9M183.5 352.1h.9M190.8 354.7h.9M191.2 353.6h.9M184.7 355.3h.9M189.8 345.7h.9M179.3 344.2h.9M186.9 343.7h.9M179.3 344.5h.9M190.7 347.7h.9M190.5 351.4h.9M191.3 353.0h.9M184.8 355.5h.9M183.6 344.8h.9M190.6 348.6h.9M166.3 348.7h.9M165.2 351.1h.9M165.0 340.8h.9M164.0 340.7h.9M162.3 346.9h.9M163.2 348.6h.9M165.7 351.0h.9M164.2 350.7h.9M165.6 351.5h.9M164.9 351.3h.9M164.2 350.8h.9M162.4 345.8h.9M164.4 350.5h.9M162.1 346.7h.9M205.8 338.4h.9M205.9 339.5h.9M192.1 328.7h.9M201.9 339.2h.9M218.5 326.2h.9M207.9 333.9h.9M196.6 338.8h.9M191.7 330.6h.9M207.6 339.2h.9M217.3 335.9h.9M207.1 336.5h.9M193.0 336.8h.9M212.2 335.7h.9M192.2 334.4h.9M198.8 337.7h.9M204.7 339.1h.9M191.9 329.9h.9M197.9 338.3h.9M196.5 339.4h.9M190.9 332.4h.9M202.3 340.8h.9M191.8 329.6h.9M207.1 336.2h.9M208.4 339.9h.9M199.4 337.9h.9M207.6 339.1h.9M191.5 333.4h.9M195.0 338.1h.9M211.0 333.7h.9M208.1 333.8h.9M195.8 328.0h.9M196.6 326.9h.9M193.0 327.7h.9M208.7 335.0h.9M212.4 337.7h.9M210.4 333.3h.9M191.2 334.8h.9M190.5 332.0h.9M202.9 324.7h.9M199.6 339.9h.9M195.4 328.2h.9M195.6 338.8h.9M189.9 336.1h.9M197.8 327.3h.9M192.7 337.1h.9M212.0 338.4h.9M204.5 321.8h.9M208.0 339.5h.9M208.6 336.6h.9M199.4 339.9h.9M193.9 337.4h.9M189.4 345.7h.9M210.5 338.3h.9M194.3 328.1h.9M196.6 339.5h.9M208.9 325.7h.9M209.0 339.4h.9M209.0 332.6h.9M192.6 333.2h.9M196.9 338.7h.9M206.8 337.3h.9M201.8 340.3h.9M191.5 332.5h.9M208.9 334.4h.9M198.5 339.2h.9M212.4 347.2h.9M191.2 336.6h.9M213.4 338.5h.9M192.9 332.8h.9M210.8 338.3h.9M200.7 340.5h.9M208.4 336.5h.9M194.2 327.6h.9M209.4 333.8h.9M212.1 335.2h.9M207.6 336.3h.9M210.4 334.4h.9M191.7 336.9h.9M208.5 339.9h.9M217.7 330.7h.9M195.0 337.8h.9M201.9 325.1h.9M192.3 335.2h.9M208.6 334.2h.9M199.7 325.8h.9M202.3 337.5h.9M202.0 340.5h.9M210.5 338.1h.9M201.5 325.3h.9M191.2 332.1h.9M209.0 334.6h.9M193.0 336.9h.9M198.0 338.7h.9M209.2 339.4h.9M218.8 328.5h.9M212.1 319.6h.9M218.0 332.9h.9M217.3 334.7h.9M205.8 322.7h.9M212.3 334.6h.9M198.4 339.1h.9M218.1 327.7h.9M212.9 320.9h.9M212.8 338.3h.9M197.4 326.1h.9M207.8 322.6h.9M197.8 327.2h.9M210.8 338.2h.9M208.2 326.3h.9M197.7 328.2h.9M218.7 332.1h.9M198.1 326.4h.9M215.0 324.0h.9M217.8 330.7h.9M190.8 333.3h.9M191.4 331.2h.9M215.5 325.4h.9M192.9 337.4h.9M210.9 334.5h.9M213.2 320.2h.9M216.5 325.1h.9M215.5 325.0h.9M211.2 334.0h.9M215.6 335.3h.9M218.8 328.4h.9M192.1 328.8h.9M203.3 322.8h.9M216.1 335.4h.9M192.6 334.2h.9M202.8 325.0h.9M190.5 332.7h.9M196.7 327.0h.9M215.1 325.1h.9M219.1 328.4h.9M214.8 322.4h.9M219.1 328.7h.9M203.3 321.1h.9M219.3 328.2h.9M217.1 332.2h.9M212.3 319.6h.9M202.9 325.7h.9M208.7 329.1h.9M218.2 329.4h.9M208.1 322.9h.9M198.1 325.6h.9M217.6 333.7h.9M205.3 322.8h.9M203.1 322.8h.9M204.5 321.8h.9M215.0 335.1h.9M189.6 335.9h.9M204.4 321.1h.9M192.2 331.0h.9M206.0 322.2h.9M196.1 327.3h.9M191.6 332.4h.9M214.3 322.0h.9M201.9 322.6h.9M217.2 334.8h.9M191.4 333.1h.9M206.6 322.8h.9M215.4 325.5h.9M202.8 322.4h.9M217.9 332.1h.9M216.4 335.3h.9M204.8 321.8h.9M209.2 343.8h.9M209.9 347.9h.9M212.8 344.4h.9M212.1 348.2h.9M211.6 345.6h.9M210.9 348.8h.9M210.5 348.0h.9M213.1 345.5h.9M211.3 345.0h.9M212.0 345.6h.9M210.6 346.5h.9M212.4 347.1h.9M213.2 345.7h.9M209.8 347.0h.9M211.5 347.3h.9M212.4 344.5h.9M211.5 347.3h.9M210.5 345.9h.9M210.2 348.5h.9M210.5 345.3h.9M212.8 344.5h.9M209.1 343.5h.9M211.4 344.0h.9M209.7 347.1h.9M211.4 348.1h.9M210.5 348.1h.9M209.9 346.9h.9M184.1 344.2h.9M183.6 345.1h.9M178.4 344.9h.9M184.6 343.4h.9" stroke="#0383eb" stroke-width=".9" opacity="0.75"/>
<path d="M183.9 348.9h.9M190.4 353.6h.9M185.3 354.4h.9M189.4 355.2h.9M186.6 357.4h.9M186.4 356.2h.9M185.9 344.0h.9M185.7 343.7h.9M189.6 355.4h.9M186.3 356.8h.9M190.4 348.6h.9M190.2 348.0h.9M184.3 352.6h.9M188.9 345.4h.9M186.4 357.2h.9M186.3 356.7h.9M190.2 347.6h.9M189.5 346.1h.9M190.4 349.0h.9M187.0 357.3h.9M183.8 347.3h.9M186.8 357.4h.9M186.7 344.3h.9M187.8 357.4h.9M190.3 354.0h.9M189.5 347.9h.9M162.6 347.1h.9M166.2 347.4h.9M165.0 341.3h.9M163.4 341.9h.9M163.2 343.8h.9M165.8 349.9h.9M165.0 350.6h.9M163.4 341.7h.9M162.7 345.9h.9M163.1 341.6h.9M164.9 341.1h.9M205.6 336.5h.9M195.1 337.3h.9M216.8 333.9h.9M205.2 338.4h.9M195.4 337.2h.9M200.8 338.5h.9M200.6 339.3h.9M211.0 334.6h.9M193.7 335.9h.9M214.3 334.3h.9M191.9 335.8h.9M192.7 329.4h.9M197.6 337.4h.9M215.7 334.4h.9M200.7 337.3h.9M195.3 330.3h.9M199.3 338.5h.9M203.5 339.2h.9M196.0 330.3h.9M197.3 337.5h.9M208.6 327.9h.9M193.8 335.2h.9M209.5 336.0h.9M191.7 336.0h.9M201.1 337.6h.9M201.3 339.5h.9M202.9 337.8h.9M196.0 327.9h.9M207.1 334.0h.9M209.6 335.7h.9M212.5 333.2h.9M192.6 331.4h.9M206.4 336.4h.9M207.5 334.3h.9M206.4 336.0h.9M208.9 327.9h.9M193.7 334.1h.9M194.0 336.4h.9M201.4 326.1h.9M193.9 328.5h.9M217.7 326.1h.9M215.6 331.6h.9M200.7 338.9h.9M201.3 338.6h.9M204.5 338.8h.9M202.7 337.5h.9M199.1 325.7h.9M192.8 329.2h.9M200.8 339.9h.9M209.5 335.7h.9M197.2 329.8h.9M207.7 329.8h.9M207.4 334.7h.9M212.6 344.5h.9M209.5 336.8h.9M198.6 336.3h.9M201.1 337.1h.9M199.6 339.0h.9M210.1 332.0h.9M210.0 337.2h.9M192.0 336.3h.9M205.5 337.4h.9M191.2 335.9h.9M195.4 337.1h.9M211.3 337.1h.9M212.0 332.8h.9M193.9 335.7h.9M201.3 339.6h.9M200.6 337.5h.9M193.1 334.5h.9M199.2 325.9h.9M209.7 332.4h.9M200.3 338.3h.9M196.7 328.9h.9M213.6 334.2h.9M193.0 332.4h.9M204.6 324.6h.9M201.1 336.9h.9M199.7 337.0h.9M198.0 336.7h.9M204.8 338.9h.9M208.7 336.1h.9M191.6 335.6h.9M203.3 324.5h.9M190.8 335.8h.9M202.4 338.4h.9M203.4 338.5h.9M202.8 326.0h.9M199.0 339.0h.9M203.4 338.9h.9M193.2 328.8h.9M210.0 335.2h.9M203.9 323.7h.9M211.9 336.4h.9M193.3 331.7h.9M191.0 336.5h.9M208.8 336.3h.9M206.4 325.0h.9M210.0 322.5h.9M212.4 333.8h.9M216.7 333.4h.9M204.0 326.4h.9M205.1 325.5h.9M207.6 326.6h.9M216.4 334.0h.9M209.3 336.9h.9M217.0 332.8h.9M217.6 328.6h.9M208.5 323.2h.9M207.3 323.8h.9M195.0 330.0h.9M203.8 323.9h.9M211.6 334.4h.9M208.2 328.2h.9M203.0 323.3h.9M205.4 325.4h.9M202.9 323.9h.9M215.0 332.4h.9M197.1 329.3h.9M199.7 326.2h.9M195.4 328.6h.9M213.0 321.8h.9M214.8 323.2h.9M195.8 328.0h.9M198.1 326.6h.9M212.0 344.7h.9M215.2 333.5h.9M205.7 323.0h.9M210.9 337.6h.9M215.6 326.7h.9M212.5 320.7h.9M212.3 320.8h.9M211.9 334.0h.9M214.8 323.7h.9M217.0 325.6h.9M206.5 323.3h.9M204.5 324.8h.9M215.2 333.6h.9M216.8 333.2h.9M217.6 333.4h.9M211.8 336.5h.9M203.2 323.7h.9M208.8 324.6h.9M208.0 325.3h.9M212.3 320.2h.9M196.5 329.3h.9M217.1 332.6h.9M208.2 324.9h.9M214.6 325.3h.9M203.8 326.5h.9M217.5 326.4h.9M205.3 323.8h.9M196.0 328.1h.9M215.2 332.0h.9M218.1 326.4h.9M213.8 334.1h.9M203.2 324.0h.9M217.8 332.6h.9M214.8 323.1h.9M215.6 326.6h.9M204.5 323.9h.9M217.6 326.3h.9M206.5 325.3h.9M212.8 333.5h.9M198.3 329.4h.9M196.7 328.6h.9M200.7 326.8h.9M213.8 333.9h.9M199.1 325.8h.9M195.9 337.7h.9M216.4 334.3h.9M215.9 333.5h.9M203.6 324.5h.9M211.8 320.8h.9M214.2 322.8h.9M212.3 320.7h.9M192.1 329.7h.9M191.3 336.0h.9M211.6 332.9h.9M217.1 328.4h.9M210.8 321.7h.9M211.0 321.2h.9M203.9 323.6h.9M195.7 330.0h.9M213.2 333.4h.9M212.2 344.7h.9M212.9 345.0h.9M211.8 344.8h.9M216.3 332.6h.9M202.5 338.5h.9M184.7 344.0h.9" stroke="#07a1c1" stroke-width=".9" opacity="0.83"/>
<path d="M189.2 346.2h.9M189.2 355.2h.9M184.2 352.4h.9M187.5 356.1h.9M187.9 356.3h.9M185.0 344.2h.9M188.8 345.9h.9M189.1 346.1h.9M186.6 344.7h.9M186.9 345.4h.9M189.2 355.4h.9M187.8 356.7h.9M187.9 356.2h.9M185.6 344.3h.9M184.3 346.5h.9M186.4 356.4h.9M190.0 352.7h.9M188.3 345.6h.9M186.5 356.8h.9M187.3 356.7h.9M189.9 354.3h.9M188.5 346.3h.9M189.2 347.3h.9M190.3 352.8h.9M189.4 353.6h.9M189.7 348.7h.9M165.2 342.4h.9M163.0 342.0h.9M165.2 341.9h.9M164.6 341.3h.9M166.1 346.8h.9M163.2 344.7h.9M165.3 350.4h.9M164.2 349.5h.9M166.4 344.4h.9M165.9 344.6h.9M165.9 346.0h.9M163.8 348.8h.9M165.3 350.3h.9M164.7 349.6h.9M206.8 334.9h.9M206.9 334.3h.9M206.4 332.8h.9M201.3 333.7h.9M193.9 332.9h.9M210.0 328.6h.9M211.7 332.0h.9M193.9 334.1h.9M197.1 336.0h.9M212.8 328.4h.9M202.1 326.8h.9M200.7 336.3h.9M193.9 334.4h.9M204.0 328.7h.9M202.7 330.5h.9M207.1 332.2h.9M195.4 334.8h.9M213.7 333.0h.9M206.5 334.4h.9M203.4 336.6h.9M193.3 330.5h.9M214.8 331.5h.9M196.5 337.0h.9M216.5 329.4h.9M204.4 337.3h.9M200.3 336.8h.9M206.5 329.4h.9M206.2 335.9h.9M203.0 335.9h.9M210.8 336.5h.9M203.5 338.5h.9M217.4 326.6h.9M207.4 326.7h.9M197.1 330.5h.9M193.6 331.3h.9M210.6 336.8h.9M204.8 326.7h.9M199.5 336.4h.9M195.8 335.7h.9M203.8 330.8h.9M203.3 338.0h.9M203.5 330.7h.9M203.5 329.0h.9M206.5 333.8h.9M206.0 335.3h.9M208.5 323.7h.9M204.5 331.7h.9M195.8 336.2h.9M205.0 332.8h.9M200.9 336.4h.9M206.8 332.7h.9M193.7 329.1h.9M195.1 336.8h.9M195.5 336.5h.9M195.1 335.6h.9M210.4 336.0h.9M203.6 336.8h.9M198.5 328.5h.9M210.5 336.3h.9M203.5 337.7h.9M196.8 334.1h.9M195.8 335.5h.9M195.5 336.4h.9M198.0 336.1h.9M204.2 337.6h.9M206.0 326.5h.9M196.3 332.5h.9M197.5 336.3h.9M214.3 332.8h.9M201.8 330.2h.9M210.8 329.2h.9M206.7 332.5h.9M203.8 337.2h.9M204.5 338.4h.9M203.1 329.9h.9M201.9 329.8h.9M204.9 331.1h.9M194.5 330.4h.9M210.4 336.7h.9M194.2 329.3h.9M198.0 336.4h.9M202.3 329.7h.9M197.3 336.7h.9M194.1 335.3h.9M207.7 328.3h.9M205.9 323.9h.9M202.9 335.6h.9M204.2 338.8h.9M198.6 335.1h.9M211.0 336.5h.9M204.6 331.8h.9M194.2 329.2h.9M204.6 330.9h.9M193.6 331.7h.9M209.6 326.7h.9M207.2 326.6h.9M196.9 336.1h.9M205.8 331.4h.9M208.2 332.5h.9M195.3 335.9h.9M203.4 327.5h.9M199.7 326.8h.9M206.3 325.2h.9M212.8 326.7h.9M203.5 330.0h.9M206.3 335.6h.9M204.5 337.1h.9M194.9 335.3h.9M206.2 335.4h.9M211.7 332.3h.9M209.7 327.3h.9M199.0 326.7h.9M194.2 334.7h.9M203.2 330.5h.9M194.3 329.1h.9M214.0 326.1h.9M209.8 327.8h.9M216.9 328.7h.9M203.3 329.1h.9M213.9 332.8h.9M211.9 321.8h.9M211.6 330.1h.9M214.2 326.5h.9M212.3 328.9h.9M215.5 327.8h.9M207.2 324.0h.9M209.5 325.5h.9M206.8 324.0h.9M203.9 330.1h.9M212.0 326.8h.9M215.0 327.6h.9M215.9 328.3h.9M216.7 326.6h.9M211.1 329.4h.9M216.6 327.4h.9M201.5 326.7h.9M216.6 328.2h.9M208.3 324.1h.9M196.4 333.8h.9M217.4 327.4h.9M212.8 328.9h.9M201.9 326.3h.9M196.4 333.6h.9M209.4 329.5h.9M212.7 327.3h.9M211.8 322.4h.9M206.5 326.6h.9M193.2 330.7h.9M206.1 324.5h.9M209.0 330.2h.9M216.7 326.8h.9M199.3 327.0h.9M216.9 326.9h.9M216.6 327.0h.9M193.7 331.4h.9M202.3 330.1h.9M194.3 331.6h.9M212.1 321.2h.9M214.4 333.8h.9M194.7 329.1h.9M194.4 329.8h.9M202.0 326.7h.9M212.3 330.2h.9M212.3 330.2h.9M204.7 327.0h.9M193.1 329.7h.9M211.4 331.7h.9M211.3 336.7h.9M214.7 334.0h.9M195.8 334.9h.9M195.5 333.4h.9M210.7 322.3h.9M213.4 322.9h.9M208.2 330.1h.9M201.8 329.8h.9M211.5 328.9h.9M194.3 333.4h.9M200.2 327.1h.9M207.2 328.5h.9M211.0 328.3h.9M208.1 323.9h.9M200.0 336.5h.9M207.3 326.9h.9M203.5 327.5h.9M210.4 328.7h.9M213.4 333.3h.9M208.0 324.0h.9M217.5 326.8h.9M208.5 324.1h.9M210.8 336.5h.9M216.9 328.9h.9M216.9 330.5h.9M193.2 329.7h.9M214.7 333.9h.9M193.1 330.1h.9M205.6 324.8h.9M211.6 331.8h.9M214.7 332.2h.9M200.6 327.4h.9M215.0 327.8h.9M209.6 327.4h.9M194.9 336.2h.9M206.2 325.3h.9M206.0 324.3h.9M212.3 322.3h.9M207.3 324.6h.9M208.0 332.1h.9M197.2 332.8h.9M194.1 331.0h.9M206.1 325.0h.9M208.5 323.7h.9M211.7 327.8h.9M214.5 326.7h.9M211.9 327.9h.9M202.8 326.6h.9M202.0 326.9h.9M211.1 322.5h.9M215.2 327.0h.9M202.6 330.6h.9M193.5 330.1h.9M204.4 327.2h.9M212.4 321.5h.9M211.4 329.7h.9M205.3 324.3h.9M210.6 329.0h.9M212.4 331.7h.9M206.4 323.9h.9M211.6 332.4h.9M166.0 344.7h.9M184.4 345.9h.9" stroke="#11c185" stroke-width=".9" opacity="0.91"/>
<path d="M188.8 346.5h.9M190.1 351.9h.9M190.3 351.6h.9M188.9 348.4h.9M184.8 345.8h.9M188.3 355.6h.9M187.5 355.6h.9M184.3 348.5h.9M183.9 350.9h.9M188.0 346.9h.9M188.0 346.1h.9M186.7 355.6h.9M184.8 345.4h.9M189.1 354.4h.9M186.0 344.7h.9M184.0 347.6h.9M184.3 350.0h.9M188.3 347.0h.9M184.3 351.3h.9M165.2 348.6h.9M165.8 343.6h.9M165.3 349.4h.9M165.6 347.8h.9M163.6 342.2h.9M163.6 341.8h.9M165.4 348.7h.9M163.8 343.8h.9M163.4 343.4h.9M164.5 342.5h.9M163.7 344.9h.9M164.8 342.0h.9M164.3 348.6h.9M163.6 341.9h.9M165.6 343.6h.9M164.8 341.9h.9M164.7 342.2h.9M164.0 348.9h.9M164.9 349.1h.9M163.0 347.8h.9M164.6 349.1h.9M165.2 348.7h.9M163.6 343.2h.9M163.7 342.5h.9M165.6 344.0h.9M164.0 341.9h.9M164.5 349.5h.9M213.9 329.7h.9M197.3 335.2h.9M197.1 332.4h.9M200.6 329.8h.9M198.9 327.5h.9M196.4 330.5h.9M204.4 329.2h.9M199.6 335.8h.9M206.0 333.6h.9M197.6 333.0h.9M194.7 333.7h.9M208.6 331.2h.9M201.9 328.4h.9M199.8 327.6h.9M201.2 335.2h.9M204.8 335.1h.9M201.9 335.3h.9M204.0 331.7h.9M203.3 335.0h.9M209.6 331.7h.9M202.2 335.4h.9M194.8 332.4h.9M204.2 329.1h.9M200.4 329.3h.9M210.8 331.4h.9M199.9 328.7h.9M199.7 335.5h.9M200.4 334.6h.9M213.9 331.6h.9M202.4 328.2h.9M199.4 335.1h.9M205.0 335.3h.9M203.9 335.6h.9M207.1 332.0h.9M200.1 331.5h.9M199.9 334.2h.9M209.0 331.8h.9M195.0 333.8h.9M205.3 335.3h.9M201.9 328.0h.9M206.0 333.4h.9M197.3 336.0h.9M207.4 331.1h.9M200.4 328.1h.9M204.4 335.9h.9M202.3 328.5h.9M202.1 334.8h.9M201.0 335.5h.9M198.4 333.0h.9M200.7 331.3h.9M201.6 333.1h.9M197.2 331.3h.9M206.0 333.1h.9M194.9 332.4h.9M198.5 333.4h.9M200.8 330.8h.9M206.3 333.3h.9M201.0 331.9h.9M198.1 330.3h.9M199.7 334.2h.9M199.9 334.4h.9M214.7 328.8h.9M196.7 335.6h.9M197.5 334.8h.9M197.2 334.4h.9M194.7 332.5h.9M199.7 333.4h.9M194.8 333.3h.9M205.5 334.8h.9M195.0 331.5h.9M207.0 331.2h.9M201.1 330.0h.9M210.0 325.3h.9M197.7 332.0h.9M201.2 332.1h.9M206.7 330.8h.9M201.4 331.8h.9M200.0 332.9h.9M202.0 335.2h.9M207.4 327.6h.9M202.5 331.8h.9M204.5 327.4h.9M202.4 327.1h.9M204.9 336.9h.9M214.2 327.1h.9M200.8 335.7h.9M216.6 330.0h.9M207.8 330.5h.9M200.9 335.2h.9M199.3 334.3h.9M204.7 328.5h.9M201.2 333.4h.9M201.4 335.0h.9M196.9 335.2h.9M198.1 332.8h.9M204.1 336.3h.9M197.1 332.1h.9M204.6 336.1h.9M197.5 333.8h.9M205.6 333.0h.9M194.8 334.4h.9M202.6 328.1h.9M206.8 330.9h.9M197.7 334.6h.9M201.3 332.0h.9M210.2 326.1h.9M194.6 331.6h.9M195.7 332.0h.9M204.6 336.2h.9M204.4 336.8h.9M210.4 330.1h.9M200.8 335.7h.9M194.8 332.1h.9M200.7 332.9h.9M199.0 327.9h.9M206.0 327.1h.9M203.6 336.4h.9M203.4 334.6h.9M197.3 335.2h.9M213.0 328.6h.9M199.0 329.3h.9M195.8 332.3h.9M204.1 336.2h.9M202.0 335.2h.9M211.1 330.9h.9M200.4 334.6h.9M208.5 331.3h.9M197.9 334.3h.9M210.7 328.4h.9M202.0 328.4h.9M198.3 335.1h.9M197.5 334.9h.9M198.1 333.5h.9M195.5 331.0h.9M198.8 329.7h.9M197.0 335.4h.9M213.6 331.2h.9M208.0 331.6h.9M200.0 335.8h.9M196.6 331.5h.9M201.4 334.6h.9M205.2 327.1h.9M207.6 330.8h.9M204.4 332.4h.9M207.3 328.4h.9M204.0 331.8h.9M195.1 332.0h.9M205.2 330.2h.9M196.9 331.3h.9M201.1 330.2h.9M216.7 329.6h.9M200.0 330.5h.9M184.3 347.8h.9M199.9 332.9h.9M195.0 331.7h.9M196.3 331.4h.9M199.9 334.8h.9M207.1 330.8h.9M200.9 332.2h.9M202.8 334.6h.9M195.3 334.0h.9M204.6 335.9h.9M213.1 331.5h.9M213.0 326.3h.9M213.6 325.2h.9M211.1 327.6h.9M206.0 330.1h.9M205.4 327.4h.9M210.6 327.1h.9M213.7 327.8h.9M215.1 330.0h.9M210.4 326.3h.9M216.1 329.6h.9M212.0 325.8h.9M202.1 328.1h.9M215.1 331.3h.9M210.6 330.0h.9M214.2 328.7h.9M213.3 330.1h.9M213.1 331.3h.9M213.3 328.0h.9M214.1 328.2h.9M214.2 331.1h.9M199.0 329.0h.9M206.9 328.1h.9M214.4 330.1h.9M213.2 326.3h.9M200.9 329.4h.9M210.7 327.0h.9M200.9 330.8h.9M210.9 328.3h.9M211.4 327.0h.9M214.4 330.5h.9M201.0 328.2h.9M207.3 328.2h.9M200.6 333.4h.9M207.3 327.2h.9M207.1 331.7h.9M202.3 331.7h.9M205.1 330.2h.9M194.7 334.2h.9M200.5 328.7h.9M215.0 330.9h.9M213.7 324.9h.9M214.0 327.4h.9M216.6 330.0h.9M202.4 328.7h.9M213.0 323.0h.9M196.4 331.4h.9M199.6 332.6h.9M213.5 323.5h.9M209.6 324.5h.9M213.4 331.7h.9M214.6 329.0h.9M196.9 330.7h.9M209.7 324.3h.9M214.4 329.6h.9M204.5 327.2h.9M196.1 332.0h.9M213.6 327.6h.9M197.4 334.0h.9M204.6 327.1h.9M215.3 329.8h.9M213.0 329.1h.9M212.7 330.5h.9M214.4 330.1h.9M216.4 331.0h.9M198.8 334.1h.9M214.5 331.3h.9M213.9 331.2h.9M203.1 331.2h.9M202.4 328.4h.9M213.4 324.8h.9M199.9 332.7h.9M197.2 330.6h.9M213.6 323.2h.9M198.5 329.5h.9M211.5 326.5h.9M204.5 327.7h.9M216.8 330.2h.9M201.0 332.3h.9M199.0 328.3h.9M215.5 330.5h.9M214.2 327.0h.9M209.8 331.9h.9M209.8 330.5h.9M210.4 327.5h.9M208.4 331.9h.9M199.4 328.1h.9M209.9 325.8h.9M210.3 330.2h.9M214.1 328.2h.9M201.6 327.9h.9M205.8 327.1h.9M194.6 334.0h.9M215.9 329.7h.9M213.5 323.4h.9M215.9 330.9h.9M195.9 331.5h.9M213.6 327.5h.9M212.7 329.5h.9M213.9 327.2h.9M216.6 330.3h.9M213.8 330.1h.9M213.1 331.2h.9M199.0 333.4h.9M213.5 324.4h.9M198.8 333.8h.9M212.7 330.5h.9M210.0 327.4h.9M202.0 327.3h.9M195.7 331.7h.9M203.3 328.0h.9M201.2 330.3h.9M214.8 327.9h.9M198.3 334.7h.9M212.1 331.2h.9M216.3 329.1h.9M209.7 323.1h.9M210.2 322.8h.9M210.5 331.2h.9M199.2 335.4h.9M216.3 330.7h.9M213.0 331.4h.9M213.3 326.4h.9M204.4 327.9h.9M200.5 328.0h.9M212.9 326.5h.9M211.2 326.1h.9M212.7 329.7h.9M211.4 322.9h.9M210.0 327.7h.9" stroke="#36ce55" stroke-width=".9" opacity="0.99"/>
<path d="M184.6 346.9h.9M185.2 345.1h.9M189.8 352.2h.9M184.7 346.9h.9M186.7 355.3h.9M185.1 345.1h.9M188.4 355.4h.9M186.9 345.8h.9M188.0 347.5h.9M188.3 355.3h.9M186.8 345.2h.9M187.8 355.4h.9M188.7 355.0h.9M185.1 353.1h.9M189.2 349.1h.9M186.8 355.3h.9M184.7 352.3h.9M187.3 345.5h.9M164.6 343.0h.9M164.2 342.7h.9M164.0 344.5h.9M165.0 343.9h.9M165.9 344.1h.9M163.0 346.4h.9M163.8 345.4h.9M163.2 347.5h.9M165.8 347.3h.9M163.3 345.7h.9M165.4 345.0h.9M164.0 342.5h.9M164.4 348.4h.9M163.3 345.6h.9M165.6 344.5h.9M163.3 346.6h.9M164.2 348.3h.9M164.4 344.4h.9M164.5 343.5h.9M165.5 344.6h.9M165.4 345.7h.9M165.7 346.2h.9M164.5 343.3h.9M165.6 346.7h.9M164.5 343.1h.9M205.3 334.1h.9M202.4 333.0h.9M205.9 330.2h.9M206.0 327.5h.9M209.8 331.2h.9M210.0 330.9h.9M212.6 325.1h.9M210.1 324.8h.9M199.5 328.4h.9M209.8 330.6h.9M199.8 328.0h.9M203.1 331.9h.9M204.2 333.2h.9M209.5 330.7h.9M205.8 330.3h.9M204.3 334.4h.9M204.9 329.5h.9M198.3 330.9h.9M199.8 331.2h.9M204.2 333.3h.9M210.2 330.9h.9M203.5 333.7h.9M203.5 332.4h.9M199.8 331.1h.9M207.4 331.5h.9M205.8 329.6h.9M198.2 331.9h.9M203.2 331.9h.9M206.2 328.4h.9M205.8 330.2h.9M207.8 331.4h.9M207.2 327.7h.9M202.0 333.8h.9M202.2 332.1h.9M202.3 333.2h.9M198.3 331.7h.9M206.9 328.3h.9M208.3 331.1h.9M205.9 328.8h.9M205.2 329.3h.9M205.3 333.9h.9M207.5 331.3h.9M202.7 334.3h.9M205.1 335.0h.9M213.6 328.7h.9M202.0 333.4h.9M203.7 333.7h.9M204.6 333.8h.9M205.0 334.2h.9M204.6 334.4h.9M203.7 334.2h.9M204.7 333.6h.9M199.8 328.2h.9M204.1 333.0h.9M205.1 329.2h.9M202.2 327.9h.9M208.4 331.2h.9M204.8 334.2h.9M202.3 334.3h.9M213.8 329.2h.9M205.4 333.9h.9M203.9 334.1h.9M205.8 334.5h.9M198.8 332.6h.9M199.2 331.8h.9M197.4 331.4h.9M206.9 328.3h.9M205.8 329.7h.9M211.7 324.7h.9M211.3 325.7h.9M212.7 325.4h.9M212.0 325.4h.9M210.8 330.7h.9M210.8 325.6h.9M210.2 330.8h.9M199.8 329.0h.9M211.3 326.0h.9M211.2 323.9h.9M206.6 327.7h.9M213.8 329.2h.9M206.4 328.1h.9M210.8 323.7h.9M210.5 323.2h.9M216.1 330.3h.9M210.3 323.4h.9M213.8 328.9h.9M212.6 325.1h.9M205.4 327.9h.9M198.2 331.7h.9M205.8 329.6h.9M209.9 324.3h.9M213.3 323.3h.9M211.4 323.3h.9M212.1 323.2h.9M212.7 325.5h.9M210.8 323.9h.9M210.1 323.4h.9M215.7 330.0h.9M205.7 328.9h.9M211.6 324.4h.9M211.5 324.8h.9M211.3 323.5h.9M210.7 323.3h.9M209.9 323.4h.9M205.1 328.0h.9M203.1 334.4h.9M199.2 330.4h.9M210.0 324.9h.9M211.0 325.2h.9M199.9 330.4h.9M205.6 329.8h.9M199.1 330.1h.9M210.9 324.2h.9M202.5 333.6h.9M210.8 326.4h.9M213.4 329.5h.9M207.4 327.8h.9M204.9 329.5h.9M201.8 332.5h.9M212.8 323.0h.9M210.9 325.3h.9M210.6 324.0h.9M210.1 325.0h.9M198.9 330.0h.9M212.4 323.1h.9M199.7 328.5h.9M210.1 331.1h.9M210.9 326.4h.9M198.9 333.0h.9M212.0 323.5h.9M213.2 324.7h.9M213.2 323.7h.9" stroke="#63d728" stroke-width=".9" opacity="1.00"/>
<path d="M189.4 349.7h.9M184.6 348.2h.9M188.6 349.0h.9M184.7 347.5h.9M185.2 345.6h.9M189.1 349.5h.9M187.1 346.4h.9M184.8 348.0h.9M187.9 347.9h.9M184.9 348.1h.9M189.8 351.6h.9M189.4 351.6h.9M184.5 351.8h.9M189.6 351.6h.9M188.2 347.6h.9M189.4 351.9h.9M188.4 347.5h.9M185.0 352.5h.9M188.6 348.8h.9M185.7 353.5h.9M188.3 354.6h.9M185.3 352.9h.9M184.7 351.8h.9M185.4 346.0h.9M188.8 354.3h.9M186.7 345.7h.9M184.6 347.9h.9M185.1 353.0h.9M165.1 344.6h.9M163.6 345.6h.9M164.7 348.1h.9M165.0 347.6h.9M164.4 345.0h.9M164.6 344.5h.9M164.6 344.7h.9M163.5 347.8h.9M165.0 344.2h.9M163.8 345.5h.9M198.6 331.0h.9M199.0 330.8h.9M199.1 330.7h.9M203.0 332.2h.9M198.7 331.6h.9M212.6 324.1h.9M198.8 331.1h.9M198.8 331.1h.9M203.2 332.7h.9M203.3 332.7h.9M203.7 332.5h.9M203.2 333.0h.9M203.2 332.8h.9M203.4 332.9h.9M199.9 330.9h.9M202.6 332.7h.9M213.1 324.1h.9M212.7 323.8h.9M198.6 331.6h.9M212.6 324.2h.9M199.2 331.3h.9M212.8 324.9h.9M202.5 333.0h.9M199.2 330.5h.9M199.5 330.5h.9M212.7 324.2h.9M212.7 324.7h.9M212.8 324.0h.9" stroke="#8fde0f" stroke-width=".9" opacity="1.00"/>
<path d="M186.3 354.0h.9M184.8 351.2h.9M185.9 354.1h.9M185.8 353.4h.9M188.0 348.2h.9M184.7 350.9h.9M186.9 346.4h.9M185.9 354.1h.9M189.2 350.4h.9M186.2 345.9h.9M186.8 346.1h.9M188.8 353.2h.9M185.6 345.8h.9M186.6 354.8h.9M184.6 351.3h.9M185.7 345.8h.9M185.6 346.3h.9M188.2 354.4h.9M184.8 350.2h.9M186.0 354.1h.9M188.5 353.2h.9M185.6 345.7h.9M185.6 345.6h.9M188.3 348.0h.9M185.9 346.0h.9M186.8 354.8h.9M185.7 345.7h.9M185.7 345.8h.9M186.4 354.7h.9M184.6 350.3h.9M165.0 345.5h.9M164.5 347.5h.9M163.5 347.1h.9M164.4 345.2h.9M163.7 346.0h.9M163.9 347.2h.9M165.0 345.3h.9M164.5 345.3h.9M165.3 346.8h.9M164.2 347.9h.9M165.3 347.0h.9M164.9 345.2h.9M164.8 345.3h.9M164.9 346.8h.9M165.3 347.3h.9M187.3 346.8h.9" stroke="#bae207" stroke-width=".9" opacity="1.00"/>
<path d="M189.3 351.8h.9M185.9 346.7h.9M185.0 352.4h.9M188.3 348.6h.9M185.6 346.7h.9M188.9 350.8h.9M186.6 346.8h.9M189.2 350.6h.9M189.4 351.6h.9M187.3 347.1h.9M189.0 350.5h.9M188.6 352.6h.9M189.1 350.9h.9M188.4 348.6h.9M187.4 347.1h.9M186.0 353.6h.9M188.8 349.1h.9M186.1 346.7h.9M164.2 346.1h.9M164.1 345.8h.9M164.5 345.9h.9M164.3 347.2h.9M163.9 345.8h.9M164.5 347.5h.9M164.3 347.3h.9M164.1 347.3h.9" stroke="#e5e500" stroke-width=".9" opacity="1.00"/>
<path d="M187.7 354.4h.9M188.4 352.2h.9M187.5 354.4h.9M188.2 353.8h.9M185.8 347.4h.9M189.4 351.5h.9M187.9 354.2h.9M185.3 349.0h.9M188.9 351.0h.9M185.6 352.8h.9M186.9 354.4h.9M185.7 347.0h.9M187.6 348.1h.9M187.6 348.4h.9M185.8 353.0h.9M188.1 353.8h.9M185.3 348.1h.9M188.9 352.1h.9M185.2 348.4h.9M186.8 354.4h.9M187.1 347.8h.9M186.8 354.4h.9M188.4 353.9h.9M164.3 346.6h.9M164.8 346.5h.9M164.7 346.8h.9M164.7 346.7h.9M164.3 346.8h.9M164.0 346.9h.9M164.7 346.5h.9M164.8 346.8h.9M164.3 346.9h.9M164.9 346.3h.9" stroke="#efc300" stroke-width=".9" opacity="1.00"/>
<path d="M185.6 352.2h.9M185.2 351.4h.9M186.2 347.0h.9M188.6 351.8h.9M185.4 349.8h.9M186.2 347.1h.9M188.6 350.4h.9M185.7 347.8h.9M186.0 353.5h.9M186.7 353.6h.9M186.8 353.5h.9M184.9 350.0h.9M188.8 350.1h.9M186.6 353.7h.9M185.2 351.3h.9M185.9 347.4h.9M186.2 347.5h.9M185.4 352.4h.9M185.9 348.0h.9" stroke="#f9a000" stroke-width=".9" opacity="1.00"/>
<path d="M187.3 353.9h.9M187.4 353.9h.9M185.7 348.2h.9M187.6 353.7h.9M188.9 350.8h.9M187.0 354.0h.9M187.0 348.3h.9M187.9 353.5h.9M186.0 347.8h.9M186.7 347.9h.9M186.8 347.6h.9M187.4 348.2h.9M188.5 351.4h.9M186.2 347.8h.9M185.2 350.2h.9M186.5 347.7h.9M186.2 347.5h.9M185.1 350.6h.9M187.1 348.4h.9M185.6 348.0h.9M185.6 348.3h.9M185.3 350.2h.9M185.9 347.8h.9M188.9 351.2h.9" stroke="#fa6d00" stroke-width=".9" opacity="1.00"/>
<path d="M187.5 353.0h.9M188.1 349.6h.9M185.6 350.2h.9M188.0 350.4h.9M188.2 350.2h.9M186.8 350.0h.9M187.4 349.9h.9M186.7 349.9h.9M186.9 349.7h.9M185.7 349.0h.9M186.0 349.9h.9M188.2 350.0h.9M187.3 351.1h.9M186.5 350.3h.9M186.8 348.9h.9M187.7 353.3h.9M187.0 349.9h.9M186.0 351.5h.9M187.5 351.1h.9M187.7 350.5h.9M187.2 352.0h.9M186.5 351.0h.9M187.3 350.4h.9M186.9 352.9h.9M186.0 350.0h.9M186.3 351.1h.9M188.1 350.6h.9M187.6 351.4h.9M186.2 351.5h.9M187.1 353.3h.9M187.0 351.9h.9M185.8 349.3h.9M187.2 349.3h.9M187.2 352.3h.9M186.1 350.7h.9M186.4 352.2h.9M187.1 349.1h.9M186.4 348.3h.9M188.2 350.3h.9M187.4 350.5h.9M186.5 352.2h.9M185.6 351.2h.9M186.9 351.8h.9M187.9 352.3h.9M185.5 350.6h.9M186.6 351.9h.9M185.6 348.6h.9M185.7 349.7h.9M187.5 352.8h.9M186.5 350.2h.9M187.0 351.8h.9M187.4 349.1h.9M188.2 352.3h.9M186.6 352.0h.9M186.6 351.2h.9M187.2 352.5h.9M186.6 352.4h.9M188.1 352.4h.9M187.1 350.5h.9M187.8 353.1h.9M186.5 350.0h.9M185.5 350.5h.9M186.2 349.1h.9M185.8 349.0h.9M185.9 348.8h.9M186.2 350.5h.9M186.9 352.5h.9M185.9 350.0h.9M188.3 352.1h.9M186.0 350.4h.9M186.9 353.0h.9M187.9 349.5h.9M187.3 350.9h.9M186.3 351.2h.9M186.6 352.1h.9M187.6 350.9h.9M186.3 349.7h.9M186.5 349.6h.9M186.6 351.3h.9M186.2 349.2h.9M185.7 349.5h.9M186.9 349.1h.9M185.6 348.7h.9M187.4 350.3h.9M185.5 351.2h.9M187.7 349.3h.9M187.8 350.6h.9M187.2 352.4h.9M186.3 349.1h.9M187.5 353.2h.9M186.7 348.3h.9M187.9 350.7h.9M186.8 353.2h.9M186.9 351.6h.9M186.7 350.0h.9M186.6 350.3h.9M185.7 348.7h.9M187.3 353.1h.9M186.2 351.4h.9M186.7 349.3h.9M185.6 350.8h.9M186.9 348.3h.9M188.2 351.7h.9M187.0 352.7h.9M188.3 349.7h.9M187.0 352.7h.9M185.6 350.5h.9M186.9 352.5h.9M186.6 352.2h.9M187.6 350.4h.9M187.8 350.5h.9M188.2 349.8h.9M185.7 351.4h.9M187.8 349.2h.9M186.4 350.7h.9M187.0 350.2h.9M186.1 349.0h.9M186.9 352.0h.9M187.8 352.0h.9M187.9 351.2h.9M185.9 348.4h.9M187.4 352.9h.9M186.3 349.8h.9M187.6 352.5h.9M187.5 350.8h.9M188.1 350.7h.9M187.4 353.4h.9M187.5 351.7h.9M187.8 352.3h.9M188.1 351.2h.9M186.2 349.9h.9M186.7 351.1h.9M186.8 350.8h.9M186.7 350.4h.9M187.1 349.1h.9M186.5 351.8h.9M187.6 351.0h.9M186.0 351.1h.9M187.2 349.2h.9M185.9 350.4h.9M186.5 350.3h.9M188.0 351.2h.9M186.9 352.1h.9M187.3 352.3h.9M185.5 350.8h.9M187.8 349.3h.9M187.7 351.1h.9M186.3 349.8h.9" stroke="#f02400" stroke-width=".9" opacity="1.00"/>
<rect x="160.40" y="294.50" width="78.30" height="71.80" fill="none" stroke="#8a9696" stroke-width="0.9"/>
<line x1="158.80" y1="314.10" x2="160.80" y2="314.10" stroke="#555" stroke-width="0.8"/>
<line x1="159.60" y1="308.50" x2="160.80" y2="308.50" stroke="#777" stroke-width="0.6"/>
<line x1="159.60" y1="305.23" x2="160.80" y2="305.23" stroke="#777" stroke-width="0.6"/>
<line x1="159.60" y1="302.90" x2="160.80" y2="302.90" stroke="#777" stroke-width="0.6"/>
<line x1="159.60" y1="301.10" x2="160.80" y2="301.10" stroke="#777" stroke-width="0.6"/>
<line x1="159.60" y1="299.63" x2="160.80" y2="299.63" stroke="#777" stroke-width="0.6"/>
<line x1="159.60" y1="298.38" x2="160.80" y2="298.38" stroke="#777" stroke-width="0.6"/>
<line x1="159.60" y1="297.30" x2="160.80" y2="297.30" stroke="#777" stroke-width="0.6"/>
<line x1="159.60" y1="296.35" x2="160.80" y2="296.35" stroke="#777" stroke-width="0.6"/>
<line x1="158.80" y1="332.70" x2="160.80" y2="332.70" stroke="#555" stroke-width="0.8"/>
<line x1="159.60" y1="327.10" x2="160.80" y2="327.10" stroke="#777" stroke-width="0.6"/>
<line x1="159.60" y1="323.83" x2="160.80" y2="323.83" stroke="#777" stroke-width="0.6"/>
<line x1="159.60" y1="321.50" x2="160.80" y2="321.50" stroke="#777" stroke-width="0.6"/>
<line x1="159.60" y1="319.70" x2="160.80" y2="319.70" stroke="#777" stroke-width="0.6"/>
<line x1="159.60" y1="318.23" x2="160.80" y2="318.23" stroke="#777" stroke-width="0.6"/>
<line x1="159.60" y1="316.98" x2="160.80" y2="316.98" stroke="#777" stroke-width="0.6"/>
<line x1="159.60" y1="315.90" x2="160.80" y2="315.90" stroke="#777" stroke-width="0.6"/>
<line x1="159.60" y1="314.95" x2="160.80" y2="314.95" stroke="#777" stroke-width="0.6"/>
<line x1="158.80" y1="351.30" x2="160.80" y2="351.30" stroke="#555" stroke-width="0.8"/>
<line x1="159.60" y1="345.70" x2="160.80" y2="345.70" stroke="#777" stroke-width="0.6"/>
<line x1="159.60" y1="342.43" x2="160.80" y2="342.43" stroke="#777" stroke-width="0.6"/>
<line x1="159.60" y1="340.10" x2="160.80" y2="340.10" stroke="#777" stroke-width="0.6"/>
<line x1="159.60" y1="338.30" x2="160.80" y2="338.30" stroke="#777" stroke-width="0.6"/>
<line x1="159.60" y1="336.83" x2="160.80" y2="336.83" stroke="#777" stroke-width="0.6"/>
<line x1="159.60" y1="335.58" x2="160.80" y2="335.58" stroke="#777" stroke-width="0.6"/>
<line x1="159.60" y1="334.50" x2="160.80" y2="334.50" stroke="#777" stroke-width="0.6"/>
<line x1="159.60" y1="333.55" x2="160.80" y2="333.55" stroke="#777" stroke-width="0.6"/>
<line x1="158.80" y1="369.90" x2="160.80" y2="369.90" stroke="#555" stroke-width="0.8"/>
<line x1="159.60" y1="364.30" x2="160.80" y2="364.30" stroke="#777" stroke-width="0.6"/>
<line x1="159.60" y1="361.03" x2="160.80" y2="361.03" stroke="#777" stroke-width="0.6"/>
<line x1="159.60" y1="358.70" x2="160.80" y2="358.70" stroke="#777" stroke-width="0.6"/>
<line x1="159.60" y1="356.90" x2="160.80" y2="356.90" stroke="#777" stroke-width="0.6"/>
<line x1="159.60" y1="355.43" x2="160.80" y2="355.43" stroke="#777" stroke-width="0.6"/>
<line x1="159.60" y1="354.18" x2="160.80" y2="354.18" stroke="#777" stroke-width="0.6"/>
<line x1="159.60" y1="353.10" x2="160.80" y2="353.10" stroke="#777" stroke-width="0.6"/>
<line x1="159.60" y1="352.15" x2="160.80" y2="352.15" stroke="#777" stroke-width="0.6"/>
<line x1="158.00" y1="365.30" x2="160.80" y2="365.30" stroke="#555" stroke-width="0.8"/>
<line x1="160.90" y1="367.90" x2="160.90" y2="365.90" stroke="#777" stroke-width="0.6"/>
<line x1="168.60" y1="367.10" x2="168.60" y2="365.90" stroke="#777" stroke-width="0.6"/>
<line x1="176.30" y1="367.10" x2="176.30" y2="365.90" stroke="#777" stroke-width="0.6"/>
<line x1="184.00" y1="367.10" x2="184.00" y2="365.90" stroke="#777" stroke-width="0.6"/>
<line x1="191.70" y1="367.90" x2="191.70" y2="365.90" stroke="#777" stroke-width="0.6"/>
<line x1="199.40" y1="367.10" x2="199.40" y2="365.90" stroke="#777" stroke-width="0.6"/>
<line x1="207.10" y1="367.10" x2="207.10" y2="365.90" stroke="#777" stroke-width="0.6"/>
<line x1="214.80" y1="367.10" x2="214.80" y2="365.90" stroke="#777" stroke-width="0.6"/>
<line x1="222.50" y1="367.90" x2="222.50" y2="365.90" stroke="#777" stroke-width="0.6"/>
<line x1="230.20" y1="367.10" x2="230.20" y2="365.90" stroke="#777" stroke-width="0.6"/>
<line x1="237.90" y1="367.10" x2="237.90" y2="365.90" stroke="#777" stroke-width="0.6"/>
<rect x="178.40" y="308.80" width="41.70" height="34.50" fill="none" stroke="#606060" stroke-width="0.85"/>
<rect x="161.90" y="338.50" width="7.80" height="17.00" fill="none" stroke="#606060" stroke-width="0.85"/>
<rect x="178.40" y="343.30" width="16.80" height="20.70" fill="none" stroke="#606060" stroke-width="0.85"/>
<rect x="195.20" y="343.30" width="24.90" height="13.70" fill="none" stroke="#606060" stroke-width="0.85"/>
<line x1="178.40" y1="343.30" x2="220.10" y2="343.30" stroke="#222" stroke-width="1.3"/>
<line x1="195.20" y1="343.30" x2="195.20" y2="364.00" stroke="#2a2a2a" stroke-width="1.1"/>
<text transform="translate(199.70,306.10) scale(1.100,1)" font-size="9.4" text-anchor="middle">51,0</text>
<text transform="translate(161.60,335.00) scale(1.100,1)" font-size="9.4">8,2</text>
<text transform="translate(221.90,355.30) scale(1.100,1)" font-size="9.4">5,4</text>
<text transform="translate(196.40,365.50) scale(1.100,1)" font-size="9.4">30,8</text>
<path d="M285.1 362.9h.9M282.3 362.5h.9M290.6 346.3h.9M283.3 360.9h.9M288.6 364.7h.9M289.9 356.9h.9M289.9 348.0h.9M285.4 364.1h.9M276.9 352.4h.9M266.2 336.7h.9M264.4 356.3h.9M267.3 347.3h.9M264.4 354.4h.9M311.9 315.4h.9M285.0 327.6h.9M288.7 327.0h.9M277.8 342.0h.9M295.4 317.8h.9M315.7 332.5h.9M317.1 320.2h.9M297.4 318.3h.9M316.2 321.6h.9M289.3 323.7h.9M317.2 324.3h.9M271.7 332.2h.9M292.4 342.7h.9M295.7 343.0h.9M316.5 337.9h.9M276.9 331.2h.9M284.6 321.0h.9M281.0 332.4h.9M302.7 341.0h.9M298.2 343.5h.9M305.3 342.0h.9M304.2 350.2h.9M298.7 341.6h.9M312.9 347.2h.9M309.7 342.3h.9M299.9 344.7h.9M322.6 339.1h.9M336.2 319.4h.9M336.9 320.1h.9M320.9 335.3h.9M320.3 336.7h.9M330.7 337.2h.9M333.9 329.8h.9M331.4 331.3h.9M322.5 328.2h.9M323.4 332.9h.9M332.5 339.0h.9M335.4 341.8h.9M334.6 340.9h.9M335.6 343.5h.9M336.9 329.7h.9M323.4 322.9h.9M331.6 324.7h.9M322.3 325.7h.9M327.2 326.2h.9M327.9 339.3h.9M325.0 325.9h.9M323.9 336.6h.9M325.9 337.1h.9M332.1 321.4h.9M332.3 328.5h.9M336.3 317.8h.9M334.4 331.1h.9M324.9 329.6h.9M320.3 342.9h.9M327.0 338.7h.9M328.3 316.6h.9M325.6 335.6h.9M329.3 343.8h.9M321.9 342.9h.9M324.6 340.4h.9M324.2 318.3h.9M328.6 318.0h.9M324.9 328.5h.9M318.9 302.4h.9M307.8 350.0h.9M309.6 306.1h.9M337.1 323.0h.9M316.8 352.5h.9M299.9 352.1h.9M327.9 341.1h.9M313.6 357.7h.9M265.6 296.8h.9M276.7 327.3h.9M265.8 325.6h.9M331.3 296.2h.9M326.3 315.5h.9M293.6 354.4h.9M285.2 298.6h.9M301.8 363.8h.9M278.3 335.9h.9M319.0 300.7h.9M270.7 341.0h.9M270.0 348.8h.9M278.1 346.2h.9M270.0 344.3h.9M274.7 341.3h.9M273.5 350.3h.9" stroke="#344dee" stroke-width=".9" opacity="0.42"/>
<path d="M278.5 343.2h.9M279.4 353.7h.9M290.1 343.3h.9M287.2 360.7h.9M280.1 357.7h.9M277.6 353.9h.9M278.3 352.6h.9M280.8 357.3h.9M286.2 360.6h.9M289.0 344.8h.9M287.2 360.6h.9M289.5 350.9h.9M278.9 354.6h.9M280.8 343.7h.9M280.6 339.0h.9M287.0 357.9h.9M278.4 356.6h.9M278.4 350.0h.9M278.8 355.0h.9M278.7 353.2h.9M288.1 360.5h.9M281.7 359.7h.9M280.1 357.0h.9M280.5 341.7h.9M284.7 360.2h.9M283.0 359.1h.9M289.3 353.2h.9M279.6 357.6h.9M280.3 356.0h.9M261.2 349.8h.9M264.7 338.8h.9M262.8 338.2h.9M262.8 336.2h.9M262.8 352.2h.9M263.1 354.5h.9M261.3 350.9h.9M263.0 357.5h.9M265.8 339.3h.9M264.1 352.8h.9M265.7 341.5h.9M263.2 335.5h.9M262.4 354.3h.9M261.3 339.2h.9M262.9 357.1h.9M266.1 338.6h.9M266.2 342.9h.9M261.0 341.1h.9M263.3 338.5h.9M314.0 336.1h.9M308.5 317.1h.9M291.8 322.3h.9M317.4 330.0h.9M282.5 333.0h.9M315.4 327.2h.9M307.2 339.0h.9M287.1 328.0h.9M320.0 327.6h.9M279.7 338.4h.9M315.7 325.4h.9M315.7 326.9h.9M307.7 317.5h.9M280.3 341.6h.9M316.4 340.1h.9M305.7 315.9h.9M302.7 318.3h.9M292.5 324.1h.9M308.9 316.3h.9M288.5 346.4h.9M281.5 334.6h.9M309.5 317.7h.9M317.6 329.0h.9M300.0 319.8h.9M315.4 322.8h.9M307.5 318.0h.9M281.0 341.3h.9M295.0 322.8h.9M312.1 341.2h.9M314.6 321.8h.9M283.5 331.3h.9M315.3 339.8h.9M284.7 330.0h.9M278.8 339.7h.9M300.0 320.5h.9M290.1 325.1h.9M316.6 324.5h.9M304.9 334.5h.9M280.2 336.2h.9M296.7 320.1h.9M319.2 330.3h.9M318.6 329.1h.9M295.9 321.3h.9M308.8 339.7h.9M292.0 322.4h.9M282.8 332.6h.9M305.8 315.2h.9M292.1 323.9h.9M311.7 337.5h.9M281.1 336.9h.9M314.4 334.7h.9M307.1 341.0h.9M293.9 339.9h.9M295.9 321.5h.9M316.4 327.8h.9M314.1 318.3h.9M290.7 326.2h.9M314.6 332.7h.9M298.2 319.8h.9M311.5 317.8h.9M280.9 339.7h.9M286.7 329.3h.9M316.9 326.6h.9M292.8 323.0h.9M310.7 317.7h.9M304.8 340.5h.9M285.5 329.2h.9M294.4 340.7h.9M303.7 332.6h.9M305.8 336.7h.9M287.9 328.8h.9M297.0 340.7h.9M299.4 338.0h.9M296.2 340.2h.9M304.8 337.6h.9M300.3 337.1h.9M295.5 340.1h.9M302.6 339.9h.9M294.6 342.0h.9M306.2 340.3h.9M302.2 347.4h.9M294.0 343.0h.9M281.5 333.6h.9M316.3 330.9h.9M296.4 320.4h.9M297.7 340.1h.9M308.5 349.3h.9M307.8 343.9h.9M307.1 343.5h.9M311.1 344.7h.9M312.4 344.7h.9M308.6 343.9h.9M308.6 341.1h.9M312.2 340.7h.9M312.5 343.5h.9M311.5 343.4h.9M312.5 342.6h.9M311.2 347.5h.9M301.9 345.1h.9M306.2 348.9h.9M304.0 348.4h.9M310.8 346.7h.9M310.5 345.3h.9M302.5 346.8h.9M302.3 349.0h.9M302.4 348.9h.9M302.5 345.0h.9M304.8 343.7h.9M311.9 344.6h.9M325.6 333.2h.9M325.0 323.9h.9M334.4 325.7h.9M321.5 317.7h.9M327.2 344.3h.9M326.4 324.8h.9M333.0 342.6h.9M320.3 327.2h.9M330.2 332.8h.9M327.0 344.1h.9M332.0 343.9h.9M333.3 317.3h.9M334.1 338.8h.9M320.3 316.5h.9M334.9 325.4h.9M326.2 324.2h.9M326.3 332.4h.9M329.1 324.7h.9M330.2 324.2h.9M329.6 324.1h.9M334.4 317.5h.9M334.0 338.2h.9M334.5 316.9h.9M332.0 342.7h.9M333.2 343.8h.9M321.5 316.8h.9M330.5 332.6h.9M331.7 341.9h.9M325.6 332.2h.9M334.6 338.9h.9M321.4 336.4h.9M331.0 342.3h.9M295.6 319.0h.9M315.7 339.6h.9M279.6 340.2h.9M262.5 334.6h.9M284.4 329.1h.9M276.3 344.8h.9M276.0 349.6h.9M276.2 347.1h.9M276.8 349.4h.9M273.9 344.8h.9M275.6 346.8h.9M277.9 349.9h.9M275.7 347.1h.9M270.7 347.6h.9M277.1 343.5h.9M276.6 348.1h.9M273.5 348.1h.9M275.8 344.1h.9M277.1 343.3h.9M272.4 345.1h.9M274.2 348.7h.9M272.4 349.1h.9" stroke="#2649ec" stroke-width=".9" opacity="0.50"/>
<path d="M281.8 357.6h.9M282.5 344.4h.9M284.6 358.4h.9M288.2 355.4h.9M288.8 350.7h.9M284.9 358.3h.9M279.9 349.8h.9M287.5 341.8h.9M280.0 349.8h.9M286.5 343.4h.9M279.7 350.3h.9M286.8 357.3h.9M287.8 348.5h.9M282.3 339.5h.9M279.9 345.6h.9M288.5 351.4h.9M280.3 348.3h.9M288.1 355.1h.9M286.2 356.5h.9M280.4 344.4h.9M287.9 355.1h.9M288.2 354.5h.9M281.0 344.9h.9M288.3 354.8h.9M288.7 343.0h.9M288.0 346.5h.9M288.4 343.2h.9M280.6 347.2h.9M286.0 341.7h.9M280.9 344.9h.9M287.5 343.5h.9M287.3 346.1h.9M286.9 343.6h.9M266.2 344.6h.9M261.0 347.2h.9M262.1 340.8h.9M264.5 340.9h.9M265.3 340.3h.9M264.3 339.5h.9M264.2 340.4h.9M265.9 342.1h.9M264.3 340.9h.9M263.7 352.3h.9M266.1 348.5h.9M265.8 342.9h.9M261.1 345.4h.9M261.9 340.4h.9M264.6 351.9h.9M263.0 340.2h.9M310.3 337.4h.9M314.8 323.9h.9M309.1 337.6h.9M282.8 340.4h.9M301.8 331.6h.9M302.5 335.2h.9M290.8 326.6h.9M314.7 323.6h.9M302.5 319.5h.9M314.6 323.5h.9M311.0 319.3h.9M303.2 318.6h.9M309.7 318.8h.9M313.0 335.2h.9M282.5 337.8h.9M292.8 325.9h.9M312.8 333.8h.9M287.1 340.5h.9M299.0 320.8h.9M287.8 342.9h.9M314.4 328.2h.9M312.0 318.7h.9M305.6 335.8h.9M312.5 319.0h.9M287.7 329.6h.9M290.4 341.6h.9M305.3 330.4h.9M298.8 320.3h.9M288.1 341.4h.9M294.6 338.0h.9M305.0 318.9h.9M289.3 341.7h.9M294.7 338.0h.9M308.7 335.9h.9M304.3 318.7h.9M314.6 331.5h.9M310.0 319.0h.9M312.7 320.7h.9M314.4 325.8h.9M286.0 330.9h.9M309.9 336.7h.9M281.9 337.2h.9M312.4 332.9h.9M310.6 337.2h.9M313.2 332.1h.9M302.7 319.7h.9M308.8 318.9h.9M304.7 331.3h.9M289.4 340.4h.9M289.0 341.8h.9M283.3 339.1h.9M282.2 339.1h.9M311.3 319.3h.9M312.9 335.8h.9M294.3 324.7h.9M313.1 319.0h.9M310.6 319.1h.9M304.0 320.4h.9M304.0 319.8h.9M315.7 324.2h.9M314.3 327.9h.9M309.0 335.8h.9M298.1 321.2h.9M292.9 340.8h.9M282.8 335.4h.9M313.6 334.3h.9M306.8 337.2h.9M311.7 336.9h.9M281.7 337.2h.9M308.6 338.6h.9M293.2 339.3h.9M312.5 319.7h.9M308.6 337.1h.9M313.2 336.0h.9M282.7 336.6h.9M287.4 340.0h.9M307.4 318.5h.9M311.7 321.3h.9M304.4 331.3h.9M313.0 332.0h.9M302.2 319.6h.9M287.3 343.1h.9M301.5 333.7h.9M289.6 339.9h.9M289.1 343.2h.9M289.4 341.7h.9M283.9 332.6h.9M286.2 343.8h.9M312.4 332.8h.9M283.5 337.2h.9M288.4 341.1h.9M309.9 337.1h.9M297.8 322.5h.9M282.1 335.7h.9M306.8 335.8h.9M314.6 325.2h.9M284.8 331.9h.9M301.9 319.8h.9M312.0 318.9h.9M297.1 321.1h.9M299.8 334.5h.9M299.3 336.6h.9M305.2 332.5h.9M303.6 330.4h.9M313.1 334.4h.9M301.5 336.6h.9M301.7 336.4h.9M301.9 334.3h.9M302.9 333.9h.9M303.3 334.1h.9M308.5 339.1h.9M296.8 338.4h.9M302.3 331.2h.9M305.4 336.2h.9M301.8 334.2h.9M283.2 341.1h.9M299.2 335.1h.9M295.2 337.7h.9M312.5 337.4h.9M308.2 338.1h.9M307.9 337.2h.9M312.3 334.9h.9M303.7 337.2h.9M310.2 335.4h.9M303.9 338.5h.9M283.0 337.6h.9M300.5 334.9h.9M302.2 336.2h.9M301.3 335.6h.9M304.4 338.5h.9M301.7 335.0h.9M307.3 336.2h.9M298.0 338.6h.9M307.9 337.4h.9M309.8 336.2h.9M303.8 336.9h.9M293.2 338.7h.9M303.5 334.5h.9M302.8 338.3h.9M281.2 335.8h.9M303.7 338.6h.9M310.5 335.4h.9M308.4 339.9h.9M283.0 335.4h.9M302.5 335.6h.9M303.4 338.5h.9M304.1 337.9h.9M312.3 337.2h.9M303.5 337.1h.9M292.9 339.2h.9M305.6 344.4h.9M308.3 345.2h.9M303.0 345.0h.9M308.3 344.6h.9M304.4 344.8h.9M303.3 347.5h.9M308.7 347.8h.9M304.5 348.4h.9M303.4 346.2h.9M305.3 347.9h.9M307.3 344.5h.9M304.5 346.7h.9M304.5 347.1h.9M306.7 347.2h.9M303.7 347.0h.9M309.2 346.6h.9M309.8 347.3h.9M303.8 344.6h.9M308.4 345.7h.9M309.5 347.0h.9M310.6 347.0h.9M309.3 346.1h.9M305.4 334.6h.9M306.0 335.4h.9M282.2 334.0h.9M272.6 346.6h.9M274.1 347.4h.9M273.6 345.6h.9M274.3 345.7h.9M271.8 347.1h.9M280.1 346.1h.9M271.2 347.2h.9M271.2 346.4h.9M273.3 346.3h.9M279.9 345.7h.9M273.7 347.2h.9M274.3 346.9h.9M270.9 346.7h.9M273.8 346.7h.9M271.8 346.2h.9" stroke="#1748eb" stroke-width=".9" opacity="0.58"/>
<path d="M288.0 350.5h.9M286.4 344.7h.9M285.7 356.0h.9M287.9 351.4h.9M287.8 352.0h.9M285.1 341.2h.9M281.6 354.8h.9M287.2 346.4h.9M285.6 357.4h.9M283.5 343.3h.9M283.7 343.7h.9M283.8 357.9h.9M287.8 349.8h.9M287.5 353.4h.9M285.4 344.5h.9M284.8 357.9h.9M281.4 354.6h.9M282.1 346.0h.9M282.2 345.6h.9M280.6 352.0h.9M287.3 354.7h.9M280.7 348.9h.9M288.2 352.9h.9M285.5 339.3h.9M283.1 358.4h.9M286.2 357.4h.9M284.2 358.1h.9M283.6 340.9h.9M286.3 339.5h.9M281.4 355.1h.9M283.7 340.9h.9M282.4 358.1h.9M280.2 346.8h.9M283.4 343.3h.9M281.0 345.0h.9M283.7 342.2h.9M280.5 350.3h.9M282.4 358.0h.9M286.9 354.6h.9M286.1 340.2h.9M288.1 349.1h.9M280.7 346.0h.9M263.9 350.8h.9M264.9 342.6h.9M263.7 351.2h.9M264.3 350.5h.9M262.5 341.5h.9M263.2 340.8h.9M263.9 340.8h.9M261.5 343.9h.9M262.7 350.0h.9M264.4 350.9h.9M265.2 349.0h.9M264.9 349.6h.9M261.8 341.1h.9M261.7 346.7h.9M263.0 350.0h.9M266.0 346.0h.9M287.4 330.1h.9M308.0 320.1h.9M305.7 319.4h.9M291.7 340.7h.9M313.9 324.5h.9M294.5 325.9h.9M285.6 343.2h.9M311.9 333.2h.9M312.0 322.5h.9M290.7 341.5h.9M283.7 342.0h.9M312.6 322.2h.9M285.2 340.5h.9M288.5 329.8h.9M310.7 333.1h.9M284.8 338.1h.9M291.5 327.2h.9M285.2 331.7h.9M302.0 330.0h.9M287.1 340.4h.9M302.4 321.5h.9M298.0 335.6h.9M284.7 339.3h.9M309.0 319.7h.9M295.9 323.0h.9M285.4 335.0h.9M310.4 334.3h.9M284.2 340.0h.9M292.8 336.7h.9M299.4 325.1h.9M314.6 329.7h.9M305.2 332.7h.9M284.8 342.3h.9M309.7 319.6h.9M284.3 340.4h.9M288.0 330.7h.9M307.5 320.4h.9M288.5 338.1h.9M308.7 320.2h.9M300.2 333.1h.9M296.4 337.6h.9M292.2 329.1h.9M310.4 334.5h.9M311.4 331.6h.9M294.5 335.8h.9M310.2 320.7h.9M291.3 327.5h.9M284.2 337.5h.9M312.0 331.2h.9M312.4 322.6h.9M299.0 322.3h.9M314.5 329.7h.9M299.3 333.1h.9M285.5 332.7h.9M284.4 336.9h.9M309.9 334.3h.9M284.3 340.6h.9M292.9 330.4h.9M292.4 339.3h.9M299.3 325.7h.9M305.3 329.4h.9M285.2 332.0h.9M292.4 328.9h.9M288.4 330.6h.9M285.0 337.6h.9M285.9 331.2h.9M292.1 329.4h.9M313.3 323.2h.9M303.8 329.4h.9M283.3 340.2h.9M283.4 335.1h.9M292.4 326.6h.9M300.6 331.9h.9M299.6 334.3h.9M299.8 331.2h.9M285.4 342.6h.9M298.5 322.3h.9M296.3 323.2h.9M285.3 337.2h.9M287.9 338.5h.9M290.3 340.6h.9M296.8 323.2h.9M298.0 335.4h.9M293.1 326.2h.9M301.1 324.9h.9M284.2 334.1h.9M314.3 330.3h.9M309.6 334.7h.9M290.5 341.4h.9M298.5 322.8h.9M308.4 319.0h.9M295.7 324.9h.9M308.6 319.1h.9M304.2 329.5h.9M299.8 324.6h.9M303.2 321.2h.9M309.5 331.2h.9M286.0 340.3h.9M283.8 337.1h.9M292.8 329.4h.9M292.7 328.9h.9M305.0 319.9h.9M286.1 334.5h.9M291.9 340.8h.9M286.3 331.6h.9M301.2 332.4h.9M284.8 336.5h.9M306.0 328.8h.9M300.0 321.7h.9M302.2 324.5h.9M289.6 328.9h.9M291.1 327.6h.9M290.1 340.5h.9M285.9 340.2h.9M313.1 323.0h.9M299.4 332.1h.9M293.7 336.4h.9M296.1 323.4h.9M284.7 335.0h.9M305.6 320.0h.9M283.8 334.5h.9M283.8 334.1h.9M295.7 324.0h.9M284.9 339.3h.9M309.5 331.3h.9M310.0 334.5h.9M283.7 341.6h.9M311.2 321.0h.9M285.3 341.0h.9M285.0 343.0h.9M301.4 324.1h.9M287.1 339.9h.9M287.5 330.6h.9M297.5 322.6h.9M312.9 323.4h.9M289.7 338.1h.9M313.6 323.8h.9M305.3 319.3h.9M292.6 330.6h.9M285.1 333.8h.9M307.7 334.3h.9M299.6 332.4h.9M297.9 336.4h.9M296.0 337.5h.9M288.6 331.4h.9M289.0 329.1h.9M301.7 329.0h.9M294.3 336.8h.9M287.7 331.7h.9M294.0 329.9h.9M301.4 331.9h.9M298.3 337.2h.9M299.7 333.6h.9M294.4 336.7h.9M298.5 337.8h.9M302.0 330.5h.9M286.8 331.1h.9M293.4 336.5h.9M306.7 333.7h.9M298.5 334.4h.9M294.2 330.5h.9M300.8 333.0h.9M284.7 335.8h.9M295.9 337.7h.9M286.9 331.8h.9M283.7 343.1h.9M302.7 330.8h.9M283.9 336.2h.9M295.6 335.3h.9M292.6 337.2h.9M306.4 329.3h.9M301.2 324.1h.9M297.7 336.3h.9M296.9 335.5h.9M296.6 337.6h.9M297.4 337.1h.9M298.7 334.0h.9M308.0 334.9h.9M283.9 333.9h.9M292.2 337.4h.9M293.0 326.1h.9M311.7 333.3h.9M300.3 333.5h.9M298.6 337.0h.9M292.1 340.6h.9M295.4 335.8h.9M298.2 336.7h.9M291.6 326.9h.9M298.6 337.6h.9M304.4 330.2h.9M300.1 332.5h.9M308.4 334.8h.9M299.2 336.6h.9M305.4 330.6h.9M298.5 334.8h.9M307.3 334.3h.9M297.4 337.5h.9M304.6 330.3h.9M284.4 335.4h.9M306.2 345.1h.9M304.7 344.7h.9M307.4 347.2h.9M306.7 346.6h.9M307.3 345.9h.9M307.0 346.5h.9M306.6 345.1h.9M305.3 345.1h.9M306.1 345.9h.9M307.8 346.9h.9M305.0 345.0h.9M306.8 345.5h.9M307.7 347.4h.9M308.2 347.1h.9M305.4 347.0h.9M306.0 346.2h.9M307.3 346.3h.9M305.1 345.7h.9M305.7 346.8h.9M295.5 337.3h.9" stroke="#0d66eb" stroke-width=".9" opacity="0.66"/>
<path d="M284.3 344.2h.9M283.6 356.6h.9M287.0 353.3h.9M282.8 357.2h.9M285.0 356.6h.9M281.2 352.0h.9M282.8 357.4h.9M281.0 349.3h.9M281.6 346.8h.9M282.9 356.8h.9M284.0 342.7h.9M281.4 347.0h.9M290.6 340.2h.9M282.0 346.3h.9M281.4 354.4h.9M286.7 345.6h.9M285.9 356.0h.9M282.8 357.0h.9M287.5 352.0h.9M282.9 357.4h.9M280.7 348.9h.9M284.0 356.9h.9M285.0 344.4h.9M284.8 356.4h.9M281.0 350.7h.9M281.4 353.5h.9M283.8 342.1h.9M281.0 351.4h.9M281.9 346.3h.9M285.4 356.1h.9M286.7 345.8h.9M286.5 355.1h.9M283.9 343.4h.9M264.1 349.6h.9M262.8 341.9h.9M265.7 347.9h.9M265.6 344.3h.9M262.7 349.1h.9M261.8 346.0h.9M261.9 342.9h.9M264.6 349.3h.9M265.3 347.9h.9M265.1 349.4h.9M263.6 350.4h.9M261.9 348.5h.9M262.0 342.9h.9M263.0 341.9h.9M264.8 348.0h.9M265.4 347.6h.9M261.8 345.9h.9M262.2 345.4h.9M265.5 345.5h.9M265.6 344.3h.9M261.9 344.4h.9M263.4 350.5h.9M264.8 349.1h.9M265.4 346.8h.9M262.5 342.1h.9M261.8 342.5h.9M301.7 325.8h.9M291.1 331.0h.9M286.1 337.0h.9M306.5 320.9h.9M290.3 329.1h.9M310.2 325.3h.9M294.5 326.0h.9M286.8 336.0h.9M310.1 333.0h.9M294.7 329.4h.9M300.1 326.8h.9M292.9 327.5h.9M291.1 339.7h.9M287.1 338.0h.9M298.1 326.1h.9M301.0 326.7h.9M295.3 325.6h.9M297.6 327.1h.9M295.4 325.1h.9M296.8 335.0h.9M303.4 324.7h.9M310.4 324.3h.9M288.5 335.3h.9M286.0 333.0h.9M299.9 330.5h.9M298.9 330.6h.9M313.5 330.1h.9M301.6 326.2h.9M307.8 334.3h.9M312.7 330.4h.9M308.0 320.8h.9M299.0 330.3h.9M287.2 334.0h.9M292.6 327.6h.9M298.4 332.8h.9M294.7 326.6h.9M289.4 331.0h.9M300.6 329.0h.9M285.8 338.5h.9M298.9 323.8h.9M294.5 333.1h.9M306.5 332.8h.9M303.2 326.5h.9M288.8 331.8h.9M286.6 333.0h.9M296.9 323.7h.9M292.5 327.9h.9M295.6 326.9h.9M299.7 329.6h.9M313.3 329.2h.9M286.3 337.6h.9M306.8 327.5h.9M293.1 330.7h.9M291.0 330.6h.9M302.1 327.3h.9M294.7 334.2h.9M305.9 331.7h.9M291.1 328.6h.9M298.1 325.4h.9M309.5 321.0h.9M297.2 332.1h.9M295.6 327.0h.9M307.1 320.9h.9M310.3 329.7h.9M286.4 338.6h.9M297.1 324.2h.9M310.8 331.3h.9M291.2 329.8h.9M298.9 326.5h.9M314.0 329.9h.9M311.4 323.6h.9M287.4 334.3h.9M290.0 332.3h.9M299.7 330.2h.9M284.2 342.7h.9M313.6 326.5h.9M296.2 327.0h.9M313.6 324.6h.9M287.1 334.5h.9M308.6 326.4h.9M310.7 321.7h.9M308.0 321.7h.9M302.8 325.8h.9M304.9 321.8h.9M297.4 332.5h.9M305.5 320.0h.9M301.6 326.3h.9M288.1 333.0h.9M305.5 328.5h.9M308.7 326.3h.9M301.2 321.4h.9M303.6 328.6h.9M295.7 326.5h.9M296.4 325.3h.9M294.7 329.3h.9M306.6 326.8h.9M301.6 321.9h.9M301.4 326.0h.9M305.5 322.3h.9M300.5 323.1h.9M311.0 330.7h.9M291.0 328.6h.9M309.2 325.8h.9M302.2 323.9h.9M290.4 328.5h.9M286.5 335.2h.9M302.3 326.4h.9M310.2 325.6h.9M290.8 338.7h.9M299.9 322.8h.9M290.9 329.3h.9M308.3 332.5h.9M308.4 334.0h.9M287.6 332.5h.9M312.5 323.0h.9M306.6 331.1h.9M298.5 326.3h.9M300.7 329.2h.9M289.6 331.8h.9M306.0 327.3h.9M313.2 329.4h.9M304.1 322.0h.9M305.7 320.8h.9M287.2 338.2h.9M292.7 331.3h.9M307.4 321.0h.9M288.5 337.8h.9M300.9 323.7h.9M296.8 332.0h.9M301.3 330.7h.9M289.4 329.6h.9M286.4 338.7h.9M309.1 330.2h.9M304.0 321.9h.9M310.0 332.5h.9M311.5 322.0h.9M312.6 323.9h.9M287.5 337.8h.9M303.5 323.7h.9M303.4 323.6h.9M290.2 334.0h.9M290.2 339.2h.9M299.9 323.0h.9M291.2 338.5h.9M296.2 324.8h.9M310.4 325.7h.9M310.3 330.5h.9M293.5 331.0h.9M290.2 339.3h.9M285.9 335.6h.9M306.0 320.9h.9M293.8 328.9h.9M285.6 335.6h.9M302.2 321.9h.9M305.8 326.8h.9M288.9 333.0h.9M295.3 326.1h.9M305.4 320.4h.9M313.2 330.1h.9M297.0 324.9h.9M289.9 332.5h.9M295.9 326.4h.9M313.5 326.9h.9M286.8 333.7h.9M306.8 329.0h.9M296.4 324.2h.9M291.2 338.1h.9M291.4 340.3h.9M303.8 328.8h.9M300.4 324.3h.9M308.2 333.9h.9M299.2 331.0h.9M299.0 323.8h.9M286.0 333.3h.9M292.8 327.4h.9M298.7 324.3h.9M307.2 320.7h.9M291.5 338.6h.9M293.2 332.0h.9M296.2 325.3h.9M313.0 324.8h.9M294.5 326.1h.9M299.4 329.8h.9M296.3 324.9h.9M295.0 333.8h.9M297.3 325.8h.9M299.8 323.9h.9M290.4 328.7h.9M310.5 321.1h.9M313.7 329.6h.9M304.9 328.0h.9M308.8 333.0h.9M299.8 322.6h.9M305.6 328.1h.9M309.3 321.2h.9M302.9 324.0h.9M301.9 328.0h.9M308.6 333.7h.9M298.7 326.1h.9M294.4 330.2h.9M303.1 321.8h.9M285.7 333.8h.9M297.4 326.2h.9M308.0 326.5h.9M306.0 321.2h.9M293.5 331.3h.9M298.9 324.6h.9M313.7 330.3h.9M298.3 324.2h.9M301.4 321.1h.9M310.4 332.8h.9M300.8 329.6h.9M302.9 322.0h.9M287.0 338.3h.9M285.3 336.7h.9M293.1 327.8h.9M300.8 330.0h.9M308.6 331.2h.9M310.1 321.1h.9M298.4 324.5h.9M311.5 323.1h.9M308.5 330.7h.9M310.5 333.4h.9M289.0 332.7h.9M301.4 321.8h.9M302.1 321.4h.9M306.1 321.0h.9M302.3 323.0h.9M285.9 333.1h.9M298.4 324.1h.9M301.8 323.3h.9M296.4 324.2h.9M297.1 327.5h.9M288.8 330.8h.9M297.6 334.5h.9M307.3 321.4h.9M289.4 337.8h.9M303.0 328.3h.9M313.9 329.7h.9M301.2 326.4h.9M306.9 327.7h.9M298.7 324.2h.9M308.1 332.6h.9M294.2 326.3h.9M300.7 330.0h.9M305.2 328.9h.9M285.7 338.0h.9M310.4 329.8h.9M287.6 333.7h.9M311.3 324.1h.9M291.6 339.6h.9M309.7 334.0h.9M297.4 324.8h.9M303.4 325.3h.9M309.7 332.2h.9M310.8 331.3h.9M309.6 321.7h.9M289.7 334.3h.9M288.8 335.0h.9M307.3 329.6h.9M310.4 321.0h.9M310.0 332.1h.9M298.4 331.0h.9M298.5 330.2h.9M296.3 334.6h.9M293.6 327.8h.9M291.3 340.5h.9M310.3 332.8h.9M305.7 331.7h.9M305.9 332.9h.9M291.5 339.1h.9M296.0 326.3h.9M298.6 332.5h.9M290.8 331.4h.9M310.2 332.2h.9M297.9 337.5h.9M286.6 336.5h.9M296.9 335.2h.9M301.4 330.5h.9M288.4 334.4h.9M292.6 336.9h.9M296.2 334.8h.9M300.4 330.1h.9M298.5 333.0h.9M289.1 337.5h.9M306.8 333.2h.9M302.6 328.5h.9M306.3 332.6h.9M296.3 332.6h.9M297.7 334.1h.9M291.2 337.4h.9M298.7 326.1h.9M296.0 334.9h.9M294.0 332.3h.9M286.7 335.6h.9M294.2 333.4h.9M294.1 331.7h.9M291.8 338.1h.9M285.2 333.8h.9M298.7 332.6h.9M297.6 333.6h.9M300.9 328.5h.9M295.8 334.5h.9M285.9 333.1h.9M302.3 327.4h.9M290.3 337.5h.9M308.7 334.4h.9M301.3 330.7h.9M290.9 338.1h.9M292.3 331.4h.9M292.1 337.9h.9M309.2 333.0h.9M309.3 333.2h.9M289.4 329.6h.9M299.0 332.1h.9M296.4 333.1h.9M286.6 335.7h.9M298.6 332.0h.9M293.4 332.3h.9M301.2 327.7h.9M302.0 328.2h.9M295.3 335.0h.9M292.5 336.8h.9" stroke="#0383eb" stroke-width=".9" opacity="0.75"/>
<path d="M283.0 355.7h.9M281.6 348.3h.9M283.0 355.7h.9M282.9 355.7h.9M287.1 348.3h.9M281.4 349.4h.9M287.3 351.4h.9M284.0 344.7h.9M285.1 344.6h.9M283.2 356.3h.9M281.5 352.7h.9M286.8 347.6h.9M282.9 345.5h.9M282.4 346.7h.9M282.8 355.7h.9M284.0 344.8h.9M286.9 347.8h.9M281.7 347.3h.9M263.5 342.5h.9M265.1 345.7h.9M261.7 348.1h.9M263.3 349.0h.9M262.6 349.0h.9M262.6 343.3h.9M264.4 347.4h.9M264.8 344.0h.9M262.4 343.7h.9M261.8 348.2h.9M264.8 345.0h.9M263.6 342.0h.9M264.1 342.8h.9M265.0 345.6h.9M264.6 343.1h.9M262.1 347.0h.9M265.1 344.0h.9M263.5 342.7h.9M265.2 346.3h.9M262.2 348.4h.9M264.4 347.5h.9M263.3 349.2h.9M264.6 343.4h.9M264.8 344.8h.9M263.5 342.9h.9M264.5 348.4h.9M262.4 343.5h.9M262.4 345.4h.9M264.2 349.3h.9M262.7 345.0h.9M264.9 345.9h.9M264.6 343.5h.9M264.5 343.8h.9M264.5 347.6h.9M264.9 344.7h.9M262.8 342.4h.9M262.3 343.6h.9M264.6 348.9h.9M264.9 347.1h.9M265.0 344.7h.9M262.6 344.5h.9M262.9 349.5h.9M264.6 343.9h.9M263.1 342.3h.9M297.3 330.9h.9M304.4 322.8h.9M295.4 333.7h.9M304.5 327.6h.9M289.1 336.4h.9M307.5 332.5h.9M294.6 331.9h.9M310.2 322.7h.9M297.0 328.3h.9M305.5 326.5h.9M311.1 322.8h.9M302.2 322.6h.9M288.4 333.2h.9M312.1 325.3h.9M294.5 328.4h.9M290.1 330.5h.9M305.1 322.9h.9M309.7 322.3h.9M287.4 337.0h.9M309.3 322.2h.9M302.0 326.8h.9M308.1 322.4h.9M290.7 329.9h.9M303.7 327.0h.9M309.8 322.9h.9M309.0 326.6h.9M289.9 330.9h.9M311.9 330.3h.9M312.8 325.4h.9M290.0 329.5h.9M290.5 331.6h.9M311.5 330.7h.9M305.2 323.4h.9M304.9 327.2h.9M307.9 322.2h.9M304.1 324.3h.9M309.7 322.7h.9M295.3 328.7h.9M291.6 332.1h.9M306.9 331.7h.9M290.3 329.7h.9M304.0 322.5h.9M312.9 325.1h.9M304.2 323.1h.9M301.2 323.1h.9M289.1 337.5h.9M308.2 330.8h.9M290.8 332.6h.9M307.4 331.3h.9M307.0 321.9h.9M307.9 330.8h.9M288.6 335.9h.9M290.2 333.2h.9M310.0 327.0h.9M294.5 328.1h.9M296.8 329.0h.9M287.3 336.4h.9M287.4 336.5h.9M303.9 324.3h.9M292.0 331.6h.9M287.8 336.4h.9M312.4 329.7h.9M295.3 333.5h.9M311.8 329.3h.9M291.1 336.1h.9M311.3 330.9h.9M309.4 322.2h.9M312.6 329.5h.9M297.9 329.7h.9M306.3 331.9h.9M309.9 327.2h.9M299.8 328.3h.9M310.7 323.9h.9M303.4 322.9h.9M308.4 330.5h.9M304.3 326.3h.9M288.8 333.8h.9M304.3 325.8h.9M307.6 332.9h.9M295.5 333.5h.9M287.7 336.7h.9M302.6 322.1h.9M294.9 328.6h.9M288.0 335.5h.9M307.7 328.4h.9M299.6 327.2h.9M310.9 325.8h.9M296.2 333.3h.9M300.0 328.3h.9M311.3 325.6h.9M304.0 327.7h.9M291.9 332.7h.9M312.9 327.2h.9M310.5 323.1h.9M298.0 324.5h.9M302.7 322.7h.9M303.8 325.7h.9M290.0 331.4h.9M294.4 327.4h.9M284.1 344.9h.9M289.0 336.5h.9M304.9 326.9h.9M294.6 331.8h.9M288.9 333.5h.9M308.7 326.3h.9M300.6 323.0h.9M306.4 325.9h.9M308.2 330.4h.9M294.0 334.0h.9M290.4 334.8h.9M288.6 333.5h.9M296.2 328.7h.9M312.2 327.5h.9M312.4 328.0h.9M298.2 327.2h.9M313.5 326.0h.9M307.4 329.3h.9M291.9 336.0h.9M307.8 329.8h.9M307.5 332.3h.9M304.1 328.0h.9M308.1 327.6h.9M290.3 331.4h.9M296.9 328.4h.9M292.1 331.7h.9M302.9 327.8h.9M305.0 326.9h.9M305.1 322.8h.9M287.8 337.8h.9M304.7 326.0h.9M299.5 328.4h.9M304.0 325.3h.9M290.3 334.3h.9M289.7 334.9h.9M303.8 322.8h.9M308.6 325.5h.9M310.1 323.4h.9M309.5 324.8h.9M312.7 325.0h.9M289.4 336.1h.9M293.8 328.0h.9M299.4 329.2h.9M304.7 322.6h.9M304.6 322.7h.9M295.0 328.0h.9M301.7 322.0h.9M290.9 332.8h.9M295.1 327.6h.9M288.4 333.3h.9M297.2 331.6h.9M304.3 325.6h.9M292.7 335.8h.9M287.7 337.9h.9M307.7 332.0h.9M301.0 322.2h.9M297.8 324.9h.9M311.2 322.7h.9M293.6 335.1h.9M300.6 327.2h.9M304.3 324.7h.9M307.3 328.4h.9M305.2 323.8h.9M307.0 322.0h.9M307.0 332.7h.9M299.9 327.1h.9M311.6 330.3h.9M306.4 321.8h.9M297.7 329.9h.9M313.5 326.2h.9M295.8 328.5h.9M296.4 328.7h.9M297.3 329.8h.9M296.7 328.0h.9M309.3 329.2h.9M305.3 323.4h.9M304.4 325.0h.9M307.0 325.8h.9M304.2 325.1h.9M304.1 327.7h.9M313.3 326.3h.9M311.5 331.0h.9M294.6 327.4h.9M295.1 328.2h.9M287.3 336.0h.9M306.3 321.7h.9M300.9 327.1h.9M308.2 322.3h.9M312.1 329.1h.9M300.6 327.7h.9M310.7 328.9h.9M290.6 334.9h.9M307.4 328.7h.9M311.7 325.1h.9M310.7 327.3h.9M312.6 329.9h.9M294.6 327.7h.9M304.5 328.4h.9M307.0 322.9h.9M288.2 334.0h.9M294.6 331.7h.9M293.4 335.3h.9M312.5 325.0h.9M307.3 332.7h.9M290.1 335.1h.9M311.7 329.2h.9M306.6 321.8h.9M301.2 322.6h.9M309.1 326.2h.9M302.1 326.9h.9M300.4 322.5h.9M301.5 326.7h.9M306.8 331.7h.9M310.1 323.6h.9M290.0 329.9h.9M307.3 331.4h.9M300.9 322.6h.9M291.2 332.9h.9M300.2 327.1h.9M295.1 331.8h.9M289.8 331.1h.9M303.8 327.7h.9M301.0 322.1h.9M310.3 322.1h.9M307.4 329.4h.9M288.8 333.3h.9M311.5 325.7h.9M311.1 329.1h.9M311.9 324.7h.9M304.6 324.1h.9M289.2 336.5h.9M311.0 329.7h.9M288.8 336.7h.9M312.9 327.2h.9M310.9 322.6h.9M307.2 328.5h.9M296.7 331.1h.9M288.6 333.1h.9M295.7 334.3h.9M287.5 336.4h.9M297.1 331.9h.9M295.9 332.9h.9M296.5 334.2h.9M291.1 336.2h.9M290.9 336.8h.9M297.7 329.7h.9M308.5 329.6h.9M291.1 333.0h.9M292.0 331.6h.9M294.7 331.8h.9M310.9 329.9h.9M292.6 332.7h.9M290.8 332.7h.9M293.9 334.8h.9M292.0 332.6h.9M290.7 330.0h.9M309.0 329.6h.9M297.2 331.9h.9M288.7 337.5h.9M295.3 333.5h.9M296.5 333.6h.9M291.0 336.5h.9M299.7 327.1h.9M306.5 331.6h.9M289.2 336.3h.9M290.4 336.8h.9M303.6 327.1h.9M294.1 334.2h.9M299.6 326.6h.9M295.5 328.7h.9M303.4 327.3h.9M265.1 347.2h.9" stroke="#07a1c1" stroke-width=".9" opacity="0.83"/>
<path d="M284.4 345.1h.9M286.7 349.4h.9M285.9 346.4h.9M283.9 355.6h.9M284.0 355.6h.9M283.7 345.9h.9M284.4 345.2h.9M286.0 354.6h.9M286.3 347.2h.9M282.7 355.1h.9M284.9 355.9h.9M281.7 353.7h.9M283.6 345.8h.9M282.4 347.2h.9M284.4 345.4h.9M281.8 353.8h.9M285.0 355.6h.9M286.8 348.9h.9M281.7 351.6h.9M286.3 353.7h.9M285.7 345.4h.9M263.7 344.5h.9M262.7 343.6h.9M262.5 348.2h.9M262.7 346.1h.9M262.8 348.1h.9M262.9 344.2h.9M262.3 346.1h.9M263.2 345.5h.9M263.8 345.8h.9M263.9 346.2h.9M263.3 348.4h.9M262.6 347.3h.9M263.0 343.6h.9M263.2 345.0h.9M262.6 348.1h.9M263.7 343.4h.9M264.2 346.9h.9M263.2 348.8h.9M263.5 344.6h.9M262.6 348.1h.9M263.3 344.8h.9M262.6 348.2h.9M264.5 344.8h.9M263.4 343.2h.9M264.4 346.4h.9M262.7 347.9h.9M263.5 347.7h.9M264.1 343.8h.9M263.7 347.8h.9M263.2 345.8h.9M264.0 345.3h.9M263.0 347.3h.9M291.2 335.4h.9M295.6 331.3h.9M311.2 328.1h.9M290.1 336.3h.9M308.0 324.8h.9M306.0 325.5h.9M308.0 324.6h.9M297.1 330.7h.9M306.7 325.0h.9M307.4 323.0h.9M309.9 327.9h.9M307.9 322.8h.9M295.7 330.7h.9M294.9 331.2h.9M308.0 323.0h.9M309.3 328.8h.9M311.2 326.1h.9M308.8 329.5h.9M298.1 329.4h.9M295.9 330.0h.9M309.3 324.2h.9M309.6 328.0h.9M296.3 330.7h.9M312.6 326.3h.9M309.0 323.1h.9M291.6 334.2h.9M298.7 328.3h.9M309.1 328.4h.9M308.7 327.4h.9M308.1 325.3h.9M291.8 333.5h.9M293.1 333.8h.9M308.6 323.1h.9M290.7 334.9h.9M308.9 327.2h.9M295.8 331.9h.9M310.9 327.4h.9M308.6 327.8h.9M298.1 328.0h.9M295.5 332.0h.9M293.6 334.4h.9M308.6 328.5h.9M311.2 327.2h.9M290.8 335.7h.9M308.3 327.6h.9M290.5 335.7h.9M290.4 335.9h.9M311.6 327.9h.9M305.7 325.5h.9M305.7 323.6h.9M295.8 329.8h.9M307.9 325.3h.9M298.4 328.1h.9M312.6 325.9h.9M292.0 335.3h.9M304.0 327.4h.9M291.6 334.0h.9M308.0 323.3h.9M309.1 328.5h.9M291.8 333.3h.9M312.6 326.6h.9M308.9 328.8h.9M304.6 326.7h.9M298.8 329.0h.9M312.3 327.4h.9M309.5 328.1h.9M304.2 326.9h.9M311.9 327.6h.9M311.7 327.3h.9M308.7 329.4h.9M296.3 330.8h.9M290.0 336.2h.9M297.2 328.9h.9M291.3 333.9h.9M311.3 328.5h.9M292.6 335.2h.9M306.6 323.2h.9M309.2 329.3h.9M308.7 324.8h.9M293.3 334.3h.9M312.3 326.6h.9M307.7 323.1h.9M309.0 328.0h.9M309.2 327.8h.9M312.6 325.9h.9M306.9 325.2h.9M305.3 324.1h.9M312.0 326.0h.9M311.4 328.2h.9M290.7 336.2h.9M298.6 328.9h.9M312.5 325.8h.9M311.2 328.0h.9M311.6 326.8h.9M311.3 326.7h.9M298.8 328.3h.9M308.2 322.6h.9M309.6 327.8h.9M296.6 330.3h.9M311.4 329.0h.9M309.6 324.3h.9M295.9 329.5h.9M306.1 323.5h.9M298.5 327.7h.9M312.0 328.1h.9M305.4 324.7h.9M304.2 326.7h.9M293.2 334.8h.9M297.5 328.3h.9M311.0 326.8h.9M298.1 327.7h.9M309.3 327.9h.9M308.0 324.7h.9M311.3 326.8h.9M305.5 325.3h.9M298.1 328.0h.9M295.2 330.6h.9M299.5 327.8h.9M296.7 329.1h.9M311.9 328.4h.9M296.5 329.6h.9M298.9 328.2h.9M292.1 333.7h.9M293.2 335.2h.9M298.0 329.0h.9M311.8 327.1h.9M298.3 328.2h.9M296.0 331.2h.9M308.2 327.7h.9M291.7 333.2h.9M298.3 328.9h.9M295.2 331.9h.9M290.4 335.7h.9M295.5 331.5h.9M297.2 330.3h.9M290.1 335.9h.9M291.8 335.5h.9M296.6 330.2h.9M262.7 347.6h.9" stroke="#11c185" stroke-width=".9" opacity="0.91"/>
<path d="M286.2 346.7h.9M285.8 346.5h.9M285.0 355.3h.9M287.1 351.9h.9M282.0 352.6h.9M284.0 355.2h.9M285.3 346.0h.9M283.3 346.2h.9M284.8 355.1h.9M285.7 346.0h.9M281.9 348.9h.9M282.9 354.9h.9M286.9 350.0h.9M287.1 349.7h.9M283.7 355.2h.9M285.2 345.7h.9M281.7 349.0h.9M282.3 354.0h.9M285.7 354.2h.9M286.8 351.6h.9M287.0 350.5h.9M286.8 351.6h.9M286.0 354.5h.9M282.5 354.1h.9M263.3 346.9h.9M263.4 345.7h.9M263.0 346.1h.9M263.6 346.2h.9M263.0 346.6h.9M263.5 346.4h.9M263.0 347.0h.9M263.5 345.7h.9M263.0 346.8h.9M262.8 346.4h.9M292.7 334.3h.9M292.5 334.7h.9M292.3 334.8h.9M306.5 324.2h.9M305.9 325.3h.9M295.9 330.9h.9M308.3 323.8h.9M306.5 324.5h.9M292.5 334.9h.9M309.1 324.3h.9M307.3 324.3h.9M296.0 330.6h.9M308.8 323.7h.9M308.5 324.1h.9M292.2 334.2h.9M306.3 323.5h.9M309.1 324.0h.9M307.0 324.1h.9M306.7 324.6h.9M308.4 323.8h.9M306.3 324.6h.9M295.9 330.7h.9M306.4 325.5h.9M308.4 324.3h.9M291.9 334.0h.9M292.6 334.5h.9M308.7 324.1h.9M309.0 323.9h.9M306.1 325.3h.9M308.7 324.3h.9M308.0 324.0h.9M306.4 324.2h.9M307.0 324.5h.9M292.9 334.5h.9M305.8 324.5h.9M306.2 324.4h.9M306.5 323.6h.9M306.1 324.3h.9M306.6 325.2h.9M291.8 334.4h.9M292.9 334.2h.9M292.7 334.6h.9M306.6 324.4h.9" stroke="#36ce55" stroke-width=".9" opacity="0.99"/>
<path d="M282.2 349.6h.9M282.4 353.6h.9M282.1 350.4h.9M282.3 348.3h.9M283.6 354.6h.9M282.5 348.4h.9M282.9 347.2h.9M284.7 345.9h.9M283.4 354.9h.9M285.6 355.0h.9M285.1 345.6h.9M283.6 346.9h.9M282.5 348.1h.9M281.9 350.9h.9M286.3 348.1h.9M283.7 354.9h.9M286.6 348.4h.9M282.0 350.9h.9M282.6 353.6h.9M282.1 350.2h.9M282.9 354.3h.9M283.7 346.5h.9M284.4 345.7h.9M285.3 354.8h.9M282.5 353.9h.9M286.4 352.5h.9M285.8 347.4h.9M282.3 348.4h.9M283.8 346.2h.9M282.1 352.0h.9M283.3 346.9h.9M283.6 346.6h.9" stroke="#63d728" stroke-width=".9" opacity="1.00"/>
<path d="M285.5 346.6h.9M283.1 347.8h.9M282.5 348.6h.9M282.6 353.5h.9M285.0 354.7h.9M285.5 346.6h.9M286.2 353.2h.9M285.3 354.4h.9M285.6 346.7h.9M284.8 346.4h.9M284.3 346.3h.9M286.0 347.9h.9M286.3 351.9h.9M284.0 346.7h.9M284.5 346.3h.9M286.1 353.0h.9M284.3 346.2h.9M282.0 351.5h.9M282.0 351.7h.9M286.6 349.4h.9M284.4 346.3h.9M281.8 351.5h.9M282.2 348.9h.9M284.9 346.1h.9M285.5 354.0h.9M281.8 351.2h.9M284.8 354.9h.9M285.7 347.8h.9M281.8 351.7h.9" stroke="#8fde0f" stroke-width=".9" opacity="1.00"/>
<path d="M285.5 347.4h.9M284.4 354.8h.9M286.6 351.0h.9M285.1 346.8h.9M282.3 349.1h.9M285.4 353.9h.9M286.2 351.0h.9M286.3 350.1h.9M282.6 352.6h.9M283.5 354.2h.9M283.6 354.3h.9M285.8 348.3h.9M286.6 349.7h.9M286.0 352.6h.9M284.3 346.8h.9M286.4 350.1h.9M286.5 349.8h.9M286.0 348.1h.9M286.1 352.6h.9M286.1 352.8h.9M284.9 346.7h.9" stroke="#bae207" stroke-width=".9" opacity="1.00"/>
<path d="M282.6 352.3h.9M284.9 347.2h.9M283.5 347.6h.9M282.7 350.7h.9M282.5 352.1h.9M284.8 354.5h.9M284.8 354.2h.9M285.6 353.1h.9M284.8 354.5h.9M285.7 353.4h.9M282.9 348.3h.9M282.6 350.7h.9M284.1 354.1h.9M285.9 352.0h.9M282.6 351.3h.9M285.3 347.8h.9M284.9 354.4h.9M285.9 348.8h.9M284.4 347.4h.9M283.2 353.0h.9M285.9 352.3h.9M285.0 354.3h.9M282.4 352.3h.9M282.7 351.2h.9M284.1 347.1h.9M285.9 348.7h.9M282.2 352.1h.9M283.5 353.9h.9M283.4 347.9h.9M282.3 351.2h.9M284.0 354.4h.9M282.9 353.4h.9M285.0 347.1h.9M284.8 354.0h.9M282.2 349.7h.9M284.0 354.5h.9M284.5 347.0h.9M282.8 348.2h.9M283.3 347.9h.9M284.0 354.3h.9" stroke="#e5e500" stroke-width=".9" opacity="1.00"/>
<path d="M284.1 347.9h.9M282.9 352.7h.9M285.1 353.7h.9M286.1 349.2h.9M284.0 347.9h.9M282.9 352.8h.9M284.8 348.0h.9M283.1 348.7h.9M283.7 347.9h.9M283.7 347.7h.9M286.1 352.0h.9M285.7 351.9h.9M285.5 348.5h.9M284.0 347.9h.9M283.9 347.9h.9M285.3 348.2h.9M284.6 354.0h.9M282.9 348.7h.9" stroke="#efc300" stroke-width=".9" opacity="1.00"/>
<path d="M285.8 350.1h.9M283.7 353.1h.9M284.5 353.7h.9M285.6 352.8h.9M285.8 349.5h.9M283.1 352.2h.9M284.5 347.5h.9M285.2 348.8h.9M284.5 354.0h.9M284.6 353.8h.9M285.6 348.7h.9M285.9 351.2h.9M283.5 348.3h.9M283.1 349.2h.9M286.1 351.3h.9M284.1 353.6h.9M284.2 354.0h.9M282.7 349.2h.9M283.0 352.1h.9M285.5 348.9h.9M283.4 353.4h.9M282.7 349.4h.9M283.2 352.1h.9M283.1 352.3h.9M286.0 350.2h.9M285.7 349.8h.9M285.9 350.3h.9M285.9 350.1h.9M283.1 352.3h.9M285.6 348.7h.9M284.3 347.5h.9M286.1 350.3h.9M284.2 353.9h.9" stroke="#f9a000" stroke-width=".9" opacity="1.00"/>
<path d="M282.9 350.6h.9M285.0 353.4h.9M284.5 348.5h.9M283.4 352.6h.9M284.5 348.3h.9M284.9 348.1h.9M285.2 353.2h.9M284.3 348.5h.9M284.5 348.1h.9M283.4 348.7h.9M284.7 348.3h.9M283.5 349.0h.9M283.1 350.5h.9M285.1 348.4h.9M283.1 350.9h.9M282.9 350.7h.9M283.0 351.0h.9M284.9 348.3h.9M283.1 349.7h.9M283.0 349.7h.9M283.5 353.0h.9M283.3 348.5h.9M285.1 348.2h.9M283.1 349.6h.9M283.7 352.5h.9M284.9 348.1h.9M282.9 351.8h.9M286.1 350.5h.9M283.5 352.5h.9M285.5 349.3h.9M283.3 349.0h.9" stroke="#fa6d00" stroke-width=".9" opacity="1.00"/>
<path d="M285.4 351.8h.9M284.9 350.4h.9M285.2 351.7h.9M285.4 350.2h.9M284.6 350.5h.9M284.0 350.7h.9M284.1 350.5h.9M283.7 350.5h.9M283.5 349.6h.9M284.0 351.7h.9M284.3 352.5h.9M285.1 350.5h.9M284.0 353.4h.9M283.7 349.9h.9M284.5 353.5h.9M283.9 350.2h.9M285.0 352.1h.9M284.0 351.2h.9M285.5 349.5h.9M284.8 349.7h.9M284.6 351.7h.9M283.6 349.0h.9M283.6 349.8h.9M284.0 352.5h.9M284.5 348.7h.9M285.2 349.5h.9M285.4 351.8h.9M283.6 352.4h.9M284.9 351.4h.9M283.4 351.8h.9M284.6 348.5h.9M284.2 350.6h.9M284.7 353.4h.9M283.6 350.4h.9M284.3 351.3h.9M285.2 351.6h.9M284.1 349.9h.9M285.3 350.3h.9M284.2 351.2h.9M285.5 350.7h.9M284.8 351.2h.9M284.3 350.9h.9M283.7 350.8h.9M284.9 352.3h.9M284.1 352.2h.9M283.4 349.6h.9M283.6 352.2h.9M284.6 352.2h.9M284.3 353.3h.9M284.0 349.5h.9M283.6 349.1h.9M283.9 350.4h.9M283.4 349.9h.9M283.9 351.4h.9M284.1 352.9h.9M285.4 350.9h.9M285.6 351.6h.9M285.3 351.4h.9M285.3 351.7h.9M284.3 350.5h.9M284.0 349.6h.9M284.6 353.2h.9M285.3 350.8h.9M284.5 352.3h.9M285.6 351.9h.9M284.8 351.8h.9M284.0 348.5h.9M284.8 349.5h.9M285.0 350.5h.9M284.2 351.9h.9M284.2 348.9h.9M283.3 351.5h.9M285.2 349.5h.9M284.1 352.4h.9M283.5 351.1h.9M285.4 350.3h.9M284.2 353.4h.9M284.6 352.1h.9M283.7 349.3h.9M284.7 350.3h.9M284.3 352.9h.9M284.0 351.1h.9M283.8 353.5h.9M284.0 351.4h.9M283.6 350.3h.9M283.4 350.1h.9M284.4 350.6h.9M284.8 349.0h.9M285.1 352.2h.9M284.2 351.3h.9M285.2 350.1h.9M284.7 350.4h.9M284.3 350.8h.9M284.0 351.5h.9M284.8 350.4h.9M283.9 350.7h.9M285.3 349.9h.9M284.4 351.1h.9M283.9 352.0h.9M284.8 348.6h.9M284.7 350.3h.9M285.1 351.8h.9M284.3 351.4h.9M284.3 349.0h.9M283.5 351.9h.9M284.2 353.4h.9M284.5 349.9h.9M285.7 351.5h.9M284.0 350.4h.9M283.8 348.9h.9M284.2 350.1h.9M283.5 349.9h.9M283.9 348.8h.9M284.9 349.1h.9M285.1 351.6h.9M284.3 353.0h.9M285.2 350.4h.9M283.6 352.2h.9M285.3 351.6h.9M284.2 351.2h.9M284.2 352.4h.9M284.3 351.0h.9M285.0 349.4h.9M285.1 352.4h.9M283.3 350.2h.9M284.7 348.7h.9M284.8 348.7h.9M284.2 353.3h.9M284.5 349.0h.9M284.3 351.1h.9M284.4 352.5h.9M283.3 351.7h.9M283.7 352.4h.9M283.9 348.7h.9M285.1 350.2h.9M284.2 349.1h.9M284.9 352.2h.9M283.9 352.9h.9M284.7 349.2h.9M283.9 350.2h.9M283.2 350.7h.9M284.1 348.8h.9M284.6 351.0h.9M283.8 349.9h.9M285.5 350.5h.9M283.6 350.3h.9M283.5 350.0h.9M283.6 350.1h.9M284.7 351.3h.9M284.9 349.5h.9M283.6 351.4h.9M284.0 352.1h.9M285.5 350.4h.9M283.4 350.7h.9M283.7 350.5h.9M284.2 350.6h.9M285.7 349.9h.9M284.4 352.3h.9M285.7 351.3h.9M284.9 351.5h.9M284.5 353.2h.9M285.7 351.1h.9M283.2 350.3h.9M284.9 352.9h.9M284.0 352.1h.9M284.3 350.1h.9M284.5 349.2h.9" stroke="#f02400" stroke-width=".9" opacity="1.00"/>
<rect x="260.20" y="294.50" width="78.30" height="71.80" fill="none" stroke="#8a9696" stroke-width="0.9"/>
<line x1="258.60" y1="314.10" x2="260.60" y2="314.10" stroke="#555" stroke-width="0.8"/>
<line x1="259.40" y1="308.50" x2="260.60" y2="308.50" stroke="#777" stroke-width="0.6"/>
<line x1="259.40" y1="305.23" x2="260.60" y2="305.23" stroke="#777" stroke-width="0.6"/>
<line x1="259.40" y1="302.90" x2="260.60" y2="302.90" stroke="#777" stroke-width="0.6"/>
<line x1="259.40" y1="301.10" x2="260.60" y2="301.10" stroke="#777" stroke-width="0.6"/>
<line x1="259.40" y1="299.63" x2="260.60" y2="299.63" stroke="#777" stroke-width="0.6"/>
<line x1="259.40" y1="298.38" x2="260.60" y2="298.38" stroke="#777" stroke-width="0.6"/>
<line x1="259.40" y1="297.30" x2="260.60" y2="297.30" stroke="#777" stroke-width="0.6"/>
<line x1="259.40" y1="296.35" x2="260.60" y2="296.35" stroke="#777" stroke-width="0.6"/>
<line x1="258.60" y1="332.70" x2="260.60" y2="332.70" stroke="#555" stroke-width="0.8"/>
<line x1="259.40" y1="327.10" x2="260.60" y2="327.10" stroke="#777" stroke-width="0.6"/>
<line x1="259.40" y1="323.83" x2="260.60" y2="323.83" stroke="#777" stroke-width="0.6"/>
<line x1="259.40" y1="321.50" x2="260.60" y2="321.50" stroke="#777" stroke-width="0.6"/>
<line x1="259.40" y1="319.70" x2="260.60" y2="319.70" stroke="#777" stroke-width="0.6"/>
<line x1="259.40" y1="318.23" x2="260.60" y2="318.23" stroke="#777" stroke-width="0.6"/>
<line x1="259.40" y1="316.98" x2="260.60" y2="316.98" stroke="#777" stroke-width="0.6"/>
<line x1="259.40" y1="315.90" x2="260.60" y2="315.90" stroke="#777" stroke-width="0.6"/>
<line x1="259.40" y1="314.95" x2="260.60" y2="314.95" stroke="#777" stroke-width="0.6"/>
<line x1="258.60" y1="351.30" x2="260.60" y2="351.30" stroke="#555" stroke-width="0.8"/>
<line x1="259.40" y1="345.70" x2="260.60" y2="345.70" stroke="#777" stroke-width="0.6"/>
<line x1="259.40" y1="342.43" x2="260.60" y2="342.43" stroke="#777" stroke-width="0.6"/>
<line x1="259.40" y1="340.10" x2="260.60" y2="340.10" stroke="#777" stroke-width="0.6"/>
<line x1="259.40" y1="338.30" x2="260.60" y2="338.30" stroke="#777" stroke-width="0.6"/>
<line x1="259.40" y1="336.83" x2="260.60" y2="336.83" stroke="#777" stroke-width="0.6"/>
<line x1="259.40" y1="335.58" x2="260.60" y2="335.58" stroke="#777" stroke-width="0.6"/>
<line x1="259.40" y1="334.50" x2="260.60" y2="334.50" stroke="#777" stroke-width="0.6"/>
<line x1="259.40" y1="333.55" x2="260.60" y2="333.55" stroke="#777" stroke-width="0.6"/>
<line x1="258.60" y1="369.90" x2="260.60" y2="369.90" stroke="#555" stroke-width="0.8"/>
<line x1="259.40" y1="364.30" x2="260.60" y2="364.30" stroke="#777" stroke-width="0.6"/>
<line x1="259.40" y1="361.03" x2="260.60" y2="361.03" stroke="#777" stroke-width="0.6"/>
<line x1="259.40" y1="358.70" x2="260.60" y2="358.70" stroke="#777" stroke-width="0.6"/>
<line x1="259.40" y1="356.90" x2="260.60" y2="356.90" stroke="#777" stroke-width="0.6"/>
<line x1="259.40" y1="355.43" x2="260.60" y2="355.43" stroke="#777" stroke-width="0.6"/>
<line x1="259.40" y1="354.18" x2="260.60" y2="354.18" stroke="#777" stroke-width="0.6"/>
<line x1="259.40" y1="353.10" x2="260.60" y2="353.10" stroke="#777" stroke-width="0.6"/>
<line x1="259.40" y1="352.15" x2="260.60" y2="352.15" stroke="#777" stroke-width="0.6"/>
<line x1="257.80" y1="365.30" x2="260.60" y2="365.30" stroke="#555" stroke-width="0.8"/>
<line x1="260.70" y1="367.90" x2="260.70" y2="365.90" stroke="#777" stroke-width="0.6"/>
<line x1="268.40" y1="367.10" x2="268.40" y2="365.90" stroke="#777" stroke-width="0.6"/>
<line x1="276.10" y1="367.10" x2="276.10" y2="365.90" stroke="#777" stroke-width="0.6"/>
<line x1="283.80" y1="367.10" x2="283.80" y2="365.90" stroke="#777" stroke-width="0.6"/>
<line x1="291.50" y1="367.90" x2="291.50" y2="365.90" stroke="#777" stroke-width="0.6"/>
<line x1="299.20" y1="367.10" x2="299.20" y2="365.90" stroke="#777" stroke-width="0.6"/>
<line x1="306.90" y1="367.10" x2="306.90" y2="365.90" stroke="#777" stroke-width="0.6"/>
<line x1="314.60" y1="367.10" x2="314.60" y2="365.90" stroke="#777" stroke-width="0.6"/>
<line x1="322.30" y1="367.90" x2="322.30" y2="365.90" stroke="#777" stroke-width="0.6"/>
<line x1="330.00" y1="367.10" x2="330.00" y2="365.90" stroke="#777" stroke-width="0.6"/>
<line x1="337.70" y1="367.10" x2="337.70" y2="365.90" stroke="#777" stroke-width="0.6"/>
<rect x="278.20" y="308.80" width="41.70" height="34.50" fill="none" stroke="#606060" stroke-width="0.85"/>
<rect x="260.95" y="338.50" width="8.00" height="17.50" fill="none" stroke="#606060" stroke-width="0.85"/>
<rect x="278.20" y="343.30" width="16.80" height="20.70" fill="none" stroke="#606060" stroke-width="0.85"/>
<rect x="295.00" y="343.30" width="24.90" height="13.70" fill="none" stroke="#606060" stroke-width="0.85"/>
<line x1="278.20" y1="343.30" x2="319.90" y2="343.30" stroke="#222" stroke-width="1.3"/>
<line x1="295.00" y1="343.30" x2="295.00" y2="364.00" stroke="#2a2a2a" stroke-width="1.1"/>
<text transform="translate(299.50,306.10) scale(1.100,1)" font-size="9.4" text-anchor="middle">50,7</text>
<text transform="translate(261.20,334.80) scale(1.100,1)" font-size="9.4">9,5</text>
<text transform="translate(321.70,355.30) scale(1.100,1)" font-size="9.4">4,5</text>
<text transform="translate(296.20,365.50) scale(1.100,1)" font-size="9.4">30,5</text>
<path d="M388.5 355.8h.9M388.9 357.9h.9M393.2 349.0h.9M392.4 353.0h.9M364.4 357.2h.9M361.9 337.7h.9M395.9 318.7h.9M412.7 327.1h.9M380.0 342.5h.9M405.0 334.9h.9M384.1 329.8h.9M378.6 336.4h.9M378.2 334.6h.9M400.5 315.4h.9M383.7 326.8h.9M379.8 337.2h.9M416.0 316.6h.9M381.8 330.2h.9M379.0 329.9h.9M411.8 309.7h.9M398.8 317.5h.9M409.7 316.9h.9M402.2 337.3h.9M410.7 332.7h.9M406.6 340.0h.9M397.6 342.3h.9M404.0 337.7h.9M410.3 331.7h.9M391.0 320.4h.9M414.2 342.5h.9M412.6 335.2h.9M414.5 332.2h.9M409.4 338.1h.9M409.6 334.4h.9M391.4 318.7h.9M412.3 333.9h.9M411.6 330.0h.9M393.6 319.7h.9M398.7 342.9h.9M403.1 339.3h.9M407.9 339.6h.9M385.8 323.2h.9M399.7 348.7h.9M404.2 341.4h.9M412.6 349.6h.9M399.7 353.4h.9M410.0 338.5h.9M414.0 347.2h.9M405.3 351.2h.9M406.7 350.5h.9M421.1 333.7h.9M420.6 326.4h.9M420.9 336.3h.9M423.9 326.7h.9M425.3 334.9h.9M420.5 318.9h.9M430.0 343.6h.9M432.7 330.0h.9M420.4 323.3h.9M422.6 344.2h.9M435.9 340.1h.9M422.1 325.4h.9M433.8 337.8h.9M430.2 338.9h.9M430.0 327.2h.9M428.2 330.2h.9M426.0 318.7h.9M429.8 332.8h.9M426.0 340.2h.9M435.2 325.7h.9M425.0 322.5h.9M425.2 332.6h.9M427.1 334.6h.9M429.5 333.5h.9M436.2 339.3h.9M421.4 318.1h.9M428.7 341.9h.9M421.9 335.1h.9M436.3 325.8h.9M425.6 325.3h.9M428.2 316.7h.9M430.1 336.6h.9M427.0 323.3h.9M428.3 325.1h.9M430.1 316.5h.9M429.1 328.9h.9M427.4 331.7h.9M433.4 336.1h.9M426.9 335.5h.9M420.8 341.1h.9M427.9 344.5h.9M428.3 339.4h.9M435.0 337.7h.9M426.6 342.3h.9M433.1 341.6h.9M424.2 317.0h.9M411.8 304.6h.9M392.1 299.7h.9M409.8 296.3h.9M433.9 350.1h.9M412.3 358.3h.9M417.6 343.8h.9M378.7 332.9h.9M375.8 362.4h.9M431.0 321.2h.9M415.3 345.7h.9M376.1 351.3h.9M405.7 358.6h.9M411.8 361.8h.9M383.2 303.8h.9M408.8 300.1h.9M421.6 364.4h.9M404.8 362.9h.9M378.4 311.2h.9M370.1 352.1h.9M363.3 315.4h.9M368.3 333.6h.9M364.1 335.3h.9" stroke="#344dee" stroke-width=".9" opacity="0.42"/>
<path d="M380.9 358.7h.9M379.5 358.7h.9M381.8 360.5h.9M392.9 347.0h.9M387.1 343.0h.9M377.2 354.6h.9M378.7 349.1h.9M377.8 357.2h.9M382.1 346.9h.9M394.9 344.3h.9M389.0 354.4h.9M378.9 357.2h.9M391.9 348.5h.9M386.6 357.4h.9M390.6 351.8h.9M389.8 344.4h.9M379.0 349.7h.9M390.7 348.8h.9M391.9 351.3h.9M386.8 356.6h.9M392.1 345.3h.9M394.3 345.0h.9M377.1 353.1h.9M382.4 346.3h.9M377.9 354.8h.9M390.2 352.5h.9M391.4 343.8h.9M383.8 344.8h.9M376.7 352.1h.9M363.5 338.6h.9M362.9 337.1h.9M365.6 344.6h.9M364.0 354.6h.9M365.2 342.0h.9M362.4 354.7h.9M363.5 353.8h.9M362.4 355.1h.9M364.0 337.7h.9M413.0 322.5h.9M379.4 334.4h.9M381.3 338.6h.9M401.0 334.9h.9M397.7 319.5h.9M395.8 339.3h.9M394.8 340.4h.9M380.1 338.9h.9M405.8 317.5h.9M390.0 343.4h.9M395.8 338.7h.9M379.1 340.0h.9M405.0 332.3h.9M389.3 321.8h.9M414.5 330.3h.9M384.2 344.3h.9M379.6 341.2h.9M382.8 343.8h.9M380.9 339.8h.9M394.0 321.8h.9M383.4 331.7h.9M415.2 329.6h.9M384.4 344.2h.9M394.5 337.4h.9M384.7 331.9h.9M403.8 316.7h.9M404.7 317.3h.9M405.0 332.5h.9M405.0 316.3h.9M410.3 328.4h.9M380.8 335.8h.9M393.8 321.3h.9M385.2 331.3h.9M409.9 329.3h.9M408.3 317.9h.9M384.6 332.6h.9M414.4 323.3h.9M380.3 339.3h.9M409.1 318.6h.9M413.4 324.9h.9M413.8 318.8h.9M382.8 331.4h.9M387.6 324.8h.9M396.3 320.7h.9M382.4 332.4h.9M382.0 345.6h.9M414.1 320.6h.9M380.2 330.9h.9M407.2 317.5h.9M380.7 332.0h.9M410.5 319.8h.9M414.6 324.3h.9M405.0 336.0h.9M389.5 320.9h.9M402.1 340.6h.9M388.0 321.0h.9M405.4 343.2h.9M414.5 324.9h.9M385.8 328.2h.9M400.7 340.5h.9M395.6 336.8h.9M392.9 322.3h.9M384.6 321.0h.9M394.1 341.4h.9M397.6 320.1h.9M406.9 337.2h.9M401.9 335.5h.9M391.9 323.0h.9M399.1 338.1h.9M390.4 323.8h.9M411.5 326.9h.9M408.1 342.2h.9M411.5 328.9h.9M394.4 322.2h.9M402.0 342.8h.9M409.4 341.4h.9M395.7 344.5h.9M394.8 322.0h.9M403.3 334.1h.9M388.3 323.7h.9M386.3 321.4h.9M412.7 319.3h.9M406.7 337.5h.9M410.3 341.4h.9M414.9 344.0h.9M397.4 338.2h.9M386.4 327.5h.9M410.0 341.4h.9M397.6 321.0h.9M384.7 320.9h.9M396.3 343.4h.9M414.0 325.8h.9M414.1 343.8h.9M412.0 335.2h.9M408.2 336.0h.9M407.9 334.7h.9M401.5 340.2h.9M385.9 319.8h.9M398.0 338.2h.9M414.3 330.2h.9M406.3 335.7h.9M402.9 350.5h.9M406.3 343.4h.9M392.4 343.1h.9M411.6 349.3h.9M398.2 346.2h.9M411.7 344.1h.9M407.2 348.7h.9M401.1 348.5h.9M394.0 347.2h.9M409.7 348.1h.9M403.9 350.7h.9M395.9 344.3h.9M401.5 348.9h.9M410.5 350.2h.9M411.9 347.6h.9M410.6 346.6h.9M400.2 346.8h.9M399.1 346.8h.9M399.1 346.6h.9M396.7 347.7h.9M408.2 344.7h.9M399.2 345.5h.9M403.0 343.0h.9M410.8 344.9h.9M401.0 345.4h.9M410.1 349.9h.9M397.4 348.1h.9M410.5 350.1h.9M410.9 348.2h.9M396.8 339.6h.9M410.2 351.0h.9M411.1 348.8h.9M434.8 333.7h.9M422.6 329.1h.9M421.2 330.9h.9M422.8 342.7h.9M431.7 326.3h.9M432.9 325.9h.9M420.8 328.3h.9M422.3 320.4h.9M423.3 323.0h.9M435.6 322.4h.9M433.0 324.6h.9M434.9 333.9h.9M421.9 321.9h.9M436.9 322.7h.9M423.7 322.4h.9M435.5 322.1h.9M435.2 344.5h.9M421.5 329.0h.9M422.3 322.3h.9M427.9 328.8h.9M430.0 324.8h.9M431.5 325.0h.9M421.1 328.0h.9M428.1 319.1h.9M427.6 319.1h.9M434.7 343.7h.9M423.7 341.9h.9M424.4 343.0h.9M427.8 319.9h.9M429.8 323.4h.9M427.4 327.8h.9M423.6 343.5h.9M421.8 321.1h.9M429.1 319.9h.9M427.3 328.8h.9M435.6 322.1h.9M429.6 324.1h.9M421.9 328.5h.9M429.1 324.1h.9M428.2 332.3h.9M429.4 322.5h.9M421.9 330.9h.9M421.1 323.1h.9M427.6 323.3h.9M428.2 342.6h.9M434.2 322.8h.9M434.0 323.8h.9M407.9 335.5h.9M386.0 320.2h.9" stroke="#2649ec" stroke-width=".9" opacity="0.50"/>
<path d="M389.9 344.8h.9M379.3 357.8h.9M383.5 358.9h.9M388.5 353.2h.9M390.0 351.4h.9M391.6 346.9h.9M387.9 344.6h.9M389.8 342.1h.9M381.0 348.7h.9M390.6 347.3h.9M381.7 358.5h.9M384.4 358.4h.9M382.3 359.5h.9M384.5 357.5h.9M391.8 345.3h.9M389.6 349.9h.9M383.8 345.7h.9M380.2 351.0h.9M379.3 357.6h.9M390.9 345.6h.9M391.3 341.5h.9M383.7 358.6h.9M391.0 342.7h.9M388.7 344.7h.9M386.1 356.0h.9M379.6 351.1h.9M389.6 348.1h.9M387.0 341.9h.9M391.4 346.0h.9M389.8 351.9h.9M392.6 340.6h.9M364.1 340.8h.9M361.4 340.8h.9M361.8 340.0h.9M365.3 346.9h.9M363.0 353.3h.9M362.8 354.0h.9M362.8 353.1h.9M363.3 339.7h.9M361.7 353.2h.9M363.4 339.6h.9M412.8 323.2h.9M403.3 318.1h.9M387.7 342.2h.9M392.4 340.1h.9M392.5 323.9h.9M412.8 319.6h.9M383.1 340.1h.9M391.3 338.7h.9M383.2 332.5h.9M384.5 341.2h.9M400.4 318.3h.9M389.8 325.8h.9M384.2 335.4h.9M409.0 321.1h.9M383.6 338.3h.9M384.6 341.1h.9M383.0 337.8h.9M383.4 337.2h.9M390.8 342.9h.9M391.1 338.8h.9M383.2 335.9h.9M401.5 319.1h.9M381.4 335.0h.9M386.5 329.8h.9M393.0 324.3h.9M411.2 324.6h.9M384.5 337.9h.9M403.7 319.0h.9M402.0 332.9h.9M411.5 321.7h.9M399.1 321.4h.9M401.6 334.0h.9M405.8 330.4h.9M394.8 323.6h.9M413.8 324.1h.9M405.4 331.1h.9M399.8 334.1h.9M411.0 322.0h.9M411.8 322.8h.9M384.4 339.7h.9M412.1 323.0h.9M394.0 335.5h.9M402.5 318.2h.9M396.9 334.4h.9M402.4 318.4h.9M404.6 330.9h.9M382.8 339.2h.9M410.6 326.0h.9M403.1 317.7h.9M390.8 338.4h.9M393.8 339.7h.9M399.2 335.4h.9M397.5 336.1h.9M382.0 340.8h.9M390.5 340.9h.9M407.8 318.9h.9M391.5 325.9h.9M411.1 325.1h.9M400.7 318.4h.9M398.1 334.1h.9M383.2 337.4h.9M393.0 323.8h.9M381.3 334.6h.9M385.9 332.2h.9M391.7 340.8h.9M408.9 319.1h.9M382.2 339.8h.9M392.4 325.4h.9M382.1 341.2h.9M408.3 318.6h.9M404.2 318.3h.9M393.0 340.8h.9M410.8 320.9h.9M383.4 335.5h.9M402.4 318.5h.9M390.8 325.6h.9M382.4 341.1h.9M408.3 329.3h.9M387.9 327.1h.9M412.5 324.3h.9M409.3 320.0h.9M398.8 335.3h.9M394.7 323.8h.9M384.4 334.7h.9M393.8 338.5h.9M386.7 328.8h.9M389.9 341.0h.9M381.9 334.6h.9M389.9 328.4h.9M393.3 340.4h.9M385.2 334.5h.9M392.0 340.0h.9M383.2 332.6h.9M398.6 336.9h.9M388.7 324.9h.9M412.6 321.6h.9M383.0 341.5h.9M387.1 341.9h.9M403.2 331.5h.9M402.4 331.5h.9M399.2 336.8h.9M396.0 334.3h.9M409.3 326.1h.9M382.8 335.0h.9M409.4 328.2h.9M397.6 333.9h.9M380.8 334.9h.9M401.0 333.4h.9M388.5 328.7h.9M386.3 327.9h.9M404.9 330.6h.9M409.8 320.5h.9M397.9 322.5h.9M381.7 335.4h.9M387.3 340.2h.9M402.9 333.9h.9M407.9 329.6h.9M404.5 319.0h.9M399.4 319.3h.9M400.1 322.4h.9M385.6 340.1h.9M387.2 329.0h.9M409.0 328.6h.9M393.8 339.2h.9M402.0 318.0h.9M396.9 337.4h.9M403.1 332.2h.9M388.6 325.2h.9M384.1 339.8h.9M397.1 335.9h.9M402.9 318.7h.9M396.9 337.0h.9M382.6 340.6h.9M402.3 344.5h.9M398.9 336.6h.9M392.9 323.5h.9M383.0 333.1h.9M386.2 328.5h.9M382.4 333.2h.9M409.4 342.7h.9M411.9 320.1h.9M408.6 343.2h.9M409.7 342.5h.9M390.6 341.2h.9M396.9 322.7h.9M394.1 341.0h.9M412.3 320.2h.9M398.9 337.1h.9M403.7 344.5h.9M395.2 335.8h.9M389.0 341.6h.9M391.1 342.1h.9M397.7 336.6h.9M400.0 334.2h.9M401.8 343.2h.9M388.3 325.1h.9M411.4 325.4h.9M413.7 320.1h.9M383.4 333.8h.9M382.6 341.8h.9M409.9 343.5h.9M411.1 323.6h.9M408.4 319.8h.9M402.7 334.3h.9M398.3 335.8h.9M395.3 335.6h.9M402.0 343.4h.9M404.5 349.9h.9M403.1 349.9h.9M403.9 349.8h.9M408.3 343.3h.9M409.3 347.4h.9M404.7 348.4h.9M403.7 349.1h.9M409.6 343.9h.9M407.2 347.5h.9M407.0 344.4h.9M402.1 346.5h.9M401.7 344.3h.9M409.4 346.0h.9M402.5 346.3h.9M402.6 349.6h.9M408.1 347.7h.9M409.6 345.5h.9M408.6 347.0h.9M409.9 345.8h.9M409.9 346.5h.9M407.7 345.6h.9M402.4 345.1h.9M405.1 344.9h.9M406.5 344.1h.9M409.0 343.7h.9M401.0 347.0h.9M408.8 347.3h.9M402.0 346.0h.9M408.5 346.8h.9M401.6 346.3h.9M410.2 343.3h.9M403.3 347.0h.9M405.7 348.5h.9M406.5 344.6h.9M402.8 349.5h.9M390.2 339.8h.9M413.6 320.8h.9" stroke="#1748eb" stroke-width=".9" opacity="0.58"/>
<path d="M389.6 346.3h.9M384.4 346.4h.9M389.5 347.6h.9M382.1 358.2h.9M380.8 356.5h.9M386.8 345.3h.9M380.3 356.5h.9M381.9 358.1h.9M386.3 345.0h.9M388.8 345.6h.9M388.4 353.0h.9M381.2 357.0h.9M389.9 346.9h.9M383.4 358.3h.9M380.9 350.4h.9M386.1 355.6h.9M386.6 354.9h.9M388.3 352.8h.9M388.9 351.7h.9M380.0 356.7h.9M380.3 357.1h.9M379.5 352.7h.9M389.4 351.4h.9M389.5 346.7h.9M387.3 345.3h.9M389.0 346.4h.9M389.0 339.0h.9M380.2 356.4h.9M384.4 346.9h.9M379.6 352.2h.9M381.9 357.7h.9M382.3 358.9h.9M385.0 345.8h.9M389.2 347.0h.9M386.8 355.4h.9M389.6 346.9h.9M389.1 350.3h.9M390.9 346.9h.9M390.8 346.3h.9M361.5 352.4h.9M361.5 352.1h.9M364.3 350.7h.9M362.0 340.6h.9M362.0 352.6h.9M364.1 350.7h.9M360.9 342.8h.9M362.3 340.2h.9M385.1 336.0h.9M401.2 320.9h.9M388.9 327.4h.9M384.0 336.7h.9M392.1 332.2h.9M393.9 325.1h.9M390.9 326.2h.9M387.2 337.8h.9M399.3 321.6h.9M386.4 336.2h.9M393.7 335.7h.9M399.8 320.3h.9M394.3 324.6h.9M391.0 336.4h.9M386.6 331.7h.9M399.8 320.9h.9M409.4 325.1h.9M395.2 335.4h.9M385.7 334.2h.9M402.6 321.7h.9M397.9 333.3h.9M388.2 326.6h.9M404.4 319.9h.9M395.2 324.5h.9M400.2 332.8h.9M386.9 338.4h.9M388.7 340.8h.9M410.1 325.1h.9M410.0 325.5h.9M405.5 329.0h.9M391.1 331.6h.9M391.8 333.4h.9M384.0 336.7h.9M393.4 324.8h.9M395.7 334.7h.9M412.2 321.2h.9M401.7 320.9h.9M389.5 326.3h.9M405.2 329.1h.9M389.7 329.9h.9M393.2 328.0h.9M387.8 329.6h.9M406.1 329.0h.9M401.1 333.0h.9M407.7 329.0h.9M395.5 334.8h.9M389.9 340.1h.9M390.7 331.1h.9M399.1 322.9h.9M391.4 337.7h.9M386.7 335.7h.9M396.2 323.9h.9M392.1 327.3h.9M385.9 339.4h.9M387.7 329.5h.9M405.1 318.7h.9M397.1 333.2h.9M385.9 335.7h.9M387.0 334.7h.9M391.1 328.5h.9M389.7 336.6h.9M404.0 320.2h.9M389.5 340.6h.9M391.5 336.6h.9M407.8 328.5h.9M389.4 326.3h.9M390.2 329.9h.9M385.2 335.7h.9M391.4 327.6h.9M405.6 319.8h.9M390.9 327.4h.9M392.1 333.4h.9M411.8 320.7h.9M391.0 328.6h.9M401.1 321.8h.9M388.0 340.9h.9M387.8 345.3h.9M410.0 323.2h.9M388.4 326.9h.9M399.3 333.6h.9M385.7 338.6h.9M406.8 319.4h.9M392.2 326.5h.9M408.0 326.6h.9M391.3 337.7h.9M389.3 340.3h.9M400.1 320.4h.9M388.9 327.3h.9M402.8 322.4h.9M398.7 322.9h.9M405.7 319.4h.9M404.9 320.6h.9M400.8 319.1h.9M384.4 341.0h.9M392.1 331.2h.9M409.5 325.7h.9M403.9 321.0h.9M403.4 320.9h.9M386.4 333.3h.9M389.6 339.4h.9M395.9 333.7h.9M386.3 338.3h.9M410.7 323.9h.9M387.3 330.7h.9M389.7 333.2h.9M392.6 336.5h.9M392.0 331.0h.9M385.5 336.4h.9M392.7 336.2h.9M399.2 322.4h.9M410.8 323.2h.9M399.4 334.0h.9M388.4 340.9h.9M405.8 319.4h.9M399.7 319.1h.9M394.7 334.4h.9M392.9 337.4h.9M408.5 321.3h.9M398.8 333.2h.9M404.1 330.7h.9M393.7 335.0h.9M391.4 330.9h.9M391.2 336.8h.9M393.9 325.5h.9M388.0 339.3h.9M389.1 326.8h.9M400.8 332.3h.9M386.4 336.1h.9M391.1 327.0h.9M397.5 323.6h.9M395.9 334.4h.9M406.2 329.3h.9M408.1 327.4h.9M392.4 327.9h.9M391.2 326.0h.9M389.3 327.2h.9M390.2 331.0h.9M390.0 332.2h.9M409.7 323.7h.9M400.5 319.7h.9M398.0 323.4h.9M391.4 328.9h.9M392.5 337.2h.9M402.1 321.2h.9M410.4 324.1h.9M412.0 320.9h.9M393.5 328.2h.9M395.5 332.8h.9M386.5 337.1h.9M392.3 331.7h.9M392.5 337.9h.9M389.1 329.1h.9M393.2 337.3h.9M394.2 333.6h.9M384.3 337.4h.9M385.7 333.8h.9M390.6 333.6h.9M394.9 333.2h.9M401.3 321.1h.9M408.2 327.9h.9M402.9 320.9h.9M385.5 337.3h.9M390.9 330.7h.9M405.7 319.4h.9M387.7 339.4h.9M405.8 319.2h.9M386.9 337.4h.9M386.8 331.9h.9M387.0 330.5h.9M406.2 319.7h.9M390.1 333.6h.9M407.1 329.3h.9M385.1 339.7h.9M400.3 333.2h.9M401.3 321.5h.9M388.0 340.4h.9M401.0 332.9h.9M383.3 340.9h.9M387.7 341.3h.9M411.3 320.8h.9M399.3 322.1h.9M392.9 337.5h.9M399.7 319.3h.9M402.0 320.6h.9M384.7 340.0h.9M385.1 340.0h.9M385.2 337.2h.9M410.9 323.4h.9M397.7 323.0h.9M401.0 319.9h.9M400.0 320.3h.9M392.6 332.7h.9M408.1 327.4h.9M386.0 339.2h.9M392.9 325.6h.9M406.8 319.4h.9M402.5 321.1h.9M391.8 326.9h.9M408.8 328.3h.9M403.8 344.9h.9M404.7 347.0h.9M406.7 346.9h.9M405.5 347.8h.9M404.3 345.6h.9M406.8 347.2h.9M404.7 347.7h.9M405.7 346.5h.9M406.3 345.5h.9M406.4 345.8h.9M403.1 345.2h.9M405.8 345.9h.9M404.4 345.3h.9M405.7 347.9h.9M402.9 344.8h.9M406.3 347.2h.9M405.9 345.1h.9M403.2 344.9h.9M404.5 346.0h.9M405.0 345.3h.9M386.7 338.6h.9" stroke="#0d66eb" stroke-width=".9" opacity="0.66"/>
<path d="M388.9 348.9h.9M388.9 349.1h.9M388.4 346.8h.9M388.6 346.2h.9M385.1 346.0h.9M388.9 351.2h.9M382.0 356.6h.9M383.1 357.3h.9M382.4 348.5h.9M387.0 346.0h.9M385.9 345.7h.9M379.8 355.0h.9M379.5 354.4h.9M383.4 357.6h.9M387.6 346.0h.9M388.8 349.9h.9M380.4 352.0h.9M387.8 353.2h.9M388.5 348.8h.9M383.6 357.3h.9M388.7 351.2h.9M386.1 345.6h.9M387.3 353.6h.9M388.2 346.0h.9M384.5 346.7h.9M388.7 348.5h.9M387.7 346.0h.9M387.5 353.3h.9M383.4 357.5h.9M361.5 342.4h.9M363.6 341.2h.9M361.2 341.7h.9M364.2 349.7h.9M360.8 343.8h.9M363.0 340.3h.9M361.5 341.5h.9M361.0 344.3h.9M363.0 340.9h.9M360.6 344.4h.9M363.4 351.6h.9M364.2 344.4h.9M363.1 340.8h.9M360.6 350.3h.9M388.2 337.6h.9M392.5 335.2h.9M394.7 324.5h.9M399.4 323.7h.9M400.3 331.8h.9M399.0 327.0h.9M399.1 324.9h.9M389.3 331.9h.9M389.0 335.4h.9M388.4 334.5h.9M393.2 331.5h.9M398.4 323.5h.9M398.3 331.0h.9M394.7 328.5h.9M398.2 331.3h.9M408.7 323.7h.9M392.8 334.2h.9M387.3 331.8h.9M408.2 324.3h.9M396.1 324.9h.9M389.0 330.1h.9M388.1 338.7h.9M407.7 323.6h.9M408.6 324.6h.9M408.8 323.3h.9M392.8 329.5h.9M407.6 326.6h.9M403.2 330.0h.9M387.3 333.8h.9M393.0 326.8h.9M388.8 336.5h.9M394.7 325.3h.9M400.7 329.1h.9M402.5 330.9h.9M399.4 331.1h.9M389.0 333.9h.9M398.6 323.2h.9M388.7 335.0h.9M389.0 332.9h.9M405.0 328.5h.9M394.1 332.5h.9M393.1 334.0h.9M393.0 326.2h.9M391.7 328.8h.9M392.7 326.2h.9M392.4 330.0h.9M401.5 328.5h.9M403.7 325.8h.9M407.2 328.3h.9M405.1 328.4h.9M407.7 321.3h.9M400.2 323.5h.9M397.5 332.4h.9M388.0 336.8h.9M399.6 331.3h.9M390.4 336.0h.9M400.9 331.7h.9M407.7 321.3h.9M400.9 332.0h.9M394.9 327.4h.9M399.4 331.9h.9M408.6 323.6h.9M389.4 330.2h.9M393.6 334.0h.9M394.8 328.2h.9M400.9 330.0h.9M394.4 329.0h.9M391.4 334.7h.9M406.9 328.0h.9M389.1 330.0h.9M404.7 328.0h.9M399.3 331.3h.9M391.6 333.5h.9M404.2 321.4h.9M394.2 326.9h.9M402.5 323.4h.9M397.4 329.6h.9M387.4 336.6h.9M386.8 333.8h.9M392.8 329.1h.9M397.2 332.0h.9M408.2 324.6h.9M389.5 333.5h.9M387.1 332.0h.9M388.4 338.7h.9M396.7 332.1h.9M392.7 334.9h.9M387.5 336.1h.9M400.9 329.2h.9M391.5 329.6h.9M403.5 330.4h.9M396.4 324.4h.9M402.7 330.6h.9M387.2 336.3h.9M392.9 335.3h.9M402.0 329.3h.9M387.4 335.7h.9M399.2 326.6h.9M389.2 329.7h.9M393.3 331.5h.9M403.7 329.0h.9M392.5 335.8h.9M398.4 324.5h.9M388.3 336.8h.9M400.5 323.7h.9M388.5 329.6h.9M393.5 326.5h.9M388.3 332.7h.9M388.2 335.1h.9M389.1 337.8h.9M395.3 326.2h.9M399.2 325.4h.9M408.0 323.7h.9M398.0 331.9h.9M389.1 338.0h.9M391.6 329.6h.9M398.4 332.3h.9M408.4 325.0h.9M397.5 324.9h.9M387.7 334.3h.9M392.8 330.4h.9M388.8 338.3h.9M388.5 334.8h.9M404.1 321.5h.9M399.2 325.6h.9M386.9 334.4h.9M389.7 336.0h.9M390.1 330.6h.9M387.1 336.4h.9M387.8 333.1h.9M391.1 329.8h.9M396.7 324.0h.9M390.9 334.9h.9M402.1 330.9h.9M392.4 329.7h.9M399.2 331.5h.9M394.5 328.3h.9M388.0 335.9h.9M407.3 324.3h.9M402.3 330.8h.9M388.4 338.9h.9M394.6 327.3h.9M390.3 335.7h.9M393.5 329.4h.9M408.1 326.3h.9M387.1 331.7h.9M403.7 325.2h.9M391.8 334.9h.9M394.4 327.8h.9M389.0 338.2h.9M391.3 335.2h.9M408.1 322.8h.9M403.7 330.2h.9M391.8 328.8h.9M408.1 321.7h.9M399.0 330.0h.9M387.6 332.4h.9M408.9 324.0h.9M399.3 323.9h.9M391.8 334.4h.9M397.7 329.8h.9M403.5 329.1h.9M393.5 333.0h.9M400.3 328.3h.9M394.1 327.8h.9M407.7 325.1h.9M406.4 328.9h.9M386.9 334.0h.9M395.4 325.5h.9M406.2 328.8h.9M395.0 328.6h.9M400.5 329.7h.9M403.6 329.5h.9M401.1 330.2h.9M408.8 323.4h.9M400.4 323.9h.9M393.7 330.6h.9M393.1 329.2h.9M393.4 334.4h.9M393.2 326.6h.9M400.8 328.6h.9M398.3 330.1h.9M389.2 333.1h.9M387.4 333.6h.9M393.2 335.1h.9M398.5 331.4h.9M391.9 334.5h.9M394.7 326.2h.9M407.1 327.7h.9M388.4 338.7h.9M393.6 326.5h.9M404.3 326.7h.9M388.8 337.4h.9M394.5 325.9h.9M392.7 334.8h.9M395.7 325.4h.9M401.4 330.6h.9M387.4 333.1h.9M394.0 332.7h.9M393.8 332.3h.9M393.7 332.9h.9M399.2 323.8h.9M404.9 321.1h.9M403.1 330.3h.9M389.2 331.5h.9M388.5 330.5h.9M406.3 327.6h.9M398.4 324.3h.9M395.9 324.2h.9M389.3 338.2h.9M395.8 325.4h.9M386.8 332.9h.9M405.9 328.2h.9M407.1 328.2h.9M389.4 332.9h.9M398.6 325.8h.9M391.9 334.1h.9M387.9 331.2h.9M388.3 337.5h.9M405.8 346.7h.9M405.3 347.4h.9M405.8 347.0h.9M405.5 347.1h.9" stroke="#0383eb" stroke-width=".9" opacity="0.75"/>
<path d="M381.3 351.1h.9M388.0 347.8h.9M387.5 347.7h.9M386.1 354.8h.9M386.3 346.1h.9M386.5 346.2h.9M388.1 349.1h.9M385.9 346.2h.9M383.3 348.4h.9M380.4 352.6h.9M385.7 346.4h.9M383.8 348.3h.9M386.7 346.5h.9M388.4 348.2h.9M385.7 347.0h.9M383.4 356.9h.9M386.8 346.8h.9M381.4 351.0h.9M387.5 353.2h.9M385.0 355.7h.9M384.3 347.5h.9M384.8 347.4h.9M382.2 356.8h.9M388.1 350.4h.9M381.8 349.8h.9M380.2 355.5h.9M363.3 341.4h.9M364.4 345.8h.9M361.4 351.1h.9M363.3 341.0h.9M362.2 351.8h.9M361.2 343.0h.9M360.9 345.4h.9M363.1 351.3h.9M364.5 345.9h.9M362.7 351.6h.9M364.4 345.6h.9M364.1 343.3h.9M361.7 341.7h.9M363.6 350.7h.9M360.8 346.3h.9M362.6 351.6h.9M360.6 345.0h.9M364.2 342.8h.9M361.3 342.7h.9M389.5 335.2h.9M404.6 327.5h.9M394.5 331.2h.9M403.6 322.9h.9M398.9 326.8h.9M394.2 330.0h.9M396.9 331.6h.9M389.8 334.8h.9M407.2 321.4h.9M406.0 323.9h.9M403.3 329.5h.9M405.1 326.3h.9M395.3 328.7h.9M404.1 322.2h.9M403.6 327.2h.9M396.1 328.2h.9M405.8 327.2h.9M402.9 327.5h.9M402.6 328.1h.9M396.5 327.1h.9M405.2 325.9h.9M407.9 322.6h.9M395.8 327.0h.9M404.2 322.8h.9M395.2 329.7h.9M405.4 325.4h.9M396.3 328.2h.9M397.8 325.6h.9M403.1 329.5h.9M407.1 322.6h.9M406.9 324.5h.9M397.2 328.6h.9M394.2 332.0h.9M397.5 328.1h.9M402.8 327.5h.9M388.0 347.5h.9M397.0 328.2h.9M396.7 329.6h.9M405.2 326.3h.9M399.1 329.1h.9M399.0 328.9h.9M397.9 328.2h.9M407.8 321.9h.9M388.3 331.1h.9M403.5 327.0h.9M398.1 328.6h.9M405.8 327.9h.9M395.3 327.6h.9M405.3 325.2h.9M400.3 330.7h.9M401.1 327.7h.9M404.9 327.5h.9M388.1 332.4h.9M396.4 327.5h.9M406.0 321.4h.9M402.5 329.4h.9M403.0 327.8h.9M400.8 327.2h.9M402.6 323.5h.9M402.7 329.9h.9M405.6 321.5h.9M400.1 324.9h.9M395.7 328.2h.9M407.2 322.2h.9M396.2 325.9h.9M407.1 321.8h.9M397.9 331.7h.9M404.5 324.9h.9M399.8 324.4h.9M390.0 335.8h.9M402.7 323.9h.9M399.6 330.3h.9M389.5 334.9h.9M403.2 323.2h.9M402.7 323.0h.9M400.8 328.0h.9M399.9 329.9h.9M389.6 334.5h.9M396.1 329.8h.9M398.6 328.2h.9M399.8 329.9h.9M406.0 321.5h.9M403.8 328.3h.9M402.7 323.1h.9M394.9 330.0h.9M396.9 328.7h.9M399.1 329.1h.9M389.6 335.0h.9M396.9 324.9h.9M388.4 330.7h.9M407.3 325.2h.9M403.2 326.7h.9M396.5 324.7h.9M395.5 329.5h.9M398.9 326.3h.9M397.5 325.7h.9M397.6 325.3h.9M400.2 325.1h.9M395.3 329.9h.9M405.0 328.0h.9M403.0 326.8h.9M406.3 321.1h.9M398.5 328.1h.9M400.1 330.2h.9M405.8 326.6h.9M400.0 330.8h.9M403.4 324.6h.9M394.3 330.3h.9M402.5 325.7h.9M398.2 326.5h.9M397.4 328.6h.9M399.8 324.1h.9M402.5 329.2h.9M401.6 327.9h.9M398.0 326.1h.9M408.0 322.5h.9M400.4 329.0h.9M407.3 324.9h.9M407.4 326.1h.9M401.4 327.6h.9M405.3 327.2h.9M399.2 328.9h.9M407.2 326.5h.9M395.8 329.4h.9M396.1 327.0h.9M406.3 324.2h.9M400.1 327.9h.9M393.6 331.5h.9M407.1 326.4h.9M398.6 328.8h.9M404.4 324.8h.9M403.2 325.3h.9M398.0 325.4h.9M401.0 327.1h.9M392.3 334.7h.9M400.1 326.6h.9M397.3 331.5h.9M397.4 328.4h.9M397.2 331.5h.9M398.6 328.9h.9M395.6 326.6h.9M407.2 322.4h.9M402.2 327.6h.9M401.7 324.1h.9M398.0 325.2h.9M398.8 329.9h.9M388.6 331.6h.9M403.2 329.1h.9M389.3 331.4h.9M403.7 328.5h.9M388.4 331.9h.9M396.4 329.2h.9M394.1 332.4h.9M404.3 322.5h.9M396.8 329.2h.9M389.4 331.5h.9M402.7 328.0h.9M390.0 335.6h.9M407.4 322.1h.9M395.5 325.8h.9M397.3 331.7h.9M402.4 327.2h.9M388.6 331.9h.9M400.1 325.6h.9M389.7 335.1h.9M403.7 327.3h.9M400.0 330.8h.9M394.1 331.0h.9M399.3 329.9h.9M396.7 325.7h.9M403.9 327.2h.9M389.6 334.5h.9M398.7 326.6h.9M394.0 331.8h.9M388.7 330.8h.9" stroke="#07a1c1" stroke-width=".9" opacity="0.83"/>
<path d="M382.4 356.2h.9M382.0 356.5h.9M382.5 357.0h.9M381.6 350.4h.9M380.1 353.7h.9M384.9 355.8h.9M386.5 347.3h.9M387.9 348.1h.9M382.0 356.3h.9M382.8 356.8h.9M386.6 353.0h.9M380.1 354.9h.9M387.8 351.6h.9M381.3 351.9h.9M384.5 348.0h.9M380.4 354.5h.9M385.7 347.3h.9M380.0 353.3h.9M386.6 353.1h.9M387.6 351.7h.9M384.6 355.7h.9M383.2 348.8h.9M381.9 350.4h.9M387.8 348.6h.9M383.2 348.9h.9M362.5 351.4h.9M361.1 350.9h.9M364.3 346.8h.9M363.0 341.3h.9M363.6 344.7h.9M364.5 347.4h.9M364.0 343.0h.9M363.9 342.5h.9M364.5 348.2h.9M362.8 351.5h.9M363.8 343.9h.9M363.4 341.8h.9M362.8 341.3h.9M361.9 342.4h.9M363.5 342.5h.9M361.8 351.0h.9M363.6 349.8h.9M363.5 342.1h.9M364.5 346.1h.9M362.5 351.1h.9M361.2 350.4h.9M364.1 348.5h.9M363.4 342.0h.9M406.4 325.9h.9M401.5 326.7h.9M396.6 326.8h.9M406.9 326.1h.9M403.7 323.6h.9M406.1 322.2h.9M395.8 331.3h.9M400.6 326.6h.9M405.3 323.6h.9M397.7 326.5h.9M396.5 330.8h.9M402.7 324.3h.9M396.3 331.0h.9M395.6 330.5h.9M401.6 326.2h.9M401.3 327.4h.9M401.9 324.9h.9M405.9 321.8h.9M397.8 326.8h.9M400.5 324.7h.9M394.8 330.5h.9M404.9 322.6h.9M405.6 325.3h.9M397.6 326.6h.9M406.2 323.2h.9M396.8 330.5h.9M405.1 323.3h.9M406.9 325.4h.9M402.2 324.7h.9M403.2 323.5h.9M397.5 326.4h.9M396.5 331.8h.9M406.2 321.8h.9M397.7 327.5h.9M403.5 324.1h.9M405.5 323.8h.9M406.3 326.3h.9M394.9 330.8h.9M400.7 325.5h.9M396.2 330.6h.9M405.7 324.4h.9M401.7 325.9h.9M406.8 325.3h.9M406.7 325.9h.9M406.0 326.2h.9M400.7 325.2h.9M405.0 322.9h.9M395.6 331.7h.9M401.2 326.6h.9M404.6 322.9h.9M400.7 326.5h.9M401.8 326.3h.9M401.5 327.3h.9M397.6 326.7h.9M404.7 323.7h.9M395.8 330.9h.9M400.6 324.8h.9M406.0 322.9h.9M395.4 331.2h.9M395.5 330.1h.9M395.4 330.8h.9M396.9 330.8h.9M396.9 326.8h.9M395.9 331.3h.9M402.4 326.0h.9M406.0 323.4h.9M403.4 323.8h.9M405.3 325.0h.9M405.1 324.4h.9M404.2 324.4h.9M396.9 327.6h.9M401.1 324.5h.9M405.6 326.3h.9M402.1 325.4h.9M401.1 325.0h.9M396.5 327.4h.9M403.1 324.3h.9M406.3 322.2h.9M400.7 325.4h.9M401.1 324.5h.9M400.5 324.6h.9M406.9 325.9h.9M405.9 323.3h.9M406.5 325.4h.9M402.2 325.7h.9M404.2 324.0h.9M401.0 326.2h.9M402.6 324.3h.9M397.5 326.2h.9M397.2 327.8h.9M396.3 331.9h.9M402.3 325.5h.9M407.0 321.5h.9M394.8 331.1h.9M401.7 325.0h.9M404.4 324.2h.9M396.8 326.9h.9M405.9 321.8h.9M405.7 324.0h.9M403.1 323.5h.9M404.4 323.2h.9M404.8 322.9h.9M406.3 322.1h.9M405.3 323.8h.9M406.2 326.0h.9M405.9 325.6h.9M396.8 331.3h.9M395.3 331.1h.9M395.1 331.4h.9M401.6 326.3h.9M406.5 321.8h.9M405.2 323.7h.9M406.0 321.7h.9M401.5 326.5h.9" stroke="#11c185" stroke-width=".9" opacity="0.91"/>
<path d="M382.6 349.4h.9M386.4 353.6h.9M385.2 354.8h.9M383.2 356.3h.9M384.5 355.8h.9M384.4 355.6h.9M380.5 355.2h.9M387.8 350.9h.9M386.2 353.9h.9M382.6 355.7h.9M387.1 348.3h.9M383.3 356.5h.9M383.2 356.2h.9M387.7 349.1h.9M385.4 354.7h.9M385.4 347.7h.9M380.7 355.0h.9M387.1 352.1h.9M380.7 353.3h.9M384.6 355.4h.9M386.8 347.7h.9M387.8 350.3h.9M382.6 349.1h.9M386.9 347.8h.9M387.3 352.3h.9M385.2 354.6h.9M382.3 355.7h.9M382.2 349.5h.9M387.5 350.0h.9M380.8 353.4h.9M382.6 349.2h.9M381.3 352.5h.9M381.9 350.7h.9M384.4 355.6h.9M386.9 347.6h.9M381.8 351.5h.9M382.1 349.9h.9M380.7 352.9h.9M361.7 343.0h.9M361.1 349.9h.9M361.1 349.5h.9M361.8 350.9h.9M363.8 345.0h.9M362.7 341.8h.9M361.2 348.1h.9M362.8 342.0h.9M361.5 343.1h.9M361.1 345.1h.9M362.5 342.3h.9M361.9 343.6h.9M362.0 343.1h.9M361.4 348.4h.9M361.4 344.9h.9M363.8 345.0h.9M363.8 343.1h.9M361.7 350.7h.9M362.0 344.0h.9M361.5 348.1h.9M361.6 350.7h.9M363.3 350.0h.9M361.4 345.2h.9M362.7 341.6h.9M362.3 342.5h.9M363.8 343.1h.9M362.3 342.6h.9M362.1 342.7h.9M363.6 349.3h.9M362.6 342.4h.9M361.0 349.1h.9" stroke="#36ce55" stroke-width=".9" opacity="0.99"/>
<path d="M387.2 349.3h.9M380.7 354.6h.9M383.2 349.3h.9M384.4 355.3h.9M380.9 355.0h.9M381.4 353.0h.9M381.1 355.5h.9M385.6 354.2h.9M381.2 355.2h.9M384.2 355.5h.9M380.6 354.3h.9M381.3 355.1h.9M383.8 355.7h.9M383.5 349.1h.9M387.2 351.5h.9M382.6 355.5h.9M384.6 348.1h.9M381.0 354.5h.9M381.5 352.9h.9M383.3 349.3h.9M387.3 351.2h.9M386.5 348.3h.9M381.5 352.8h.9M383.5 355.7h.9M386.2 347.6h.9M381.5 355.3h.9M387.3 351.5h.9M380.7 354.0h.9M383.4 355.5h.9M383.3 349.5h.9M383.3 349.3h.9M382.2 355.4h.9M381.4 355.5h.9M387.1 348.6h.9M386.0 354.5h.9M382.1 350.2h.9M387.4 349.7h.9M363.2 343.5h.9M361.4 347.7h.9M362.8 343.0h.9M361.1 347.1h.9M363.9 348.1h.9M361.3 345.7h.9M361.1 347.3h.9M363.1 344.8h.9M362.8 343.0h.9M362.3 344.3h.9M362.6 350.5h.9M363.7 347.1h.9M361.5 345.7h.9M361.9 344.5h.9M361.1 347.2h.9M361.8 350.2h.9M363.2 343.5h.9M363.2 343.3h.9M363.3 343.3h.9M362.4 343.4h.9M362.4 343.4h.9M361.2 347.1h.9M363.3 344.4h.9M362.2 350.6h.9M361.4 346.1h.9M361.9 344.7h.9M362.8 350.2h.9M363.7 348.8h.9M363.3 343.5h.9M363.7 346.7h.9M361.2 346.1h.9M362.9 343.8h.9M363.2 343.9h.9M362.9 350.0h.9M363.1 343.5h.9M362.6 350.9h.9M362.6 350.6h.9M363.5 347.9h.9M362.2 344.5h.9M364.0 347.8h.9M362.1 343.5h.9M361.8 344.9h.9M363.9 348.2h.9M362.1 350.8h.9M361.5 346.9h.9M363.7 346.3h.9M362.8 344.4h.9M362.2 344.3h.9M363.6 346.3h.9M361.7 350.2h.9M361.8 350.1h.9M361.3 346.2h.9" stroke="#63d728" stroke-width=".9" opacity="1.00"/>
<path d="M383.4 349.5h.9M383.3 349.5h.9M382.2 354.7h.9M384.0 355.0h.9M382.9 354.6h.9M382.1 350.8h.9M381.7 352.1h.9M382.0 352.1h.9M381.5 353.0h.9M387.5 350.6h.9M387.0 348.9h.9M383.1 355.4h.9M386.0 348.5h.9M387.1 350.0h.9M381.2 354.4h.9M384.6 355.0h.9M386.9 348.7h.9M385.4 354.2h.9M383.8 355.0h.9M385.0 348.4h.9M387.4 350.3h.9M387.0 350.8h.9M386.9 348.8h.9M385.2 348.4h.9M381.4 354.9h.9M387.5 350.1h.9M381.4 354.0h.9M381.2 354.8h.9M381.2 353.3h.9M387.3 350.4h.9M381.3 354.2h.9M386.7 349.1h.9M383.3 355.3h.9M383.5 349.4h.9M385.2 348.4h.9M387.2 350.3h.9M381.5 354.5h.9M386.5 348.1h.9M382.3 350.5h.9M381.0 354.3h.9M381.9 354.7h.9M381.1 353.6h.9M382.6 354.9h.9M383.0 349.7h.9M382.3 350.7h.9M387.3 350.2h.9M363.2 347.2h.9M362.3 349.8h.9M363.4 349.2h.9M361.7 348.9h.9M361.8 348.2h.9M363.2 347.0h.9M362.9 349.6h.9M362.0 349.8h.9M363.1 345.7h.9M362.6 344.9h.9M363.3 345.8h.9M363.1 345.8h.9M363.4 345.5h.9M362.0 349.6h.9M362.7 349.8h.9M361.9 349.7h.9M363.3 347.3h.9M361.9 348.1h.9M362.8 344.7h.9M361.5 345.2h.9M363.2 349.4h.9M361.8 350.0h.9M362.6 344.8h.9M361.8 348.5h.9M363.0 346.5h.9M361.9 349.7h.9M362.7 349.7h.9" stroke="#8fde0f" stroke-width=".9" opacity="1.00"/>
<path d="M381.8 352.8h.9M386.5 351.0h.9M384.2 354.6h.9M381.7 353.1h.9M383.3 354.8h.9M385.9 353.9h.9M381.6 353.2h.9M381.9 354.0h.9M385.8 353.6h.9M383.6 354.6h.9M386.4 348.8h.9M385.7 354.0h.9M384.2 349.1h.9M382.5 354.3h.9M386.2 349.0h.9M385.9 348.1h.9M383.5 350.0h.9M386.7 350.2h.9M386.6 351.3h.9M381.9 354.2h.9M381.6 352.8h.9M386.6 350.4h.9M384.2 354.6h.9M387.0 351.8h.9M386.6 351.7h.9M382.0 352.7h.9M384.8 349.0h.9M386.5 351.9h.9M385.8 348.4h.9M383.7 354.8h.9M385.8 353.9h.9M386.5 348.7h.9M381.9 353.6h.9M382.0 354.5h.9M363.4 348.2h.9M362.5 349.1h.9M363.4 348.9h.9M362.6 345.8h.9M362.8 345.5h.9M361.9 345.7h.9M363.4 347.8h.9M363.1 348.7h.9M363.1 348.9h.9M363.0 345.8h.9M361.5 346.5h.9M362.8 349.3h.9M361.9 347.4h.9M363.1 346.5h.9M361.6 347.7h.9M362.6 349.3h.9M362.7 345.1h.9M362.4 349.2h.9M362.9 345.6h.9M362.9 345.3h.9M363.0 349.3h.9M363.0 348.5h.9M363.2 348.3h.9M362.3 345.2h.9M363.4 349.0h.9M361.7 347.6h.9M361.6 346.0h.9M361.9 347.6h.9M362.0 349.3h.9" stroke="#bae207" stroke-width=".9" opacity="1.00"/>
<path d="M384.4 350.0h.9M383.1 350.3h.9M383.0 350.8h.9M385.5 348.9h.9M385.8 348.7h.9M386.2 349.8h.9M382.5 354.3h.9M384.7 354.2h.9M384.6 349.5h.9M383.2 350.4h.9M385.7 353.3h.9M386.1 349.5h.9M383.6 350.5h.9M382.7 350.7h.9M385.3 348.9h.9M384.9 349.1h.9M384.7 349.4h.9M386.2 349.6h.9M382.2 352.0h.9M382.6 350.8h.9M385.2 348.9h.9M385.2 353.9h.9M385.1 348.8h.9M382.3 353.9h.9M386.2 352.3h.9M383.5 350.5h.9M385.7 353.2h.9M383.8 350.2h.9M386.7 350.9h.9M385.8 349.0h.9M384.8 349.4h.9M382.8 350.6h.9M385.3 349.0h.9M386.0 349.1h.9M385.7 348.9h.9M385.4 348.7h.9M382.6 354.5h.9M385.7 353.1h.9M362.7 346.5h.9M362.3 347.6h.9M362.4 345.8h.9M362.4 346.3h.9M362.8 348.2h.9M362.8 348.2h.9M362.2 347.3h.9M362.7 347.4h.9M362.8 347.8h.9M362.2 346.5h.9M362.7 348.3h.9M362.3 348.5h.9M362.6 348.2h.9M362.1 345.8h.9M362.2 347.7h.9M362.7 346.4h.9M362.2 345.8h.9M362.4 347.9h.9M362.3 347.9h.9M362.0 346.4h.9M362.1 347.9h.9M362.5 346.8h.9M362.7 348.2h.9M362.7 347.4h.9M362.0 346.3h.9M362.3 346.8h.9M362.4 345.6h.9M362.1 347.4h.9M362.5 348.1h.9M362.3 346.4h.9" stroke="#e5e500" stroke-width=".9" opacity="1.00"/>
<path d="M383.4 350.9h.9M384.1 354.4h.9M386.0 349.8h.9M383.8 354.2h.9M385.1 349.4h.9M385.5 349.1h.9M386.1 351.6h.9M383.1 350.6h.9M383.2 354.0h.9M385.7 349.2h.9M385.0 349.4h.9M382.9 351.2h.9M384.9 349.9h.9M382.9 351.3h.9M386.2 351.2h.9M382.4 352.7h.9M386.3 350.7h.9M384.2 350.4h.9M384.3 354.3h.9M384.3 354.3h.9M386.3 351.8h.9M385.5 349.2h.9M386.4 350.4h.9M386.5 351.9h.9M385.5 349.2h.9M382.4 352.3h.9" stroke="#efc300" stroke-width=".9" opacity="1.00"/>
<path d="M384.0 351.0h.9M385.4 350.1h.9M382.7 353.7h.9M385.6 350.3h.9M382.9 353.9h.9M383.9 350.9h.9M384.9 350.5h.9M385.9 350.3h.9M385.0 349.8h.9M385.0 350.5h.9M385.9 352.9h.9M385.4 349.9h.9M385.6 350.4h.9M385.1 350.4h.9M385.2 350.5h.9M385.3 349.6h.9M384.9 350.5h.9" stroke="#f9a000" stroke-width=".9" opacity="1.00"/>
<path d="M385.2 353.2h.9M383.0 351.0h.9M386.0 352.1h.9M383.0 353.6h.9M382.5 353.1h.9M385.2 353.2h.9M385.1 351.0h.9M385.9 352.0h.9M385.7 350.6h.9M385.2 350.7h.9M385.9 351.0h.9M382.8 351.7h.9M385.8 351.4h.9M383.2 351.5h.9M382.9 353.4h.9M385.7 352.1h.9M385.8 351.4h.9M384.8 350.7h.9M385.5 352.3h.9M385.6 350.6h.9M382.8 351.5h.9M385.2 353.1h.9M384.2 350.9h.9M383.1 351.5h.9M386.0 351.1h.9M385.8 350.5h.9M385.9 350.6h.9M385.9 351.1h.9M385.3 350.6h.9M383.2 353.5h.9M385.6 350.6h.9M383.0 353.8h.9" stroke="#fa6d00" stroke-width=".9" opacity="1.00"/>
<path d="M382.8 352.6h.9M383.3 353.2h.9M385.2 351.9h.9M385.5 351.6h.9M384.4 353.9h.9M385.2 352.5h.9M384.0 353.4h.9M383.7 352.3h.9M385.1 352.8h.9M383.0 352.0h.9M384.0 351.1h.9M383.4 352.0h.9M383.6 352.6h.9M383.9 353.9h.9M383.7 352.0h.9M382.7 352.7h.9M383.6 353.1h.9M383.8 351.8h.9M384.8 352.8h.9M385.0 351.6h.9M385.3 351.7h.9M383.4 352.6h.9M383.9 351.9h.9M383.3 352.3h.9M384.5 353.3h.9M384.0 351.9h.9M383.7 352.2h.9M383.8 352.6h.9M384.2 352.6h.9M384.8 351.7h.9M383.4 352.2h.9M384.5 353.2h.9M385.2 352.9h.9M383.7 352.2h.9M383.8 351.5h.9M384.4 352.0h.9M382.6 352.7h.9M383.2 353.5h.9M384.3 353.0h.9M383.6 352.5h.9M383.9 353.6h.9M384.0 353.2h.9M383.6 352.6h.9M383.9 351.5h.9M385.0 351.2h.9M385.3 351.6h.9M383.7 352.7h.9M383.6 352.8h.9M383.8 351.1h.9M384.2 352.4h.9M384.2 352.9h.9M384.7 353.2h.9M385.3 352.5h.9M385.5 351.5h.9M385.4 351.4h.9M383.1 353.1h.9M385.1 352.1h.9M385.2 351.3h.9M383.2 352.4h.9M385.2 351.9h.9M384.9 352.3h.9M384.4 351.2h.9M385.4 351.7h.9M385.2 352.9h.9M384.3 351.3h.9M384.9 352.5h.9M383.5 352.5h.9M385.5 352.3h.9M384.2 353.0h.9M383.6 353.0h.9M383.8 352.4h.9M385.3 352.6h.9M385.3 351.8h.9M384.2 353.2h.9M383.7 352.5h.9M382.6 352.5h.9M383.7 353.2h.9M384.3 352.3h.9M384.7 351.4h.9M383.1 353.3h.9M383.8 353.2h.9M384.4 352.7h.9M384.8 352.5h.9M383.3 352.2h.9M384.7 351.6h.9M385.4 352.5h.9M384.4 353.2h.9M385.1 351.8h.9M384.1 351.7h.9M384.2 352.8h.9M383.4 352.3h.9M383.9 353.3h.9M383.2 352.5h.9M385.0 352.9h.9M384.3 351.4h.9M383.0 352.3h.9M383.3 351.7h.9M382.6 352.2h.9M383.9 353.2h.9M383.5 353.3h.9M383.5 352.0h.9M384.9 352.3h.9M384.4 351.7h.9M385.2 352.6h.9M384.9 352.5h.9M384.7 352.4h.9M383.7 351.7h.9M384.4 353.0h.9M384.3 352.8h.9M383.2 352.8h.9M384.5 351.3h.9M385.3 352.3h.9M384.0 354.0h.9M383.7 352.5h.9M383.9 353.1h.9M382.9 352.8h.9M383.3 353.2h.9M382.8 352.0h.9M383.5 351.5h.9" stroke="#f02400" stroke-width=".9" opacity="1.00"/>
<line x1="438.10" y1="319.50" x2="438.10" y2="334.50" stroke="#80c8a0" stroke-width="1.0"/>
<line x1="438.10" y1="334.50" x2="438.10" y2="344.50" stroke="#8ea8e8" stroke-width="1.0"/>
<rect x="360.00" y="294.50" width="78.30" height="71.80" fill="none" stroke="#8a9696" stroke-width="0.9"/>
<line x1="358.40" y1="314.10" x2="360.40" y2="314.10" stroke="#555" stroke-width="0.8"/>
<line x1="359.20" y1="308.50" x2="360.40" y2="308.50" stroke="#777" stroke-width="0.6"/>
<line x1="359.20" y1="305.23" x2="360.40" y2="305.23" stroke="#777" stroke-width="0.6"/>
<line x1="359.20" y1="302.90" x2="360.40" y2="302.90" stroke="#777" stroke-width="0.6"/>
<line x1="359.20" y1="301.10" x2="360.40" y2="301.10" stroke="#777" stroke-width="0.6"/>
<line x1="359.20" y1="299.63" x2="360.40" y2="299.63" stroke="#777" stroke-width="0.6"/>
<line x1="359.20" y1="298.38" x2="360.40" y2="298.38" stroke="#777" stroke-width="0.6"/>
<line x1="359.20" y1="297.30" x2="360.40" y2="297.30" stroke="#777" stroke-width="0.6"/>
<line x1="359.20" y1="296.35" x2="360.40" y2="296.35" stroke="#777" stroke-width="0.6"/>
<line x1="358.40" y1="332.70" x2="360.40" y2="332.70" stroke="#555" stroke-width="0.8"/>
<line x1="359.20" y1="327.10" x2="360.40" y2="327.10" stroke="#777" stroke-width="0.6"/>
<line x1="359.20" y1="323.83" x2="360.40" y2="323.83" stroke="#777" stroke-width="0.6"/>
<line x1="359.20" y1="321.50" x2="360.40" y2="321.50" stroke="#777" stroke-width="0.6"/>
<line x1="359.20" y1="319.70" x2="360.40" y2="319.70" stroke="#777" stroke-width="0.6"/>
<line x1="359.20" y1="318.23" x2="360.40" y2="318.23" stroke="#777" stroke-width="0.6"/>
<line x1="359.20" y1="316.98" x2="360.40" y2="316.98" stroke="#777" stroke-width="0.6"/>
<line x1="359.20" y1="315.90" x2="360.40" y2="315.90" stroke="#777" stroke-width="0.6"/>
<line x1="359.20" y1="314.95" x2="360.40" y2="314.95" stroke="#777" stroke-width="0.6"/>
<line x1="358.40" y1="351.30" x2="360.40" y2="351.30" stroke="#555" stroke-width="0.8"/>
<line x1="359.20" y1="345.70" x2="360.40" y2="345.70" stroke="#777" stroke-width="0.6"/>
<line x1="359.20" y1="342.43" x2="360.40" y2="342.43" stroke="#777" stroke-width="0.6"/>
<line x1="359.20" y1="340.10" x2="360.40" y2="340.10" stroke="#777" stroke-width="0.6"/>
<line x1="359.20" y1="338.30" x2="360.40" y2="338.30" stroke="#777" stroke-width="0.6"/>
<line x1="359.20" y1="336.83" x2="360.40" y2="336.83" stroke="#777" stroke-width="0.6"/>
<line x1="359.20" y1="335.58" x2="360.40" y2="335.58" stroke="#777" stroke-width="0.6"/>
<line x1="359.20" y1="334.50" x2="360.40" y2="334.50" stroke="#777" stroke-width="0.6"/>
<line x1="359.20" y1="333.55" x2="360.40" y2="333.55" stroke="#777" stroke-width="0.6"/>
<line x1="358.40" y1="369.90" x2="360.40" y2="369.90" stroke="#555" stroke-width="0.8"/>
<line x1="359.20" y1="364.30" x2="360.40" y2="364.30" stroke="#777" stroke-width="0.6"/>
<line x1="359.20" y1="361.03" x2="360.40" y2="361.03" stroke="#777" stroke-width="0.6"/>
<line x1="359.20" y1="358.70" x2="360.40" y2="358.70" stroke="#777" stroke-width="0.6"/>
<line x1="359.20" y1="356.90" x2="360.40" y2="356.90" stroke="#777" stroke-width="0.6"/>
<line x1="359.20" y1="355.43" x2="360.40" y2="355.43" stroke="#777" stroke-width="0.6"/>
<line x1="359.20" y1="354.18" x2="360.40" y2="354.18" stroke="#777" stroke-width="0.6"/>
<line x1="359.20" y1="353.10" x2="360.40" y2="353.10" stroke="#777" stroke-width="0.6"/>
<line x1="359.20" y1="352.15" x2="360.40" y2="352.15" stroke="#777" stroke-width="0.6"/>
<line x1="357.60" y1="365.30" x2="360.40" y2="365.30" stroke="#555" stroke-width="0.8"/>
<line x1="360.50" y1="367.90" x2="360.50" y2="365.90" stroke="#777" stroke-width="0.6"/>
<line x1="368.20" y1="367.10" x2="368.20" y2="365.90" stroke="#777" stroke-width="0.6"/>
<line x1="375.90" y1="367.10" x2="375.90" y2="365.90" stroke="#777" stroke-width="0.6"/>
<line x1="383.60" y1="367.10" x2="383.60" y2="365.90" stroke="#777" stroke-width="0.6"/>
<line x1="391.30" y1="367.90" x2="391.30" y2="365.90" stroke="#777" stroke-width="0.6"/>
<line x1="399.00" y1="367.10" x2="399.00" y2="365.90" stroke="#777" stroke-width="0.6"/>
<line x1="406.70" y1="367.10" x2="406.70" y2="365.90" stroke="#777" stroke-width="0.6"/>
<line x1="414.40" y1="367.10" x2="414.40" y2="365.90" stroke="#777" stroke-width="0.6"/>
<line x1="422.10" y1="367.90" x2="422.10" y2="365.90" stroke="#777" stroke-width="0.6"/>
<line x1="429.80" y1="367.10" x2="429.80" y2="365.90" stroke="#777" stroke-width="0.6"/>
<line x1="437.50" y1="367.10" x2="437.50" y2="365.90" stroke="#777" stroke-width="0.6"/>
<rect x="378.00" y="308.80" width="41.70" height="34.50" fill="none" stroke="#606060" stroke-width="0.85"/>
<rect x="360.00" y="338.30" width="8.40" height="17.30" fill="none" stroke="#606060" stroke-width="0.85"/>
<rect x="378.00" y="343.30" width="16.80" height="20.70" fill="none" stroke="#606060" stroke-width="0.85"/>
<rect x="394.80" y="343.30" width="24.90" height="13.70" fill="none" stroke="#606060" stroke-width="0.85"/>
<line x1="378.00" y1="343.30" x2="419.70" y2="343.30" stroke="#222" stroke-width="1.3"/>
<line x1="394.80" y1="343.30" x2="394.80" y2="364.00" stroke="#2a2a2a" stroke-width="1.1"/>
<text transform="translate(399.30,306.10) scale(1.100,1)" font-size="9.4" text-anchor="middle">30,2</text>
<text transform="translate(357.80,335.00) scale(1.100,1)" font-size="9.4">13,6</text>
<text transform="translate(419.30,355.30) scale(1.100,1)" font-size="9.4">8,49</text>
<text transform="translate(396.00,365.50) scale(1.100,1)" font-size="9.4">39,3</text>
<text transform="translate(7.40,436.50)" font-size="14.5" font-weight="bold" style="stroke-width:0.55px">C</text>
<rect x="104.50" y="431.30" width="13.00" height="8.20" fill="#c8001e"/>
<rect x="104.50" y="445.00" width="13.00" height="8.20" fill="#0434a8"/>
<text transform="translate(120.00,438.60) scale(1.050,1)" font-size="9.3">Scr</text>
<text transform="translate(121.80,452.30) scale(1.050,1)" font-size="9.3">sh.959</text>
<line x1="65.50" y1="458.60" x2="65.50" y2="572.50" stroke="#000" stroke-width="1.4"/>
<line x1="64.80" y1="571.80" x2="204.80" y2="571.80" stroke="#000" stroke-width="1.4"/>
<line x1="61.20" y1="571.80" x2="65.50" y2="571.80" stroke="#000" stroke-width="1.3"/>
<text transform="translate(57.60,574.10) scale(1.100,1)" font-size="9.3" text-anchor="end">0</text>
<line x1="61.20" y1="549.29" x2="65.50" y2="549.29" stroke="#000" stroke-width="1.3"/>
<text transform="translate(57.60,551.59) scale(1.100,1)" font-size="9.3" text-anchor="end">20</text>
<line x1="61.20" y1="526.78" x2="65.50" y2="526.78" stroke="#000" stroke-width="1.3"/>
<text transform="translate(57.60,529.08) scale(1.100,1)" font-size="9.3" text-anchor="end">40</text>
<line x1="61.20" y1="504.27" x2="65.50" y2="504.27" stroke="#000" stroke-width="1.3"/>
<text transform="translate(57.60,506.57) scale(1.100,1)" font-size="9.3" text-anchor="end">60</text>
<line x1="61.20" y1="481.76" x2="65.50" y2="481.76" stroke="#000" stroke-width="1.3"/>
<text transform="translate(57.60,484.06) scale(1.100,1)" font-size="9.3" text-anchor="end">80</text>
<line x1="61.20" y1="459.25" x2="65.50" y2="459.25" stroke="#000" stroke-width="1.3"/>
<text transform="translate(57.60,461.55) scale(1.100,1)" font-size="9.3" text-anchor="end">100</text>
<line x1="73.70" y1="571.80" x2="73.70" y2="575.40" stroke="#000" stroke-width="1.2"/>
<line x1="86.00" y1="571.80" x2="86.00" y2="575.40" stroke="#000" stroke-width="1.2"/>
<line x1="98.30" y1="571.80" x2="98.30" y2="575.40" stroke="#000" stroke-width="1.2"/>
<line x1="110.00" y1="571.80" x2="110.00" y2="575.40" stroke="#000" stroke-width="1.2"/>
<line x1="122.40" y1="571.80" x2="122.40" y2="575.40" stroke="#000" stroke-width="1.2"/>
<line x1="135.00" y1="571.80" x2="135.00" y2="575.40" stroke="#000" stroke-width="1.2"/>
<line x1="146.90" y1="571.80" x2="146.90" y2="575.40" stroke="#000" stroke-width="1.2"/>
<line x1="159.30" y1="571.80" x2="159.30" y2="575.40" stroke="#000" stroke-width="1.2"/>
<line x1="171.60" y1="571.80" x2="171.60" y2="575.40" stroke="#000" stroke-width="1.2"/>
<line x1="183.80" y1="571.80" x2="183.80" y2="575.40" stroke="#000" stroke-width="1.2"/>
<line x1="196.20" y1="571.80" x2="196.20" y2="575.40" stroke="#000" stroke-width="1.2"/>
<rect x="69.40" y="498.64" width="8.60" height="73.16" fill="#c8001e"/>
<line x1="73.70" y1="498.64" x2="73.70" y2="497.52" stroke="#c8001e" stroke-width="1.1"/>
<line x1="71.70" y1="497.52" x2="75.70" y2="497.52" stroke="#c8001e" stroke-width="1.1"/>
<rect x="81.60" y="524.53" width="8.60" height="47.27" fill="#0434a8"/>
<line x1="85.90" y1="524.53" x2="85.90" y2="523.40" stroke="#0434a8" stroke-width="1.1"/>
<line x1="83.90" y1="523.40" x2="87.90" y2="523.40" stroke="#0434a8" stroke-width="1.1"/>
<rect x="106.10" y="485.14" width="8.60" height="86.66" fill="#c8001e"/>
<line x1="110.40" y1="485.14" x2="110.40" y2="483.45" stroke="#c8001e" stroke-width="1.1"/>
<line x1="108.40" y1="483.45" x2="112.40" y2="483.45" stroke="#c8001e" stroke-width="1.1"/>
<rect x="118.30" y="507.65" width="8.60" height="64.15" fill="#0434a8"/>
<line x1="122.60" y1="507.65" x2="122.60" y2="496.95" stroke="#0434a8" stroke-width="1.1"/>
<line x1="120.60" y1="496.95" x2="124.60" y2="496.95" stroke="#0434a8" stroke-width="1.1"/>
<rect x="142.80" y="471.63" width="8.60" height="100.17" fill="#c8001e"/>
<line x1="147.10" y1="471.63" x2="147.10" y2="471.07" stroke="#c8001e" stroke-width="1.1"/>
<line x1="145.10" y1="471.07" x2="149.10" y2="471.07" stroke="#c8001e" stroke-width="1.1"/>
<rect x="155.00" y="489.08" width="8.60" height="82.72" fill="#0434a8"/>
<line x1="159.30" y1="489.08" x2="159.30" y2="488.51" stroke="#0434a8" stroke-width="1.1"/>
<line x1="157.30" y1="488.51" x2="161.30" y2="488.51" stroke="#0434a8" stroke-width="1.1"/>
<rect x="179.50" y="496.39" width="8.60" height="75.41" fill="#c8001e"/>
<line x1="183.80" y1="496.39" x2="183.80" y2="494.14" stroke="#c8001e" stroke-width="1.1"/>
<line x1="181.80" y1="494.14" x2="185.80" y2="494.14" stroke="#c8001e" stroke-width="1.1"/>
<rect x="191.70" y="515.52" width="8.60" height="56.27" fill="#0434a8"/>
<line x1="196.00" y1="515.52" x2="196.00" y2="514.85" stroke="#0434a8" stroke-width="1.1"/>
<line x1="194.00" y1="514.85" x2="198.00" y2="514.85" stroke="#0434a8" stroke-width="1.1"/>
<text transform="translate(79.20,523.30) scale(0.950,1)" font-size="12">****</text>
<text transform="translate(119.90,497.10) scale(0.950,1)" font-size="12">*</text>
<text transform="translate(152.30,486.30) scale(0.950,1)" font-size="12">****</text>
<text transform="translate(188.90,513.80) scale(0.950,1)" font-size="12">****</text>
<text transform="translate(86.20,583.40) rotate(-45) scale(1.0,1)" font-size="9.9" text-anchor="end">REH</text>
<text transform="translate(122.90,583.40) rotate(-45) scale(1.0,1)" font-size="9.9" text-anchor="end">RS4;11</text>
<text transform="translate(159.60,583.40) rotate(-45) scale(1.0,1)" font-size="9.9" text-anchor="end">TALL-1</text>
<text transform="translate(196.30,583.40) rotate(-45) scale(1.0,1)" font-size="9.9" text-anchor="end">Jurkat</text>
<text style="stroke-width:0.3px" transform="translate(32.6,571) rotate(-90)" font-size="11.3" textLength="110.5" lengthAdjust="spacingAndGlyphs">Annexin-V/7AAD (-) cells (%)</text>
<text transform="translate(258.40,439.50)" font-size="14.5" font-weight="bold" style="stroke-width:0.55px">E</text>
<rect x="346.90" y="431.50" width="13.50" height="8.50" fill="#c8001e"/>
<rect x="346.90" y="445.20" width="13.50" height="8.50" fill="#0434a8"/>
<text transform="translate(362.70,439.20) scale(0.980,1)" font-size="9.3">Anti-PSA</text>
<text transform="translate(363.80,453.00) scale(0.990,1)" font-size="9.3">Anti-IGFBP7</text>
<line x1="314.20" y1="458.00" x2="314.20" y2="573.10" stroke="#000" stroke-width="1.5"/>
<line x1="313.50" y1="572.40" x2="453.20" y2="572.40" stroke="#000" stroke-width="1.5"/>
<line x1="309.60" y1="572.40" x2="314.20" y2="572.40" stroke="#000" stroke-width="1.3"/>
<text transform="translate(305.90,575.30) scale(1.100,1)" font-size="9.4" text-anchor="end">0.0</text>
<line x1="309.60" y1="534.40" x2="314.20" y2="534.40" stroke="#000" stroke-width="1.3"/>
<text transform="translate(305.90,537.30) scale(1.100,1)" font-size="9.4" text-anchor="end">0.4</text>
<line x1="309.60" y1="496.40" x2="314.20" y2="496.40" stroke="#000" stroke-width="1.3"/>
<text transform="translate(305.90,499.30) scale(1.100,1)" font-size="9.4" text-anchor="end">0.8</text>
<line x1="309.60" y1="458.40" x2="314.20" y2="458.40" stroke="#000" stroke-width="1.3"/>
<text transform="translate(305.90,461.30) scale(1.100,1)" font-size="9.4" text-anchor="end">1.2</text>
<line x1="331.20" y1="572.40" x2="331.20" y2="576.00" stroke="#000" stroke-width="1.2"/>
<line x1="365.80" y1="572.40" x2="365.80" y2="576.00" stroke="#000" stroke-width="1.2"/>
<line x1="400.40" y1="572.40" x2="400.40" y2="576.00" stroke="#000" stroke-width="1.2"/>
<line x1="435.00" y1="572.40" x2="435.00" y2="576.00" stroke="#000" stroke-width="1.2"/>
<rect x="320.20" y="466.95" width="9.60" height="105.45" fill="#c8001e"/>
<line x1="325.00" y1="466.95" x2="325.00" y2="466.38" stroke="#c8001e" stroke-width="1.1"/>
<line x1="323.00" y1="466.38" x2="327.00" y2="466.38" stroke="#c8001e" stroke-width="1.1"/>
<rect x="333.10" y="520.15" width="9.60" height="52.25" fill="#0434a8"/>
<line x1="337.90" y1="520.15" x2="337.90" y2="516.35" stroke="#0434a8" stroke-width="1.1"/>
<line x1="335.90" y1="516.35" x2="339.90" y2="516.35" stroke="#0434a8" stroke-width="1.1"/>
<rect x="354.80" y="473.60" width="9.60" height="98.80" fill="#c8001e"/>
<line x1="359.60" y1="473.60" x2="359.60" y2="470.46" stroke="#c8001e" stroke-width="1.1"/>
<line x1="357.60" y1="470.46" x2="361.60" y2="470.46" stroke="#c8001e" stroke-width="1.1"/>
<rect x="367.70" y="515.40" width="9.60" height="57.00" fill="#0434a8"/>
<line x1="372.50" y1="515.40" x2="372.50" y2="513.12" stroke="#0434a8" stroke-width="1.1"/>
<line x1="370.50" y1="513.12" x2="374.50" y2="513.12" stroke="#0434a8" stroke-width="1.1"/>
<rect x="389.40" y="476.45" width="9.60" height="95.95" fill="#c8001e"/>
<line x1="394.20" y1="476.45" x2="394.20" y2="471.70" stroke="#c8001e" stroke-width="1.1"/>
<line x1="392.20" y1="471.70" x2="396.20" y2="471.70" stroke="#c8001e" stroke-width="1.1"/>
<rect x="402.30" y="508.75" width="9.60" height="63.65" fill="#0434a8"/>
<line x1="407.10" y1="508.75" x2="407.10" y2="504.48" stroke="#0434a8" stroke-width="1.1"/>
<line x1="405.10" y1="504.48" x2="409.10" y2="504.48" stroke="#0434a8" stroke-width="1.1"/>
<rect x="424.00" y="475.50" width="9.60" height="96.90" fill="#c8001e"/>
<line x1="428.80" y1="475.50" x2="428.80" y2="473.03" stroke="#c8001e" stroke-width="1.1"/>
<line x1="426.80" y1="473.03" x2="430.80" y2="473.03" stroke="#c8001e" stroke-width="1.1"/>
<rect x="436.90" y="515.40" width="9.60" height="57.00" fill="#0434a8"/>
<line x1="441.70" y1="515.40" x2="441.70" y2="512.55" stroke="#0434a8" stroke-width="1.1"/>
<line x1="439.70" y1="512.55" x2="443.70" y2="512.55" stroke="#0434a8" stroke-width="1.1"/>
<text transform="translate(330.90,515.70) scale(0.950,1)" font-size="12">****</text>
<text transform="translate(365.50,515.70) scale(0.950,1)" font-size="12">****</text>
<text transform="translate(400.10,505.50) scale(0.950,1)" font-size="12">****</text>
<text transform="translate(434.70,513.30) scale(0.950,1)" font-size="12">****</text>
<text transform="translate(337.80,584.40) rotate(-45) scale(1.0,1)" font-size="9.9" text-anchor="end">REH</text>
<text transform="translate(372.40,584.40) rotate(-45) scale(1.0,1)" font-size="9.9" text-anchor="end">RS4;11</text>
<text transform="translate(407.00,584.40) rotate(-45) scale(1.0,1)" font-size="9.9" text-anchor="end">TALL-1</text>
<text transform="translate(441.60,584.40) rotate(-45) scale(1.0,1)" font-size="9.9" text-anchor="end">Jurkat</text>
<text style="stroke-width:0.3px" transform="translate(282.1,589) rotate(-90)" font-size="11.3" textLength="153" lengthAdjust="spacingAndGlyphs">Cell viability (MTT assay) Abs 570/620 nm</text>
<text transform="translate(7.60,645.50)" font-size="14.5" font-weight="bold" style="stroke-width:0.55px">D</text>
<line x1="83.20" y1="652.40" x2="83.20" y2="767.50" stroke="#000" stroke-width="1.4"/>
<line x1="82.50" y1="766.80" x2="140.40" y2="766.80" stroke="#000" stroke-width="1.4"/>
<line x1="78.80" y1="766.80" x2="83.20" y2="766.80" stroke="#000" stroke-width="1.3"/>
<text transform="translate(76.00,770.00) scale(1.180,1)" font-size="9" text-anchor="end">0.00</text>
<line x1="78.80" y1="738.35" x2="83.20" y2="738.35" stroke="#000" stroke-width="1.3"/>
<text transform="translate(76.00,741.55) scale(1.180,1)" font-size="9" text-anchor="end">0.05</text>
<line x1="78.80" y1="709.90" x2="83.20" y2="709.90" stroke="#000" stroke-width="1.3"/>
<text transform="translate(76.00,713.10) scale(1.180,1)" font-size="9" text-anchor="end">0.10</text>
<line x1="78.80" y1="681.45" x2="83.20" y2="681.45" stroke="#000" stroke-width="1.3"/>
<text transform="translate(76.00,684.65) scale(1.180,1)" font-size="9" text-anchor="end">0.15</text>
<line x1="78.80" y1="653.00" x2="83.20" y2="653.00" stroke="#000" stroke-width="1.3"/>
<text transform="translate(76.00,656.20) scale(1.180,1)" font-size="9" text-anchor="end">0.20</text>
<text transform="translate(112.50,644.00)" font-size="11.5" text-anchor="middle">REH</text>
<rect x="88.30" y="759.12" width="8.40" height="7.68" fill="#c8001e"/>
<line x1="92.50" y1="759.12" x2="92.50" y2="758.55" stroke="#c8001e" stroke-width="1.1"/>
<line x1="90.70" y1="758.55" x2="94.30" y2="758.55" stroke="#c8001e" stroke-width="1.1"/>
<rect x="98.80" y="691.69" width="8.40" height="75.11" fill="#0434a8"/>
<line x1="103.00" y1="691.69" x2="103.00" y2="685.43" stroke="#0434a8" stroke-width="1.1"/>
<line x1="101.20" y1="685.43" x2="104.80" y2="685.43" stroke="#0434a8" stroke-width="1.1"/>
<rect x="115.80" y="762.53" width="8.40" height="4.27" fill="#c8001e"/>
<line x1="120.00" y1="762.53" x2="120.00" y2="762.08" stroke="#c8001e" stroke-width="1.1"/>
<line x1="118.20" y1="762.08" x2="121.80" y2="762.08" stroke="#c8001e" stroke-width="1.1"/>
<rect x="126.50" y="720.71" width="8.40" height="46.09" fill="#0434a8"/>
<line x1="130.70" y1="720.71" x2="130.70" y2="716.16" stroke="#0434a8" stroke-width="1.1"/>
<line x1="128.90" y1="716.16" x2="132.50" y2="716.16" stroke="#0434a8" stroke-width="1.1"/>
<line x1="97.75" y1="766.80" x2="97.75" y2="770.40" stroke="#000" stroke-width="1.2"/>
<line x1="125.35" y1="766.80" x2="125.35" y2="770.40" stroke="#000" stroke-width="1.2"/>
<text transform="translate(103.15,778.00) rotate(-45) scale(1.0,1)" font-size="10.1" text-anchor="end">Scr</text>
<text transform="translate(130.75,778.00) rotate(-45) scale(1.0,1)" font-size="10.1" text-anchor="end">sh.959</text>
<path d="M102.8 680.8 V674.5 H130.6 V712.5" stroke="#000" stroke-width="1.3" fill="none"/>
<text transform="translate(112.00,677.30) scale(0.950,1)" font-size="12">**</text>
<line x1="181.70" y1="653.00" x2="181.70" y2="767.50" stroke="#000" stroke-width="1.4"/>
<line x1="181.00" y1="766.80" x2="238.40" y2="766.80" stroke="#000" stroke-width="1.4"/>
<line x1="177.30" y1="766.80" x2="181.70" y2="766.80" stroke="#000" stroke-width="1.3"/>
<text transform="translate(174.50,770.00) scale(1.180,1)" font-size="9" text-anchor="end">0.00</text>
<line x1="177.30" y1="729.07" x2="181.70" y2="729.07" stroke="#000" stroke-width="1.3"/>
<text transform="translate(174.50,732.27) scale(1.180,1)" font-size="9" text-anchor="end">0.01</text>
<line x1="177.30" y1="691.33" x2="181.70" y2="691.33" stroke="#000" stroke-width="1.3"/>
<text transform="translate(174.50,694.53) scale(1.180,1)" font-size="9" text-anchor="end">0.02</text>
<line x1="177.30" y1="653.60" x2="181.70" y2="653.60" stroke="#000" stroke-width="1.3"/>
<text transform="translate(174.50,656.80) scale(1.180,1)" font-size="9" text-anchor="end">0.03</text>
<text transform="translate(212.10,644.00)" font-size="11.5" text-anchor="middle">RS4;11</text>
<rect x="186.50" y="755.48" width="8.40" height="11.32" fill="#c8001e"/>
<line x1="190.70" y1="755.48" x2="190.70" y2="755.10" stroke="#c8001e" stroke-width="1.1"/>
<line x1="188.90" y1="755.10" x2="192.50" y2="755.10" stroke="#c8001e" stroke-width="1.1"/>
<rect x="196.80" y="706.43" width="8.40" height="60.37" fill="#0434a8"/>
<line x1="201.00" y1="706.43" x2="201.00" y2="698.88" stroke="#0434a8" stroke-width="1.1"/>
<line x1="199.20" y1="698.88" x2="202.80" y2="698.88" stroke="#0434a8" stroke-width="1.1"/>
<rect x="214.00" y="759.25" width="8.40" height="7.55" fill="#c8001e"/>
<line x1="218.20" y1="759.25" x2="218.20" y2="758.88" stroke="#c8001e" stroke-width="1.1"/>
<line x1="216.40" y1="758.88" x2="220.00" y2="758.88" stroke="#c8001e" stroke-width="1.1"/>
<rect x="224.20" y="732.84" width="8.40" height="33.96" fill="#0434a8"/>
<line x1="228.40" y1="732.84" x2="228.40" y2="731.33" stroke="#0434a8" stroke-width="1.1"/>
<line x1="226.60" y1="731.33" x2="230.20" y2="731.33" stroke="#0434a8" stroke-width="1.1"/>
<line x1="195.85" y1="766.80" x2="195.85" y2="770.40" stroke="#000" stroke-width="1.2"/>
<line x1="223.30" y1="766.80" x2="223.30" y2="770.40" stroke="#000" stroke-width="1.2"/>
<text transform="translate(201.25,778.00) rotate(-45) scale(1.0,1)" font-size="10.1" text-anchor="end">Scr</text>
<text transform="translate(228.70,778.00) rotate(-45) scale(1.0,1)" font-size="10.1" text-anchor="end">sh.959</text>
<line x1="279.10" y1="649.50" x2="279.10" y2="767.50" stroke="#000" stroke-width="1.4"/>
<line x1="278.40" y1="766.80" x2="336.80" y2="766.80" stroke="#000" stroke-width="1.4"/>
<line x1="274.70" y1="766.80" x2="279.10" y2="766.80" stroke="#000" stroke-width="1.3"/>
<text transform="translate(271.90,770.00) scale(1.180,1)" font-size="9" text-anchor="end">0.00</text>
<line x1="274.70" y1="737.62" x2="279.10" y2="737.62" stroke="#000" stroke-width="1.3"/>
<text transform="translate(271.90,740.83) scale(1.180,1)" font-size="9" text-anchor="end">0.01</text>
<line x1="274.70" y1="708.45" x2="279.10" y2="708.45" stroke="#000" stroke-width="1.3"/>
<text transform="translate(271.90,711.65) scale(1.180,1)" font-size="9" text-anchor="end">0.02</text>
<line x1="274.70" y1="679.27" x2="279.10" y2="679.27" stroke="#000" stroke-width="1.3"/>
<text transform="translate(271.90,682.48) scale(1.180,1)" font-size="9" text-anchor="end">0.03</text>
<line x1="274.70" y1="650.10" x2="279.10" y2="650.10" stroke="#000" stroke-width="1.3"/>
<text transform="translate(271.90,653.30) scale(1.180,1)" font-size="9" text-anchor="end">0.04</text>
<text transform="translate(311.40,644.00)" font-size="11.5" text-anchor="middle">TALL-1</text>
<rect x="285.00" y="726.83" width="8.40" height="39.97" fill="#c8001e"/>
<line x1="289.20" y1="726.83" x2="289.20" y2="724.20" stroke="#c8001e" stroke-width="1.1"/>
<line x1="287.40" y1="724.20" x2="291.00" y2="724.20" stroke="#c8001e" stroke-width="1.1"/>
<rect x="295.00" y="688.03" width="8.40" height="78.77" fill="#0434a8"/>
<line x1="299.20" y1="688.03" x2="299.20" y2="682.19" stroke="#0434a8" stroke-width="1.1"/>
<line x1="297.40" y1="682.19" x2="301.00" y2="682.19" stroke="#0434a8" stroke-width="1.1"/>
<rect x="313.30" y="756.01" width="8.40" height="10.79" fill="#c8001e"/>
<line x1="317.50" y1="756.01" x2="317.50" y2="755.42" stroke="#c8001e" stroke-width="1.1"/>
<line x1="315.70" y1="755.42" x2="319.30" y2="755.42" stroke="#c8001e" stroke-width="1.1"/>
<rect x="323.50" y="734.71" width="8.40" height="32.09" fill="#0434a8"/>
<line x1="327.70" y1="734.71" x2="327.70" y2="734.12" stroke="#0434a8" stroke-width="1.1"/>
<line x1="325.90" y1="734.12" x2="329.50" y2="734.12" stroke="#0434a8" stroke-width="1.1"/>
<line x1="294.20" y1="766.80" x2="294.20" y2="770.40" stroke="#000" stroke-width="1.2"/>
<line x1="322.60" y1="766.80" x2="322.60" y2="770.40" stroke="#000" stroke-width="1.2"/>
<text transform="translate(299.60,778.00) rotate(-45) scale(1.0,1)" font-size="10.1" text-anchor="end">Scr</text>
<text transform="translate(328.00,778.00) rotate(-45) scale(1.0,1)" font-size="10.1" text-anchor="end">sh.959</text>
<path d="M299.3 681.3 V674.5 H327.9 V734.0" stroke="#000" stroke-width="1.3" fill="none"/>
<text transform="translate(310.15,676.80) scale(0.950,1)" font-size="12">*</text>
<line x1="379.00" y1="650.00" x2="379.00" y2="767.50" stroke="#000" stroke-width="1.4"/>
<line x1="378.30" y1="766.80" x2="436.50" y2="766.80" stroke="#000" stroke-width="1.4"/>
<line x1="374.60" y1="766.80" x2="379.00" y2="766.80" stroke="#000" stroke-width="1.3"/>
<text transform="translate(371.80,770.00) scale(1.180,1)" font-size="9" text-anchor="end">0.00</text>
<line x1="374.60" y1="708.70" x2="379.00" y2="708.70" stroke="#000" stroke-width="1.3"/>
<text transform="translate(371.80,711.90) scale(1.180,1)" font-size="9" text-anchor="end">0.15</text>
<line x1="374.60" y1="650.60" x2="379.00" y2="650.60" stroke="#000" stroke-width="1.3"/>
<text transform="translate(371.80,653.80) scale(1.180,1)" font-size="9" text-anchor="end">0.30</text>
<text transform="translate(409.20,644.00)" font-size="11.5" text-anchor="middle">Jurkat</text>
<rect x="384.00" y="741.62" width="8.40" height="25.18" fill="#c8001e"/>
<line x1="388.20" y1="741.62" x2="388.20" y2="739.30" stroke="#c8001e" stroke-width="1.1"/>
<line x1="386.40" y1="739.30" x2="390.00" y2="739.30" stroke="#c8001e" stroke-width="1.1"/>
<rect x="393.80" y="693.21" width="8.40" height="73.59" fill="#0434a8"/>
<line x1="398.00" y1="693.21" x2="398.00" y2="688.95" stroke="#0434a8" stroke-width="1.1"/>
<line x1="396.20" y1="688.95" x2="399.80" y2="688.95" stroke="#0434a8" stroke-width="1.1"/>
<rect x="412.90" y="752.47" width="8.40" height="14.33" fill="#c8001e"/>
<line x1="417.10" y1="752.47" x2="417.10" y2="750.92" stroke="#c8001e" stroke-width="1.1"/>
<line x1="415.30" y1="750.92" x2="418.90" y2="750.92" stroke="#c8001e" stroke-width="1.1"/>
<rect x="422.50" y="723.03" width="8.40" height="43.77" fill="#0434a8"/>
<line x1="426.70" y1="723.03" x2="426.70" y2="722.26" stroke="#0434a8" stroke-width="1.1"/>
<line x1="424.90" y1="722.26" x2="428.50" y2="722.26" stroke="#0434a8" stroke-width="1.1"/>
<line x1="393.10" y1="766.80" x2="393.10" y2="770.40" stroke="#000" stroke-width="1.2"/>
<line x1="421.90" y1="766.80" x2="421.90" y2="770.40" stroke="#000" stroke-width="1.2"/>
<text transform="translate(398.50,778.00) rotate(-45) scale(1.0,1)" font-size="10.1" text-anchor="end">Scr</text>
<text transform="translate(427.30,778.00) rotate(-45) scale(1.0,1)" font-size="10.1" text-anchor="end">sh.959</text>
<path d="M398.6 683.2 V670.2 H427.0 V719.5" stroke="#000" stroke-width="1.3" fill="none"/>
<text transform="translate(407.50,672.70) scale(0.950,1)" font-size="12">**</text>
<text style="stroke-width:0.3px" transform="translate(48.4,747.0) rotate(-90)" font-size="11.2" textLength="70.8" lengthAdjust="spacingAndGlyphs">Cell migration (%)</text>
<rect x="435.40" y="687.20" width="13.20" height="9.00" fill="#c8001e"/>
<rect x="435.40" y="701.70" width="13.20" height="9.00" fill="#0434a8"/>
<text transform="translate(451.40,695.20) scale(0.960,1)" font-size="9.6">Without SDF-1</text>
<text transform="translate(452.30,709.70) scale(0.980,1)" font-size="9.6">With SDF-1</text>
<rect x="0" y="0" width="1.5" height="806" fill="#000"/><rect x="0" y="0" width="520" height="1.7" fill="#000"/><rect x="518.1" y="0" width="1.9" height="806" fill="#000"/><rect x="0" y="804.1" width="520" height="1.9" fill="#000"/>
</svg></body></html>
